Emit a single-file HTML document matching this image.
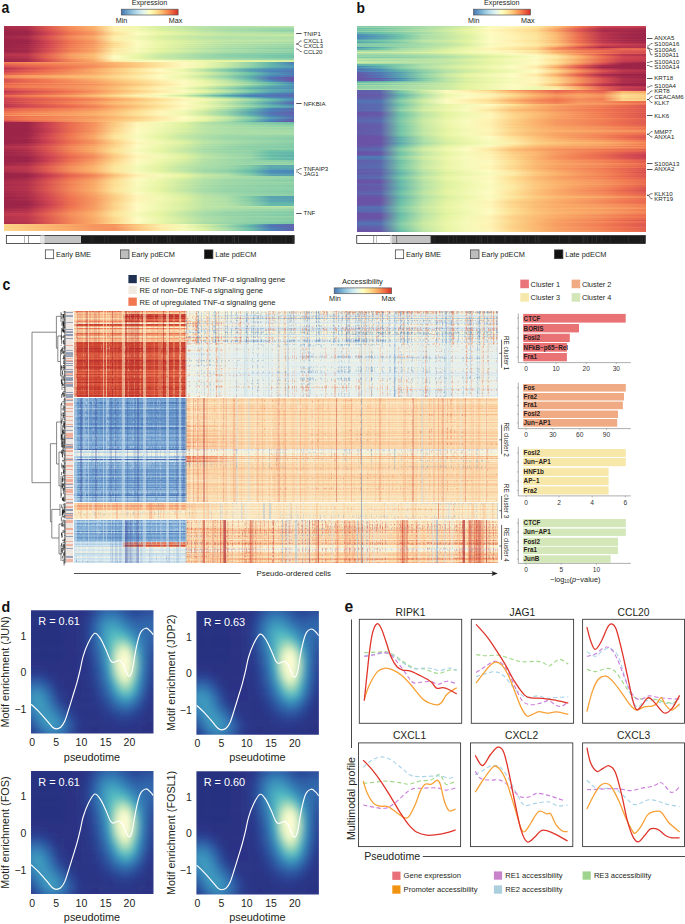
<!DOCTYPE html><html><head><meta charset="utf-8"><style>
html,body{margin:0;padding:0;background:#fff;width:685px;height:924px;overflow:hidden;position:relative}
svg{position:absolute;left:0;top:0;display:block;font-family:"Liberation Sans",sans-serif}
i{position:absolute;display:block}
.cr{left:73.6px;width:424px;height:1px}
</style></head><body>
<div style="position:absolute;left:0;top:0;width:685px;height:260px;filter:blur(0.35px)"><i style="left:4px;top:26px;width:290px;height:1px;background:linear-gradient(90deg,#aa2d4b 0%,#b2314c 8%,#de5a51 15%,#f5915d 23%,#fbb46d 31%,#fef1b1 38%,#eff7af 46%,#d4eea2 54%,#c2e7a5 62%,#bae3a6 69%,#b4e1a7 77%,#b7e2a6 85%,#bae4a6 92%,#bde5a6 100%)"></i><i style="left:4px;top:27px;width:290px;height:1px;background:linear-gradient(90deg,#a82c4b 0%,#b0304c 8%,#dd5951 15%,#f58f5c 23%,#fbb26c 31%,#fef1b1 38%,#f0f8b0 46%,#d5eea2 54%,#c3e7a5 62%,#b7e2a6 69%,#aedfa8 77%,#addfa8 85%,#addea8 92%,#acdea8 100%)"></i><i style="left:4px;top:28px;width:290px;height:1px;background:linear-gradient(90deg,#a4294a 0%,#ac2e4b 8%,#db5551 15%,#f48b5a 23%,#faae6a 31%,#feefad 38%,#f2f8b3 46%,#d9f0a2 54%,#c7e8a4 62%,#b6e2a7 69%,#a9dca8 77%,#a3daa8 85%,#9dd7a8 92%,#98d5a8 100%)"></i><i style="left:4px;top:29px;width:290px;height:1px;background:linear-gradient(90deg,#a12849 0%,#a92c4b 8%,#db5451 15%,#f48959 23%,#faac69 31%,#fef2b2 38%,#f1f8b2 46%,#d8efa2 54%,#c8e9a4 62%,#b6e2a7 69%,#aadda8 77%,#a4daa8 85%,#9ed8a8 92%,#98d5a8 100%)"></i><i style="left:4px;top:30px;width:290px;height:1px;background:linear-gradient(90deg,#9d2548 0%,#a52a4a 8%,#d74f51 15%,#f38357 23%,#f9a667 31%,#fdeeac 38%,#f4f9b6 46%,#def2a1 54%,#cdeba3 62%,#b8e3a6 69%,#a8dca8 77%,#9ed8a8 85%,#95d3a8 92%,#8bcfa8 100%)"></i><i style="left:4px;top:31px;width:290px;height:1px;background:linear-gradient(90deg,#9b2448 0%,#9e2649 8%,#d34952 15%,#f17b53 23%,#f79e63 31%,#fdeba6 38%,#f7fabb 46%,#e4f4a1 54%,#d4eea2 62%,#c0e6a5 69%,#b1e0a7 77%,#a9dda8 85%,#9fd8a8 92%,#96d4a8 100%)"></i><i style="left:4px;top:32px;width:290px;height:1px;background:linear-gradient(90deg,#9b2448 0%,#9d2548 8%,#d14652 15%,#f17952 23%,#f79b62 31%,#fde69f 38%,#f9fbbe 46%,#e7f5a4 54%,#d7efa2 62%,#c7e8a4 69%,#b9e3a6 77%,#b5e1a7 85%,#b0e0a7 92%,#abdea8 100%)"></i><i style="left:4px;top:33px;width:290px;height:1px;background:linear-gradient(90deg,#9b2448 0%,#9b2448 8%,#cb4051 15%,#ee7150 23%,#f5935e 31%,#fddf93 38%,#fefcc4 46%,#ebf6aa 54%,#dff2a1 62%,#ceeba3 69%,#c0e6a5 77%,#bbe4a6 85%,#b6e2a7 92%,#b1e0a7 100%)"></i><i style="left:4px;top:34px;width:290px;height:1px;background:linear-gradient(90deg,#9b2448 0%,#9e2649 8%,#d04652 15%,#f17952 23%,#f79b62 31%,#fde39a 38%,#fafbbf 46%,#e8f5a5 54%,#d8efa2 62%,#cbeaa4 69%,#c0e6a5 77%,#bee5a5 85%,#bce4a6 92%,#bbe4a6 100%)"></i><i style="left:4px;top:35px;width:290px;height:1px;background:linear-gradient(90deg,#9b2448 0%,#a3294a 8%,#d44b52 15%,#f27f55 23%,#f8a164 31%,#fde7a0 38%,#f7fabb 46%,#e5f4a1 54%,#d3eda2 62%,#c9e9a4 69%,#c2e7a5 77%,#c3e7a5 85%,#c5e8a4 92%,#c7e9a4 100%)"></i><i style="left:4px;top:36px;width:290px;height:1px;background:linear-gradient(90deg,#a4294a 0%,#ac2e4b 8%,#db5551 15%,#f48a5a 23%,#faad6a 31%,#feefad 38%,#f2f8b3 46%,#d9f0a2 54%,#c8e9a4 62%,#bde5a6 69%,#b5e2a7 77%,#b6e2a7 85%,#b6e2a7 92%,#b7e2a6 100%)"></i><i style="left:4px;top:37px;width:290px;height:1px;background:linear-gradient(90deg,#a22849 0%,#aa2d4b 8%,#da5351 15%,#f48859 23%,#faab69 31%,#feeeac 38%,#f3f8b4 46%,#dbf0a1 54%,#caeaa4 62%,#bde5a6 69%,#b4e1a7 77%,#b4e1a7 85%,#b3e1a7 92%,#b2e1a7 100%)"></i><i style="left:4px;top:38px;width:290px;height:1px;background:linear-gradient(90deg,#a02749 0%,#a82b4a 8%,#d85151 15%,#f38558 23%,#f9a868 31%,#fdedaa 38%,#f4f9b6 46%,#ddf1a1 54%,#cceba3 62%,#bee5a5 69%,#b4e1a7 77%,#b2e1a7 85%,#b1e0a7 92%,#afdfa8 100%)"></i><i style="left:4px;top:39px;width:290px;height:1px;background:linear-gradient(90deg,#9b2448 0%,#a32849 8%,#d64e52 15%,#f28156 23%,#f8a466 31%,#fdeeab 38%,#f5f9b7 46%,#e0f2a1 54%,#d0eca3 62%,#c2e7a5 69%,#b9e3a6 77%,#b7e2a6 85%,#b5e2a7 92%,#b3e1a7 100%)"></i><i style="left:4px;top:40px;width:290px;height:1px;background:linear-gradient(90deg,#9b2448 0%,#9d2548 8%,#d24852 15%,#f17a53 23%,#f79d63 31%,#fdeba7 38%,#f8fabb 46%,#e5f4a1 54%,#d6efa2 62%,#c9e9a4 69%,#c1e6a5 77%,#bfe6a5 85%,#bee5a5 92%,#bce4a6 100%)"></i><i style="left:4px;top:41px;width:290px;height:1px;background:linear-gradient(90deg,#9b2448 0%,#9b2448 8%,#ce4352 15%,#f07450 23%,#f69760 31%,#fde49b 38%,#fbfbc0 46%,#e9f5a6 54%,#dbf1a1 62%,#cceba3 69%,#c0e6a5 77%,#bde4a6 85%,#b9e3a6 92%,#b6e2a7 100%)"></i><i style="left:4px;top:42px;width:290px;height:1px;background:linear-gradient(90deg,#9b2448 0%,#9f2749 8%,#d14652 15%,#f17952 23%,#f79c62 31%,#fde298 38%,#fafbbf 46%,#e8f5a5 54%,#d7efa2 62%,#c6e8a4 69%,#b6e2a7 77%,#b0e0a7 85%,#abdda8 92%,#a4daa8 100%)"></i><i style="left:4px;top:43px;width:290px;height:1px;background:linear-gradient(90deg,#9b2448 0%,#9b2448 8%,#c93f51 15%,#ee7150 23%,#f5925e 31%,#fdd58b 38%,#fefac1 46%,#edf7ad 54%,#e0f2a1 62%,#d0eca3 69%,#c1e6a5 77%,#bce4a6 85%,#b7e2a6 92%,#b3e1a7 100%)"></i><i style="left:4px;top:44px;width:290px;height:1px;background:linear-gradient(90deg,#9e2649 0%,#a62a4a 8%,#d34a52 15%,#f27f55 23%,#f8a164 31%,#fde095 38%,#f9fbbd 46%,#e7f5a4 54%,#d2eda3 62%,#c1e6a5 69%,#afdfa8 77%,#a7dca8 85%,#9fd8a8 92%,#98d5a8 100%)"></i><i style="left:4px;top:45px;width:290px;height:1px;background:linear-gradient(90deg,#9b2448 0%,#a02749 8%,#cf4452 15%,#f17952 23%,#f79a61 31%,#fddb8f 38%,#fcfbc2 46%,#eaf6a9 54%,#d8efa2 62%,#c8e9a4 69%,#b7e2a6 77%,#b0dfa7 85%,#a9dda8 92%,#a2d9a8 100%)"></i><i style="left:4px;top:46px;width:290px;height:1px;background:linear-gradient(90deg,#9d2548 0%,#a4294a 8%,#d34952 15%,#f27e55 23%,#f8a064 31%,#fde297 38%,#f9fbbd 46%,#e7f5a4 54%,#d2eda3 62%,#c0e6a5 69%,#aedfa8 77%,#a5dba8 85%,#9cd7a8 92%,#94d3a8 100%)"></i><i style="left:4px;top:47px;width:290px;height:1px;background:linear-gradient(90deg,#9b2448 0%,#a22849 8%,#d14652 15%,#f17b53 23%,#f79d62 31%,#fddf93 38%,#fbfbbf 46%,#e9f5a6 54%,#d5eea2 62%,#c3e7a5 69%,#b1e0a7 77%,#a9dda8 85%,#a0d9a8 92%,#98d5a8 100%)"></i><i style="left:4px;top:48px;width:290px;height:1px;background:linear-gradient(90deg,#a02749 0%,#a82c4b 8%,#d75051 15%,#f38558 23%,#f9a767 31%,#fde9a4 38%,#f5f9b8 46%,#e1f3a0 54%,#cbeaa4 62%,#b7e2a6 69%,#a3daa8 77%,#99d5a8 85%,#8ed1a8 92%,#84cca8 100%)"></i><i style="left:4px;top:49px;width:290px;height:1px;background:linear-gradient(90deg,#9d2548 0%,#a52a4a 8%,#d64d52 15%,#f28256 23%,#f9a466 31%,#fde9a4 38%,#f6fab9 46%,#e3f3a0 54%,#cfeca3 62%,#bde5a6 69%,#addfa8 77%,#a6dba8 85%,#9ed8a8 92%,#97d4a8 100%)"></i><i style="left:4px;top:50px;width:290px;height:1px;background:linear-gradient(90deg,#9b2448 0%,#a12849 8%,#d34a52 15%,#f27d54 23%,#f8a064 31%,#fde7a0 38%,#f8fabb 46%,#e5f4a2 54%,#d3eda2 62%,#bfe6a5 69%,#afdfa8 77%,#a6dba8 85%,#9dd7a8 92%,#94d3a8 100%)"></i><i style="left:4px;top:51px;width:290px;height:1px;background:linear-gradient(90deg,#9c2548 0%,#a4294a 8%,#d64d52 15%,#f28156 23%,#f8a466 31%,#fdeaa5 38%,#f6f9b9 46%,#e2f3a0 54%,#cfeca3 62%,#bbe4a6 69%,#aadda8 77%,#a0d8a8 85%,#96d4a8 92%,#8ccfa8 100%)"></i><i style="left:4px;top:52px;width:290px;height:1px;background:linear-gradient(90deg,#a3294a 0%,#ab2d4b 8%,#da5451 15%,#f48a5a 23%,#faac69 31%,#feeead 38%,#f2f8b4 46%,#daf0a1 54%,#c8e9a4 62%,#b6e2a7 69%,#a7dca8 77%,#a1d9a8 85%,#9ad6a8 92%,#93d3a8 100%)"></i><i style="left:4px;top:53px;width:290px;height:1px;background:linear-gradient(90deg,#b0304c 0%,#b7354e 8%,#e15d51 15%,#f69760 23%,#fbb770 31%,#feefae 38%,#eef7ae 46%,#d2eda3 54%,#bce4a6 62%,#a8dca8 69%,#93d3a8 77%,#8acea8 85%,#80caa8 92%,#77c6a8 100%)"></i><i style="left:4px;top:54px;width:290px;height:1px;background:linear-gradient(90deg,#b7344d 0%,#bf394f 8%,#e56351 15%,#f89e63 23%,#fbbd75 31%,#fef1b1 38%,#ebf6aa 46%,#cdeba3 54%,#b6e2a7 62%,#a5dba8 69%,#92d2a8 77%,#8ccfa8 85%,#86cda8 92%,#80caa8 100%)"></i><i style="left:4px;top:55px;width:290px;height:1px;background:linear-gradient(90deg,#b6344d 0%,#bd384f 8%,#e66651 15%,#f8a064 23%,#fcbe77 31%,#fef8bc 38%,#e9f6a7 46%,#c7e9a4 54%,#b3e1a7 62%,#9ed8a8 69%,#8bcfa8 77%,#81cba8 85%,#78c7a8 92%,#6fc2a8 100%)"></i><i style="left:4px;top:56px;width:290px;height:1px;background:linear-gradient(90deg,#af304c 0%,#b8354e 8%,#e56351 15%,#f79b61 23%,#fbbb74 31%,#fefbc2 38%,#eaf6a8 46%,#c7e9a4 54%,#b7e2a6 62%,#a1d9a8 69%,#90d1a8 77%,#87cda8 85%,#7dc9a8 92%,#74c4a8 100%)"></i><i style="left:4px;top:57px;width:290px;height:1px;background:linear-gradient(90deg,#af304c 0%,#b7354e 8%,#e76651 15%,#f79d63 23%,#fcbe76 31%,#fafbbe 38%,#e6f5a3 46%,#c5e8a4 54%,#b4e1a7 62%,#9cd7a8 69%,#8fd1a8 77%,#86cda8 85%,#7dc8a8 92%,#73c4a8 100%)"></i><i style="left:4px;top:58px;width:290px;height:1px;background:linear-gradient(90deg,#a82c4b 0%,#b1314c 8%,#e25f51 15%,#f6955f 23%,#fbb771 31%,#fefcc4 38%,#eaf6a9 46%,#cceba3 54%,#bce4a6 62%,#a8dca8 69%,#9dd7a8 77%,#96d4a8 85%,#8ed1a8 92%,#87cda8 100%)"></i><i style="left:4px;top:59px;width:290px;height:1px;background:linear-gradient(90deg,#a12749 0%,#a92c4b 8%,#db5651 15%,#f4895a 23%,#faad6a 31%,#fef4b7 38%,#f0f8b1 46%,#d7efa2 54%,#c7e9a4 62%,#b4e1a7 69%,#a8dca8 77%,#a1d9a8 85%,#9ad6a8 92%,#93d3a8 100%)"></i><i style="left:4px;top:60px;width:290px;height:1px;background:linear-gradient(90deg,#a22849 0%,#a92c4b 8%,#d95351 15%,#f48859 23%,#faab69 31%,#feeead 38%,#f3f8b4 46%,#fafbbe 54%,#f1f8b3 62%,#e9f6a8 69%,#e2f3a0 77%,#ddf1a1 85%,#d7efa2 92%,#d2eda3 100%)"></i><i style="left:4px;top:61px;width:290px;height:1px;background:linear-gradient(90deg,#9e2649 0%,#a52a4a 8%,#d54c52 15%,#f28156 23%,#f8a365 31%,#fde7a0 38%,#f7faba 46%,#fefcc4 54%,#f5f9b7 62%,#edf7ad 69%,#e7f5a4 77%,#e5f4a1 85%,#e1f3a0 92%,#ddf1a1 100%)"></i><i style="left:4px;top:62px;width:290px;height:1px;background:linear-gradient(90deg,#f38357 0%,#f5905d 8%,#f6935e 15%,#f79b62 23%,#f8a365 31%,#fbb871 38%,#fccf85 46%,#fde8a2 54%,#fefac1 62%,#eef7ad 69%,#c8e9a4 77%,#95d3a8 85%,#64b6ab 92%,#4e7cb6 100%)"></i><i style="left:4px;top:63px;width:290px;height:1px;background:linear-gradient(90deg,#ed6f50 0%,#f27e54 8%,#f38457 15%,#f58f5c 23%,#f79a61 31%,#fbb36d 38%,#fccb82 46%,#fde69f 54%,#fef9bf 62%,#eef7ae 69%,#c8e9a4 77%,#94d3a8 85%,#64b6ab 92%,#4a83b9 100%)"></i><i style="left:4px;top:64px;width:290px;height:1px;background:linear-gradient(90deg,#e56351 0%,#ef7250 8%,#f17b53 15%,#f48959 23%,#f69660 31%,#fbb26c 38%,#fccb82 46%,#fde69f 54%,#fef9bf 62%,#edf7ad 69%,#c7e9a4 77%,#94d3a8 85%,#65b7ab 92%,#4b8bb8 100%)"></i><i style="left:4px;top:65px;width:290px;height:1px;background:linear-gradient(90deg,#de5a51 0%,#e96a50 8%,#f07350 15%,#f38357 23%,#f5925e 31%,#faaf6b 38%,#fcc980 46%,#fde59d 54%,#fef8bd 62%,#eef7ae 69%,#c8e9a4 77%,#95d3a8 85%,#65b7ab 92%,#4c8db8 100%)"></i><i style="left:4px;top:66px;width:290px;height:1px;background:linear-gradient(90deg,#d64e52 0%,#e26051 8%,#e96a50 15%,#f17952 23%,#f48b5a 31%,#faaa68 38%,#fcc77f 46%,#fde59c 54%,#fef8bd 62%,#edf7ad 69%,#c7e9a4 77%,#94d3a8 85%,#66b9aa 92%,#569eb2 100%)"></i><i style="left:4px;top:67px;width:290px;height:1px;background:linear-gradient(90deg,#ce4252 0%,#dd5851 8%,#e86850 15%,#f17c54 23%,#f6955f 31%,#fbb56f 38%,#fcd288 46%,#fdeba8 54%,#fbfbc0 62%,#e6f5a3 69%,#b7e2a6 77%,#82cba8 85%,#5eabae 92%,#5297b5 100%)"></i><i style="left:4px;top:68px;width:290px;height:1px;background:linear-gradient(90deg,#b7354e 0%,#d34952 8%,#e25f51 15%,#f17a53 23%,#f79d62 31%,#fcc078 38%,#fdde93 46%,#fef3b5 54%,#f3f9b5 62%,#d1eda3 69%,#9cd7a8 77%,#66baaa 85%,#5398b4 92%,#4987ba 100%)"></i><i style="left:4px;top:69px;width:290px;height:1px;background:linear-gradient(90deg,#c63d50 0%,#dc5651 8%,#ea6b50 15%,#f38759 23%,#faab69 31%,#fcca81 38%,#fde8a1 46%,#fdfcc3 54%,#e8f5a6 62%,#b7e2a6 69%,#7bc8a8 77%,#569db3 85%,#4c8db8 92%,#4b81b8 100%)"></i><i style="left:4px;top:70px;width:290px;height:1px;background:linear-gradient(90deg,#d04452 0%,#e15d51 8%,#ed6f50 15%,#f48959 23%,#f9a867 31%,#fcc67d 38%,#fde49b 46%,#fef9bf 54%,#ecf7ac 62%,#bee5a5 69%,#82cba8 77%,#58a1b2 85%,#4988b9 92%,#507ab5 100%)"></i><i style="left:4px;top:71px;width:290px;height:1px;background:linear-gradient(90deg,#cc4152 0%,#df5b51 8%,#ed6f50 15%,#f48b5b 23%,#faac69 31%,#fcca81 38%,#fde69e 46%,#fefac1 54%,#edf7ac 62%,#c1e6a5 69%,#85cca8 77%,#5aa4b1 85%,#4a83b9 92%,#5473b3 100%)"></i><i style="left:4px;top:72px;width:290px;height:1px;background:linear-gradient(90deg,#d75051 0%,#e76751 8%,#f17751 15%,#f58f5c 23%,#f9a868 31%,#fcc47c 38%,#fde095 46%,#fef4b6 54%,#f3f9b5 62%,#d6eea2 69%,#a2d9a8 77%,#69bfa8 85%,#4f92b6 92%,#4f7cb6 100%)"></i><i style="left:4px;top:73px;width:290px;height:1px;background:linear-gradient(90deg,#e15e51 0%,#ef7250 8%,#f28156 15%,#f6965f 23%,#faaa69 31%,#fcc47c 38%,#fddf93 46%,#fef2b4 54%,#f5f9b8 62%,#dcf1a1 69%,#aadda8 77%,#71c3a8 85%,#5298b4 92%,#5276b4 100%)"></i><i style="left:4px;top:74px;width:290px;height:1px;background:linear-gradient(90deg,#e36051 0%,#f07651 8%,#f38658 15%,#f79c62 23%,#fbb26c 31%,#fccb82 38%,#fde49b 46%,#fef8bd 54%,#f0f8b1 62%,#d2eda3 69%,#a2d9a8 77%,#6cc1a8 85%,#5398b4 92%,#4984b9 100%)"></i><i style="left:4px;top:75px;width:290px;height:1px;background:linear-gradient(90deg,#f38759 0%,#f79961 8%,#f8a265 15%,#fbb06b 23%,#fbbc74 31%,#fcd187 38%,#fde8a2 46%,#fefcc3 54%,#edf7ac 62%,#caeaa4 69%,#95d4a8 77%,#64b5ab 85%,#4a8ab9 92%,#5474b3 100%)"></i><i style="left:4px;top:76px;width:290px;height:1px;background:linear-gradient(90deg,#f48d5b 0%,#f8a064 8%,#faaa68 15%,#fbb770 23%,#fcc27a 31%,#fdd88d 38%,#fdeca9 46%,#fafbbf 54%,#e9f5a6 62%,#c2e6a5 69%,#8dd0a8 77%,#60afad 85%,#4985ba 92%,#5572b2 100%)"></i><i style="left:4px;top:77px;width:290px;height:1px;background:linear-gradient(90deg,#f38658 0%,#f79961 8%,#f8a365 15%,#fbb26c 23%,#fcbe76 31%,#fcd489 38%,#fde9a4 46%,#fdfcc3 54%,#ebf6aa 62%,#c8e9a4 69%,#94d3a8 77%,#5da9af 85%,#596cb0 92%,#6a52a6 100%)"></i><i style="left:4px;top:78px;width:290px;height:1px;background:linear-gradient(90deg,#e86950 0%,#f27f55 8%,#f58f5c 15%,#f8a365 23%,#fbb66f 31%,#fcce84 38%,#fde59d 46%,#fef8be 54%,#f0f8b0 62%,#d3eda2 69%,#a1d9a8 77%,#63b4ac 85%,#5375b3 92%,#6a52a6 100%)"></i><i style="left:4px;top:79px;width:290px;height:1px;background:linear-gradient(90deg,#db5651 0%,#eb6d50 8%,#f27e54 15%,#f6965f 23%,#faad6a 31%,#fcc77e 38%,#fde195 46%,#fef4b6 54%,#f4f9b6 62%,#dcf1a1 69%,#abdea8 77%,#67bba9 85%,#507ab5 92%,#6a52a6 100%)"></i><i style="left:4px;top:80px;width:290px;height:1px;background:linear-gradient(90deg,#da5451 0%,#e96a50 8%,#f17b53 15%,#f5915d 23%,#f9a868 31%,#fcc27a 38%,#fdda8e 46%,#feefad 54%,#f9fbbd 62%,#e7f5a4 69%,#bae3a6 77%,#76c5a8 85%,#4987ba 92%,#6a52a6 100%)"></i><i style="left:4px;top:81px;width:290px;height:1px;background:linear-gradient(90deg,#da5351 0%,#e86850 8%,#f07651 15%,#f48a5a 23%,#f89f64 31%,#fbbb73 38%,#fcd389 46%,#fdeba7 54%,#fdfcc2 62%,#ebf6a9 69%,#c3e7a5 77%,#82cba8 85%,#5093b6 92%,#615fab 100%)"></i><i style="left:4px;top:82px;width:290px;height:1px;background:linear-gradient(90deg,#dd5951 0%,#ea6c50 8%,#f17852 15%,#f48b5a 23%,#f79e63 31%,#fbb972 38%,#fcd288 46%,#fdeaa6 54%,#fdfcc3 62%,#ebf6aa 69%,#c5e8a4 77%,#94d3a8 85%,#66baaa 92%,#4d8eb7 100%)"></i><i style="left:4px;top:83px;width:290px;height:1px;background:linear-gradient(90deg,#f07450 0%,#f38457 8%,#f48a5a 15%,#f6945f 23%,#f89f64 31%,#fbb670 38%,#fccf85 46%,#fde8a2 54%,#fefbc2 62%,#edf7ac 69%,#c7e9a4 77%,#95d3a8 85%,#65b8ab 92%,#4885ba 100%)"></i><i style="left:4px;top:84px;width:290px;height:1px;background:linear-gradient(90deg,#e36051 0%,#ec6e50 8%,#f07550 15%,#f28256 23%,#f58e5c 31%,#f9a968 38%,#fcc47c 46%,#fde298 54%,#fef5b8 62%,#f2f8b4 69%,#d4eea2 77%,#a6dba8 85%,#74c4a8 92%,#579fb2 100%)"></i><i style="left:4px;top:85px;width:290px;height:1px;background:linear-gradient(90deg,#f07450 0%,#f28256 8%,#f38759 15%,#f5915d 23%,#f79b62 31%,#fbb46e 38%,#fccf85 46%,#fde9a4 54%,#fefcc4 62%,#eaf6a9 69%,#c1e6a5 77%,#8ed0a8 85%,#63b4ac 92%,#5093b6 100%)"></i><i style="left:4px;top:86px;width:290px;height:1px;background:linear-gradient(90deg,#ec6e50 0%,#f27d54 8%,#f38457 15%,#f5905d 23%,#f79e63 31%,#fbb871 38%,#fdd58b 46%,#fdeeab 54%,#f9fbbd 62%,#e1f3a0 69%,#afdfa8 77%,#77c6a8 85%,#59a4b1 92%,#4e91b7 100%)"></i><i style="left:4px;top:87px;width:290px;height:1px;background:linear-gradient(90deg,#ed6f50 0%,#f27f55 8%,#f38758 15%,#f5935e 23%,#f8a365 31%,#fbbc75 38%,#fddc91 46%,#fef2b3 54%,#f4f9b6 62%,#d3eda2 69%,#9ed8a8 77%,#68bda9 85%,#58a1b2 92%,#4f93b6 100%)"></i><i style="left:4px;top:88px;width:290px;height:1px;background:linear-gradient(90deg,#db5651 0%,#e96950 8%,#f07651 15%,#f48a5a 23%,#f8a265 31%,#fcbf78 38%,#fde095 46%,#fef5b8 54%,#f0f8b1 62%,#c9e9a4 69%,#90d1a8 77%,#61b0ad 85%,#539ab4 92%,#4b8cb8 100%)"></i><i style="left:4px;top:89px;width:290px;height:1px;background:linear-gradient(90deg,#da5351 0%,#e76751 8%,#f07350 15%,#f38759 23%,#f89f63 31%,#fbbc75 38%,#fddc91 46%,#fef2b3 54%,#f4f9b7 62%,#d6efa2 69%,#a5dba8 77%,#71c3a8 85%,#5fadae 92%,#58a1b2 100%)"></i><i style="left:4px;top:90px;width:290px;height:1px;background:linear-gradient(90deg,#d14752 0%,#df5b51 8%,#e86950 15%,#f17c53 23%,#f6935e 31%,#fbb46e 38%,#fcd288 46%,#fdeca8 54%,#fbfbbf 62%,#e4f4a0 69%,#b2e0a7 77%,#7bc8a8 85%,#5eabaf 92%,#549ab4 100%)"></i><i style="left:4px;top:91px;width:290px;height:1px;background:linear-gradient(90deg,#bf394f 0%,#d54d52 8%,#e25f51 15%,#f07450 23%,#f5915d 31%,#fbb46e 38%,#fcd187 46%,#fdeba6 54%,#fcfbc1 62%,#e6f5a3 69%,#b7e2a6 77%,#81caa8 85%,#5daaaf 92%,#5195b5 100%)"></i><i style="left:4px;top:92px;width:290px;height:1px;background:linear-gradient(90deg,#c33b50 0%,#d75051 8%,#e36151 15%,#f07751 23%,#f6935e 31%,#fbb66f 38%,#fcd48a 46%,#fdedab 54%,#f9fbbd 62%,#dff2a1 69%,#abdda8 77%,#71c3a8 85%,#58a2b1 92%,#4e90b7 100%)"></i><i style="left:4px;top:93px;width:290px;height:1px;background:linear-gradient(90deg,#d04452 0%,#e05d51 8%,#ec6e50 15%,#f38758 23%,#f9a566 31%,#fcc37b 38%,#fde298 46%,#fef7bb 54%,#eff7af 62%,#c2e7a5 69%,#84cca8 77%,#58a1b2 85%,#4b82b8 92%,#5671b2 100%)"></i><i style="left:4px;top:94px;width:290px;height:1px;background:linear-gradient(90deg,#d14652 0%,#e15e51 8%,#ed7050 15%,#f4895a 23%,#f9a968 31%,#fcc77e 38%,#fde69e 46%,#fefbc2 54%,#e9f6a7 62%,#b5e2a7 69%,#74c5a8 77%,#5093b6 85%,#4b81b8 92%,#5572b2 100%)"></i><i style="left:4px;top:95px;width:290px;height:1px;background:linear-gradient(90deg,#e86850 0%,#f27e54 8%,#f58f5c 15%,#f9a466 23%,#fcbe76 31%,#fddb90 38%,#fef3b5 46%,#f1f8b2 54%,#caeaa4 62%,#88cea8 69%,#579fb2 77%,#4d7eb7 85%,#5572b2 92%,#5d66ae 100%)"></i><i style="left:4px;top:96px;width:290px;height:1px;background:linear-gradient(90deg,#e26051 0%,#f07550 8%,#f38758 15%,#f79c62 23%,#fbb770 31%,#fcd187 38%,#fdeca9 46%,#f9fabd 54%,#e0f2a1 62%,#a4daa8 69%,#66b9aa 77%,#4887ba 85%,#5079b5 92%,#596cb0 100%)"></i><i style="left:4px;top:97px;width:290px;height:1px;background:linear-gradient(90deg,#d95351 0%,#e76751 8%,#f07450 15%,#f48859 23%,#f89f63 31%,#fbbd75 38%,#fddb90 46%,#fef1b2 54%,#f5f9b7 62%,#d1eda3 69%,#97d5a8 77%,#62b2ac 85%,#4b8bb8 92%,#5178b5 100%)"></i><i style="left:4px;top:98px;width:290px;height:1px;background:linear-gradient(90deg,#d04452 0%,#de5951 8%,#e76651 15%,#f17852 23%,#f58e5c 31%,#faaf6b 38%,#fccc82 46%,#fde7a0 54%,#fefbc2 62%,#e9f6a7 69%,#bbe4a6 77%,#83cba8 85%,#5ba6b0 92%,#4a8ab9 100%)"></i><i style="left:4px;top:99px;width:290px;height:1px;background:linear-gradient(90deg,#cf4352 0%,#dc5651 8%,#e46251 15%,#ef7250 23%,#f38558 31%,#f8a365 38%,#fcc078 46%,#fddf93 54%,#fef2b3 62%,#f4f9b6 69%,#d4eea2 77%,#a3daa8 85%,#6dc1a8 92%,#4f91b6 100%)"></i><i style="left:4px;top:100px;width:290px;height:1px;background:linear-gradient(90deg,#cb4051 0%,#db5551 8%,#e46251 15%,#ef7350 23%,#f48859 31%,#f9a767 38%,#fcc27a 46%,#fde195 54%,#fef4b6 62%,#f2f8b4 69%,#d1eca3 77%,#9dd7a8 85%,#68bda9 92%,#4b8bb9 100%)"></i><i style="left:4px;top:101px;width:290px;height:1px;background:linear-gradient(90deg,#d24752 0%,#e15e51 8%,#eb6c50 15%,#f28156 23%,#f69860 31%,#fbb66f 38%,#fcce84 46%,#fde7a1 54%,#fefac1 62%,#ecf6ab 69%,#c2e7a5 77%,#8ccfa8 85%,#5fadae 92%,#5277b4 100%)"></i><i style="left:4px;top:102px;width:290px;height:1px;background:linear-gradient(90deg,#c43c50 0%,#d95351 8%,#e66651 15%,#f27e55 23%,#f79a61 31%,#fbb972 38%,#fcd086 46%,#fde9a3 54%,#fefcc4 62%,#eaf6a9 69%,#bde5a6 77%,#84cca8 85%,#59a4b1 92%,#5a6aaf 100%)"></i><i style="left:4px;top:103px;width:290px;height:1px;background:linear-gradient(90deg,#ce4252 0%,#df5b51 8%,#eb6d50 15%,#f38457 23%,#f79e63 31%,#fbbc74 38%,#fcd489 46%,#fdeba7 54%,#fcfbc1 62%,#e7f5a5 69%,#b6e2a7 77%,#7ac7a8 85%,#549bb4 92%,#5e65ad 100%)"></i><i style="left:4px;top:104px;width:290px;height:1px;background:linear-gradient(90deg,#bb374e 0%,#d44a52 8%,#e15d51 15%,#f07450 23%,#f5905d 31%,#fbb36d 38%,#fccc82 46%,#fde79f 54%,#fefac0 62%,#ecf6ab 69%,#c1e6a5 77%,#89cea8 85%,#5daaaf 92%,#4f7bb6 100%)"></i><i style="left:4px;top:105px;width:290px;height:1px;background:linear-gradient(90deg,#c03a4f 0%,#d54c52 8%,#e05d51 15%,#ee7150 23%,#f4895a 31%,#faac69 38%,#fcc87f 46%,#fde59c 54%,#fef8bd 62%,#edf7ad 69%,#c4e8a5 77%,#8fd1a8 85%,#61b1ad 92%,#4b8cb8 100%)"></i><i style="left:4px;top:106px;width:290px;height:1px;background:linear-gradient(90deg,#b8354e 0%,#cf4452 8%,#da5451 15%,#e76751 23%,#f27d54 31%,#f89f64 38%,#fcbf77 46%,#fddf93 54%,#fef3b4 62%,#f2f8b3 69%,#cfeca3 77%,#9dd7a8 85%,#69bea8 92%,#569eb2 100%)"></i><i style="left:4px;top:107px;width:290px;height:1px;background:linear-gradient(90deg,#ce4252 0%,#db5551 8%,#e36151 15%,#ee7150 23%,#f38759 31%,#f9a867 38%,#fcc87f 46%,#fde69e 54%,#fefac0 62%,#e8f5a6 69%,#b8e3a6 77%,#7fcaa8 85%,#5eabaf 92%,#5296b5 100%)"></i><i style="left:4px;top:108px;width:290px;height:1px;background:linear-gradient(90deg,#db5551 0%,#e66651 8%,#ed6f50 15%,#f27e54 23%,#f5905d 31%,#faae6a 38%,#fccd83 46%,#fde8a2 54%,#fefcc4 62%,#e7f5a4 69%,#b6e2a7 77%,#70c3a8 85%,#4887ba 92%,#586eb1 100%)"></i><i style="left:4px;top:109px;width:290px;height:1px;background:linear-gradient(90deg,#e56451 0%,#ef7250 8%,#f17a53 15%,#f38859 23%,#f69860 31%,#fbb56e 38%,#fcd48a 46%,#fdedab 54%,#f9fabc 62%,#daf0a1 69%,#a4daa8 77%,#62b3ac 85%,#4c7fb7 92%,#5b69af 100%)"></i><i style="left:4px;top:110px;width:290px;height:1px;background:linear-gradient(90deg,#e36151 0%,#ee7050 8%,#f17b53 15%,#f48a5a 23%,#f79d63 31%,#fbb972 38%,#fdda8e 46%,#fef1b1 54%,#f5f9b8 62%,#d5eea2 69%,#a0d9a8 77%,#62b2ac 85%,#4a82b9 92%,#576fb1 100%)"></i><i style="left:4px;top:111px;width:290px;height:1px;background:linear-gradient(90deg,#ed6f50 0%,#f27f55 8%,#f48859 15%,#f6955f 23%,#f9a666 31%,#fcbf77 38%,#fde094 46%,#fef5b7 54%,#f1f8b2 62%,#cbeaa4 69%,#94d3a8 77%,#5ba7b0 85%,#4f7bb6 92%,#5b69af 100%)"></i><i style="left:4px;top:112px;width:290px;height:1px;background:linear-gradient(90deg,#ef7250 0%,#f38357 8%,#f48c5b 15%,#f79961 23%,#faaa68 31%,#fcc27a 38%,#fde196 46%,#fef6b9 54%,#f0f8b1 62%,#c9e9a4 69%,#91d2a8 77%,#59a3b1 85%,#5474b3 92%,#6160ab 100%)"></i><i style="left:4px;top:113px;width:290px;height:1px;background:linear-gradient(90deg,#f38658 0%,#f6935e 8%,#f69961 15%,#f8a265 23%,#faaf6a 31%,#fcc47b 38%,#fde297 46%,#fef6ba 54%,#f1f8b2 62%,#cceba3 69%,#96d4a8 77%,#5ca9af 85%,#5474b3 92%,#615fab 100%)"></i><i style="left:4px;top:114px;width:290px;height:1px;background:linear-gradient(90deg,#ef7350 0%,#f38558 8%,#f58f5c 15%,#f79d63 23%,#faaf6a 31%,#fcc67d 38%,#fde39a 46%,#fef8bd 54%,#eff7af 62%,#c9e9a4 69%,#94d3a8 77%,#5da9af 85%,#4f7bb6 92%,#5b69af 100%)"></i><i style="left:4px;top:115px;width:290px;height:1px;background:linear-gradient(90deg,#f69760 0%,#f8a164 8%,#f8a164 15%,#f9a667 23%,#faad6a 31%,#fcc179 38%,#fdde93 46%,#fef3b5 54%,#f4f9b6 62%,#d7efa2 69%,#a4daa8 77%,#64b6ab 85%,#4e7db7 92%,#5c67ae 100%)"></i><i style="left:4px;top:116px;width:290px;height:1px;background:linear-gradient(90deg,#e46251 0%,#ef7250 8%,#f27d54 15%,#f48d5b 23%,#f79d63 31%,#fbb972 38%,#fdd58a 46%,#fdedaa 54%,#fafbbf 62%,#e5f4a2 69%,#b6e2a7 77%,#73c4a8 85%,#4987ba 92%,#596cb0 100%)"></i><i style="left:4px;top:117px;width:290px;height:1px;background:linear-gradient(90deg,#ed6f50 0%,#f27e55 8%,#f38557 15%,#f5905c 23%,#f79b62 31%,#fbb56e 38%,#fccf86 46%,#fde9a4 54%,#fefcc4 62%,#ecf6ab 69%,#c7e9a4 77%,#8acfa8 85%,#569eb3 92%,#507ab5 100%)"></i><i style="left:4px;top:118px;width:290px;height:1px;background:linear-gradient(90deg,#e76751 0%,#f17751 8%,#f28156 15%,#f58f5c 23%,#f79e63 31%,#fbb871 38%,#fcd287 46%,#fdeaa6 54%,#fdfcc3 62%,#ebf6aa 69%,#c5e8a4 77%,#88cea8 85%,#549bb3 92%,#5572b2 100%)"></i><i style="left:4px;top:119px;width:290px;height:1px;background:linear-gradient(90deg,#ea6b50 0%,#f17c54 8%,#f38759 15%,#f69660 23%,#f9a666 31%,#fcbe76 38%,#fdd78c 46%,#fdeeab 54%,#fafbbe 62%,#e7f5a5 69%,#bce4a6 77%,#7ac7a8 85%,#4c8db8 92%,#6061ac 100%)"></i><i style="left:4px;top:120px;width:290px;height:1px;background:linear-gradient(90deg,#de5951 0%,#eb6d50 8%,#f17c54 15%,#f5905d 23%,#f9a566 31%,#fcbf78 38%,#fdd98e 46%,#feefad 54%,#f9fabd 62%,#e6f5a3 69%,#b8e3a6 77%,#74c5a8 85%,#4887ba 92%,#655aa9 100%)"></i><i style="left:4px;top:121px;width:290px;height:1px;background:linear-gradient(90deg,#cf4352 0%,#e15e51 8%,#ef7250 15%,#f58f5c 23%,#faad6a 31%,#fcc980 38%,#fde298 46%,#fef5b8 54%,#f3f9b4 62%,#d9efa2 69%,#a6dba8 77%,#65b8ab 85%,#5277b4 92%,#6a52a6 100%)"></i><i style="left:4px;top:122px;width:290px;height:1px;background:linear-gradient(90deg,#9b2448 0%,#9b2448 8%,#c83e51 15%,#ea6c50 23%,#f5915d 31%,#fcc77f 38%,#fef3b4 46%,#f3f9b5 54%,#e1f3a0 62%,#b8e3a6 69%,#9ed8a8 77%,#87cda8 85%,#77c6a8 92%,#69bea9 100%)"></i><i style="left:4px;top:123px;width:290px;height:1px;background:linear-gradient(90deg,#9b2448 0%,#9d2548 8%,#c93f51 15%,#eb6d50 23%,#f5925e 31%,#fcc980 38%,#fef4b6 46%,#f2f8b4 54%,#dff2a1 62%,#b9e3a6 69%,#a3daa8 77%,#8fd1a8 85%,#82cba8 92%,#75c5a8 100%)"></i><i style="left:4px;top:124px;width:290px;height:1px;background:linear-gradient(90deg,#9b2448 0%,#9c2548 8%,#ca4051 15%,#ec6d50 23%,#f6945e 31%,#fccc83 38%,#fef7bb 46%,#f1f8b2 54%,#ddf1a1 62%,#b8e3a6 69%,#a4dba8 77%,#94d3a8 85%,#89cea8 92%,#7ec9a8 100%)"></i><i style="left:4px;top:125px;width:290px;height:1px;background:linear-gradient(90deg,#9b2448 0%,#9f2649 8%,#cb4051 15%,#eb6d50 23%,#f5925e 31%,#fcc980 38%,#fef4b7 46%,#f2f8b4 54%,#e1f3a0 62%,#bee5a5 69%,#aedfa8 77%,#a1d9a8 85%,#99d5a8 92%,#91d2a8 100%)"></i><i style="left:4px;top:126px;width:290px;height:1px;background:linear-gradient(90deg,#9b2448 0%,#9c2548 8%,#ca4051 15%,#ec6e50 23%,#f6955f 31%,#fccd84 38%,#fef8bc 46%,#f0f8b1 54%,#dcf1a1 62%,#bbe4a6 69%,#aadda8 77%,#9dd7a8 85%,#95d4a8 92%,#8dd0a8 100%)"></i><i style="left:4px;top:127px;width:290px;height:1px;background:linear-gradient(90deg,#9b2448 0%,#9d2548 8%,#cc4152 15%,#ec6e50 23%,#f6945e 31%,#fcce84 38%,#fef8bc 46%,#f0f8b1 54%,#ddf1a1 62%,#c0e6a5 69%,#b2e0a7 77%,#aadda8 85%,#a6dba8 92%,#a1d9a8 100%)"></i><i style="left:4px;top:128px;width:290px;height:1px;background:linear-gradient(90deg,#9b2448 0%,#9b2448 8%,#c73e51 15%,#eb6c50 23%,#f6965f 31%,#fcd288 38%,#fefac0 46%,#eef7ae 54%,#d7efa2 62%,#bae4a6 69%,#abdea8 77%,#a2daa8 85%,#9dd7a8 92%,#97d4a8 100%)"></i><i style="left:4px;top:129px;width:290px;height:1px;background:linear-gradient(90deg,#9b2448 0%,#9b2448 8%,#c73e51 15%,#ea6c50 23%,#f6955f 31%,#fcd187 38%,#fef9bf 46%,#eff7af 54%,#d9f0a2 62%,#bde5a6 69%,#afdfa8 77%,#a9dda8 85%,#a5dba8 92%,#a1d9a8 100%)"></i><i style="left:4px;top:130px;width:290px;height:1px;background:linear-gradient(90deg,#9b2448 0%,#9b2448 8%,#c63d50 15%,#eb6d50 23%,#f69860 31%,#fdd58a 38%,#fefbc3 46%,#edf7ac 54%,#d5eea2 62%,#bae4a6 69%,#addea8 77%,#a7dca8 85%,#a4dba8 92%,#a2d9a8 100%)"></i><i style="left:4px;top:131px;width:290px;height:1px;background:linear-gradient(90deg,#9b2448 0%,#9b2448 8%,#c43c50 15%,#e96a50 23%,#f5935e 31%,#fcd086 38%,#fef9be 46%,#eff7b0 54%,#dbf0a1 62%,#c0e6a5 69%,#b3e1a7 77%,#addfa8 85%,#abdda8 92%,#a8dca8 100%)"></i><i style="left:4px;top:132px;width:290px;height:1px;background:linear-gradient(90deg,#9b2448 0%,#9b2448 8%,#c73e51 15%,#ec6e50 23%,#f79b62 31%,#fdd98e 38%,#fdfcc2 46%,#ebf6a9 54%,#d0eca3 62%,#b8e3a6 69%,#abdea8 77%,#a8dca8 85%,#a6dba8 92%,#a4daa8 100%)"></i><i style="left:4px;top:133px;width:290px;height:1px;background:linear-gradient(90deg,#9b2448 0%,#9e2649 8%,#d04552 15%,#f07651 23%,#f8a164 31%,#fddd91 38%,#fbfbc0 46%,#e9f5a6 54%,#cdeba3 62%,#b8e3a6 69%,#afdfa8 77%,#afdfa8 85%,#b0e0a7 92%,#b2e0a7 100%)"></i><i style="left:4px;top:134px;width:290px;height:1px;background:linear-gradient(90deg,#9b2448 0%,#9b2448 8%,#ce4352 15%,#f07450 23%,#f8a064 31%,#fddd92 38%,#fbfbc0 46%,#e9f5a7 54%,#cceba3 62%,#b5e2a7 69%,#a7dca8 77%,#a5dba8 85%,#a2daa8 92%,#a0d9a8 100%)"></i><i style="left:4px;top:135px;width:290px;height:1px;background:linear-gradient(90deg,#9b2448 0%,#9b2448 8%,#d04552 15%,#f07751 23%,#f9a767 31%,#fde399 38%,#f8fabc 46%,#e6f5a3 54%,#c5e8a4 62%,#b0dfa7 69%,#a1d9a8 77%,#9ed8a8 85%,#9ad6a8 92%,#97d4a8 100%)"></i><i style="left:4px;top:136px;width:290px;height:1px;background:linear-gradient(90deg,#9b2448 0%,#9e2649 8%,#d24752 15%,#f17952 23%,#f9a868 31%,#fde399 38%,#f8fabb 46%,#e5f4a2 54%,#c4e7a5 62%,#aedfa8 69%,#9fd8a8 77%,#9ad6a8 85%,#96d4a8 92%,#92d2a8 100%)"></i><i style="left:4px;top:137px;width:290px;height:1px;background:linear-gradient(90deg,#9b2448 0%,#9f2649 8%,#d24852 15%,#f17852 23%,#f9a868 31%,#fde39a 38%,#f8fabc 46%,#e6f5a3 54%,#c4e8a5 62%,#aedfa8 69%,#9fd8a8 77%,#99d5a8 85%,#93d3a8 92%,#8dd0a8 100%)"></i><i style="left:4px;top:138px;width:290px;height:1px;background:linear-gradient(90deg,#9c2448 0%,#a72b4a 8%,#d54d52 15%,#f17c54 23%,#f9a867 31%,#fde297 38%,#f9fabd 46%,#e6f5a3 54%,#c6e8a4 62%,#addea8 69%,#9ad6a8 77%,#93d3a8 85%,#8ccfa8 92%,#85cca8 100%)"></i><i style="left:4px;top:139px;width:290px;height:1px;background:linear-gradient(90deg,#9b2448 0%,#9b2448 8%,#ce4252 15%,#ee7250 23%,#f79c62 31%,#fdda8f 38%,#fdfcc2 46%,#ebf6a9 54%,#cfeca3 62%,#b5e1a7 69%,#a2d9a8 77%,#9bd6a8 85%,#94d3a8 92%,#8dd0a8 100%)"></i><i style="left:4px;top:140px;width:290px;height:1px;background:linear-gradient(90deg,#9b2448 0%,#9d2548 8%,#ce4252 15%,#ee7150 23%,#f69961 31%,#fcd48a 38%,#fefbc2 46%,#edf7ac 54%,#d5eea2 62%,#b8e3a6 69%,#a6dba8 77%,#9cd7a8 85%,#94d3a8 92%,#8dd0a8 100%)"></i><i style="left:4px;top:141px;width:290px;height:1px;background:linear-gradient(90deg,#9b2448 0%,#9b2448 8%,#cb4051 15%,#ec6e50 23%,#f6955f 31%,#fcd086 38%,#fef9be 46%,#eff7af 54%,#daf0a1 62%,#bce4a6 69%,#abdea8 77%,#a2d9a8 85%,#9bd6a8 92%,#94d3a8 100%)"></i><i style="left:4px;top:142px;width:290px;height:1px;background:linear-gradient(90deg,#9b2448 0%,#9d2548 8%,#cb4051 15%,#ec6e50 23%,#f6935e 31%,#fccd83 38%,#fef7bc 46%,#f1f8b2 54%,#ddf1a1 62%,#bce4a6 69%,#abdda8 77%,#9ed8a8 85%,#95d4a8 92%,#8dd0a8 100%)"></i><i style="left:4px;top:143px;width:290px;height:1px;background:linear-gradient(90deg,#9e2649 0%,#a72b4a 8%,#d04552 15%,#ef7250 23%,#f6965f 31%,#fccb82 38%,#fef5b8 46%,#f1f8b3 54%,#def2a1 62%,#bbe4a6 69%,#a9dda8 77%,#9ad6a8 85%,#91d2a8 92%,#88cea8 100%)"></i><i style="left:4px;top:144px;width:290px;height:1px;background:linear-gradient(90deg,#a62a4a 0%,#af304c 8%,#d64d52 15%,#f17c53 23%,#f8a064 31%,#fcd388 38%,#fefac1 46%,#edf7ac 54%,#d5eea2 62%,#b2e0a7 69%,#a0d9a8 77%,#92d2a8 85%,#8acea8 92%,#82cba8 100%)"></i><i style="left:4px;top:145px;width:290px;height:1px;background:linear-gradient(90deg,#a4294a 0%,#ae2f4c 8%,#d54c52 15%,#f17c54 23%,#f8a265 31%,#fcd187 38%,#fef8be 46%,#edf7ad 54%,#d6eea2 62%,#b7e2a6 69%,#a5dba8 77%,#97d4a8 85%,#92d2a8 92%,#8dd0a8 100%)"></i><i style="left:4px;top:146px;width:290px;height:1px;background:linear-gradient(90deg,#b8354e 0%,#bf394f 8%,#de5951 15%,#f48959 23%,#faaa68 31%,#fdd68b 38%,#fefbc2 46%,#ebf6a9 54%,#d0eca3 62%,#afdfa8 69%,#9bd6a8 77%,#8bcfa8 85%,#85cca8 92%,#7ec9a8 100%)"></i><i style="left:4px;top:147px;width:290px;height:1px;background:linear-gradient(90deg,#b1314c 0%,#ba364e 8%,#dc5751 15%,#f38759 23%,#faab69 31%,#fdd88d 38%,#fdfcc3 46%,#e9f6a7 54%,#cdeba3 62%,#aedfa8 69%,#9bd6a8 77%,#8dd0a8 85%,#88cea8 92%,#82cba8 100%)"></i><i style="left:4px;top:148px;width:290px;height:1px;background:linear-gradient(90deg,#af2f4c 0%,#b8354e 8%,#dc5651 15%,#f38758 23%,#faab69 31%,#fddb90 38%,#fbfbc0 46%,#e8f5a6 54%,#cbeaa4 62%,#abdea8 69%,#9cd7a8 77%,#91d2a8 85%,#8dd0a8 92%,#88cea8 100%)"></i><i style="left:4px;top:149px;width:290px;height:1px;background:linear-gradient(90deg,#a52a4a 0%,#b1314c 8%,#da5351 15%,#f38759 23%,#fbb06b 31%,#fde196 38%,#f7faba 46%,#e5f4a1 54%,#c4e7a5 62%,#a5dba8 69%,#96d4a8 77%,#8cd0a8 85%,#88cea8 92%,#84cca8 100%)"></i><i style="left:4px;top:150px;width:290px;height:1px;background:linear-gradient(90deg,#a22849 0%,#ad2f4c 8%,#d75051 15%,#f28256 23%,#faaa68 31%,#fdde92 38%,#f9fabd 46%,#e7f5a4 54%,#c9e9a4 62%,#addea8 69%,#9ed8a8 77%,#97d4a8 85%,#73c4a8 92%,#70c3a8 100%)"></i><i style="left:4px;top:151px;width:290px;height:1px;background:linear-gradient(90deg,#a42a4a 0%,#b0304c 8%,#d95251 15%,#f38557 23%,#faad6a 31%,#fde195 38%,#f7fabb 46%,#e5f4a2 54%,#c5e8a4 62%,#a9dda8 69%,#99d6a8 77%,#92d2a8 85%,#6ec2a8 92%,#6ac0a8 100%)"></i><i style="left:4px;top:152px;width:290px;height:1px;background:linear-gradient(90deg,#9e2649 0%,#a92c4b 8%,#d54c52 15%,#f17c54 23%,#f8a466 31%,#fddc90 38%,#fbfbc0 46%,#e9f5a7 54%,#cceaa3 62%,#aedfa8 69%,#9ad6a8 77%,#8fd1a8 85%,#68bda9 92%,#64b6ab 100%)"></i><i style="left:4px;top:153px;width:290px;height:1px;background:linear-gradient(90deg,#9f2649 0%,#a82b4a 8%,#d34952 15%,#f07651 23%,#f79b62 31%,#fcd48a 38%,#fefbc2 46%,#edf7ad 54%,#d5eea2 62%,#b5e1a7 69%,#a1d9a8 77%,#94d3a8 85%,#6ac0a8 92%,#65b7ab 100%)"></i><i style="left:4px;top:154px;width:290px;height:1px;background:linear-gradient(90deg,#a3294a 0%,#aa2d4b 8%,#d34a52 15%,#f07550 23%,#f69860 31%,#fcd187 38%,#fef9bf 46%,#eff7af 54%,#d8efa2 62%,#b8e3a6 69%,#a4dba8 77%,#98d5a8 85%,#6dc1a8 92%,#67baaa 100%)"></i><i style="left:4px;top:155px;width:290px;height:1px;background:linear-gradient(90deg,#a12849 0%,#a72b4a 8%,#d14652 15%,#ed6f50 23%,#f5905d 31%,#fccb82 38%,#fef5b8 46%,#f2f8b4 54%,#dff2a1 62%,#bbe4a6 69%,#a3daa8 77%,#92d2a8 85%,#66baaa 92%,#5fadae 100%)"></i><i style="left:4px;top:156px;width:290px;height:1px;background:linear-gradient(90deg,#9b2448 0%,#9e2649 8%,#cb4051 15%,#ea6b50 23%,#f48d5b 31%,#fccb82 38%,#fef5b8 46%,#f3f8b4 54%,#dff2a1 62%,#bee5a5 69%,#a5dba8 77%,#96d4a8 85%,#68bda9 92%,#61b1ad 100%)"></i><i style="left:4px;top:157px;width:290px;height:1px;background:linear-gradient(90deg,#9b2448 0%,#9b2448 8%,#c83f51 15%,#e86950 23%,#f48c5b 31%,#fcc980 38%,#fef4b6 46%,#f3f9b5 54%,#e2f3a0 62%,#c2e7a5 69%,#b0dfa7 77%,#a4daa8 85%,#79c7a8 92%,#6fc2a8 100%)"></i><i style="left:4px;top:158px;width:290px;height:1px;background:linear-gradient(90deg,#9b2448 0%,#9b2448 8%,#c83f51 15%,#ea6c50 23%,#f5925e 31%,#fccc83 38%,#fef7bb 46%,#f1f8b2 54%,#ddf1a1 62%,#bae4a6 69%,#a6dba8 77%,#97d4a8 85%,#6bc0a8 92%,#65b8ab 100%)"></i><i style="left:4px;top:159px;width:290px;height:1px;background:linear-gradient(90deg,#9b2448 0%,#9e2649 8%,#cd4152 15%,#ee7150 23%,#f79961 31%,#fcd187 38%,#fef9bf 46%,#eef7ae 54%,#d8efa2 62%,#b4e1a7 69%,#a1d9a8 77%,#92d2a8 85%,#69bea9 92%,#64b5ab 100%)"></i><i style="left:4px;top:160px;width:290px;height:1px;background:linear-gradient(90deg,#9b2448 0%,#9b2448 8%,#c83f51 15%,#ed6f50 23%,#f79a61 31%,#fcd187 38%,#fef9be 46%,#eef7ae 54%,#d7efa2 62%,#b4e1a7 69%,#a2daa8 77%,#93d3a8 85%,#8bcfa8 92%,#83cca8 100%)"></i><i style="left:4px;top:161px;width:290px;height:1px;background:linear-gradient(90deg,#9b2448 0%,#9b2448 8%,#c93f51 15%,#ee7150 23%,#f79e63 31%,#fcd489 38%,#fefac1 46%,#ecf7ab 54%,#d4eea2 62%,#b3e1a7 69%,#a2daa8 77%,#95d4a8 85%,#8fd1a8 92%,#89cea8 100%)"></i><i style="left:4px;top:162px;width:290px;height:1px;background:linear-gradient(90deg,#9b2448 0%,#a72b4a 8%,#d34a52 15%,#f17b53 23%,#f9a466 31%,#fdd98e 38%,#fcfbc1 46%,#eaf6a8 54%,#cfeca3 62%,#b1e0a7 69%,#a4daa8 77%,#9bd6a8 85%,#98d5a8 92%,#96d4a8 100%)"></i><i style="left:4px;top:163px;width:290px;height:1px;background:linear-gradient(90deg,#a22849 0%,#ac2e4b 8%,#d74f51 15%,#f27f55 23%,#f9a767 31%,#fddc91 38%,#fafbbf 46%,#e8f5a6 54%,#cbeaa4 62%,#afdfa8 69%,#9fd8a8 77%,#97d4a8 85%,#93d3a8 92%,#8fd1a8 100%)"></i><i style="left:4px;top:164px;width:290px;height:1px;background:linear-gradient(90deg,#a22849 0%,#ad2e4b 8%,#d74f51 15%,#f28056 23%,#f9a868 31%,#fdde92 38%,#f9fbbd 46%,#e7f5a5 54%,#caeaa4 62%,#b1e0a7 69%,#a6dba8 77%,#a2d9a8 85%,#a1d9a8 92%,#a1d9a8 100%)"></i><i style="left:4px;top:165px;width:290px;height:1px;background:linear-gradient(90deg,#a72b4a 0%,#b1314c 8%,#db5551 15%,#f38658 23%,#faae6a 31%,#fde398 38%,#f6fab9 46%,#e4f4a0 54%,#c3e7a5 62%,#acdea8 69%,#9ed8a8 77%,#7ec9a8 85%,#5ba6b0 92%,#5aa5b0 100%)"></i><i style="left:4px;top:166px;width:290px;height:1px;background:linear-gradient(90deg,#b5344d 0%,#bd384f 8%,#e15e51 15%,#f58e5c 23%,#fbb26c 31%,#fde49b 38%,#f5f9b8 46%,#e2f3a0 54%,#c0e6a5 62%,#abdea8 69%,#9fd8a8 77%,#81caa8 85%,#5daaaf 92%,#5eabae 100%)"></i><i style="left:4px;top:167px;width:290px;height:1px;background:linear-gradient(90deg,#b8354e 0%,#bf394f 8%,#e26051 15%,#f5915d 23%,#fbb46e 31%,#fde59d 38%,#f4f9b6 46%,#dff2a1 54%,#bee5a5 62%,#a9dda8 69%,#9ed8a8 77%,#80caa8 85%,#5daaaf 92%,#5eabae 100%)"></i><i style="left:4px;top:168px;width:290px;height:1px;background:linear-gradient(90deg,#b4334d 0%,#bd384f 8%,#e15d51 15%,#f58f5c 23%,#fbb46e 31%,#fde49b 38%,#f4f9b7 46%,#e0f3a1 54%,#bfe6a5 62%,#a7dca8 69%,#9bd6a8 77%,#7ac7a8 85%,#5aa4b1 92%,#5aa4b1 100%)"></i><i style="left:4px;top:169px;width:290px;height:1px;background:linear-gradient(90deg,#b3324d 0%,#bc384f 8%,#e05d51 15%,#f5905c 23%,#fbb56e 31%,#fde49c 38%,#f4f9b6 46%,#e0f2a1 54%,#bfe5a5 62%,#a4daa8 69%,#97d4a8 77%,#74c4a8 85%,#559db3 92%,#559cb3 100%)"></i><i style="left:4px;top:170px;width:290px;height:1px;background:linear-gradient(90deg,#af304c 0%,#ba364e 8%,#e05c51 15%,#f5905d 23%,#fbb670 31%,#fde69e 38%,#f3f8b4 46%,#ddf1a1 54%,#bbe4a6 62%,#9dd7a8 69%,#8cd0a8 77%,#68bca9 85%,#4d8eb8 92%,#4a8ab9 100%)"></i><i style="left:4px;top:171px;width:290px;height:1px;background:linear-gradient(90deg,#ae2f4c 0%,#b7354e 8%,#dd5851 15%,#f48959 23%,#faae6a 31%,#fde095 38%,#f7fabb 46%,#e6f5a2 54%,#c5e8a4 62%,#a4daa8 69%,#91d2a8 77%,#68bda9 85%,#4b8bb8 92%,#4985b9 100%)"></i><i style="left:4px;top:172px;width:290px;height:1px;background:linear-gradient(90deg,#a62a4a 0%,#b0304c 8%,#d95251 15%,#f38256 23%,#f9a968 31%,#fddf93 38%,#f9fabd 46%,#e7f5a4 54%,#c8e9a4 62%,#a9dca8 69%,#95d3a8 77%,#6bc1a8 85%,#4e8fb7 92%,#4a89b9 100%)"></i><i style="left:4px;top:173px;width:290px;height:1px;background:linear-gradient(90deg,#9b2448 0%,#a3294a 8%,#cf4352 15%,#ee7150 23%,#f69760 31%,#fcce84 38%,#fef8bd 46%,#f0f8b0 54%,#dbf0a1 62%,#b8e3a6 69%,#a4dba8 77%,#77c6a8 85%,#5297b5 92%,#4d8fb7 100%)"></i><i style="left:4px;top:174px;width:290px;height:1px;background:linear-gradient(90deg,#9b2448 0%,#a02749 8%,#cb4051 15%,#eb6c50 23%,#f58f5c 31%,#fcc77e 38%,#fef3b5 46%,#f4f9b6 54%,#e3f4a0 62%,#c2e6a5 69%,#b1e0a7 77%,#86cda8 85%,#5ba7b0 92%,#57a0b2 100%)"></i><i style="left:4px;top:175px;width:290px;height:1px;background:linear-gradient(90deg,#9b2448 0%,#9b2448 8%,#c23b50 15%,#e56351 23%,#f38457 31%,#fcbf77 38%,#feeead 46%,#f8fabc 54%,#e8f5a6 62%,#c8e9a4 69%,#b5e2a7 77%,#87cda8 85%,#5aa5b0 92%,#559bb3 100%)"></i><i style="left:4px;top:176px;width:290px;height:1px;background:linear-gradient(90deg,#9b2448 0%,#9b2448 8%,#c43c50 15%,#e66651 23%,#f48859 31%,#fcc47c 38%,#fef2b3 46%,#f5f9b8 54%,#e5f4a2 62%,#c4e8a5 69%,#b1e0a7 77%,#a3daa8 85%,#99d5a8 92%,#8fd1a8 100%)"></i><i style="left:4px;top:177px;width:290px;height:1px;background:linear-gradient(90deg,#9b2448 0%,#a12749 8%,#cd4152 15%,#ec6e50 23%,#f5925e 31%,#fccb82 38%,#fef6ba 46%,#f2f8b3 54%,#dff2a1 62%,#bfe5a5 69%,#afdfa8 77%,#a3daa8 85%,#9bd6a8 92%,#94d3a8 100%)"></i><i style="left:4px;top:178px;width:290px;height:1px;background:linear-gradient(90deg,#a02749 0%,#a82c4b 8%,#d24852 15%,#ef7350 23%,#f69760 31%,#fcd187 38%,#fef9be 46%,#eff7af 54%,#d9f0a2 62%,#bce4a6 69%,#abdda8 77%,#a1d9a8 85%,#9ad6a8 92%,#93d3a8 100%)"></i><i style="left:4px;top:179px;width:290px;height:1px;background:linear-gradient(90deg,#a02749 0%,#a92c4b 8%,#d44b52 15%,#f17852 23%,#f79e63 31%,#fdd88d 38%,#fdfcc3 46%,#ebf6aa 54%,#d1eda3 62%,#b4e1a7 69%,#a2d9a8 77%,#98d5a8 85%,#91d2a8 92%,#8acea8 100%)"></i><i style="left:4px;top:180px;width:290px;height:1px;background:linear-gradient(90deg,#a82c4b 0%,#b0304c 8%,#d85151 15%,#f27f55 23%,#f8a466 31%,#fddc91 38%,#fbfbc0 46%,#e9f6a7 54%,#cceba3 62%,#b0e0a7 69%,#9ed7a8 77%,#96d4a8 85%,#8fd1a8 92%,#88cea8 100%)"></i><i style="left:4px;top:181px;width:290px;height:1px;background:linear-gradient(90deg,#a92c4b 0%,#b1314c 8%,#d95251 15%,#f28055 23%,#f9a466 31%,#fddb90 38%,#fbfbc0 46%,#e9f6a7 54%,#cdeba3 62%,#b0e0a7 69%,#9ed8a8 77%,#96d4a8 85%,#8fd1a8 92%,#89cea8 100%)"></i><i style="left:4px;top:182px;width:290px;height:1px;background:linear-gradient(90deg,#ac2e4b 0%,#b5334d 8%,#db5651 15%,#f38658 23%,#faab69 31%,#fde094 38%,#f8fabc 46%,#e6f5a3 54%,#c8e9a4 62%,#afdfa8 69%,#a2daa8 77%,#9ed8a8 85%,#9dd7a8 92%,#9cd7a8 100%)"></i><i style="left:4px;top:183px;width:290px;height:1px;background:linear-gradient(90deg,#ac2e4b 0%,#b5334d 8%,#db5551 15%,#f38558 23%,#faaa69 31%,#fddf93 38%,#f9fabd 46%,#e7f5a4 54%,#c9e9a4 62%,#addea8 69%,#9ed7a8 77%,#96d4a8 85%,#93d3a8 92%,#8fd1a8 100%)"></i><i style="left:4px;top:184px;width:290px;height:1px;background:linear-gradient(90deg,#a62a4a 0%,#af304c 8%,#d85051 15%,#f28055 23%,#f9a667 31%,#fddb90 38%,#fbfbbf 46%,#e9f5a7 54%,#cdeba3 62%,#b0e0a7 69%,#a1d9a8 77%,#98d5a8 85%,#94d3a8 92%,#90d1a8 100%)"></i><i style="left:4px;top:185px;width:290px;height:1px;background:linear-gradient(90deg,#a92d4b 0%,#b4324d 8%,#db5551 15%,#f38658 23%,#faad6a 31%,#fde094 38%,#f8fabb 46%,#e6f5a3 54%,#c6e8a4 62%,#a9dca8 69%,#98d5a8 77%,#8fd1a8 85%,#8bcfa8 92%,#86cda8 100%)"></i><i style="left:4px;top:186px;width:290px;height:1px;background:linear-gradient(90deg,#a92d4b 0%,#b3324d 8%,#da5451 15%,#f38457 23%,#faab69 31%,#fdde92 38%,#f9fabd 46%,#e7f5a4 54%,#c9e9a4 62%,#acdea8 69%,#9bd6a8 77%,#93d3a8 85%,#8ed1a8 92%,#8acfa8 100%)"></i><i style="left:4px;top:187px;width:290px;height:1px;background:linear-gradient(90deg,#b1314c 0%,#b9364e 8%,#de5a51 15%,#f4895a 23%,#faae6a 31%,#fde196 38%,#f7fabb 46%,#e5f4a2 54%,#c5e8a4 62%,#aadda8 69%,#9ad6a8 77%,#93d3a8 85%,#90d1a8 92%,#8ccfa8 100%)"></i><i style="left:4px;top:188px;width:290px;height:1px;background:linear-gradient(90deg,#a72b4a 0%,#b1314c 8%,#da5451 15%,#f38457 23%,#faab69 31%,#fde297 38%,#f7fabb 46%,#e5f4a2 54%,#c5e8a4 62%,#acdea8 69%,#9cd7a8 77%,#97d4a8 85%,#94d3a8 92%,#91d2a8 100%)"></i><i style="left:4px;top:189px;width:290px;height:1px;background:linear-gradient(90deg,#ab2e4b 0%,#b5334d 8%,#dd5851 15%,#f48a5a 23%,#fbb16b 31%,#fde59d 38%,#f5f9b7 46%,#e1f3a0 54%,#bfe5a5 62%,#a5dba8 69%,#94d3a8 77%,#90d1a8 85%,#8ccfa8 92%,#88cea8 100%)"></i><i style="left:4px;top:190px;width:290px;height:1px;background:linear-gradient(90deg,#ab2e4b 0%,#b5334d 8%,#dc5651 15%,#f38759 23%,#faad6a 31%,#fde297 38%,#f7faba 46%,#e5f4a1 54%,#c4e7a5 62%,#a9dda8 69%,#99d5a8 77%,#93d2a8 85%,#8fd1a8 92%,#8bcfa8 100%)"></i><i style="left:4px;top:191px;width:290px;height:1px;background:linear-gradient(90deg,#a4294a 0%,#af304c 8%,#d95351 15%,#f38558 23%,#faad6a 31%,#fde297 38%,#f7faba 46%,#e5f4a1 54%,#c3e7a5 62%,#a6dba8 69%,#95d3a8 77%,#8dd0a8 85%,#88cda8 92%,#82cba8 100%)"></i><i style="left:4px;top:192px;width:290px;height:1px;background:linear-gradient(90deg,#a82c4b 0%,#b1314c 8%,#d85151 15%,#f28156 23%,#f9a767 31%,#fdda8f 38%,#fbfbc0 46%,#e9f6a7 54%,#cdeba3 62%,#aedfa8 69%,#9ed7a8 77%,#93d3a8 85%,#8ed0a8 92%,#88cea8 100%)"></i><i style="left:4px;top:193px;width:290px;height:1px;background:linear-gradient(90deg,#a02749 0%,#ac2e4b 8%,#d54d52 15%,#f27f55 23%,#f9a767 31%,#fdd88d 38%,#fdfcc3 46%,#eaf6a8 54%,#ceeba3 62%,#aedfa8 69%,#9dd7a8 77%,#90d1a8 85%,#8bcfa8 92%,#86cda8 100%)"></i><i style="left:4px;top:194px;width:290px;height:1px;background:linear-gradient(90deg,#a22849 0%,#ad2e4b 8%,#d44b52 15%,#f17c53 23%,#f8a265 31%,#fcd187 38%,#fef7bc 46%,#edf7ad 54%,#d6efa2 62%,#b9e3a6 69%,#a7dca8 77%,#9ad6a8 85%,#97d4a8 92%,#93d2a8 100%)"></i><i style="left:4px;top:195px;width:290px;height:1px;background:linear-gradient(90deg,#a4294a 0%,#ae2f4c 8%,#d54c52 15%,#f17c53 23%,#f8a164 31%,#fcd187 38%,#fef8bd 46%,#edf7ad 54%,#d6efa2 62%,#b7e2a6 69%,#a4daa8 77%,#96d4a8 85%,#90d1a8 92%,#8acea8 100%)"></i><i style="left:4px;top:196px;width:290px;height:1px;background:linear-gradient(90deg,#a12849 0%,#ab2d4b 8%,#d24752 15%,#f07651 23%,#f79a61 31%,#fcca81 38%,#fef3b5 46%,#f1f8b2 54%,#def2a1 62%,#bfe5a5 69%,#acdea8 77%,#7fcaa8 85%,#59a2b1 92%,#569db3 100%)"></i><i style="left:4px;top:197px;width:290px;height:1px;background:linear-gradient(90deg,#9b2448 0%,#a62a4a 8%,#d04552 15%,#f07551 23%,#f79c62 31%,#fcce84 38%,#fef6ba 46%,#eff7af 54%,#daf0a1 62%,#bce4a6 69%,#abdea8 77%,#80caa8 85%,#5aa4b1 92%,#58a1b2 100%)"></i><i style="left:4px;top:198px;width:290px;height:1px;background:linear-gradient(90deg,#9c2448 0%,#a62a4a 8%,#d04552 15%,#ef7350 23%,#f69960 31%,#fccc82 38%,#fef5b8 46%,#f1f8b1 54%,#ddf1a1 62%,#bee5a5 69%,#aedfa8 77%,#82cba8 85%,#5ba6b0 92%,#58a1b2 100%)"></i><i style="left:4px;top:199px;width:290px;height:1px;background:linear-gradient(90deg,#a12749 0%,#a92c4b 8%,#d14652 15%,#ef7250 23%,#f6965f 31%,#fcca81 38%,#fef4b7 46%,#f2f8b3 54%,#e0f2a1 62%,#c0e6a5 69%,#b1e0a7 77%,#87cda8 85%,#5da9af 92%,#5aa5b0 100%)"></i><i style="left:4px;top:200px;width:290px;height:1px;background:linear-gradient(90deg,#9b2448 0%,#a4294a 8%,#cf4352 15%,#ef7250 23%,#f69860 31%,#fccc82 38%,#fef5b8 46%,#f1f8b1 54%,#ddf1a1 62%,#bee5a5 69%,#aedfa8 77%,#83cba8 85%,#5ba7b0 92%,#58a2b1 100%)"></i><i style="left:4px;top:201px;width:290px;height:1px;background:linear-gradient(90deg,#9b2448 0%,#9c2548 8%,#cb4051 15%,#ed6f50 23%,#f69860 31%,#fcce84 38%,#fef7bc 46%,#eff8b0 54%,#dbf0a1 62%,#bce4a6 69%,#afdfa8 77%,#86cda8 85%,#5dabaf 92%,#5ba7b0 100%)"></i><i style="left:4px;top:202px;width:290px;height:1px;background:linear-gradient(90deg,#9b2448 0%,#9f2649 8%,#cd4152 15%,#ee7150 23%,#f69961 31%,#fccf86 38%,#fef8be 46%,#eff7af 54%,#daf0a1 62%,#bde5a6 69%,#b2e0a7 77%,#8dd0a8 85%,#62b2ac 92%,#61b0ad 100%)"></i><i style="left:4px;top:203px;width:290px;height:1px;background:linear-gradient(90deg,#9b2448 0%,#9b2448 8%,#c83f51 15%,#ec6e50 23%,#f69860 31%,#fcd187 38%,#fefac0 46%,#eef7ae 54%,#d9f0a2 62%,#bee5a5 69%,#b3e1a7 77%,#90d1a8 85%,#64b7ab 92%,#64b6ab 100%)"></i><i style="left:4px;top:204px;width:290px;height:1px;background:linear-gradient(90deg,#9b2448 0%,#9b2448 8%,#c73e51 15%,#ec6f50 23%,#f79b62 31%,#fdd58a 38%,#fefcc4 46%,#ecf7ab 54%,#d5eea2 62%,#bce4a6 69%,#b3e1a7 77%,#92d2a8 85%,#66baaa 92%,#67bbaa 100%)"></i><i style="left:4px;top:205px;width:290px;height:1px;background:linear-gradient(90deg,#9b2448 0%,#9b2448 8%,#ca4051 15%,#ed7050 23%,#f79961 31%,#fcd288 38%,#fefac1 46%,#eef7ad 54%,#d8efa2 62%,#bde5a6 69%,#b4e1a7 77%,#91d2a8 85%,#65b8ab 92%,#65b8ab 100%)"></i><i style="left:4px;top:206px;width:290px;height:1px;background:linear-gradient(90deg,#9b2448 0%,#a4294a 8%,#d04552 15%,#f07550 23%,#f79d62 31%,#fcd388 38%,#fefbc2 46%,#edf7ad 54%,#d7efa2 62%,#bfe6a5 69%,#b9e3a6 77%,#b7e2a6 85%,#bae4a6 92%,#bde5a6 100%)"></i><i style="left:4px;top:207px;width:290px;height:1px;background:linear-gradient(90deg,#9b2448 0%,#a3294a 8%,#d04552 15%,#f07450 23%,#f79c62 31%,#fcd187 38%,#fefac0 46%,#eef7ae 54%,#d8efa2 62%,#bde5a6 69%,#b3e1a7 77%,#aedfa8 85%,#aedfa8 92%,#aedfa8 100%)"></i><i style="left:4px;top:208px;width:290px;height:1px;background:linear-gradient(90deg,#a22849 0%,#ab2d4b 8%,#d44b52 15%,#f17852 23%,#f79d62 31%,#fcd388 38%,#fefbc2 46%,#edf7ad 54%,#d7efa2 62%,#bbe4a6 69%,#b0dfa7 77%,#aadda8 85%,#a8dca8 92%,#a6dba8 100%)"></i><i style="left:4px;top:209px;width:290px;height:1px;background:linear-gradient(90deg,#ab2d4b 0%,#b2324d 8%,#d85051 15%,#f27e54 23%,#f8a164 31%,#fcd48a 38%,#fefbc3 46%,#ecf7ac 54%,#d4eea2 62%,#b6e2a7 69%,#a9dda8 77%,#9fd8a8 85%,#9cd7a8 92%,#98d5a8 100%)"></i><i style="left:4px;top:210px;width:290px;height:1px;background:linear-gradient(90deg,#a82b4a 0%,#b0304c 8%,#d75051 15%,#f27e55 23%,#f8a365 31%,#fdd88d 38%,#fdfcc2 46%,#ebf6a9 54%,#d1eca3 62%,#b4e1a7 69%,#a5dba8 77%,#9dd7a8 85%,#99d6a8 92%,#95d4a8 100%)"></i><i style="left:4px;top:211px;width:290px;height:1px;background:linear-gradient(90deg,#b6344d 0%,#bc374e 8%,#de5a51 15%,#f38759 23%,#f9aa68 31%,#fdde92 38%,#fafbbe 46%,#e8f5a5 54%,#caeaa4 62%,#aedfa8 69%,#9ed8a8 77%,#96d4a8 85%,#92d2a8 92%,#8dd0a8 100%)"></i><i style="left:4px;top:212px;width:290px;height:1px;background:linear-gradient(90deg,#b3324d 0%,#ba364e 8%,#de5a51 15%,#f48959 23%,#faad6a 31%,#fde196 38%,#f8fabb 46%,#e5f4a2 54%,#c5e8a4 62%,#a8dca8 69%,#94d3a8 77%,#8bcfa8 85%,#84cca8 92%,#7dc8a8 100%)"></i><i style="left:4px;top:213px;width:290px;height:1px;background:linear-gradient(90deg,#c03a4f 0%,#c43c50 8%,#e46251 15%,#f5905c 23%,#fbb06b 31%,#fde399 38%,#f7faba 46%,#e4f4a1 54%,#c3e7a5 62%,#aadda8 69%,#99d5a8 77%,#95d4a8 85%,#91d2a8 92%,#8ed0a8 100%)"></i><i style="left:4px;top:214px;width:290px;height:1px;background:linear-gradient(90deg,#c23b50 0%,#c63d50 8%,#e46351 15%,#f5905d 23%,#fbb16b 31%,#fde298 38%,#f7faba 46%,#e5f4a1 54%,#c3e7a5 62%,#a7dca8 69%,#95d3a8 77%,#8ed0a8 85%,#89cea8 92%,#83cba8 100%)"></i><i style="left:4px;top:215px;width:290px;height:1px;background:linear-gradient(90deg,#be384f 0%,#c33c50 8%,#e36151 15%,#f58f5c 23%,#fbb06b 31%,#fde297 38%,#f7faba 46%,#e5f4a1 54%,#c4e7a5 62%,#a6dba8 69%,#94d3a8 77%,#8bcfa8 85%,#85cca8 92%,#7fcaa8 100%)"></i><i style="left:4px;top:216px;width:290px;height:1px;background:linear-gradient(90deg,#b8354e 0%,#bf394f 8%,#e05c51 15%,#f48c5b 23%,#faae6a 31%,#fdde93 38%,#f8fabc 46%,#e7f5a4 54%,#c9e9a4 62%,#addea8 69%,#9fd8a8 77%,#99d5a8 85%,#97d4a8 92%,#95d4a8 100%)"></i><i style="left:4px;top:217px;width:290px;height:1px;background:linear-gradient(90deg,#b7344d 0%,#be394f 8%,#df5b51 15%,#f48b5a 23%,#faad6a 31%,#fddc90 38%,#fbfbc0 46%,#e8f5a5 54%,#cbeaa4 62%,#acdea8 69%,#9ed8a8 77%,#94d3a8 85%,#91d2a8 92%,#8ed0a8 100%)"></i><i style="left:4px;top:218px;width:290px;height:1px;background:linear-gradient(90deg,#b3324d 0%,#bb374e 8%,#dc5751 15%,#f38658 23%,#f9a968 31%,#fdd68c 38%,#fefbc3 46%,#eaf6a9 54%,#d0eca3 62%,#b0e0a7 69%,#9dd7a8 77%,#90d1a8 85%,#8acea8 92%,#84cca8 100%)"></i><i style="left:4px;top:219px;width:290px;height:1px;background:linear-gradient(90deg,#b8354e 0%,#bf394f 8%,#de5a51 15%,#f48859 23%,#faaa68 31%,#fdd78c 38%,#fefcc4 46%,#eaf6a9 54%,#cfeca3 62%,#b0dfa7 69%,#9ed8a8 77%,#91d2a8 85%,#8ccfa8 92%,#87cda8 100%)"></i><i style="left:4px;top:220px;width:290px;height:1px;background:linear-gradient(90deg,#b6344d 0%,#bd384f 8%,#dd5851 15%,#f38759 23%,#f9a968 31%,#fdd78c 38%,#fefcc3 46%,#eaf6a9 54%,#cfeca3 62%,#afdfa8 69%,#9ed8a8 77%,#92d2a8 85%,#8cd0a8 92%,#87cda8 100%)"></i><i style="left:4px;top:221px;width:290px;height:1px;background:linear-gradient(90deg,#b2314c 0%,#b9364e 8%,#db5551 15%,#f38457 23%,#f9a667 31%,#fdd58a 38%,#fefbc2 46%,#ebf6aa 54%,#d2eda3 62%,#b2e0a7 69%,#a0d9a8 77%,#93d3a8 85%,#8dd0a8 92%,#88cda8 100%)"></i><i style="left:4px;top:222px;width:290px;height:1px;background:linear-gradient(90deg,#b0304c 0%,#b8354e 8%,#dc5651 15%,#f38658 23%,#faaa69 31%,#fddb8f 38%,#fbfbc0 46%,#e9f5a6 54%,#cceaa3 62%,#a9dda8 69%,#97d4a8 77%,#89cea8 85%,#82cba8 92%,#7ac7a8 100%)"></i><i style="left:4px;top:223px;width:290px;height:1px;background:linear-gradient(90deg,#ac2e4b 0%,#b5334d 8%,#da5451 15%,#f38457 23%,#f9aa68 31%,#fddc90 38%,#fafbbf 46%,#e8f5a6 54%,#cbeaa4 62%,#aadda8 69%,#97d5a8 77%,#8bcfa8 85%,#83cca8 92%,#7cc8a8 100%)"></i><i style="left:4px;top:224px;width:290px;height:1px;background:linear-gradient(90deg,#fcd48a 0%,#fcc67d 8%,#fbb871 15%,#f9a867 23%,#f69760 31%,#f5915d 38%,#fcc57c 46%,#fdeaa5 54%,#f6fab9 62%,#daf0a1 69%,#a7dca8 77%,#6bc1a8 85%,#4b82b8 92%,#5e65ad 100%)"></i><i style="left:4px;top:225px;width:290px;height:1px;background:linear-gradient(90deg,#fcd489 0%,#fcc67d 8%,#fbb771 15%,#f9a767 23%,#f6965f 31%,#f6965f 38%,#fcc980 46%,#fdedaa 54%,#f3f9b4 62%,#d1eda3 69%,#9cd7a8 77%,#64b6ab 85%,#5374b3 92%,#5e65ad 100%)"></i><i style="left:4px;top:226px;width:290px;height:1px;background:linear-gradient(90deg,#fcd287 0%,#fcc37b 8%,#fbb56e 15%,#f8a365 23%,#f5925d 31%,#f69860 38%,#fccb82 46%,#feefad 54%,#f1f8b2 62%,#cdeba3 69%,#96d4a8 77%,#5fadae 85%,#5375b3 92%,#5c68ae 100%)"></i><i style="left:4px;top:227px;width:290px;height:1px;background:linear-gradient(90deg,#fcd388 0%,#fcc47c 8%,#fbb670 15%,#f9a666 23%,#f6955f 31%,#f5935e 38%,#fcc67e 46%,#fdeba7 54%,#f5f9b7 62%,#d6eea2 69%,#a2daa8 77%,#68bca9 85%,#4f7bb6 92%,#5d66ae 100%)"></i><i style="left:4px;top:228px;width:290px;height:1px;background:linear-gradient(90deg,#fdd68b 0%,#fcc87f 8%,#fbba73 15%,#faab69 23%,#f79a61 31%,#f5925e 38%,#fcc67d 46%,#fdeaa5 54%,#f6fab9 62%,#d9f0a2 69%,#a7dca8 77%,#6bc0a8 85%,#4b82b8 92%,#5f63ac 100%)"></i><i style="left:4px;top:229px;width:290px;height:1px;background:linear-gradient(90deg,#fcd288 0%,#fcc47c 8%,#fbb670 15%,#f9a667 23%,#f6955f 31%,#f48d5b 38%,#fcc27a 46%,#fde8a1 54%,#f8fabc 62%,#def2a1 69%,#addea8 77%,#71c3a8 85%,#4987ba 92%,#5c67ae 100%)"></i><i style="left:4px;top:230px;width:290px;height:1px;background:linear-gradient(90deg,#fdd88d 0%,#fcca81 8%,#fbbc75 15%,#faae6a 23%,#f79d62 31%,#f6965f 38%,#fcc87f 46%,#fdeca8 54%,#f4f9b7 62%,#d6eea2 69%,#a3daa8 77%,#68bda9 85%,#4d7fb7 92%,#6160ab 100%)"></i><i style="left:357px;top:26px;width:289px;height:1px;background:linear-gradient(90deg,#81cba8 0%,#86cda8 8%,#92d2a8 15%,#a6dba8 23%,#bde5a6 31%,#d5eea2 38%,#f8fabc 46%,#fef5b9 54%,#fde8a1 62%,#fcc078 69%,#f17c54 77%,#d14752 85%,#cf4452 92%,#cc4152 100%)"></i><i style="left:357px;top:27px;width:289px;height:1px;background:linear-gradient(90deg,#93d3a8 0%,#96d4a8 8%,#9fd8a8 15%,#afdfa8 23%,#c3e7a5 31%,#dbf0a1 38%,#fbfbbf 46%,#fef3b4 54%,#fde59d 62%,#fbbb74 69%,#ef7250 77%,#c83f51 85%,#c33b50 92%,#bc384f 100%)"></i><i style="left:357px;top:28px;width:289px;height:1px;background:linear-gradient(90deg,#67bca9 0%,#73c4a8 8%,#89cea8 15%,#a6dba8 23%,#c6e8a4 31%,#e3f4a0 38%,#fefbc3 46%,#feeeac 54%,#fde094 62%,#f9a868 69%,#e15e51 77%,#b2314c 85%,#b0304c 92%,#a82c4b 100%)"></i><i style="left:357px;top:29px;width:289px;height:1px;background:linear-gradient(90deg,#81cba8 0%,#8bcfa8 8%,#9bd6a8 15%,#b2e0a7 23%,#cceba3 31%,#e5f4a2 38%,#fef9bf 46%,#fdeca9 54%,#fddc91 62%,#f9a466 69%,#df5b51 77%,#ae2f4c 85%,#ac2e4b 92%,#a4294a 100%)"></i><i style="left:357px;top:30px;width:289px;height:1px;background:linear-gradient(90deg,#6ac0a8 0%,#7ac7a8 8%,#91d2a8 15%,#afdfa8 23%,#cfeca3 31%,#e8f5a6 38%,#fef6ba 46%,#fde9a3 54%,#fdd78c 62%,#f79b62 69%,#da5451 77%,#a82c4b 85%,#a82b4a 92%,#a02749 100%)"></i><i style="left:357px;top:31px;width:289px;height:1px;background:linear-gradient(90deg,#8ed0a8 0%,#95d3a8 8%,#a3daa8 15%,#b7e2a6 23%,#cfeca3 31%,#e6f5a3 38%,#fef9be 46%,#fdeca8 54%,#fddb90 62%,#f8a365 69%,#dd5851 77%,#aa2d4b 85%,#a3294a 92%,#9b2448 100%)"></i><i style="left:357px;top:32px;width:289px;height:1px;background:linear-gradient(90deg,#63b3ac 0%,#6dc1a8 8%,#85cca8 15%,#a5dba8 23%,#c6e8a4 31%,#e4f4a0 38%,#fefbc2 46%,#feefad 54%,#fde195 62%,#fbb46e 69%,#e76751 77%,#b9364e 85%,#ac2e4b 92%,#a12749 100%)"></i><i style="left:357px;top:33px;width:289px;height:1px;background:linear-gradient(90deg,#60b0ad 0%,#6ac0a8 8%,#83cba8 15%,#a4daa8 23%,#c6e8a4 31%,#e4f4a0 38%,#fefbc2 46%,#feeead 54%,#fde095 62%,#fbb66f 69%,#e86850 77%,#b9364e 85%,#a72b4a 92%,#9b2448 100%)"></i><i style="left:357px;top:34px;width:289px;height:1px;background:linear-gradient(90deg,#4e90b7 0%,#5da9af 8%,#76c6a8 15%,#afdfa8 23%,#c7e9a4 31%,#e1f3a0 38%,#fdfcc3 46%,#fef0b0 54%,#fde298 62%,#fbb770 69%,#e86850 77%,#b7354e 85%,#a4294a 92%,#9b2448 100%)"></i><i style="left:357px;top:35px;width:289px;height:1px;background:linear-gradient(90deg,#4d8eb8 0%,#5ba6b0 8%,#72c4a8 15%,#aadda8 23%,#c2e6a5 31%,#dbf0a1 38%,#fbfbbf 46%,#fef4b5 54%,#fde59d 62%,#fcbe76 69%,#ec6f50 77%,#bc374e 85%,#a42a4a 92%,#9b2448 100%)"></i><i style="left:357px;top:36px;width:289px;height:1px;background:linear-gradient(90deg,#4c81b8 0%,#559cb3 8%,#6ac0a8 15%,#a6dba8 23%,#c1e6a5 31%,#dcf1a1 38%,#fbfbc0 46%,#fef3b4 54%,#fde49b 62%,#fbba73 69%,#ea6b50 77%,#ba364e 85%,#a72b4a 92%,#9b2448 100%)"></i><i style="left:357px;top:37px;width:289px;height:1px;background:linear-gradient(90deg,#4d8eb8 0%,#5ba6b0 8%,#73c4a8 15%,#abdda8 23%,#c2e7a5 31%,#dcf1a1 38%,#fbfbc0 46%,#fef3b4 54%,#fde59c 62%,#fbba73 69%,#ea6b50 77%,#bb374e 85%,#a82c4b 92%,#9b2448 100%)"></i><i style="left:357px;top:38px;width:289px;height:1px;background:linear-gradient(90deg,#4987ba 0%,#58a1b2 8%,#6ec2a8 15%,#a8dca8 23%,#c1e6a5 31%,#dbf0a1 38%,#fbfbbf 46%,#fef3b5 54%,#fde59d 62%,#fbbb74 69%,#ea6a50 77%,#b7354e 85%,#a12849 92%,#9b2448 100%)"></i><i style="left:357px;top:39px;width:289px;height:1px;background:linear-gradient(90deg,#58a1b2 0%,#64b6ab 8%,#80caa8 15%,#b3e1a7 23%,#c6e8a4 31%,#def2a1 38%,#fcfbc1 46%,#fef2b3 54%,#fde49b 62%,#fcbe76 69%,#ef7250 77%,#c33b50 85%,#b0304c 92%,#a22849 100%)"></i><i style="left:357px;top:40px;width:289px;height:1px;background:linear-gradient(90deg,#67baaa 0%,#76c6a8 8%,#93d3a8 15%,#bfe5a5 23%,#ceeba3 31%,#e3f4a0 38%,#fefbc3 46%,#feefae 54%,#fde196 62%,#fbb670 69%,#e86850 77%,#b7344d 85%,#a22849 92%,#9b2448 100%)"></i><i style="left:357px;top:41px;width:289px;height:1px;background:linear-gradient(90deg,#62b2ac 0%,#6ec2a8 8%,#8cd0a8 15%,#bae4a6 23%,#cbeaa4 31%,#e1f3a0 38%,#fdfcc3 46%,#fef1b1 54%,#fde399 62%,#fcbe77 69%,#f07350 77%,#c63d50 85%,#b3324d 92%,#a62b4a 100%)"></i><i style="left:357px;top:42px;width:289px;height:1px;background:linear-gradient(90deg,#58a1b2 0%,#64b6ab 8%,#81cba8 15%,#b4e1a7 23%,#c8e9a4 31%,#e0f2a1 38%,#fdfcc3 46%,#fef1b1 54%,#fde399 62%,#fbb972 69%,#ea6b50 77%,#bb374e 85%,#a92c4b 92%,#9c2448 100%)"></i><i style="left:357px;top:43px;width:289px;height:1px;background:linear-gradient(90deg,#7ac7a8 0%,#82cba8 8%,#8fd1a8 15%,#a6dba8 23%,#bee5a5 31%,#d7efa2 38%,#f9fabd 46%,#fef5b9 54%,#fde8a2 62%,#fcc87f 69%,#f38256 77%,#d14752 85%,#c13a4f 92%,#b4334d 100%)"></i><i style="left:357px;top:44px;width:289px;height:1px;background:linear-gradient(90deg,#87cda8 0%,#8ccfa8 8%,#97d4a8 15%,#aadda8 23%,#bfe6a5 31%,#d8efa2 38%,#f9fabd 46%,#fef5b9 54%,#fde8a2 62%,#fccb82 69%,#f48859 77%,#d64d52 85%,#c93f51 92%,#bd384f 100%)"></i><i style="left:357px;top:45px;width:289px;height:1px;background:linear-gradient(90deg,#81cba8 0%,#87cda8 8%,#93d3a8 15%,#a8dca8 23%,#bee5a5 31%,#d7efa2 38%,#f9fabd 46%,#fef5b8 54%,#fde7a0 62%,#fcc27a 69%,#f17b53 77%,#ce4252 85%,#c33b50 92%,#ba364e 100%)"></i><i style="left:357px;top:46px;width:289px;height:1px;background:linear-gradient(90deg,#83cba8 0%,#8acfa8 8%,#98d5a8 15%,#aedfa8 23%,#c6e8a4 31%,#e0f3a1 38%,#fdfcc3 46%,#fef0af 54%,#fde297 62%,#fbb36d 69%,#e86950 77%,#be394f 85%,#ba364e 92%,#b4334d 100%)"></i><i style="left:357px;top:47px;width:289px;height:1px;background:linear-gradient(90deg,#4f92b6 0%,#61b1ad 8%,#8fd1a8 15%,#addea8 23%,#cdeba3 31%,#e7f5a4 38%,#fef7bc 46%,#fdeaa5 54%,#fdd88d 62%,#f69660 69%,#d95251 77%,#a92c4b 85%,#b6344d 92%,#b2314c 100%)"></i><i style="left:357px;top:48px;width:289px;height:1px;background:linear-gradient(90deg,#5eacae 0%,#71c3a8 8%,#a2d9a8 15%,#b8e3a6 23%,#d3eda2 31%,#e9f6a7 38%,#fef5b8 46%,#fde7a0 54%,#fcd388 62%,#f48b5a 69%,#e66551 77%,#d85151 85%,#e56451 92%,#e36251 100%)"></i><i style="left:357px;top:49px;width:289px;height:1px;background:linear-gradient(90deg,#5eacae 0%,#73c4a8 8%,#a5dba8 15%,#bde5a6 23%,#d9f0a2 31%,#ecf6ab 38%,#fef2b3 46%,#fde49c 54%,#fcd086 62%,#f5905d 69%,#eb6c50 77%,#de5a51 85%,#e96a50 92%,#e96a50 100%)"></i><i style="left:357px;top:50px;width:289px;height:1px;background:linear-gradient(90deg,#9ad6a8 0%,#a2daa8 8%,#b1e0a7 15%,#c5e8a4 23%,#dff2a1 31%,#eef7ae 38%,#fafbbe 46%,#fef3b4 54%,#fde59c 62%,#faaf6b 69%,#f38759 77%,#ed7050 85%,#e25f51 92%,#e15d51 100%)"></i><i style="left:357px;top:51px;width:289px;height:1px;background:linear-gradient(90deg,#abdea8 0%,#afdfa8 8%,#b9e3a6 15%,#c9eaa4 23%,#dff2a1 31%,#edf7ad 38%,#f9fabd 46%,#fef4b6 54%,#fde69e 62%,#fbb26c 69%,#f38759 77%,#eb6d50 85%,#dc5751 92%,#d95251 100%)"></i><i style="left:357px;top:52px;width:289px;height:1px;background:linear-gradient(90deg,#d4eea2 0%,#d0eca3 8%,#d3eda2 15%,#dcf1a1 23%,#e7f5a4 31%,#f1f8b2 38%,#fcfcc2 46%,#fef0b0 54%,#fde298 62%,#faab69 69%,#f28256 77%,#e96950 85%,#da5351 92%,#d74f51 100%)"></i><i style="left:357px;top:53px;width:289px;height:1px;background:linear-gradient(90deg,#abdea8 0%,#acdea8 8%,#b3e1a7 15%,#c0e6a5 23%,#d3eda2 31%,#e7f5a4 38%,#f2f8b4 46%,#fefbc3 54%,#fdedab 62%,#fcc27a 69%,#f79b62 77%,#f27d54 85%,#e05c51 92%,#db5551 100%)"></i><i style="left:357px;top:54px;width:289px;height:1px;background:linear-gradient(90deg,#a2d9a8 0%,#a1d9a8 8%,#a8dca8 15%,#b5e2a7 23%,#c7e9a4 31%,#def2a1 38%,#edf7ac 46%,#f9fabc 54%,#fef4b6 62%,#fcd187 69%,#f58e5c 77%,#d95351 85%,#bd384f 92%,#b6344d 100%)"></i><i style="left:357px;top:55px;width:289px;height:1px;background:linear-gradient(90deg,#93d3a8 0%,#92d2a8 8%,#98d5a8 15%,#a6dba8 23%,#b8e3a6 31%,#ceeba3 38%,#e5f4a2 46%,#f1f8b2 54%,#fefcc3 62%,#fde297 69%,#f9a566 77%,#e46251 85%,#c13a4f 92%,#b6344d 100%)"></i><i style="left:357px;top:56px;width:289px;height:1px;background:linear-gradient(90deg,#9bd6a8 0%,#96d4a8 8%,#98d5a8 15%,#a2d9a8 23%,#b0e0a7 31%,#c4e8a5 38%,#ddf1a1 46%,#ecf6ab 54%,#f9fabd 62%,#fde9a3 69%,#fbb56f 77%,#ee7250 85%,#d04552 92%,#c83e51 100%)"></i><i style="left:357px;top:57px;width:289px;height:1px;background:linear-gradient(90deg,#82cba8 0%,#84cca8 8%,#8bcfa8 15%,#9bd6a8 23%,#b0e0a7 31%,#c7e9a4 38%,#dff2a1 46%,#edf7ad 54%,#fafbbf 62%,#fde7a0 69%,#fbb36d 77%,#ed7050 85%,#d14652 92%,#ca4051 100%)"></i><i style="left:357px;top:58px;width:289px;height:1px;background:linear-gradient(90deg,#b1e0a7 0%,#abdea8 8%,#abdda8 15%,#b2e0a7 23%,#bde5a6 31%,#d0eca3 38%,#e6f5a3 46%,#f2f8b3 54%,#fefcc4 62%,#fde49b 69%,#faaf6b 77%,#ec6e50 85%,#d04552 92%,#ca4051 100%)"></i><i style="left:357px;top:59px;width:289px;height:1px;background:linear-gradient(90deg,#bbe4a6 0%,#b5e1a7 8%,#b3e1a7 15%,#b9e3a6 23%,#c4e8a5 31%,#d7efa2 38%,#e9f6a7 46%,#f5f9b7 54%,#fef8be 62%,#fdde93 69%,#f8a466 77%,#e66651 85%,#cc4152 92%,#c63d50 100%)"></i><i style="left:357px;top:60px;width:289px;height:1px;background:linear-gradient(90deg,#acdea8 0%,#a9dda8 8%,#acdea8 15%,#b6e2a7 23%,#c5e8a4 31%,#daf0a1 38%,#ebf6a9 46%,#f6fab9 54%,#fef7bb 62%,#fddc91 69%,#f8a164 77%,#e46351 85%,#c93f51 92%,#c33b50 100%)"></i><i style="left:357px;top:61px;width:289px;height:1px;background:linear-gradient(90deg,#c7e9a4 0%,#bde5a6 8%,#b8e3a6 15%,#bbe4a6 23%,#c2e7a5 31%,#d3eda2 38%,#e7f5a4 46%,#f2f8b4 54%,#fefbc2 62%,#fde49b 69%,#faac69 77%,#e86850 85%,#c53c50 92%,#b8354e 100%)"></i><i style="left:357px;top:62px;width:289px;height:1px;background:linear-gradient(90deg,#cfeca3 0%,#c3e7a5 8%,#bce4a6 15%,#bde4a6 23%,#c1e6a5 31%,#d1eca3 38%,#e6f5a3 46%,#f1f8b3 54%,#fefbc3 62%,#fde298 69%,#f8a265 77%,#e05c51 85%,#b4334d 92%,#a4294a 100%)"></i><i style="left:357px;top:63px;width:289px;height:1px;background:linear-gradient(90deg,#aedfa8 0%,#a9dda8 8%,#a9dda8 15%,#b1e0a7 23%,#bde5a6 31%,#d1eca3 38%,#e6f5a3 46%,#f1f8b3 54%,#fefbc2 62%,#fddf93 69%,#f69660 77%,#d74f51 85%,#a22849 92%,#9b2448 100%)"></i><i style="left:357px;top:64px;width:289px;height:1px;background:linear-gradient(90deg,#64b5ab 0%,#6bc1a8 8%,#82cba8 15%,#abdea8 23%,#c3e7a5 31%,#d4eea2 38%,#e8f5a5 46%,#f4f9b6 54%,#fef8be 62%,#fcd288 69%,#f38457 77%,#cc4152 85%,#9b2448 92%,#9b2448 100%)"></i><i style="left:357px;top:65px;width:289px;height:1px;background:linear-gradient(90deg,#60aead 0%,#68bda9 8%,#83cba8 15%,#afdfa8 23%,#caeaa4 31%,#def1a1 38%,#edf7ac 46%,#f9fabd 54%,#fef2b2 62%,#fbbb74 69%,#e46251 77%,#a82c4b 85%,#9b2448 92%,#9b2448 100%)"></i><i style="left:357px;top:66px;width:289px;height:1px;background:linear-gradient(90deg,#4987ba 0%,#5ba6b0 8%,#82cba8 15%,#b0e0a7 23%,#ceeba3 31%,#e2f3a0 38%,#eff7af 46%,#fcfbc1 54%,#feefad 62%,#fbb26c 69%,#e25f51 77%,#ac2e4b 85%,#9b2448 92%,#9b2448 100%)"></i><i style="left:357px;top:67px;width:289px;height:1px;background:linear-gradient(90deg,#5196b5 0%,#61b1ad 8%,#8cd0a8 15%,#b6e2a7 23%,#d2eda3 31%,#e4f4a0 38%,#f0f8b1 46%,#fefcc4 54%,#fde9a4 62%,#f8a265 69%,#d75051 77%,#9c2448 85%,#9b2448 92%,#9b2448 100%)"></i><i style="left:357px;top:68px;width:289px;height:1px;background:linear-gradient(90deg,#4b82b8 0%,#569eb2 8%,#79c7a8 15%,#a6dba8 23%,#c4e7a5 31%,#d8efa2 38%,#eaf6a8 46%,#f7faba 54%,#fef4b7 62%,#fbbd75 69%,#ea6c50 77%,#bb374e 85%,#a3294a 92%,#9b2448 100%)"></i><i style="left:357px;top:69px;width:289px;height:1px;background:linear-gradient(90deg,#596db0 0%,#4b8cb8 8%,#69bfa8 15%,#9cd7a8 23%,#c0e6a5 31%,#d6efa2 38%,#e9f6a7 46%,#f6f9b9 54%,#fef6ba 62%,#fcc67d 69%,#f17a53 77%,#ca4051 85%,#b0304c 92%,#a62b4a 100%)"></i><i style="left:357px;top:70px;width:289px;height:1px;background:linear-gradient(90deg,#4f7bb6 0%,#4e90b7 8%,#61b1ad 15%,#8ed1a8 23%,#b6e2a7 31%,#cdeba3 38%,#e5f4a2 46%,#f1f8b2 54%,#fefbc3 62%,#fdd78c 69%,#f6935e 77%,#db5451 85%,#c0394f 92%,#b7344d 100%)"></i><i style="left:357px;top:71px;width:289px;height:1px;background:linear-gradient(90deg,#4f7cb6 0%,#4e91b7 8%,#61b1ad 15%,#8ed0a8 23%,#b5e2a7 31%,#cdeba3 38%,#e5f4a1 46%,#f1f8b2 54%,#fefcc4 62%,#fdd78c 69%,#f5925e 77%,#d95251 85%,#ba364e 92%,#b0304c 100%)"></i><i style="left:357px;top:72px;width:289px;height:1px;background:linear-gradient(90deg,#645baa 0%,#5277b4 8%,#569eb2 15%,#83cba8 23%,#b5e1a7 31%,#d1eca3 38%,#e7f5a4 46%,#f3f9b5 54%,#fef9bf 62%,#fccd84 69%,#f38357 77%,#d14652 85%,#b3324d 92%,#a92c4b 100%)"></i><i style="left:357px;top:73px;width:289px;height:1px;background:linear-gradient(90deg,#655aa9 0%,#507ab5 8%,#5aa5b0 15%,#8fd1a8 23%,#c3e7a5 31%,#e1f3a0 38%,#eff7af 46%,#fbfbc0 54%,#fef0b0 62%,#fcbe77 69%,#ef7350 77%,#c73e51 85%,#af2f4c 92%,#a72b4a 100%)"></i><i style="left:357px;top:74px;width:289px;height:1px;background:linear-gradient(90deg,#6658a8 0%,#5179b5 8%,#5ba6b0 15%,#93d3a8 23%,#c8e9a4 31%,#e6f5a2 38%,#f2f8b3 46%,#fefbc3 54%,#fdeba7 62%,#faad6a 69%,#e15d51 77%,#ae2f4c 85%,#9b2448 92%,#9b2448 100%)"></i><i style="left:357px;top:75px;width:289px;height:1px;background:linear-gradient(90deg,#6a52a6 0%,#5474b3 8%,#59a3b1 15%,#93d3a8 23%,#cbeaa4 31%,#e8f5a5 38%,#f3f9b5 46%,#fefac0 54%,#fdeba6 62%,#fbb06b 69%,#e26051 77%,#af304c 85%,#9b2448 92%,#9b2448 100%)"></i><i style="left:357px;top:76px;width:289px;height:1px;background:linear-gradient(90deg,#6a52a6 0%,#5573b3 8%,#58a1b2 15%,#8ed1a8 23%,#c6e8a4 31%,#e5f4a1 38%,#f1f8b1 46%,#fdfcc3 54%,#feefad 62%,#fbbd75 69%,#ee7050 77%,#c33c50 85%,#a82c4b 92%,#a02749 100%)"></i><i style="left:357px;top:77px;width:289px;height:1px;background:linear-gradient(90deg,#6559a9 0%,#5179b5 8%,#59a4b1 15%,#8ed0a8 23%,#c1e6a5 31%,#dff2a1 38%,#edf7ad 46%,#f9fabd 54%,#fef3b5 62%,#fccd83 69%,#f38457 77%,#d04552 85%,#a72b4a 92%,#9b2448 100%)"></i><i style="left:357px;top:78px;width:289px;height:1px;background:linear-gradient(90deg,#6a52a6 0%,#6756a8 8%,#4886ba 15%,#77c6a8 23%,#b7e2a6 31%,#daf0a1 38%,#ebf6a9 46%,#f6fab9 54%,#fef6ba 62%,#fdd78c 69%,#f5925e 77%,#d95251 85%,#af304c 92%,#a3294a 100%)"></i><i style="left:357px;top:79px;width:289px;height:1px;background:linear-gradient(90deg,#6a52a6 0%,#596cb0 8%,#5399b4 15%,#86cda8 23%,#bde5a6 31%,#ddf1a1 38%,#ecf7ab 46%,#f8fabc 54%,#fef5b7 62%,#fcd48a 69%,#f5905d 77%,#d95251 85%,#b3324d 92%,#a92c4b 100%)"></i><i style="left:357px;top:80px;width:289px;height:1px;background:linear-gradient(90deg,#6a52a6 0%,#625fab 8%,#4d8fb7 15%,#81caa8 23%,#bee5a5 31%,#e0f3a1 38%,#eef7ad 46%,#f9fabd 54%,#fef3b5 62%,#fdd58b 69%,#f5925e 77%,#d95351 85%,#b1314c 92%,#a62a4a 100%)"></i><i style="left:357px;top:81px;width:289px;height:1px;background:linear-gradient(90deg,#59a3b1 0%,#63b3ac 8%,#74c4a8 15%,#95d3a8 23%,#b8e3a6 31%,#d7efa2 38%,#e9f6a7 46%,#f5f9b7 54%,#fef8bd 62%,#fddb90 69%,#f6965f 77%,#da5351 85%,#ae2f4c 92%,#9f2749 100%)"></i><i style="left:357px;top:82px;width:289px;height:1px;background:linear-gradient(90deg,#6cc1a8 0%,#77c6a8 8%,#88cea8 15%,#a2d9a8 23%,#bee5a5 31%,#daf0a1 38%,#ebf6a9 46%,#f6fab9 54%,#fef6ba 62%,#fdd68b 69%,#f5925d 77%,#d95251 85%,#b3324d 92%,#a82c4b 100%)"></i><i style="left:357px;top:83px;width:289px;height:1px;background:linear-gradient(90deg,#9ad6a8 0%,#9cd7a8 8%,#a6dba8 15%,#b6e2a7 23%,#caeaa4 31%,#e2f3a0 38%,#eef7ae 46%,#fafbbf 54%,#fef1b2 62%,#fcc77e 69%,#f17b53 77%,#ca4051 85%,#a4294a 92%,#9b2448 100%)"></i><i style="left:357px;top:84px;width:289px;height:1px;background:linear-gradient(90deg,#74c5a8 0%,#7fcaa8 8%,#91d2a8 15%,#abdea8 23%,#c7e9a4 31%,#e3f3a0 38%,#eff7af 46%,#fbfbc0 54%,#fef0af 62%,#fcbe76 69%,#ec6e50 77%,#bc384f 85%,#9b2448 92%,#9b2448 100%)"></i><i style="left:357px;top:85px;width:289px;height:1px;background:linear-gradient(90deg,#a6dba8 0%,#a6dba8 8%,#addea8 15%,#bae4a6 23%,#cdeba3 31%,#e4f4a0 38%,#f0f8b1 46%,#fdfcc2 54%,#feeeac 62%,#fbb66f 69%,#e76751 77%,#b9364e 85%,#a3294a 92%,#9b2448 100%)"></i><i style="left:357px;top:86px;width:289px;height:1px;background:linear-gradient(90deg,#8fd1a8 0%,#94d3a8 8%,#a1d9a8 15%,#b4e1a7 23%,#cbeaa4 31%,#e4f4a0 38%,#f0f8b0 46%,#fcfbc2 54%,#f0f8b1 62%,#fde39a 69%,#f89f64 77%,#dd5951 85%,#c43c50 92%,#b6344d 100%)"></i><i style="left:357px;top:87px;width:289px;height:1px;background:linear-gradient(90deg,#94d3a8 0%,#99d5a8 8%,#a4daa8 15%,#b6e2a7 23%,#cceaa3 31%,#e4f4a0 38%,#f0f8b0 46%,#fcfbc1 54%,#f0f8b0 62%,#fde7a0 69%,#f9aa68 77%,#e46251 85%,#cc4152 92%,#bf394f 100%)"></i><i style="left:357px;top:88px;width:289px;height:1px;background:linear-gradient(90deg,#98d5a8 0%,#9ad6a8 8%,#a4daa8 15%,#b5e1a7 23%,#c9eaa4 31%,#e1f3a0 38%,#eef7ae 46%,#fafbbf 54%,#eef7ae 62%,#fde9a4 69%,#faac69 77%,#e46251 85%,#c63e51 92%,#b7354e 100%)"></i><i style="left:357px;top:89px;width:289px;height:1px;background:linear-gradient(90deg,#aedfa8 0%,#addfa8 8%,#b1e0a7 15%,#bde5a6 23%,#cdeba3 31%,#e3f4a0 38%,#eff7af 46%,#fafbbf 54%,#eef7ae 62%,#fdedab 69%,#fbb56e 77%,#e96950 85%,#c53c50 92%,#b3324d 100%)"></i><i style="left:357px;top:90px;width:289px;height:1px;background:linear-gradient(90deg,#6160ac 0%,#5c68ae 8%,#86cda8 15%,#d3eda2 23%,#fefac0 31%,#fdeba7 38%,#fcd086 46%,#f79c62 54%,#f17c54 62%,#e36251 69%,#eb6d50 77%,#de5951 85%,#d04552 92%,#bd384f 100%)"></i><i style="left:357px;top:91px;width:289px;height:1px;background:linear-gradient(90deg,#6559a9 0%,#6160ab 8%,#74c5a8 15%,#c5e8a4 23%,#fafbbf 31%,#fef2b3 38%,#fde195 46%,#fbb56e 54%,#f48d5b 62%,#ec6d50 69%,#f17a53 77%,#e76651 85%,#fbb770 92%,#f9a868 100%)"></i><i style="left:357px;top:92px;width:289px;height:1px;background:linear-gradient(90deg,#6061ac 0%,#5e65ad 8%,#76c6a8 15%,#c5e8a4 23%,#f9fabd 31%,#fef4b6 38%,#fde49a 46%,#fbba73 54%,#f5925e 62%,#ee7150 69%,#f27f55 77%,#e96a50 85%,#fbba73 92%,#faac69 100%)"></i><i style="left:357px;top:93px;width:289px;height:1px;background:linear-gradient(90deg,#635daa 0%,#6160ab 8%,#68bda9 15%,#b8e3a6 23%,#f3f9b4 31%,#fefbc3 38%,#feeead 46%,#fccd84 54%,#f9a566 62%,#f38658 69%,#f6945e 77%,#f28055 85%,#fccd84 92%,#fcbf77 100%)"></i><i style="left:357px;top:94px;width:289px;height:1px;background:linear-gradient(90deg,#6658a8 0%,#645ba9 8%,#64b6ab 15%,#b1e0a7 23%,#f0f8b0 31%,#fbfbc0 38%,#fef2b3 46%,#fcd48a 54%,#faad6a 62%,#f58f5c 69%,#f79e63 77%,#f48b5a 85%,#fdd68c 92%,#fcc87f 100%)"></i><i style="left:357px;top:95px;width:289px;height:1px;background:linear-gradient(90deg,#6658a8 0%,#655aa9 8%,#60afad 15%,#acdea8 23%,#edf7ad 31%,#f9fabc 38%,#fef5b8 46%,#fddd92 54%,#fbb46e 62%,#f79961 69%,#f9a767 77%,#f69660 85%,#fde195 92%,#fcd187 100%)"></i><i style="left:357px;top:96px;width:289px;height:1px;background:linear-gradient(90deg,#635daa 0%,#625fab 8%,#65b7ab 15%,#b3e1a7 23%,#f0f8b1 31%,#fcfbc1 38%,#fef2b2 46%,#fdd58b 54%,#faad6a 62%,#f5915d 69%,#f8a164 77%,#f5905d 85%,#fddc90 92%,#fcce84 100%)"></i><i style="left:357px;top:97px;width:289px;height:1px;background:linear-gradient(90deg,#6658a8 0%,#645caa 8%,#67bbaa 15%,#b5e2a7 23%,#f2f8b3 31%,#fefcc4 38%,#feefad 46%,#fccd84 54%,#f9a767 62%,#f48c5b 69%,#f79e63 77%,#f58e5c 85%,#fddb8f 92%,#fcd086 100%)"></i><i style="left:357px;top:98px;width:289px;height:1px;background:linear-gradient(90deg,#5f62ac 0%,#5d66ae 8%,#73c4a8 15%,#c2e6a5 23%,#f7fabb 31%,#fef6ba 38%,#fde7a0 46%,#fcc078 54%,#f79961 62%,#f27d54 69%,#f5905d 77%,#f27f55 85%,#fccf85 92%,#fcc67d 100%)"></i><i style="left:357px;top:99px;width:289px;height:1px;background:linear-gradient(90deg,#5e65ad 0%,#5b68af 8%,#7bc8a8 15%,#c8e9a4 23%,#fafbbf 31%,#fef3b4 38%,#fde297 46%,#fbb670 54%,#f5915d 62%,#f17852 69%,#f58f5c 77%,#f28156 85%,#fcd48a 92%,#fcce85 100%)"></i><i style="left:357px;top:100px;width:289px;height:1px;background:linear-gradient(90deg,#5474b3 0%,#5276b4 8%,#8dd0a8 15%,#d5eea2 23%,#fefbc2 31%,#fdeeab 38%,#fdd98e 46%,#faaa68 54%,#f38658 62%,#ef7350 69%,#f48d5b 77%,#f38256 85%,#fdd98d 92%,#fdd68c 100%)"></i><i style="left:357px;top:101px;width:289px;height:1px;background:linear-gradient(90deg,#5670b2 0%,#5572b2 8%,#84cca8 15%,#cfeca3 23%,#fcfcc2 31%,#fef1b1 38%,#fde195 46%,#fbb56f 54%,#f58e5c 62%,#f17a53 69%,#f6955f 77%,#f48c5b 85%,#f27d54 92%,#ed7050 100%)"></i><i style="left:357px;top:102px;width:289px;height:1px;background:linear-gradient(90deg,#5572b2 0%,#5473b3 8%,#7fcaa8 15%,#caeaa4 23%,#fafbbf 31%,#fef4b6 38%,#fde69e 46%,#fcbf77 54%,#f6955f 62%,#f27f55 69%,#f6955f 77%,#f48a5a 85%,#f17852 92%,#e76651 100%)"></i><i style="left:357px;top:103px;width:289px;height:1px;background:linear-gradient(90deg,#586db0 0%,#576fb1 8%,#7ac7a8 15%,#c7e9a4 23%,#f9fbbe 31%,#fef4b7 38%,#fde7a0 46%,#fcc179 54%,#f69860 62%,#f38658 69%,#f8a164 77%,#f79a61 85%,#f48c5b 92%,#f17c53 100%)"></i><i style="left:357px;top:104px;width:289px;height:1px;background:linear-gradient(90deg,#5c67ae 0%,#5a6aaf 8%,#70c3a8 15%,#c1e6a5 23%,#e8f5a6 31%,#f4f9b6 38%,#fefac1 46%,#fde297 54%,#fbbd76 62%,#faac69 69%,#f79d63 77%,#f6935e 85%,#f38357 92%,#ec6e50 100%)"></i><i style="left:357px;top:105px;width:289px;height:1px;background:linear-gradient(90deg,#5d66ae 0%,#5a6aaf 8%,#70c3a8 15%,#c3e7a5 23%,#e9f6a7 31%,#f5f9b8 38%,#fef9be 46%,#fde195 54%,#fbba73 62%,#f8a365 69%,#f58f5c 77%,#f28055 85%,#eb6d50 92%,#dc5651 100%)"></i><i style="left:357px;top:106px;width:289px;height:1px;background:linear-gradient(90deg,#5c67ae 0%,#5a6bb0 8%,#7cc8a8 15%,#c9e9a4 23%,#ebf6a9 31%,#f7fabb 38%,#fef3b5 46%,#fcd48a 54%,#fbb56f 62%,#f79c62 69%,#f48d5b 77%,#f27e55 85%,#ea6c50 92%,#df5b51 100%)"></i><i style="left:357px;top:107px;width:289px;height:1px;background:linear-gradient(90deg,#5b69af 0%,#596cb0 8%,#81caa8 15%,#cceaa3 23%,#ebf6aa 31%,#f8fabc 38%,#fef0b0 46%,#fcce84 54%,#fbb36d 62%,#f69961 69%,#f38859 77%,#f07651 85%,#e66551 92%,#db5551 100%)"></i><i style="left:357px;top:108px;width:289px;height:1px;background:linear-gradient(90deg,#5e65ad 0%,#5b68af 8%,#80caa8 15%,#cbeaa4 23%,#ebf6aa 31%,#f8fabb 38%,#feefae 46%,#fccb82 54%,#fbb36d 62%,#f79d62 69%,#f58e5c 77%,#f27f55 85%,#ed6f50 92%,#e46251 100%)"></i><i style="left:357px;top:109px;width:289px;height:1px;background:linear-gradient(90deg,#5b69af 0%,#596cb0 8%,#8fd1a8 15%,#d4eea2 23%,#eef7ad 31%,#fbfbbf 38%,#fde69f 46%,#fcc078 54%,#f9a968 62%,#f6945e 69%,#f28256 77%,#ee7250 85%,#e56451 92%,#dc5751 100%)"></i><i style="left:357px;top:110px;width:289px;height:1px;background:linear-gradient(90deg,#5b69af 0%,#596cb0 8%,#91d2a8 15%,#d6eea2 23%,#eef7ae 31%,#fbfbc0 38%,#fde59c 46%,#fcbe77 54%,#f9a767 62%,#f6955f 69%,#f38457 77%,#f07651 85%,#e96a50 92%,#e15e51 100%)"></i><i style="left:357px;top:111px;width:289px;height:1px;background:linear-gradient(90deg,#625daa 0%,#6061ac 8%,#7ec9a8 15%,#c7e9a4 23%,#e8f5a6 31%,#f5f9b8 38%,#fdeeac 46%,#fcc980 54%,#fbb56f 62%,#f79e63 69%,#f48b5a 77%,#f17852 85%,#e86850 92%,#de5951 100%)"></i><i style="left:357px;top:112px;width:289px;height:1px;background:linear-gradient(90deg,#6855a7 0%,#6559a9 8%,#74c5a8 15%,#c0e6a5 23%,#e5f4a2 31%,#f3f9b4 38%,#fef1b1 46%,#fcce84 54%,#fbba73 62%,#f9a566 69%,#f5935e 77%,#f28156 85%,#ed7050 92%,#e36151 100%)"></i><i style="left:357px;top:113px;width:289px;height:1px;background:linear-gradient(90deg,#6855a7 0%,#6559a9 8%,#70c3a8 15%,#bde5a6 23%,#e5f4a1 31%,#f2f8b3 38%,#fef4b7 46%,#fcd389 54%,#fbbc75 62%,#f8a365 69%,#f48c5b 77%,#f07551 85%,#e46251 92%,#d75051 100%)"></i><i style="left:357px;top:114px;width:289px;height:1px;background:linear-gradient(90deg,#6953a6 0%,#6757a8 8%,#6cc1a8 15%,#bae3a6 23%,#e1f3a0 31%,#eff8b0 38%,#fef7bb 46%,#fdd78c 54%,#fcc078 62%,#faaa69 69%,#f6965f 77%,#f28256 85%,#ec6e50 92%,#e15d51 100%)"></i><i style="left:357px;top:115px;width:289px;height:1px;background:linear-gradient(90deg,#6757a8 0%,#645ba9 8%,#6fc2a8 15%,#bde5a6 23%,#e5f4a2 31%,#f2f8b3 38%,#fef6b9 46%,#fdd68b 54%,#fbbc75 62%,#f8a365 69%,#f58e5c 77%,#f17852 85%,#e66551 92%,#d95251 100%)"></i><i style="left:357px;top:116px;width:289px;height:1px;background:linear-gradient(90deg,#645caa 0%,#625fab 8%,#70c3a8 15%,#bee5a5 23%,#e5f4a2 31%,#f2f8b3 38%,#fef7bc 46%,#fdd98e 54%,#fbbd76 62%,#f9a466 69%,#f5915d 77%,#f27e54 85%,#e96a50 92%,#dd5851 100%)"></i><i style="left:357px;top:117px;width:289px;height:1px;background:linear-gradient(90deg,#6160ab 0%,#5f63ad 8%,#75c5a8 15%,#c2e7a5 23%,#e7f5a5 31%,#f4f9b6 38%,#fef5b9 46%,#fdd78c 54%,#fbba73 62%,#f8a164 69%,#f58e5c 77%,#f17c53 85%,#e86850 92%,#dc5751 100%)"></i><i style="left:357px;top:118px;width:289px;height:1px;background:linear-gradient(90deg,#6062ac 0%,#5d66ae 8%,#78c6a8 15%,#c6e8a4 23%,#e9f6a7 31%,#f6f9b8 38%,#fef4b6 46%,#fcd48a 54%,#fbb871 62%,#f8a265 69%,#f6955f 77%,#f48859 85%,#f17751 92%,#e86950 100%)"></i><i style="left:357px;top:119px;width:289px;height:1px;background:linear-gradient(90deg,#5e65ad 0%,#5b69af 8%,#7bc8a8 15%,#c9e9a4 23%,#ebf6aa 31%,#f8fabc 38%,#fef2b3 46%,#fcd288 54%,#fbb46e 62%,#f79c62 69%,#f58e5c 77%,#f28055 85%,#ec6e50 92%,#e25f51 100%)"></i><i style="left:357px;top:120px;width:289px;height:1px;background:linear-gradient(90deg,#5c68ae 0%,#596cb0 8%,#7fc9a8 15%,#cceaa3 23%,#ecf7ac 31%,#f9fabd 38%,#fef1b1 46%,#fcd086 54%,#fbb26c 62%,#f79961 69%,#f48b5a 77%,#f27d54 85%,#ea6c50 92%,#e05c51 100%)"></i><i style="left:357px;top:121px;width:289px;height:1px;background:linear-gradient(90deg,#5d67ae 0%,#5a6bb0 8%,#7ec9a8 15%,#cbeaa4 23%,#ecf7ab 31%,#f9fabd 38%,#fef1b1 46%,#fcd086 54%,#fbb26c 62%,#f79961 69%,#f48c5b 77%,#f27e54 85%,#eb6d50 92%,#e15e51 100%)"></i><i style="left:357px;top:122px;width:289px;height:1px;background:linear-gradient(90deg,#6062ac 0%,#5c67ae 8%,#7cc8a8 15%,#cbeaa4 23%,#ecf7ac 31%,#f9fbbe 38%,#fef0af 46%,#fcce84 54%,#fbb06b 62%,#f69760 69%,#f48959 77%,#f17a52 85%,#e96950 92%,#de5a51 100%)"></i><i style="left:357px;top:123px;width:289px;height:1px;background:linear-gradient(90deg,#655aa9 0%,#6160ac 8%,#75c5a8 15%,#c6e8a4 23%,#eaf6a9 31%,#f8fabb 38%,#fef1b1 46%,#fcd086 54%,#fbb46d 62%,#f79b62 69%,#f48c5b 77%,#f17c54 85%,#ea6b50 92%,#e05c51 100%)"></i><i style="left:357px;top:124px;width:289px;height:1px;background:linear-gradient(90deg,#645caa 0%,#6062ac 8%,#7bc8a8 15%,#caeaa4 23%,#ecf6ab 31%,#f9fbbd 38%,#fdeeab 46%,#fcc980 54%,#fbb06b 62%,#f69961 69%,#f48a5a 77%,#f17a53 85%,#ea6b50 92%,#e15e51 100%)"></i><i style="left:357px;top:125px;width:289px;height:1px;background:linear-gradient(90deg,#6757a8 0%,#635daa 8%,#73c4a8 15%,#c4e7a5 23%,#eaf6a8 31%,#f7faba 38%,#fef2b2 46%,#fcd086 54%,#fbb56f 62%,#f89e63 69%,#f5905d 77%,#f28256 85%,#ee7150 92%,#e46351 100%)"></i><i style="left:357px;top:126px;width:289px;height:1px;background:linear-gradient(90deg,#6658a8 0%,#625eab 8%,#73c4a8 15%,#c3e7a5 23%,#e9f6a7 31%,#f6fab9 38%,#fef2b3 46%,#fcd187 54%,#fbb670 62%,#f8a265 69%,#f6965f 77%,#f4895a 85%,#f17a53 92%,#eb6d50 100%)"></i><i style="left:357px;top:127px;width:289px;height:1px;background:linear-gradient(90deg,#6658a8 0%,#625daa 8%,#73c4a8 15%,#c3e7a5 23%,#e9f5a7 31%,#f6fab9 38%,#fef2b2 46%,#fcd086 54%,#fbb770 62%,#f9a667 69%,#f79d62 77%,#f5935e 85%,#f38758 92%,#f17b53 100%)"></i><i style="left:357px;top:128px;width:289px;height:1px;background:linear-gradient(90deg,#645baa 0%,#615fab 8%,#74c5a8 15%,#c2e7a5 23%,#e7f5a4 31%,#f4f9b6 38%,#fef4b6 46%,#fcd389 54%,#fbba73 62%,#f9a868 69%,#f79c62 77%,#f5905c 85%,#f28156 92%,#ef7350 100%)"></i><i style="left:357px;top:129px;width:289px;height:1px;background:linear-gradient(90deg,#6658a8 0%,#635caa 8%,#71c3a8 15%,#bfe6a5 23%,#e6f5a3 31%,#f3f9b5 38%,#fef5b7 46%,#fcd48a 54%,#fbbc75 62%,#faab69 69%,#f89f64 77%,#f5925e 85%,#f38457 92%,#f07651 100%)"></i><i style="left:357px;top:130px;width:289px;height:1px;background:linear-gradient(90deg,#635daa 0%,#6061ac 8%,#74c5a8 15%,#c1e6a5 23%,#e6f5a3 31%,#f3f9b5 38%,#fef5b8 46%,#fdd58b 54%,#fbbd75 62%,#fbb06b 69%,#f9a968 77%,#f8a265 85%,#f69860 92%,#f58e5c 100%)"></i><i style="left:357px;top:131px;width:289px;height:1px;background:linear-gradient(90deg,#6559a9 0%,#635daa 8%,#71c3a8 15%,#bfe6a5 23%,#e6f5a3 31%,#f3f9b5 38%,#fef5b8 46%,#fdd68b 54%,#fbbd75 62%,#fbb06b 69%,#f9a867 77%,#f89f63 85%,#f6945f 92%,#f48a5a 100%)"></i><i style="left:357px;top:132px;width:289px;height:1px;background:linear-gradient(90deg,#635daa 0%,#6061ac 8%,#79c7a8 15%,#c6e8a4 23%,#e9f6a7 31%,#f6fab9 38%,#fef1b1 46%,#fcce84 54%,#fbb670 62%,#f9a767 69%,#f79e63 77%,#f6945e 85%,#f48959 92%,#f27d54 100%)"></i><i style="left:357px;top:133px;width:289px;height:1px;background:linear-gradient(90deg,#635caa 0%,#6061ac 8%,#77c6a8 15%,#c4e8a5 23%,#e9f5a6 31%,#f6f9b8 38%,#fef2b3 46%,#fcd086 54%,#fbb771 62%,#f9a566 69%,#f79961 77%,#f48c5b 85%,#f27e54 92%,#ee7050 100%)"></i><i style="left:357px;top:134px;width:289px;height:1px;background:linear-gradient(90deg,#6559a9 0%,#625eab 8%,#75c5a8 15%,#c3e7a5 23%,#e8f5a6 31%,#f5f9b8 38%,#fef2b3 46%,#fcd086 54%,#fbb771 62%,#f8a365 69%,#f6965f 77%,#f48859 85%,#f17952 92%,#ea6b50 100%)"></i><i style="left:357px;top:135px;width:289px;height:1px;background:linear-gradient(90deg,#6953a6 0%,#6559a9 8%,#6ec2a8 15%,#bfe5a5 23%,#e7f5a4 31%,#f4f9b6 38%,#fef4b6 46%,#fcd48a 54%,#fbb972 62%,#f8a265 69%,#f5925d 77%,#f28056 85%,#ec6e50 92%,#e25f51 100%)"></i><i style="left:357px;top:136px;width:289px;height:1px;background:linear-gradient(90deg,#6a52a6 0%,#6954a7 8%,#66b9aa 15%,#b6e2a7 23%,#e3f4a0 31%,#f1f8b2 38%,#fefbc2 46%,#fde094 54%,#fcc078 62%,#f9a968 69%,#f69760 77%,#f38558 85%,#ed6f50 92%,#e05d51 100%)"></i><i style="left:357px;top:137px;width:289px;height:1px;background:linear-gradient(90deg,#6a52a6 0%,#6a52a6 8%,#60aead 15%,#afdfa8 23%,#dff2a1 31%,#eff7b0 38%,#fefcc4 46%,#fde297 54%,#fcc27a 62%,#f9a867 69%,#f5925d 77%,#f17c54 85%,#e66551 92%,#d74f51 100%)"></i><i style="left:357px;top:138px;width:289px;height:1px;background:linear-gradient(90deg,#6a52a6 0%,#6a52a6 8%,#61b1ad 15%,#b0e0a7 23%,#dff2a1 31%,#eff7af 38%,#fbfbc0 46%,#fde59d 54%,#fcc57c 62%,#fbb16c 69%,#f89f63 77%,#f5905c 85%,#f17a53 92%,#e66551 100%)"></i><i style="left:357px;top:139px;width:289px;height:1px;background:linear-gradient(90deg,#6a52a6 0%,#6a52a6 8%,#61b1ad 15%,#afdfa8 23%,#dcf1a1 31%,#edf7ac 38%,#f9fbbe 46%,#fde7a0 54%,#fcc87f 62%,#fbb36c 69%,#f79e63 77%,#f48d5b 85%,#f07550 92%,#e25f51 100%)"></i><i style="left:357px;top:140px;width:289px;height:1px;background:linear-gradient(90deg,#6a52a6 0%,#6a52a6 8%,#61b0ad 15%,#addfa8 23%,#daf0a1 31%,#ecf7ab 38%,#f9fabd 46%,#fde8a1 54%,#fcca81 62%,#fbb972 69%,#faac69 77%,#f8a064 85%,#f58e5c 92%,#f17852 100%)"></i><i style="left:357px;top:141px;width:289px;height:1px;background:linear-gradient(90deg,#6954a7 0%,#6657a8 8%,#63b5ab 15%,#b0e0a7 23%,#dbf0a1 31%,#ecf6ab 38%,#f8fabc 46%,#fde9a3 54%,#fccb81 62%,#fbba73 69%,#faad6a 77%,#f8a164 85%,#f58e5c 92%,#f17852 100%)"></i><i style="left:357px;top:142px;width:289px;height:1px;background:linear-gradient(90deg,#6a52a6 0%,#6a52a6 8%,#5eabae 15%,#a7dca8 23%,#d3eda2 31%,#e8f5a6 38%,#f4f9b6 46%,#feeeac 54%,#fcd288 62%,#fcc37b 69%,#fbb871 77%,#fbb16b 85%,#f8a164 92%,#f48b5a 100%)"></i><i style="left:357px;top:143px;width:289px;height:1px;background:linear-gradient(90deg,#6a52a6 0%,#6a52a6 8%,#5da9af 15%,#a6dba8 23%,#d3eda2 31%,#e8f5a6 38%,#f4f9b7 46%,#fdedab 54%,#fcd187 62%,#fcc179 69%,#fbb66f 77%,#faac69 85%,#f79b61 92%,#f38457 100%)"></i><i style="left:357px;top:144px;width:289px;height:1px;background:linear-gradient(90deg,#6a52a6 0%,#6953a7 8%,#62b2ac 15%,#aedfa8 23%,#dbf0a1 31%,#ecf6ab 38%,#f8fabc 46%,#fde8a2 54%,#fcca81 62%,#fbb973 69%,#faad6a 77%,#f8a164 85%,#f58f5c 92%,#f17952 100%)"></i><i style="left:357px;top:145px;width:289px;height:1px;background:linear-gradient(90deg,#6a53a6 0%,#6658a8 8%,#66b9aa 15%,#b6e2a7 23%,#e3f3a0 31%,#f0f8b1 38%,#fdfcc2 46%,#fde39a 54%,#fcc47b 62%,#fbb770 69%,#fbb06b 77%,#f9a968 85%,#f79c62 92%,#f48d5b 100%)"></i><i style="left:357px;top:146px;width:289px;height:1px;background:linear-gradient(90deg,#6559a9 0%,#625eab 8%,#6fc2a8 15%,#c0e6a5 23%,#e8f5a5 31%,#f5f9b7 38%,#fef6b9 46%,#fdd88d 54%,#fbba73 62%,#f9a867 69%,#f79d63 77%,#f5935e 85%,#f38357 92%,#f07450 100%)"></i><i style="left:357px;top:147px;width:289px;height:1px;background:linear-gradient(90deg,#6659a9 0%,#615fab 8%,#74c4a8 15%,#c4e8a5 23%,#eaf6a8 31%,#f7faba 38%,#fef2b3 46%,#fcd187 54%,#fbb670 62%,#f9a867 69%,#f8a265 77%,#f79c62 85%,#f5935e 92%,#f4895a 100%)"></i><i style="left:357px;top:148px;width:289px;height:1px;background:linear-gradient(90deg,#5e65ad 0%,#5a6aaf 8%,#84cca8 15%,#d1eca3 23%,#eff7af 31%,#fcfbc1 38%,#fdeba7 46%,#fcc57c 54%,#faab69 62%,#f79b61 69%,#f6935e 77%,#f48b5a 85%,#f28156 92%,#f17751 100%)"></i><i style="left:357px;top:149px;width:289px;height:1px;background:linear-gradient(90deg,#5e64ad 0%,#5b69af 8%,#87cda8 15%,#d3eda2 23%,#f0f8b0 31%,#fdfcc3 38%,#fde8a1 46%,#fcbf77 54%,#f9a667 62%,#f5925e 69%,#f38558 77%,#f17852 85%,#eb6c50 92%,#e36151 100%)"></i><i style="left:357px;top:150px;width:289px;height:1px;background:linear-gradient(90deg,#625fab 0%,#5e65ad 8%,#84cca8 15%,#d1eca3 23%,#eff7af 31%,#fdfcc2 38%,#fde8a1 46%,#fcbe76 54%,#f9a767 62%,#f6955f 69%,#f48959 77%,#f27d54 85%,#ee7150 92%,#e76751 100%)"></i><i style="left:357px;top:151px;width:289px;height:1px;background:linear-gradient(90deg,#6559a9 0%,#625fab 8%,#79c7a8 15%,#c7e9a4 23%,#eaf6a8 31%,#f7fabb 38%,#feeead 46%,#fcc980 54%,#fbb36d 62%,#f79c62 69%,#f48c5b 77%,#f17b53 85%,#ea6b50 92%,#e15d51 100%)"></i><i style="left:357px;top:152px;width:289px;height:1px;background:linear-gradient(90deg,#6a52a6 0%,#6658a8 8%,#71c3a8 15%,#c1e6a5 23%,#e8f5a5 31%,#f6f9b8 38%,#fef1b1 46%,#fcce84 54%,#fbb66f 62%,#f79b61 69%,#f38658 77%,#ee7150 85%,#e25f51 92%,#d64d52 100%)"></i><i style="left:357px;top:153px;width:289px;height:1px;background:linear-gradient(90deg,#6a52a6 0%,#6659a9 8%,#72c4a8 15%,#c2e7a5 23%,#e8f5a6 31%,#f6fab9 38%,#fef0af 46%,#fccc83 54%,#fbb56e 62%,#f79961 69%,#f38457 77%,#ed6f50 85%,#e05d51 92%,#d44b52 100%)"></i><i style="left:357px;top:154px;width:289px;height:1px;background:linear-gradient(90deg,#6a52a6 0%,#6657a8 8%,#6ec2a8 15%,#bee5a5 23%,#e6f5a3 31%,#f4f9b6 38%,#fef3b5 46%,#fcd288 54%,#fbb872 62%,#f79961 69%,#f28055 77%,#e86850 85%,#d95251 92%,#c83e51 100%)"></i><i style="left:357px;top:155px;width:289px;height:1px;background:linear-gradient(90deg,#5f62ac 0%,#5d66ae 8%,#79c7a8 15%,#c6e8a4 23%,#e9f6a7 31%,#f5f9b8 38%,#fef4b6 46%,#fcd489 54%,#fbb670 62%,#f6965f 69%,#f27e55 77%,#e86950 85%,#d95251 92%,#c83f51 100%)"></i><i style="left:357px;top:156px;width:289px;height:1px;background:linear-gradient(90deg,#5573b3 0%,#5474b3 8%,#84cca8 15%,#cdeba3 23%,#ebf6aa 31%,#f7faba 38%,#fef3b5 46%,#fcd489 54%,#fbb46e 62%,#f6935e 69%,#f17c54 77%,#e86850 85%,#d85151 92%,#c73e51 100%)"></i><i style="left:357px;top:157px;width:289px;height:1px;background:linear-gradient(90deg,#4e7db7 0%,#4e7db6 8%,#8cd0a8 15%,#d3eda2 23%,#eef7ae 31%,#f9fbbd 38%,#fef2b3 46%,#fcd288 54%,#fbb16b 62%,#f5925d 69%,#f27d54 77%,#ea6b50 85%,#dc5651 92%,#cd4152 100%)"></i><i style="left:357px;top:158px;width:289px;height:1px;background:linear-gradient(90deg,#5671b2 0%,#5473b3 8%,#7fc9a8 15%,#cbeaa4 23%,#ecf6ab 31%,#f8fabb 38%,#fef6b9 46%,#fdd98e 54%,#fbb46e 62%,#f6965f 69%,#f27e55 77%,#eb6c50 85%,#dc5751 92%,#ca4051 100%)"></i><i style="left:357px;top:159px;width:289px;height:1px;background:linear-gradient(90deg,#586eb1 0%,#5572b2 8%,#80caa8 15%,#cdeba3 23%,#edf7ac 31%,#f9fabd 38%,#fef3b5 46%,#fdd58b 54%,#fbb36d 62%,#f79961 69%,#f38759 77%,#f17852 85%,#e66651 92%,#da5351 100%)"></i><i style="left:357px;top:160px;width:289px;height:1px;background:linear-gradient(90deg,#615fab 0%,#5e65ad 8%,#6cc1a8 15%,#c1e6a5 23%,#e9f6a7 31%,#f5f9b8 38%,#fef9be 46%,#fde095 54%,#fbba73 62%,#f9a566 69%,#f6935e 77%,#f38658 85%,#ef7350 92%,#e15e51 100%)"></i><i style="left:357px;top:161px;width:289px;height:1px;background:linear-gradient(90deg,#6061ac 0%,#5d66ae 8%,#73c4a8 15%,#c5e8a4 23%,#ebf6a9 31%,#f7fabb 38%,#fef6ba 46%,#fdda8f 54%,#fbb670 62%,#f89f64 69%,#f58e5c 77%,#f28156 85%,#ec6e50 92%,#df5b51 100%)"></i><i style="left:357px;top:162px;width:289px;height:1px;background:linear-gradient(90deg,#625eab 0%,#5f64ad 8%,#6fc2a8 15%,#c0e6a5 23%,#e8f5a6 31%,#f5f9b7 38%,#fef9bf 46%,#fdde93 54%,#fbba73 62%,#f9a466 69%,#f5935e 77%,#f38558 85%,#ee7150 92%,#e15d51 100%)"></i><i style="left:357px;top:163px;width:289px;height:1px;background:linear-gradient(90deg,#5e64ad 0%,#5b69af 8%,#73c4a8 15%,#c4e7a5 23%,#e9f6a8 31%,#f6f9b8 38%,#fef8bd 46%,#fdde92 54%,#fbba73 62%,#f9a968 69%,#f79c62 77%,#f6945e 85%,#f38457 92%,#ee7150 100%)"></i><i style="left:357px;top:164px;width:289px;height:1px;background:linear-gradient(90deg,#5d65ad 0%,#5b69af 8%,#74c5a8 15%,#c3e7a5 23%,#e9f5a7 31%,#f5f9b7 38%,#fef9be 46%,#fdde92 54%,#fbbb73 62%,#f9a867 69%,#f79a61 77%,#f58f5c 85%,#f27d54 92%,#ea6b50 100%)"></i><i style="left:357px;top:165px;width:289px;height:1px;background:linear-gradient(90deg,#5b69af 0%,#596cb0 8%,#7ac7a8 15%,#c7e9a4 23%,#eaf6a9 31%,#f6fab9 38%,#fef6ba 46%,#fdd98e 54%,#fbb871 62%,#f9a466 69%,#f69760 77%,#f48c5b 85%,#f17a53 92%,#e96a50 100%)"></i><i style="left:357px;top:166px;width:289px;height:1px;background:linear-gradient(90deg,#5e64ad 0%,#5b69af 8%,#78c6a8 15%,#c7e8a4 23%,#ebf6a9 31%,#f7faba 38%,#fef5b8 46%,#fdd78d 54%,#fbb66f 62%,#f89e63 69%,#f58e5c 77%,#f28056 85%,#ec6e50 92%,#e05c51 100%)"></i><i style="left:357px;top:167px;width:289px;height:1px;background:linear-gradient(90deg,#5b69af 0%,#596cb0 8%,#7ac7a8 15%,#c8e9a4 23%,#ebf6a9 31%,#f7faba 38%,#fef5b8 46%,#fdd88d 54%,#fbb770 62%,#f8a365 69%,#f69760 77%,#f48d5b 85%,#f17c54 92%,#eb6c50 100%)"></i><i style="left:357px;top:168px;width:289px;height:1px;background:linear-gradient(90deg,#5e64ad 0%,#5b68af 8%,#79c7a8 15%,#c7e9a4 23%,#ebf6a9 31%,#f7faba 38%,#fef4b6 46%,#fdd58a 54%,#fbb56f 62%,#f79b61 69%,#f4895a 77%,#f17952 85%,#e76651 92%,#da5451 100%)"></i><i style="left:357px;top:169px;width:289px;height:1px;background:linear-gradient(90deg,#635daa 0%,#5f62ac 8%,#6fc2a8 15%,#c1e6a5 23%,#e9f5a6 31%,#f5f9b8 38%,#fef8bd 46%,#fddc91 54%,#fbb972 62%,#f8a164 69%,#f58f5c 77%,#f27f55 85%,#ea6b50 92%,#dd5851 100%)"></i><i style="left:357px;top:170px;width:289px;height:1px;background:linear-gradient(90deg,#6559a9 0%,#625eab 8%,#67bca9 15%,#b9e3a6 23%,#e5f4a1 31%,#f1f8b2 38%,#fdfcc3 46%,#fde49b 54%,#fcc179 62%,#f9a968 69%,#f5925e 77%,#f28056 85%,#e96a50 92%,#d95251 100%)"></i><i style="left:357px;top:171px;width:289px;height:1px;background:linear-gradient(90deg,#5d65ad 0%,#5c68ae 8%,#6cc1a8 15%,#bde5a6 23%,#e5f4a2 31%,#f1f8b2 38%,#fdfcc2 46%,#fde59d 54%,#fcc179 62%,#faab69 69%,#f6955f 77%,#f38457 85%,#ec6f50 92%,#dc5751 100%)"></i><i style="left:357px;top:172px;width:289px;height:1px;background:linear-gradient(90deg,#6559a9 0%,#635daa 8%,#63b3ac 15%,#b2e0a7 23%,#def2a1 31%,#edf7ad 38%,#f9fabd 46%,#fdeba7 54%,#fcc87f 62%,#fbb06b 69%,#f6955f 77%,#f28055 85%,#e86950 92%,#d44b52 100%)"></i><i style="left:357px;top:173px;width:289px;height:1px;background:linear-gradient(90deg,#635daa 0%,#6160ab 8%,#63b4ac 15%,#b2e0a7 23%,#ddf1a1 31%,#ecf6ab 38%,#f8fabc 46%,#fdeca9 54%,#fcca81 62%,#fbb56e 69%,#f79c62 77%,#f48a5a 85%,#f07350 92%,#dc5751 100%)"></i><i style="left:357px;top:174px;width:289px;height:1px;background:linear-gradient(90deg,#635daa 0%,#6160ab 8%,#66baaa 15%,#b6e2a7 23%,#e2f3a0 31%,#eff7af 38%,#fafbbf 46%,#fde8a1 54%,#fcc57d 62%,#fbb06b 69%,#f79a61 77%,#f48859 85%,#ee7250 92%,#dd5951 100%)"></i><i style="left:357px;top:175px;width:289px;height:1px;background:linear-gradient(90deg,#5c67ae 0%,#5c67ae 8%,#6abfa8 15%,#b8e3a6 23%,#e1f3a0 31%,#eef7ad 38%,#fafbbe 46%,#fde9a3 54%,#fcc77e 62%,#fbb16b 69%,#f79961 77%,#f38758 85%,#ed6f50 92%,#dc5651 100%)"></i><i style="left:357px;top:176px;width:289px;height:1px;background:linear-gradient(90deg,#5e64ad 0%,#5c67ae 8%,#71c3a8 15%,#c0e6a5 23%,#e7f5a4 31%,#f3f9b5 38%,#fefbc2 46%,#fde196 54%,#fbbd76 62%,#f9a566 69%,#f5905d 77%,#f27e55 85%,#e86950 92%,#da5351 100%)"></i><i style="left:357px;top:177px;width:289px;height:1px;background:linear-gradient(90deg,#596cb0 0%,#586eb1 8%,#78c6a8 15%,#c5e8a4 23%,#e9f5a6 31%,#f4f9b6 38%,#fef9bf 46%,#fddf93 54%,#fbbb74 62%,#f9a666 69%,#f6945f 77%,#f38658 85%,#ef7250 92%,#e25f51 100%)"></i><i style="left:357px;top:178px;width:289px;height:1px;background:linear-gradient(90deg,#5e64ad 0%,#5c68ae 8%,#74c5a8 15%,#c3e7a5 23%,#e8f5a6 31%,#f4f9b7 38%,#fef8bd 46%,#fddd91 54%,#fbbb73 62%,#f9a566 69%,#f6945f 77%,#f38758 85%,#ef7350 92%,#e36151 100%)"></i><i style="left:357px;top:179px;width:289px;height:1px;background:linear-gradient(90deg,#6659a9 0%,#625daa 8%,#6bc0a8 15%,#bce4a6 23%,#e6f5a2 31%,#f2f8b4 38%,#fefac0 46%,#fddf93 54%,#fcbe76 62%,#f9a968 69%,#f79961 77%,#f48b5a 85%,#f07651 92%,#e56451 100%)"></i><i style="left:357px;top:180px;width:289px;height:1px;background:linear-gradient(90deg,#6a52a6 0%,#6757a8 8%,#66baaa 15%,#b6e2a7 23%,#e3f4a0 31%,#f0f8b1 38%,#fefcc4 46%,#fde297 54%,#fcc27a 62%,#fbb06b 69%,#f8a265 77%,#f6955f 85%,#f38357 92%,#ed7050 100%)"></i><i style="left:357px;top:181px;width:289px;height:1px;background:linear-gradient(90deg,#6a52a6 0%,#6757a8 8%,#67baaa 15%,#b6e2a7 23%,#e3f4a0 31%,#f0f8b1 38%,#fefcc4 46%,#fde196 54%,#fcc27a 62%,#faae6a 69%,#f79e63 77%,#f5905c 85%,#f17b53 92%,#e86950 100%)"></i><i style="left:357px;top:182px;width:289px;height:1px;background:linear-gradient(90deg,#6a52a6 0%,#6a52a6 8%,#63b4ac 15%,#b0e0a7 23%,#dcf1a1 31%,#edf7ad 38%,#fbfbc0 46%,#fde59c 54%,#fcc77e 62%,#fbb46e 69%,#f9a566 77%,#f69660 85%,#f28256 92%,#ec6e50 100%)"></i><i style="left:357px;top:183px;width:289px;height:1px;background:linear-gradient(90deg,#6659a9 0%,#645caa 8%,#68bca9 15%,#b6e2a7 23%,#e0f2a1 31%,#eef7ae 38%,#fcfbc1 46%,#fde49a 54%,#fcc57d 62%,#fbb36d 69%,#f8a365 77%,#f6955f 85%,#f28156 92%,#eb6d50 100%)"></i><i style="left:357px;top:184px;width:289px;height:1px;background:linear-gradient(90deg,#6160ac 0%,#6062ac 8%,#69bea9 15%,#b7e2a6 23%,#e0f2a1 31%,#edf7ad 38%,#fafbbe 46%,#fde7a0 54%,#fcc87f 62%,#fbb670 69%,#f9a767 77%,#f79a61 85%,#f38759 92%,#ee7150 100%)"></i><i style="left:357px;top:185px;width:289px;height:1px;background:linear-gradient(90deg,#6757a8 0%,#645ba9 8%,#65b8ab 15%,#b3e1a7 23%,#def2a1 31%,#edf7ac 38%,#f9fbbd 46%,#fde7a1 54%,#fcc87f 62%,#fbb46d 69%,#f8a064 77%,#f5905d 85%,#f17952 92%,#e46351 100%)"></i><i style="left:357px;top:186px;width:289px;height:1px;background:linear-gradient(90deg,#655aa9 0%,#635daa 8%,#66b9aa 15%,#b5e2a7 23%,#e1f3a0 31%,#eef7ae 38%,#fafbbf 46%,#fde7a0 54%,#fcc67d 62%,#fbb26c 69%,#f89e63 77%,#f58f5c 85%,#f17952 92%,#e46251 100%)"></i><i style="left:357px;top:187px;width:289px;height:1px;background:linear-gradient(90deg,#6559a9 0%,#635daa 8%,#63b4ac 15%,#b3e1a7 23%,#dff2a1 31%,#edf7ad 38%,#f9fbbe 46%,#fdeaa5 54%,#fcc87f 62%,#fbb36d 69%,#f79b62 77%,#f48a5a 85%,#f07450 92%,#de5951 100%)"></i><i style="left:357px;top:188px;width:289px;height:1px;background:linear-gradient(90deg,#6a52a6 0%,#6757a8 8%,#61b1ad 15%,#b1e0a7 23%,#dff2a1 31%,#eef7ae 38%,#fafbbf 46%,#fde9a3 54%,#fcc67d 62%,#fbb16b 69%,#f79961 77%,#f38759 85%,#ee7050 92%,#dc5751 100%)"></i><i style="left:357px;top:189px;width:289px;height:1px;background:linear-gradient(90deg,#6659a9 0%,#635daa 8%,#66b9aa 15%,#b7e2a6 23%,#e3f4a0 31%,#f0f8b0 38%,#fcfbc1 46%,#fde69e 54%,#fcc37b 62%,#faad6a 69%,#f69760 77%,#f38658 85%,#ed6f50 92%,#dd5851 100%)"></i><i style="left:357px;top:190px;width:289px;height:1px;background:linear-gradient(90deg,#6559a9 0%,#625eaa 8%,#67bba9 15%,#b8e3a6 23%,#e4f4a0 31%,#f0f8b1 38%,#fcfcc2 46%,#fde59c 54%,#fcc279 62%,#f9a868 69%,#f5905d 77%,#f17c54 85%,#e66551 92%,#d54c52 100%)"></i><i style="left:357px;top:191px;width:289px;height:1px;background:linear-gradient(90deg,#6160ab 0%,#5f63ac 8%,#6bc1a8 15%,#bbe4a6 23%,#e4f4a0 31%,#f0f8b1 38%,#fdfcc2 46%,#fde39a 54%,#fcc27a 62%,#faab69 69%,#f69660 77%,#f38558 85%,#ec6e50 92%,#de5951 100%)"></i><i style="left:357px;top:192px;width:289px;height:1px;background:linear-gradient(90deg,#6160ab 0%,#5f63ac 8%,#6dc1a8 15%,#bce4a6 23%,#e5f4a2 31%,#f1f8b2 38%,#fefcc4 46%,#fde297 54%,#fcc078 62%,#faaa69 69%,#f69860 77%,#f48859 85%,#ef7250 92%,#e15e51 100%)"></i><i style="left:357px;top:193px;width:289px;height:1px;background:linear-gradient(90deg,#5e65ad 0%,#5c67ae 8%,#71c3a8 15%,#bee5a5 23%,#e5f4a2 31%,#f1f8b2 38%,#fefcc4 46%,#fde297 54%,#fcc078 62%,#faaa68 69%,#f69760 77%,#f38658 85%,#ed7050 92%,#e05c51 100%)"></i><i style="left:357px;top:194px;width:289px;height:1px;background:linear-gradient(90deg,#6062ac 0%,#5e64ad 8%,#71c3a8 15%,#bee5a5 23%,#e5f4a2 31%,#f1f8b3 38%,#fefac0 46%,#fddf93 54%,#fcc078 62%,#faab69 69%,#f79d62 77%,#f58f5c 85%,#f17b53 92%,#e96a50 100%)"></i><i style="left:357px;top:195px;width:289px;height:1px;background:linear-gradient(90deg,#6856a7 0%,#6559a9 8%,#66baaa 15%,#b4e1a7 23%,#def2a1 31%,#eef7ad 38%,#fbfbc0 46%,#fde59c 54%,#fcc67e 62%,#fbb36d 69%,#f8a265 77%,#f5925e 85%,#f17c54 92%,#e86850 100%)"></i><i style="left:357px;top:196px;width:289px;height:1px;background:linear-gradient(90deg,#6757a8 0%,#655aa9 8%,#67baaa 15%,#b4e1a7 23%,#ddf1a1 31%,#edf7ac 38%,#fbfbc0 46%,#fde59c 54%,#fcc87f 62%,#fbb771 69%,#faad6a 77%,#f8a265 85%,#f5915d 92%,#f27f55 100%)"></i><i style="left:357px;top:197px;width:289px;height:1px;background:linear-gradient(90deg,#6a52a6 0%,#6a52a6 8%,#62b3ac 15%,#addfa8 23%,#d8efa2 31%,#ebf6a9 38%,#f9fabd 46%,#fde7a0 54%,#fccc83 62%,#fbbc75 69%,#fbb36d 77%,#f9a968 85%,#f69860 92%,#f38759 100%)"></i><i style="left:357px;top:198px;width:289px;height:1px;background:linear-gradient(90deg,#6a52a6 0%,#6a52a6 8%,#64b7ab 15%,#b2e0a7 23%,#ddf1a1 31%,#edf7ad 38%,#fdfcc2 46%,#fde399 54%,#fcc67e 62%,#fbb26c 69%,#f8a365 77%,#f6935e 85%,#f27e55 92%,#ea6c50 100%)"></i><i style="left:357px;top:199px;width:289px;height:1px;background:linear-gradient(90deg,#6a52a6 0%,#6a52a6 8%,#67bba9 15%,#b6e2a7 23%,#e0f2a1 31%,#eff7b0 38%,#fef9bf 46%,#fddc90 54%,#fcc27a 62%,#fbaf6b 69%,#f8a064 77%,#f5905d 85%,#f27e55 92%,#ec6e50 100%)"></i><i style="left:357px;top:200px;width:289px;height:1px;background:linear-gradient(90deg,#6a52a6 0%,#6a52a6 8%,#68bca9 15%,#b6e2a7 23%,#e0f3a1 31%,#f0f8b0 38%,#fef7bc 46%,#fdd98e 54%,#fcc179 62%,#faae6a 69%,#f79d63 77%,#f48c5b 85%,#f17a53 92%,#e96a50 100%)"></i><i style="left:357px;top:201px;width:289px;height:1px;background:linear-gradient(90deg,#6a52a6 0%,#6a52a6 8%,#68bda9 15%,#b8e3a6 23%,#e3f4a0 31%,#f1f8b3 38%,#fef4b7 46%,#fcd388 54%,#fbbd76 62%,#faab69 69%,#f79b62 77%,#f48b5a 85%,#f17a53 92%,#ea6c50 100%)"></i><i style="left:357px;top:202px;width:289px;height:1px;background:linear-gradient(90deg,#6a52a6 0%,#6855a7 8%,#6ec2a8 15%,#bce4a6 23%,#e5f4a1 31%,#f2f8b3 38%,#fef4b5 46%,#fcd288 54%,#fbbc75 62%,#f9a968 69%,#f69860 77%,#f38658 85%,#f07550 92%,#e76751 100%)"></i><i style="left:357px;top:203px;width:289px;height:1px;background:linear-gradient(90deg,#6a52a6 0%,#6954a7 8%,#6bc1a8 15%,#bce4a6 23%,#e5f4a1 31%,#f2f8b4 38%,#fef4b6 46%,#fcd288 54%,#fbbc75 62%,#faaa68 69%,#f79c62 77%,#f48d5b 85%,#f27e54 92%,#ed6f50 100%)"></i><i style="left:357px;top:204px;width:289px;height:1px;background:linear-gradient(90deg,#6a52a6 0%,#6756a8 8%,#6ac0a8 15%,#bbe4a6 23%,#e5f4a1 31%,#f2f8b3 38%,#fef6ba 46%,#fdd78c 54%,#fcbe77 62%,#fbaf6b 69%,#f9a566 77%,#f79961 85%,#f48c5b 92%,#f27f55 100%)"></i><i style="left:357px;top:205px;width:289px;height:1px;background:linear-gradient(90deg,#625eab 0%,#6062ac 8%,#74c4a8 15%,#c1e6a5 23%,#e7f5a3 31%,#f3f9b5 38%,#fef6ba 46%,#fdd78c 54%,#fbbd75 62%,#faad6a 69%,#f8a365 77%,#f79961 85%,#f48c5b 92%,#f27f55 100%)"></i><i style="left:357px;top:206px;width:289px;height:1px;background:linear-gradient(90deg,#5f63ad 0%,#5d66ae 8%,#77c6a8 15%,#c4e7a5 23%,#e8f5a5 31%,#f4f9b6 38%,#fef5b9 46%,#fdd78c 54%,#fbbb74 62%,#faab69 69%,#f8a365 77%,#f79961 85%,#f48d5b 92%,#f28055 100%)"></i><i style="left:357px;top:207px;width:289px;height:1px;background:linear-gradient(90deg,#5573b3 0%,#5573b3 8%,#81cba8 15%,#c9eaa4 23%,#e9f6a7 31%,#f5f9b7 38%,#fef6ba 46%,#fdd88d 54%,#fbbb74 62%,#faad6a 69%,#f9a667 77%,#f8a064 85%,#f6945f 92%,#f48959 100%)"></i><i style="left:357px;top:208px;width:289px;height:1px;background:linear-gradient(90deg,#576fb1 0%,#576fb1 8%,#7bc8a8 15%,#c4e7a5 23%,#e7f5a4 31%,#f2f8b3 38%,#fef9c0 46%,#fdde92 54%,#fcc078 62%,#fbb46e 69%,#faae6a 77%,#f9a968 85%,#f79d63 92%,#f5925e 100%)"></i><i style="left:357px;top:209px;width:289px;height:1px;background:linear-gradient(90deg,#5c68ae 0%,#5c68af 8%,#76c5a8 15%,#c0e6a5 23%,#e5f4a2 31%,#f1f8b2 38%,#fefac0 46%,#fdde92 54%,#fcc179 62%,#fbb16c 69%,#f9a767 77%,#f79d63 85%,#f58f5c 92%,#f28055 100%)"></i><i style="left:357px;top:210px;width:289px;height:1px;background:linear-gradient(90deg,#596cb0 0%,#596cb0 8%,#7ac7a8 15%,#c3e7a5 23%,#e6f5a3 31%,#f1f8b3 38%,#fef9bf 46%,#fddd91 54%,#fcc078 62%,#faaf6b 69%,#f9a566 77%,#f79a61 85%,#f48b5a 92%,#f17c53 100%)"></i><i style="left:357px;top:211px;width:289px;height:1px;background:linear-gradient(90deg,#5a6aaf 0%,#5a6aaf 8%,#78c6a8 15%,#c1e6a5 23%,#e5f4a1 31%,#f0f8b1 38%,#fefac0 46%,#fdde92 54%,#fcc27a 62%,#fbb46d 69%,#faac69 77%,#f8a365 85%,#f69760 92%,#f48a5a 100%)"></i><i style="left:357px;top:212px;width:289px;height:1px;background:linear-gradient(90deg,#615fab 0%,#6061ac 8%,#6ec2a8 15%,#bbe4a6 23%,#e3f4a0 31%,#eff7b0 38%,#fefbc3 46%,#fde195 54%,#fcc47b 62%,#fbb56e 69%,#faac69 77%,#f8a365 85%,#f6955f 92%,#f38758 100%)"></i><i style="left:357px;top:213px;width:289px;height:1px;background:linear-gradient(90deg,#6a52a6 0%,#6856a7 8%,#68bca9 15%,#b6e2a7 23%,#dff2a1 31%,#eff7af 38%,#fefbc2 46%,#fddf93 54%,#fcc47c 62%,#fbb46e 69%,#f9a968 77%,#f79c62 85%,#f48c5b 92%,#f27d54 100%)"></i><i style="left:357px;top:214px;width:289px;height:1px;background:linear-gradient(90deg,#6a52a6 0%,#6953a7 8%,#68bca9 15%,#b7e2a6 23%,#e1f3a0 31%,#f0f8b0 38%,#fef9be 46%,#fddc90 54%,#fcc279 62%,#fbb16b 69%,#f8a465 77%,#f6965f 85%,#f38658 92%,#f07651 100%)"></i><i style="left:357px;top:215px;width:289px;height:1px;background:linear-gradient(90deg,#6a52a6 0%,#6a52a6 8%,#69bea9 15%,#b9e3a6 23%,#e4f4a0 31%,#f2f8b3 38%,#fef5b8 46%,#fdd58b 54%,#fcbe76 62%,#faaa69 69%,#f79b61 77%,#f48a5a 85%,#f17952 92%,#e96a50 100%)"></i><i style="left:357px;top:216px;width:289px;height:1px;background:linear-gradient(90deg,#6a52a6 0%,#6953a6 8%,#6cc1a8 15%,#bbe4a6 23%,#e5f4a1 31%,#f2f8b4 38%,#fef3b5 46%,#fcd287 54%,#fbbc75 62%,#faac69 69%,#f79e63 77%,#f5905c 85%,#f28156 92%,#ef7350 100%)"></i><i style="left:357px;top:217px;width:289px;height:1px;background:linear-gradient(90deg,#6a52a6 0%,#6856a7 8%,#6fc2a8 15%,#bee5a5 23%,#e6f5a3 31%,#f4f9b5 38%,#fef2b3 46%,#fccf85 54%,#fbba73 62%,#f9a968 69%,#f79c62 77%,#f58e5c 85%,#f28055 92%,#ef7250 100%)"></i><i style="left:357px;top:218px;width:289px;height:1px;background:linear-gradient(90deg,#6a52a6 0%,#6953a6 8%,#6bc1a8 15%,#bce4a6 23%,#e5f4a1 31%,#f2f8b4 38%,#fef3b5 46%,#fcd187 54%,#fbbc74 62%,#f9a767 69%,#f69760 77%,#f38658 85%,#f07450 92%,#e66651 100%)"></i><i style="left:357px;top:219px;width:289px;height:1px;background:linear-gradient(90deg,#635caa 0%,#6061ac 8%,#76c5a8 15%,#c4e7a5 23%,#e8f5a6 31%,#f5f9b8 38%,#fef3b4 46%,#fcd288 54%,#fbb771 62%,#f8a265 69%,#f6945e 77%,#f38558 85%,#f07450 92%,#e66651 100%)"></i><i style="left:357px;top:220px;width:289px;height:1px;background:linear-gradient(90deg,#645baa 0%,#6160ab 8%,#73c4a8 15%,#c2e7a5 23%,#e8f5a5 31%,#f5f9b7 38%,#fef5b7 46%,#fdd58b 54%,#fbb972 62%,#f89f63 69%,#f48d5b 77%,#f17a53 85%,#e76751 92%,#db5651 100%)"></i><i style="left:357px;top:221px;width:289px;height:1px;background:linear-gradient(90deg,#5d67ae 0%,#5b69af 8%,#7ac7a8 15%,#c6e8a4 23%,#e9f6a7 31%,#f5f9b8 38%,#fef5b8 46%,#fdd68b 54%,#fbb972 62%,#f9a466 69%,#f69860 77%,#f48b5a 85%,#f17a53 92%,#ea6b50 100%)"></i><i style="left:357px;top:222px;width:289px;height:1px;background:linear-gradient(90deg,#5a6bb0 0%,#586db0 8%,#7fc9a8 15%,#caeaa4 23%,#eaf6a9 31%,#f6fab9 38%,#fef3b5 46%,#fcd489 54%,#fbb670 62%,#f8a064 69%,#f6945e 77%,#f38758 85%,#f07551 92%,#e76751 100%)"></i><i style="left:357px;top:223px;width:289px;height:1px;background:linear-gradient(90deg,#5573b3 0%,#5473b3 8%,#84cca8 15%,#cceba3 23%,#ebf6a9 31%,#f6fab9 38%,#fef3b5 46%,#fcd489 54%,#fbb670 62%,#f79d63 69%,#f48d5b 77%,#f27d54 85%,#ea6b50 92%,#df5a51 100%)"></i><i style="left:357px;top:224px;width:289px;height:1px;background:linear-gradient(90deg,#576fb1 0%,#576fb1 8%,#82cba8 15%,#caeaa4 23%,#eaf6a8 31%,#f5f9b8 38%,#fef3b5 46%,#fcd388 54%,#fbb771 62%,#f79e63 69%,#f48c5b 77%,#f17a53 85%,#e86850 92%,#dc5751 100%)"></i><i style="left:357px;top:225px;width:289px;height:1px;background:linear-gradient(90deg,#586db0 0%,#576eb1 8%,#84cca8 15%,#cceaa3 23%,#eaf6a9 31%,#f6fab9 38%,#fef1b1 46%,#fccf85 54%,#fbb56f 62%,#f79d62 69%,#f48c5b 77%,#f17a53 85%,#e96950 92%,#de5951 100%)"></i><i style="left:357px;top:226px;width:289px;height:1px;background:linear-gradient(90deg,#635caa 0%,#6160ab 8%,#76c6a8 15%,#c3e7a5 23%,#e8f5a5 31%,#f5f9b7 38%,#fef3b4 46%,#fcd187 54%,#fbb871 62%,#f8a064 69%,#f58f5c 77%,#f17c54 85%,#ea6b50 92%,#df5b51 100%)"></i><i style="left:357px;top:227px;width:289px;height:1px;background:linear-gradient(90deg,#5f63ac 0%,#5d66ae 8%,#7bc8a8 15%,#c6e8a4 23%,#e9f5a6 31%,#f5f9b8 38%,#fef2b4 46%,#fcd187 54%,#fbb871 62%,#f8a466 69%,#f69660 77%,#f48859 85%,#f17852 92%,#e96a50 100%)"></i><i style="left:357px;top:228px;width:289px;height:1px;background:linear-gradient(90deg,#6658a8 0%,#625eab 8%,#73c4a8 15%,#c2e7a5 23%,#e8f5a6 31%,#f5f9b8 38%,#fef3b4 46%,#fcd287 54%,#fbb770 62%,#f8a064 69%,#f58f5c 77%,#f27e55 85%,#eb6d50 92%,#e15d51 100%)"></i><i style="left:357px;top:229px;width:289px;height:1px;background:linear-gradient(90deg,#6756a8 0%,#645caa 8%,#70c3a8 15%,#c0e6a5 23%,#e7f5a4 31%,#f4f9b7 38%,#fef4b6 46%,#fcd389 54%,#fbb972 62%,#f8a265 69%,#f5925e 77%,#f28156 85%,#ed6f50 92%,#e36051 100%)"></i><i style="left:357px;top:230px;width:289px;height:1px;background:linear-gradient(90deg,#6a52a6 0%,#6659a9 8%,#6ac0a8 15%,#bee5a5 23%,#e7f5a5 31%,#f5f9b7 38%,#fef6b9 46%,#fdd88d 54%,#fbb972 62%,#f8a365 69%,#f6955f 77%,#f38759 85%,#f07450 92%,#e56451 100%)"></i><i style="left:357px;top:231px;width:289px;height:1px;background:linear-gradient(90deg,#6a52a6 0%,#6a52a6 8%,#65b8ab 15%,#b7e2a6 23%,#e5f4a2 31%,#f3f9b5 38%,#fef7bb 46%,#fdd98e 54%,#fbbc74 62%,#f9a767 69%,#f79961 77%,#f48b5a 85%,#f17852 92%,#e86950 100%)"></i></div><i class="cr" style="top:311px;background:linear-gradient(90deg,#f08b64 26.1%,#f9f1d2 26.7%,#f6f4dc 39.2%)"></i><i class="cr" style="top:312px;background:linear-gradient(90deg,#f9c292 26.1%,#f4f3de 26.7%,#eff2e3 39.2%)"></i><i class="cr" style="top:313px;background:linear-gradient(90deg,#face9f 26.1%,#e9f0ea 26.7%,#f7f4da 39.2%)"></i><i class="cr" style="top:314px;background:linear-gradient(90deg,#f6ab7d 11.64%,#ca4132 11.64% 26.1%,#f9f3d5 26.7%,#ecf1e6 39.2%)"></i><i class="cr" style="top:315px;background:linear-gradient(90deg,#f9c697 11.64%,#c94032 11.64% 26.1%,#f9f4d6 26.7%,#d6e7ef 39.2%)"></i><i class="cr" style="top:316px;background:linear-gradient(90deg,#f8bc8c 11.64%,#b62c2d 11.64% 26.1%,#faedca 26.7%,#d9e8f0 39.2%)"></i><i class="cr" style="top:317px;background:linear-gradient(90deg,#f8bb8b 11.64%,#d34b35 11.64% 26.1%,#f9f3d5 26.7%,#f9efce 39.2%)"></i><i class="cr" style="top:318px;background:linear-gradient(90deg,#fbe1b7 11.64%,#c03730 11.64% 26.1%,#f3f3df 26.7%,#bad6e8 39.2%)"></i><i class="cr" style="top:319px;background:linear-gradient(90deg,#f9ca9b 11.64%,#e46b4c 11.64% 26.1%,#f5f4dd 26.7%,#f3f3df 39.2%)"></i><i class="cr" style="top:320px;background:linear-gradient(90deg,#f6ae80 11.64%,#df6245 11.64% 26.1%,#edf1e5 26.7%,#e8f0ec 39.2%)"></i><i class="cr" style="top:321px;background:linear-gradient(90deg,#f08760 11.64%,#c43b31 11.64% 26.1%,#fad5a6 26.7%,#eff2e3 39.2%)"></i><i class="cr" style="top:322px;background:linear-gradient(90deg,#f9ca9b 26.1%,#f8f5da 26.7%,#dceaf1 39.2%)"></i><i class="cr" style="top:323px;background:linear-gradient(90deg,#f5f4dd 26.1%,#c3dbea 26.7%,#e3eef0 39.2%)"></i><i class="cr" style="top:324px;background:linear-gradient(90deg,#cb4232 26.1%,#faebc7 26.7%,#f0f2e2 39.2%)"></i><i class="cr" style="top:325px;background:linear-gradient(90deg,#d8543b 26.1%,#faeecc 26.7%,#f5f4dc 39.2%)"></i><i class="cr" style="top:326px;background:linear-gradient(90deg,#f8b989 26.1%,#f2f3e0 26.7%,#e7efed 39.2%)"></i><i class="cr" style="top:327px;background:linear-gradient(90deg,#f9f2d3 26.1%,#f0f2e3 26.7%,#ddebf1 39.2%)"></i><i class="cr" style="top:328px;background:linear-gradient(90deg,#ee7b58 26.1%,#f5f4dd 26.7%,#d0e3ee 39.2%)"></i><i class="cr" style="top:329px;background:linear-gradient(90deg,#f9c798 26.1%,#fae8c2 26.7%,#e4eff0 39.2%)"></i><i class="cr" style="top:330px;background:linear-gradient(90deg,#fae3ba 26.1%,#dceaf1 26.7%,#cce1ed 39.2%)"></i><i class="cr" style="top:331px;background:linear-gradient(90deg,#facfa0 26.1%,#e3eef1 26.7%,#f8f5d9 39.2%)"></i><i class="cr" style="top:332px;background:linear-gradient(90deg,#face9f 26.1%,#f2f3e0 26.7%,#f8f5d9 39.2%)"></i><i class="cr" style="top:333px;background:linear-gradient(90deg,#e46a4b 26.1%,#f8f5d9 26.7%,#f5f4dc 39.2%)"></i><i class="cr" style="top:334px;background:linear-gradient(90deg,#f39970 26.1%,#f4f4de 26.7%,#cee2ed 39.2%)"></i><i class="cr" style="top:335px;background:linear-gradient(90deg,#f49f74 26.1%,#faedcb 26.7%,#f1f3e1 39.2%)"></i><i class="cr" style="top:336px;background:linear-gradient(90deg,#fae4bb 26.1%,#ebf1e8 26.7%,#d7e7ef 39.2%)"></i><i class="cr" style="top:337px;background:linear-gradient(90deg,#facfa0 26.1%,#faeecd 26.7%,#f9f5d8 39.2%)"></i><i class="cr" style="top:338px;background:linear-gradient(90deg,#f49e73 26.1%,#f9f1d2 26.7%,#f5f4dd 39.2%)"></i><i class="cr" style="top:339px;background:linear-gradient(90deg,#f9c394 26.1%,#f1f3e1 26.7%,#e0edf2 39.2%)"></i><i class="cr" style="top:340px;background:linear-gradient(90deg,#f9c596 26.1%,#fbe1b6 26.7%,#f3f3df 39.2%)"></i><i class="cr" style="top:341px;background:linear-gradient(90deg,#fad0a2 26.1%,#ebf1e8 26.7%,#d7e7ef 39.2%)"></i><i class="cr" style="top:342px;background:linear-gradient(90deg,#cf4633 26.1%,#eef2e5 26.7%,#e3eef1 39.2%)"></i><i class="cr" style="top:343px;background:linear-gradient(90deg,#cd4433 26.1%,#eaf0e9 26.7%,#f1f2e2 39.2%)"></i><i class="cr" style="top:344px;background:linear-gradient(90deg,#d24a34 26.1%,#f3f3de 26.7%,#e7f0ec 39.2%)"></i><i class="cr" style="top:345px;background:linear-gradient(90deg,#d65239 26.1%,#ecf1e7 26.7%,#edf1e5 39.2%)"></i><i class="cr" style="top:346px;background:linear-gradient(90deg,#cc4333 26.1%,#e7efed 26.7%,#ebf1e8 39.2%)"></i><i class="cr" style="top:347px;background:linear-gradient(90deg,#d34c36 26.1%,#e9f0ea 26.7%,#e6efee 39.2%)"></i><i class="cr" style="top:348px;background:linear-gradient(90deg,#ba302e 26.1%,#edf1e5 26.7%,#e9f0ea 39.2%)"></i><i class="cr" style="top:349px;background:linear-gradient(90deg,#cb4232 26.1%,#edf1e5 26.7%,#eaf0e9 39.2%)"></i><i class="cr" style="top:350px;background:linear-gradient(90deg,#c94032 26.1%,#eff2e3 26.7%,#ecf1e6 39.2%)"></i><i class="cr" style="top:351px;background:linear-gradient(90deg,#c63d31 26.1%,#eff2e4 26.7%,#e8f0eb 39.2%)"></i><i class="cr" style="top:352px;background:linear-gradient(90deg,#d7533a 26.1%,#e8f0eb 26.7%,#e9f0ea 39.2%)"></i><i class="cr" style="top:353px;background:linear-gradient(90deg,#de5f43 26.1%,#deecf1 26.7%,#e7efed 39.2%)"></i><i class="cr" style="top:354px;background:linear-gradient(90deg,#e06447 26.1%,#dceaf1 26.7%,#e8f0ec 39.2%)"></i><i class="cr" style="top:355px;background:linear-gradient(90deg,#da593f 26.1%,#ecf1e7 26.7%,#e5efef 39.2%)"></i><i class="cr" style="top:356px;background:linear-gradient(90deg,#de6044 26.1%,#e3eef1 26.7%,#e4eff0 39.2%)"></i><i class="cr" style="top:357px;background:linear-gradient(90deg,#d65139 26.1%,#e7efed 26.7%,#e7f0ec 39.2%)"></i><i class="cr" style="top:358px;background:linear-gradient(90deg,#e26749 26.1%,#e8f0ec 26.7%,#d7e8ef 39.2%)"></i><i class="cr" style="top:359px;background:linear-gradient(90deg,#d55038 26.1%,#eef2e4 26.7%,#edf1e5 39.2%)"></i><i class="cr" style="top:360px;background:linear-gradient(90deg,#bb312e 26.1%,#e8f0eb 26.7%,#f0f2e2 39.2%)"></i><i class="cr" style="top:361px;background:linear-gradient(90deg,#c23930 26.1%,#f2f3df 26.7%,#e7f0ec 39.2%)"></i><i class="cr" style="top:362px;background:linear-gradient(90deg,#ce4633 26.1%,#f5f4dd 26.7%,#e3eef1 39.2%)"></i><i class="cr" style="top:363px;background:linear-gradient(90deg,#cd4533 26.1%,#f1f3e1 26.7%,#e7efed 39.2%)"></i><i class="cr" style="top:364px;background:linear-gradient(90deg,#cc4332 26.1%,#e8f0ec 26.7%,#e7efed 39.2%)"></i><i class="cr" style="top:365px;background:linear-gradient(90deg,#db5b40 26.1%,#eaf0e9 26.7%,#e7efed 39.2%)"></i><i class="cr" style="top:366px;background:linear-gradient(90deg,#c63d31 26.1%,#e9f0ea 26.7%,#eaf1e8 39.2%)"></i><i class="cr" style="top:367px;background:linear-gradient(90deg,#c63d31 26.1%,#f0f2e2 26.7%,#e5efef 39.2%)"></i><i class="cr" style="top:368px;background:linear-gradient(90deg,#ca4232 26.1%,#ebf1e8 26.7%,#ecf1e6 39.2%)"></i><i class="cr" style="top:369px;background:linear-gradient(90deg,#d04733 26.1%,#f2f3e0 26.7%,#eaf0e9 39.2%)"></i><i class="cr" style="top:370px;background:linear-gradient(90deg,#e66d4d 26.1%,#dfecf1 26.7%,#e8f0eb 39.2%)"></i><i class="cr" style="top:371px;background:linear-gradient(90deg,#d65139 26.1%,#f0f2e2 26.7%,#eaf0e9 39.2%)"></i><i class="cr" style="top:372px;background:linear-gradient(90deg,#db5a3f 26.1%,#eef2e4 26.7%,#e3eef0 39.2%)"></i><i class="cr" style="top:373px;background:linear-gradient(90deg,#e87050 26.1%,#f0f2e2 26.7%,#d4e5ef 39.2%)"></i><i class="cr" style="top:374px;background:linear-gradient(90deg,#cb4232 26.1%,#f1f3e1 26.7%,#ebf1e8 39.2%)"></i><i class="cr" style="top:375px;background:linear-gradient(90deg,#e46a4b 26.1%,#ecf1e7 26.7%,#dae9f0 39.2%)"></i><i class="cr" style="top:376px;background:linear-gradient(90deg,#e16447 26.1%,#e6efed 26.7%,#e9f0ea 39.2%)"></i><i class="cr" style="top:377px;background:linear-gradient(90deg,#d04733 26.1%,#f0f2e3 26.7%,#e8f0ec 39.2%)"></i><i class="cr" style="top:378px;background:linear-gradient(90deg,#d55038 26.1%,#e6efee 26.7%,#e7f0ec 39.2%)"></i><i class="cr" style="top:379px;background:linear-gradient(90deg,#cb4332 26.1%,#ebf1e8 26.7%,#ecf1e6 39.2%)"></i><i class="cr" style="top:380px;background:linear-gradient(90deg,#d9573d 26.1%,#e7f0ec 26.7%,#e8f0eb 39.2%)"></i><i class="cr" style="top:381px;background:linear-gradient(90deg,#d55038 26.1%,#edf1e5 26.7%,#e9f0ea 39.2%)"></i><i class="cr" style="top:382px;background:linear-gradient(90deg,#bb302e 26.1%,#eef2e4 26.7%,#ecf1e7 39.2%)"></i><i class="cr" style="top:383px;background:linear-gradient(90deg,#de5f43 26.1%,#e9f0ea 26.7%,#eaf0e9 39.2%)"></i><i class="cr" style="top:384px;background:linear-gradient(90deg,#db593f 26.1%,#e9f0ea 26.7%,#ebf1e8 39.2%)"></i><i class="cr" style="top:385px;background:linear-gradient(90deg,#d54f37 26.1%,#e9f0eb 26.7%,#edf1e5 39.2%)"></i><i class="cr" style="top:386px;background:linear-gradient(90deg,#d24b35 26.1%,#edf1e5 26.7%,#eff2e4 39.2%)"></i><i class="cr" style="top:387px;background:linear-gradient(90deg,#c33a30 26.1%,#ecf1e6 26.7%,#e9f0ea 39.2%)"></i><i class="cr" style="top:388px;background:linear-gradient(90deg,#d04834 26.1%,#ebf1e8 26.7%,#dfecf1 39.2%)"></i><i class="cr" style="top:389px;background:linear-gradient(90deg,#c13830 26.1%,#eef2e4 26.7%,#eff2e3 39.2%)"></i><i class="cr" style="top:390px;background:linear-gradient(90deg,#df6145 26.1%,#eef2e4 26.7%,#e3eef0 39.2%)"></i><i class="cr" style="top:391px;background:linear-gradient(90deg,#d44e37 26.1%,#e5efef 26.7%,#e8f0eb 39.2%)"></i><i class="cr" style="top:392px;background:linear-gradient(90deg,#d65139 26.1%,#eaf0e9 26.7%,#eaf1e9 39.2%)"></i><i class="cr" style="top:393px;background:linear-gradient(90deg,#d34b35 26.1%,#f0f2e2 26.7%,#e7efec 39.2%)"></i><i class="cr" style="top:394px;background:linear-gradient(90deg,#dd5e42 26.1%,#e9f0ea 26.7%,#e9f0ea 39.2%)"></i><i class="cr" style="top:395px;background:linear-gradient(90deg,#c23830 26.1%,#f2f3e0 26.7%,#e4eef0 39.2%)"></i><i class="cr" style="top:396px;background:linear-gradient(90deg,#cf4633 26.1%,#f3f3df 26.7%,#eaf0e9 39.2%)"></i><i class="cr" style="top:397px;background:#fbfbf8"></i><i class="cr" style="top:398px;background:linear-gradient(90deg,#6997ca 26.1%,#fad4a6 26.7%,#fbdfb3 39.2%)"></i><i class="cr" style="top:399px;background:linear-gradient(90deg,#7aa8d4 26.1%,#fad1a3 26.7%,#f9c697 39.2%)"></i><i class="cr" style="top:400px;background:linear-gradient(90deg,#78a6d3 26.1%,#fbdaac 26.7%,#facfa0 39.2%)"></i><i class="cr" style="top:401px;background:linear-gradient(90deg,#7eabd5 26.1%,#fad6a8 26.7%,#fbd8aa 39.2%)"></i><i class="cr" style="top:402px;background:linear-gradient(90deg,#4f7dbb 26.1%,#fbd7a9 26.7%,#fae7c0 39.2%)"></i><i class="cr" style="top:403px;background:linear-gradient(90deg,#5280bd 26.1%,#faecc9 26.7%,#fae3ba 39.2%)"></i><i class="cr" style="top:404px;background:linear-gradient(90deg,#7ca9d5 26.1%,#fad2a3 26.7%,#facfa0 39.2%)"></i><i class="cr" style="top:405px;background:linear-gradient(90deg,#618fc5 26.1%,#fae5bd 26.7%,#fad5a6 39.2%)"></i><i class="cr" style="top:406px;background:linear-gradient(90deg,#77a5d3 26.1%,#fad2a4 26.7%,#f9c899 39.2%)"></i><i class="cr" style="top:407px;background:linear-gradient(90deg,#6391c6 26.1%,#fbdeb1 26.7%,#fad2a4 39.2%)"></i><i class="cr" style="top:408px;background:linear-gradient(90deg,#8db6da 26.1%,#facb9c 26.7%,#f8bc8d 39.2%)"></i><i class="cr" style="top:409px;background:linear-gradient(90deg,#6896c9 26.1%,#fad4a6 26.7%,#fbddb0 39.2%)"></i><i class="cr" style="top:410px;background:linear-gradient(90deg,#5a88c1 26.1%,#fbdbad 26.7%,#fbd7a9 39.2%)"></i><i class="cr" style="top:411px;background:linear-gradient(90deg,#6e9ccd 26.1%,#fbd6a8 26.7%,#faca9b 39.2%)"></i><i class="cr" style="top:412px;background:linear-gradient(90deg,#5e8cc4 26.1%,#fae7c0 26.7%,#fae3ba 39.2%)"></i><i class="cr" style="top:413px;background:linear-gradient(90deg,#5f8dc4 26.1%,#facd9e 26.7%,#fbdcad 39.2%)"></i><i class="cr" style="top:414px;background:linear-gradient(90deg,#6492c7 26.1%,#fbdfb3 26.7%,#f9be8f 39.2%)"></i><i class="cr" style="top:415px;background:linear-gradient(90deg,#6896c9 26.1%,#fbdfb3 26.7%,#fbd8aa 39.2%)"></i><i class="cr" style="top:416px;background:linear-gradient(90deg,#7aa8d4 26.1%,#facfa0 26.7%,#fbdeb1 39.2%)"></i><i class="cr" style="top:417px;background:linear-gradient(90deg,#608ec5 26.1%,#fad5a6 26.7%,#fbdeb2 39.2%)"></i><i class="cr" style="top:418px;background:linear-gradient(90deg,#5987c1 26.1%,#fad1a2 26.7%,#fbd9ab 39.2%)"></i><i class="cr" style="top:419px;background:linear-gradient(90deg,#6d9bcc 26.1%,#fbd9ab 26.7%,#fbd7a9 39.2%)"></i><i class="cr" style="top:420px;background:linear-gradient(90deg,#6795c9 26.1%,#fae4bb 26.7%,#fbd9aa 39.2%)"></i><i class="cr" style="top:421px;background:linear-gradient(90deg,#5c8ac2 26.1%,#fbd8aa 26.7%,#faeac5 39.2%)"></i><i class="cr" style="top:422px;background:linear-gradient(90deg,#6f9dce 26.1%,#fbd7a9 26.7%,#f9c696 39.2%)"></i><i class="cr" style="top:423px;background:linear-gradient(90deg,#618fc5 26.1%,#fae6be 26.7%,#fae2b9 39.2%)"></i><i class="cr" style="top:424px;background:linear-gradient(90deg,#608ec5 26.1%,#fbe0b4 26.7%,#fbdaac 39.2%)"></i><i class="cr" style="top:425px;background:linear-gradient(90deg,#7ca9d5 26.1%,#f9bf8f 26.7%,#fbdcae 39.2%)"></i><i class="cr" style="top:426px;background:linear-gradient(90deg,#9ac0df 26.1%,#f6ad7f 26.7%,#facc9d 39.2%)"></i><i class="cr" style="top:427px;background:linear-gradient(90deg,#4f7dbb 26.1%,#fbe0b5 26.7%,#fbe2b7 39.2%)"></i><i class="cr" style="top:428px;background:linear-gradient(90deg,#4f7dbb 26.1%,#fbdfb3 26.7%,#fae4bb 39.2%)"></i><i class="cr" style="top:429px;background:linear-gradient(90deg,#6593c8 26.1%,#fad2a4 26.7%,#fad2a3 39.2%)"></i><i class="cr" style="top:430px;background:linear-gradient(90deg,#6e9ccd 26.1%,#f8bc8c 26.7%,#fbdeb1 39.2%)"></i><i class="cr" style="top:431px;background:linear-gradient(90deg,#6a98cb 26.1%,#f9bf8f 26.7%,#fad3a5 39.2%)"></i><i class="cr" style="top:432px;background:linear-gradient(90deg,#6d9bcc 26.1%,#fbd7a8 26.7%,#fad2a3 39.2%)"></i><i class="cr" style="top:433px;background:linear-gradient(90deg,#5e8cc4 26.1%,#f9c394 26.7%,#faca9b 39.2%)"></i><i class="cr" style="top:434px;background:linear-gradient(90deg,#75a3d1 26.1%,#f9c999 26.7%,#fbe2b8 39.2%)"></i><i class="cr" style="top:435px;background:linear-gradient(90deg,#88b2d9 26.1%,#f7b485 26.7%,#f9c99a 39.2%)"></i><i class="cr" style="top:436px;background:linear-gradient(90deg,#84afd7 26.1%,#f8b787 26.7%,#fad3a5 39.2%)"></i><i class="cr" style="top:437px;background:linear-gradient(90deg,#6896c9 26.1%,#fbe0b5 26.7%,#fae6bf 39.2%)"></i><i class="cr" style="top:438px;background:linear-gradient(90deg,#74a2d1 26.1%,#f8be8e 26.7%,#fad1a2 39.2%)"></i><i class="cr" style="top:439px;background:linear-gradient(90deg,#73a1d0 26.1%,#f8bb8b 26.7%,#facd9e 39.2%)"></i><i class="cr" style="top:440px;background:linear-gradient(90deg,#6896ca 26.1%,#f9c394 26.7%,#fae6bf 39.2%)"></i><i class="cr" style="top:441px;background:linear-gradient(90deg,#84b0d7 26.1%,#f7b585 26.7%,#faca9b 39.2%)"></i><i class="cr" style="top:442px;background:linear-gradient(90deg,#8eb7db 26.1%,#f39d72 26.7%,#facd9e 39.2%)"></i><i class="cr" style="top:443px;background:linear-gradient(90deg,#81add6 26.1%,#f9c798 26.7%,#facc9d 39.2%)"></i><i class="cr" style="top:444px;background:linear-gradient(90deg,#77a5d2 26.1%,#facc9d 26.7%,#f9c696 39.2%)"></i><i class="cr" style="top:445px;background:linear-gradient(90deg,#6b99cb 26.1%,#f8b888 26.7%,#fbddaf 39.2%)"></i><i class="cr" style="top:446px;background:linear-gradient(90deg,#85b0d8 26.1%,#f49d73 26.7%,#fbd8aa 39.2%)"></i><i class="cr" style="top:447px;background:linear-gradient(90deg,#5f8dc4 26.1%,#f9c596 26.7%,#fad4a5 39.2%)"></i><i class="cr" style="top:448px;background:linear-gradient(90deg,#709ece 26.1%,#f9c495 26.7%,#fad2a3 39.2%)"></i><i class="cr" style="top:449px;background:linear-gradient(90deg,#456aaf 26.1%,#ebf1e8 26.7%,#e4eef0 39.2%)"></i><i class="cr" style="top:450px;background:linear-gradient(90deg,#eaf0e9 26.1%,#f5f4dd 26.7%,#f0f2e2 39.2%)"></i><i class="cr" style="top:451px;background:linear-gradient(90deg,#cde1ed 26.1%,#eef2e5 26.7%,#f5f4dc 39.2%)"></i><i class="cr" style="top:452px;background:linear-gradient(90deg,#b9d5e8 26.1%,#f4f3de 26.7%,#eff2e3 39.2%)"></i><i class="cr" style="top:453px;background:linear-gradient(90deg,#f9f3d4 26.1%,#f9f2d4 26.7%,#f9f0d0 39.2%)"></i><i class="cr" style="top:454px;background:linear-gradient(90deg,#eff2e3 26.1%,#f5f4dc 26.7%,#f9f1d2 39.2%)"></i><i class="cr" style="top:455px;background:linear-gradient(90deg,#ecf1e7 26.1%,#f9f1d2 26.7%,#f5f4dc 39.2%)"></i><i class="cr" style="top:456px;background:linear-gradient(90deg,#a6c9e3 26.1%,#e87150 26.7%,#f8b888 39.2%)"></i><i class="cr" style="top:457px;background:linear-gradient(90deg,#92badc 26.1%,#ed7a56 26.7%,#fbdfb3 39.2%)"></i><i class="cr" style="top:458px;background:linear-gradient(90deg,#ddebf1 26.1%,#e56b4c 26.7%,#f9c090 39.2%)"></i><i class="cr" style="top:459px;background:linear-gradient(90deg,#4569af 26.1%,#f6ac7e 26.7%,#f9efce 39.2%)"></i><i class="cr" style="top:460px;background:linear-gradient(90deg,#b5d3e7 26.1%,#f18f67 26.7%,#fbdeb1 39.2%)"></i><i class="cr" style="top:461px;background:linear-gradient(90deg,#d9e8f0 26.1%,#d54f38 26.7%,#f9f0cf 39.2%)"></i><i class="cr" style="top:462px;background:linear-gradient(90deg,#6f9dce 26.1%,#fad0a1 26.7%,#fbd6a8 39.2%)"></i><i class="cr" style="top:463px;background:linear-gradient(90deg,#6f9dcd 26.1%,#fbe0b5 26.7%,#fbdfb4 39.2%)"></i><i class="cr" style="top:464px;background:linear-gradient(90deg,#84b0d7 26.1%,#f9c292 26.7%,#fad0a1 39.2%)"></i><i class="cr" style="top:465px;background:linear-gradient(90deg,#6593c8 26.1%,#fad5a6 26.7%,#fbdcae 39.2%)"></i><i class="cr" style="top:466px;background:linear-gradient(90deg,#80add6 26.1%,#facd9e 26.7%,#fbd9aa 39.2%)"></i><i class="cr" style="top:467px;background:linear-gradient(90deg,#79a7d3 26.1%,#fbddaf 26.7%,#facb9c 39.2%)"></i><i class="cr" style="top:468px;background:linear-gradient(90deg,#8eb7db 26.1%,#fbd8a9 26.7%,#f9ca9b 39.2%)"></i><i class="cr" style="top:469px;background:linear-gradient(90deg,#6290c6 26.1%,#facb9c 26.7%,#fad0a2 39.2%)"></i><i class="cr" style="top:470px;background:linear-gradient(90deg,#719fcf 26.1%,#f9c899 26.7%,#fbdbad 39.2%)"></i><i class="cr" style="top:471px;background:linear-gradient(90deg,#6997ca 26.1%,#fbdbad 26.7%,#fbdaac 39.2%)"></i><i class="cr" style="top:472px;background:linear-gradient(90deg,#6f9dce 26.1%,#fad1a3 26.7%,#fbddaf 39.2%)"></i><i class="cr" style="top:473px;background:linear-gradient(90deg,#85b0d8 26.1%,#f9c293 26.7%,#fbd6a8 39.2%)"></i><i class="cr" style="top:474px;background:linear-gradient(90deg,#5a88c1 26.1%,#fad1a2 26.7%,#fad0a2 39.2%)"></i><i class="cr" style="top:475px;background:linear-gradient(90deg,#72a0cf 26.1%,#fbdfb3 26.7%,#fad3a4 39.2%)"></i><i class="cr" style="top:476px;background:linear-gradient(90deg,#96bcdd 26.1%,#fbddaf 26.7%,#f9c798 39.2%)"></i><i class="cr" style="top:477px;background:linear-gradient(90deg,#6f9dce 26.1%,#fbdcae 26.7%,#fad1a3 39.2%)"></i><i class="cr" style="top:478px;background:linear-gradient(90deg,#5c8ac3 26.1%,#fad5a7 26.7%,#face9f 39.2%)"></i><i class="cr" style="top:479px;background:linear-gradient(90deg,#79a7d3 26.1%,#fbdaac 26.7%,#fae4bb 39.2%)"></i><i class="cr" style="top:480px;background:linear-gradient(90deg,#5d8bc3 26.1%,#fae7c1 26.7%,#faca9b 39.2%)"></i><i class="cr" style="top:481px;background:linear-gradient(90deg,#709ece 26.1%,#fbddb0 26.7%,#fbe2b8 39.2%)"></i><i class="cr" style="top:482px;background:linear-gradient(90deg,#618fc5 26.1%,#fbdbad 26.7%,#fae5bc 39.2%)"></i><i class="cr" style="top:483px;background:linear-gradient(90deg,#99bfde 26.1%,#fad0a2 26.7%,#fad4a6 39.2%)"></i><i class="cr" style="top:484px;background:linear-gradient(90deg,#7ba9d4 26.1%,#f9c090 26.7%,#f9c596 39.2%)"></i><i class="cr" style="top:485px;background:linear-gradient(90deg,#6c9acc 26.1%,#fad1a2 26.7%,#fad6a7 39.2%)"></i><i class="cr" style="top:486px;background:linear-gradient(90deg,#80acd6 26.1%,#facc9d 26.7%,#fbdcae 39.2%)"></i><i class="cr" style="top:487px;background:linear-gradient(90deg,#5d8bc3 26.1%,#fbd6a8 26.7%,#fae5bc 39.2%)"></i><i class="cr" style="top:488px;background:linear-gradient(90deg,#92badc 26.1%,#f9c99a 26.7%,#fbd9aa 39.2%)"></i><i class="cr" style="top:489px;background:linear-gradient(90deg,#6f9dce 26.1%,#fbd8aa 26.7%,#fbd8aa 39.2%)"></i><i class="cr" style="top:490px;background:linear-gradient(90deg,#89b3d9 26.1%,#fbdcae 26.7%,#fbe1b7 39.2%)"></i><i class="cr" style="top:491px;background:linear-gradient(90deg,#7ca9d5 26.1%,#fad1a3 26.7%,#fad1a3 39.2%)"></i><i class="cr" style="top:492px;background:linear-gradient(90deg,#7eabd5 26.1%,#fad1a2 26.7%,#f9ca9b 39.2%)"></i><i class="cr" style="top:493px;background:linear-gradient(90deg,#6492c7 26.1%,#fad5a7 26.7%,#fbe1b6 39.2%)"></i><i class="cr" style="top:494px;background:linear-gradient(90deg,#608ec5 26.1%,#fad1a2 26.7%,#fad5a6 39.2%)"></i><i class="cr" style="top:495px;background:linear-gradient(90deg,#507ebb 26.1%,#fae4bc 26.7%,#fbdcae 39.2%)"></i><i class="cr" style="top:496px;background:linear-gradient(90deg,#accde5 26.1%,#fae4bc 26.7%,#fae3ba 39.2%)"></i><i class="cr" style="top:497px;background:linear-gradient(90deg,#6b99cb 26.1%,#fad3a5 26.7%,#fae8c2 39.2%)"></i><i class="cr" style="top:498px;background:linear-gradient(90deg,#a8cae3 26.1%,#fbdbad 26.7%,#fbdbad 39.2%)"></i><i class="cr" style="top:499px;background:linear-gradient(90deg,#a0c4e1 26.1%,#fae4bb 26.7%,#fbdeb2 39.2%)"></i><i class="cr" style="top:500px;background:linear-gradient(90deg,#92badc 26.1%,#fbd8aa 26.7%,#faebc8 39.2%)"></i><i class="cr" style="top:501px;background:linear-gradient(90deg,#81add6 26.1%,#fbe1b6 26.7%,#fbdeb2 39.2%)"></i><i class="cr" style="top:502px;background:#fbfbf8"></i><i class="cr" style="top:503px;background:linear-gradient(90deg,#f8bd8d 26.1%,#fbe1b6 26.7%,#fae9c4 39.2%)"></i><i class="cr" style="top:504px;background:linear-gradient(90deg,#f9c899 26.1%,#faca9b 26.7%,#fae4bb 39.2%)"></i><i class="cr" style="top:505px;background:linear-gradient(90deg,#f49e73 26.1%,#fad2a3 26.7%,#fae8c2 39.2%)"></i><i class="cr" style="top:506px;background:linear-gradient(90deg,#f4a175 26.1%,#f9c494 26.7%,#fbe0b4 39.2%)"></i><i class="cr" style="top:507px;background:linear-gradient(90deg,#f9c090 26.1%,#fad0a2 26.7%,#faebc8 39.2%)"></i><i class="cr" style="top:508px;background:linear-gradient(90deg,#f6ad7f 26.1%,#fbdeb2 26.7%,#faedca 39.2%)"></i><i class="cr" style="top:509px;background:linear-gradient(90deg,#f7b384 26.1%,#fad5a7 26.7%,#fbd6a8 39.2%)"></i><i class="cr" style="top:510px;background:linear-gradient(90deg,#fae8c2 26.1%,#fae7c0 26.7%,#f9efce 39.2%)"></i><i class="cr" style="top:511px;background:linear-gradient(90deg,#f9f4d6 26.1%,#f9f4d6 26.7%,#faebc7 39.2%)"></i><i class="cr" style="top:512px;background:linear-gradient(90deg,#f9efce 26.1%,#fae3ba 26.7%,#fae4bc 39.2%)"></i><i class="cr" style="top:513px;background:linear-gradient(90deg,#fae8c2 26.1%,#fbdeb2 26.7%,#fae8c2 39.2%)"></i><i class="cr" style="top:514px;background:linear-gradient(90deg,#fbdeb1 26.1%,#fae4bc 26.7%,#fbe1b6 39.2%)"></i><i class="cr" style="top:515px;background:linear-gradient(90deg,#faedcb 26.1%,#fae5be 26.7%,#faedcb 39.2%)"></i><i class="cr" style="top:516px;background:linear-gradient(90deg,#fae7c0 26.1%,#fae3ba 26.7%,#fae8c2 39.2%)"></i><i class="cr" style="top:517px;background:linear-gradient(90deg,#fae7c0 26.1%,#fae3b9 26.7%,#fae5bd 39.2%)"></i><i class="cr" style="top:518px;background:linear-gradient(90deg,#f9f0d0 26.1%,#fae7c0 26.7%,#fae9c3 39.2%)"></i><i class="cr" style="top:519px;background:#fbfbf8"></i><i class="cr" style="top:520px;background:linear-gradient(90deg,#6d9bcc 26.1%,#fae3ba 26.7%,#f9f3d4 39.2%)"></i><i class="cr" style="top:521px;background:linear-gradient(90deg,#a6c9e3 26.1%,#fbe0b5 26.7%,#fbe1b7 39.2%)"></i><i class="cr" style="top:522px;background:linear-gradient(90deg,#a0c4e1 26.1%,#fbe0b5 26.7%,#fbddb0 39.2%)"></i><i class="cr" style="top:523px;background:linear-gradient(90deg,#6694c8 26.1%,#faecc8 26.7%,#f9f4d7 39.2%)"></i><i class="cr" style="top:524px;background:linear-gradient(90deg,#7aa8d4 26.1%,#fbddaf 26.7%,#fae5bd 39.2%)"></i><i class="cr" style="top:525px;background:linear-gradient(90deg,#97bede 26.1%,#fae8c2 26.7%,#fae9c4 39.2%)"></i><i class="cr" style="top:526px;background:linear-gradient(90deg,#74a2d0 26.1%,#fbe1b6 26.7%,#fae5bd 39.2%)"></i><i class="cr" style="top:527px;background:linear-gradient(90deg,#7facd6 26.1%,#fbdfb3 26.7%,#fae7c1 39.2%)"></i><i class="cr" style="top:528px;background:linear-gradient(90deg,#7facd6 26.1%,#f8bb8b 26.7%,#fbdaac 39.2%)"></i><i class="cr" style="top:529px;background:linear-gradient(90deg,#84b0d7 26.1%,#f7b384 26.7%,#facea0 39.2%)"></i><i class="cr" style="top:530px;background:linear-gradient(90deg,#92badc 26.1%,#fad1a3 26.7%,#f6ab7d 39.2%)"></i><i class="cr" style="top:531px;background:linear-gradient(90deg,#4a77b7 26.1%,#fae9c3 26.7%,#faeac6 39.2%)"></i><i class="cr" style="top:532px;background:linear-gradient(90deg,#abcce4 26.1%,#f8bd8d 26.7%,#f9c99a 39.2%)"></i><i class="cr" style="top:533px;background:linear-gradient(90deg,#608ec5 26.1%,#fad2a3 26.7%,#fbd9ab 39.2%)"></i><i class="cr" style="top:534px;background:linear-gradient(90deg,#6e9ccd 26.1%,#fae4bc 26.7%,#fae3ba 39.2%)"></i><i class="cr" style="top:535px;background:linear-gradient(90deg,#85b0d8 26.1%,#f9c898 26.7%,#facfa0 39.2%)"></i><i class="cr" style="top:536px;background:linear-gradient(90deg,#7ba9d4 26.1%,#fae4bc 26.7%,#fad2a3 39.2%)"></i><i class="cr" style="top:537px;background:linear-gradient(90deg,#6694c8 26.1%,#fad4a6 26.7%,#fad2a3 39.2%)"></i><i class="cr" style="top:538px;background:linear-gradient(90deg,#6f9dcd 26.1%,#fbe0b4 26.7%,#f9c899 39.2%)"></i><i class="cr" style="top:539px;background:linear-gradient(90deg,#89b3d9 26.1%,#fad4a6 26.7%,#f9f1d1 39.2%)"></i><i class="cr" style="top:540px;background:linear-gradient(90deg,#7eabd5 26.1%,#f9c596 26.7%,#f9c192 39.2%)"></i><i class="cr" style="top:541px;background:linear-gradient(90deg,#a5c8e2 26.1%,#fbdcae 26.7%,#fbdcaf 39.2%)"></i><i class="cr" style="top:542px;background:linear-gradient(90deg,#d3e5ee 11.64%,#ed7b57 11.64% 26.1%,#fbd8aa 26.7%,#facd9e 39.2%)"></i><i class="cr" style="top:543px;background:linear-gradient(90deg,#c2dbea 11.64%,#e87251 11.64% 26.1%,#fbe0b5 26.7%,#f9ca9b 39.2%)"></i><i class="cr" style="top:544px;background:linear-gradient(90deg,#b3d2e7 11.64%,#f18d65 11.64% 26.1%,#f9c899 26.7%,#f9c293 39.2%)"></i><i class="cr" style="top:545px;background:linear-gradient(90deg,#d8e8f0 11.64%,#d34c35 11.64% 26.1%,#fbe0b5 26.7%,#faeecc 39.2%)"></i><i class="cr" style="top:546px;background:linear-gradient(90deg,#c0d9ea 11.64%,#ed7956 11.64% 26.1%,#fbddb0 26.7%,#f9f5d8 39.2%)"></i><i class="cr" style="top:547px;background:linear-gradient(90deg,#f3f3df 26.1%,#fad1a2 26.7%,#fae9c3 39.2%)"></i><i class="cr" style="top:548px;background:linear-gradient(90deg,#eef2e4 26.1%,#f9f0d0 26.7%,#f1f3e1 39.2%)"></i><i class="cr" style="top:549px;background:linear-gradient(90deg,#dbeaf0 26.1%,#fbe2b8 26.7%,#e7efed 39.2%)"></i><i class="cr" style="top:550px;background:linear-gradient(90deg,#d3e5ee 26.1%,#eaf0e9 26.7%,#f8f5d9 39.2%)"></i><i class="cr" style="top:551px;background:linear-gradient(90deg,#eef2e4 26.1%,#f6f4db 26.7%,#f9f5d8 39.2%)"></i><i class="cr" style="top:552px;background:linear-gradient(90deg,#f4f4dd 26.1%,#f9c292 26.7%,#fad6a8 39.2%)"></i><i class="cr" style="top:553px;background:linear-gradient(90deg,#bbd6e9 26.1%,#faeac6 26.7%,#facc9d 39.2%)"></i><i class="cr" style="top:554px;background:linear-gradient(90deg,#cce1ed 26.1%,#f9c091 26.7%,#f9c697 39.2%)"></i><i class="cr" style="top:555px;background:linear-gradient(90deg,#cee2ed 26.1%,#fbd6a8 26.7%,#f9c798 39.2%)"></i><i class="cr" style="top:556px;background:linear-gradient(90deg,#e4eff0 26.1%,#f9c596 26.7%,#fbe2b8 39.2%)"></i><i class="cr" style="top:557px;background:linear-gradient(90deg,#eef2e4 26.1%,#fad0a1 26.7%,#fae4bc 39.2%)"></i><i class="cr" style="top:558px;background:linear-gradient(90deg,#cfe3ee 26.1%,#f9c899 26.7%,#f7b182 39.2%)"></i><i class="cr" style="top:559px;background:linear-gradient(90deg,#d7e7ef 26.1%,#fbdfb2 26.7%,#f6ae80 39.2%)"></i><i class="cr" style="top:560px;background:linear-gradient(90deg,#e4eff0 26.1%,#facd9e 26.7%,#fbdcae 39.2%)"></i><i class="cr" style="top:561px;background:linear-gradient(90deg,#c4dceb 26.1%,#f8bc8c 26.7%,#fbd9ab 39.2%)"></i><i class="cr" style="top:562px;background:linear-gradient(90deg,#d2e4ee 26.1%,#fad5a7 26.7%,#f8bb8b 39.2%)"></i><i style="left:73.6px;top:311px;width:424.0px;height:86px;background:linear-gradient(90deg,#fae8c38c 0.00% 0.35%,#fae8c38c 0.35% 0.71%,#ab1f2b35 0.71% 1.06%,#be342f1d 1.06% 1.42%,#bd342f1e 1.42% 1.77%,#bd332f1f 1.77% 2.13%,#0000 2.13% 2.48%,#b92f2e23 2.48% 2.84%,#a81c2a55 2.84% 3.19%,#fae8c38c 3.19% 3.55%,#ba2f2e22 3.55% 3.90%,#0000 3.90% 4.26%,#e8715022 4.26% 4.61%,#ae232c30 4.61% 4.96%,#b2272c2b 4.96% 5.32%,#0000 5.32% 5.67%,#b62b2d27 5.67% 6.03%,#0000 6.03% 6.74%,#fae8c38c 6.74% 7.09%,#ed79562b 7.09% 7.45%,#fae8c38c 7.45% 7.80%,#0000 7.80% 8.51%,#e3684a1a 8.51% 8.87%,#a81c2a80 8.87% 9.22%,#ef835e34 9.22% 9.57%,#b62c2d27 9.57% 9.93%,#ee7d592e 9.93% 10.28%,#0000 10.28% 10.64%,#bb312f21 10.64% 10.99%,#e76f4f21 10.99% 11.35%,#fae8c38c 11.35% 11.70%,#fae8c38c 11.70% 12.06%,#a81c2a6a 12.06% 12.41%,#0000 12.41% 12.77%,#b1252c2e 12.77% 13.12%,#b62b2d27 13.12% 13.48%,#a81c2a3c 13.48% 13.83%,#ae222b31 13.83% 14.18%,#af232c30 14.18% 14.54%,#a91d2a36 14.54% 14.89%,#a81c2a47 14.89% 15.25%,#0000 15.25% 15.96%,#a81c2a3b 15.96% 16.31%,#fae8c38c 16.31% 16.67%,#fae8c38c 16.67% 17.02%,#e66e4e20 17.02% 17.38%,#0000 17.38% 18.09%,#e66e4e20 18.09% 18.44%,#eb775529 18.44% 18.79%,#f5a47850 18.79% 19.15%,#0000 19.15% 19.50%,#ba302e22 19.50% 19.86%,#f5a87b53 19.86% 20.21%,#f6ad8058 20.21% 20.57%,#f6ad7f58 20.57% 20.92%,#a81c2a64 20.92% 21.28%,#0000 21.28% 21.63%,#fae8c38c 21.63% 21.99%,#fae8c38c 21.99% 22.34%,#a81c2a3f 22.34% 22.70%,#0000 22.70% 23.40%,#f5a3784f 23.40% 23.76%,#0000 23.76% 24.82%,#fae8c38c 24.82% 25.18%,#0000 25.18% 25.89%,#ac212b33 25.89% 26.24%,#0000 26.24% 30.50%,#fbe0b529 30.50% 30.85%,#0000 30.85% 31.56%,#f39d724c 31.56% 31.91%,#0000 31.91% 33.33%,#fae4bb25 33.33% 33.69%,#faeac61d 33.69% 34.04%,#a7c9e333 34.04% 34.40%,#0000 34.40% 34.75%,#faebc71c 34.75% 35.11%,#0000 35.11% 35.46%,#f9c99a3e 35.46% 35.82%,#0000 35.82% 36.17%,#faebc81b 36.17% 36.52%,#fae6bf21 36.52% 36.88%,#0000 36.88% 37.59%,#c9dfec1e 37.59% 37.94%,#0000 37.94% 38.30%,#c8dfec1f 38.30% 38.65%,#0000 38.65% 40.07%,#98bede3c 40.07% 40.43%,#a8cae333 40.43% 40.78%,#b4d2e72c 40.78% 41.13%,#d1e4ee1a 41.13% 41.49%,#0000 41.49% 45.04%,#a9cbe432 45.04% 45.39%,#0000 45.39% 45.74%,#8cb5da42 45.74% 46.10%,#0000 46.10% 46.45%,#b7d4e82a 46.45% 46.81%,#0000 46.81% 47.52%,#fbdfb32a 47.52% 47.87%,#adcee530 47.87% 48.23%,#f8bc8d49 48.23% 48.58%,#0000 48.58% 49.29%,#facd9f3a 49.29% 49.65%,#fbdbad2f 49.65% 50.00%,#0000 50.00% 50.35%,#89b3d944 50.35% 50.71%,#faecc81b 50.71% 51.06%,#0000 51.06% 51.42%,#d1e4ee1a 51.42% 51.77%,#faeac61d 51.77% 52.13%,#c2dbea23 52.13% 52.48%,#0000 52.48% 53.55%,#fae5bc23 53.55% 53.90%,#cde1ed1c 53.90% 54.26%,#0000 54.26% 57.09%,#fae5bd23 57.09% 57.45%,#faeac61c 57.45% 57.80%,#0000 57.80% 59.22%,#faecc91b 59.22% 59.57%,#0000 59.57% 60.64%,#fae6bf22 60.64% 60.99%,#0000 60.99% 61.35%,#c8deec20 61.35% 61.70%,#fae6bf21 61.70% 62.06%,#0000 62.06% 62.41%,#b9d5e828 62.41% 62.77%,#0000 62.77% 64.54%,#faeac51d 64.54% 64.89%,#0000 64.89% 65.25%,#fae8c31f 65.25% 65.60%,#0000 65.60% 65.96%,#faecc91a 65.96% 66.31%,#0000 66.31% 67.38%,#facea039 67.38% 67.73%,#0000 67.73% 68.44%,#f9c69740 68.44% 68.79%,#0000 68.79% 69.15%,#bed8e925 69.15% 69.50%,#f9c59641 69.50% 69.86%,#fae4bc24 69.86% 70.21%,#fbdfb42a 70.21% 70.57%,#0000 70.57% 71.99%,#facd9e3b 71.99% 72.34%,#0000 72.34% 73.76%,#fae6bf21 73.76% 74.11%,#0000 74.11% 75.53%,#94bbdd3e 75.53% 75.89%,#faeac61c 75.89% 76.24%,#0000 76.24% 76.60%,#c3dbeb22 76.60% 76.95%,#0000 76.95% 77.30%,#fbe2b727 77.30% 77.66%,#f9c8993f 77.66% 78.01%,#0000 78.01% 78.72%,#d0e3ee1a 78.72% 79.08%,#0000 79.08% 79.43%,#fae8c21f 79.43% 79.79%,#0000 79.79% 80.50%,#fbd9ab30 80.50% 80.85%,#0000 80.85% 81.21%,#bcd7e927 81.21% 81.56%,#0000 81.56% 81.91%,#aacce431 81.91% 82.27%,#0000 82.27% 82.62%,#fae7c120 82.62% 82.98%,#0000 82.98% 83.33%,#c9dfec1f 83.33% 83.69%,#fae3ba25 83.69% 84.04%,#0000 84.04% 86.17%,#c8deec1f 86.17% 86.52%,#0000 86.52% 87.59%,#99bfde3b 87.59% 87.94%,#0000 87.94% 88.30%,#a6c9e333 88.30% 88.65%,#a6c9e334 88.65% 89.01%,#fae6be22 89.01% 89.36%,#0000 89.36% 95.39%,#fae8c21f 95.39% 95.74%,#fbe1b628 95.74% 96.10%,#face9f3a 96.10% 96.45%,#0000 96.45% 97.52%,#fbd9ab30 97.52% 97.87%,#d0e3ee1a 97.87% 98.23%,#0000 98.23% 99.65%,#8fb8db41 99.65% 100.00%,#0000 100.00%)"></i><i style="left:73.6px;top:398px;width:424.0px;height:104px;background:linear-gradient(90deg,#cee2ed8c 0.00% 0.35%,#cee2ed8c 0.35% 0.71%,#9fc3e041 0.71% 1.06%,#0000 1.06% 1.42%,#3b4a9a5b 1.42% 1.77%,#0000 1.77% 2.13%,#c5dceb67 2.13% 2.48%,#98bede3b 2.48% 2.84%,#0000 2.84% 3.19%,#cee2ed8c 3.19% 3.55%,#0000 3.55% 3.90%,#97bede3a 3.90% 4.26%,#466db121 4.26% 4.61%,#0000 4.61% 4.96%,#3b4a9a54 4.96% 5.32%,#0000 5.32% 5.67%,#95bcdd38 5.67% 6.03%,#0000 6.03% 6.74%,#cee2ed8c 6.74% 7.09%,#87b2d82b 7.09% 7.45%,#cee2ed8c 7.45% 7.80%,#7facd623 7.80% 8.16%,#4872b41b 8.16% 8.51%,#3d519e40 8.51% 8.87%,#0000 8.87% 9.57%,#3b4a9a5d 9.57% 9.93%,#4872b41b 9.93% 10.28%,#0000 10.28% 10.64%,#7fabd623 10.64% 10.99%,#a6c9e348 10.99% 11.35%,#cee2ed8c 11.35% 11.70%,#cee2ed8c 11.70% 12.06%,#0000 12.06% 12.41%,#3d509e41 12.41% 12.77%,#0000 12.77% 13.83%,#4466ac28 13.83% 14.18%,#4361a92e 14.18% 14.54%,#82aed726 14.54% 14.89%,#3b4a9a58 14.89% 15.25%,#88b2d92c 15.25% 15.60%,#7daad521 15.60% 15.96%,#0000 15.96% 16.31%,#cee2ed8c 16.31% 16.67%,#cee2ed8c 16.67% 17.02%,#4364ab2b 17.02% 17.38%,#0000 17.38% 18.09%,#466cb022 18.09% 18.44%,#0000 18.44% 19.15%,#4363ab2b 19.15% 19.50%,#476fb21f 19.50% 19.86%,#0000 19.86% 20.21%,#415da632 20.21% 20.57%,#0000 20.57% 21.28%,#476fb21f 21.28% 21.63%,#cee2ed8c 21.63% 21.99%,#cee2ed8c 21.99% 22.34%,#4569ae25 22.34% 22.70%,#0000 22.70% 24.11%,#3c4e9c43 24.11% 24.47%,#8ab4d92e 24.47% 24.82%,#cee2ed8c 24.82% 25.18%,#7aa8d41e 25.18% 25.53%,#3e53a03e 25.53% 25.89%,#405aa436 25.89% 26.24%,#4364ab2b 26.24% 26.60%,#0000 26.60% 26.95%,#f2916925 26.95% 27.30%,#0000 27.30% 27.66%,#f1f3e134 27.66% 28.01%,#dc5b4143 28.01% 28.37%,#0000 28.37% 28.72%,#f2936a24 28.72% 29.08%,#db5b4043 29.08% 29.43%,#0000 29.43% 29.79%,#f4a3771c 29.79% 30.14%,#0000 30.14% 30.50%,#a81c2a59 30.50% 30.85%,#faecc81e 30.85% 31.21%,#ef845f2c 31.21% 31.56%,#0000 31.56% 32.27%,#faeac51c 32.27% 32.62%,#0000 32.62% 33.69%,#f18e6727 33.69% 34.04%,#fae9c41c 34.04% 34.40%,#0000 34.40% 35.11%,#d24a344d 35.11% 35.46%,#f4a3771c 35.46% 35.82%,#ed7a5731 35.82% 36.17%,#e8f0eb40 36.17% 36.52%,#0000 36.52% 37.59%,#e76f4f37 37.59% 37.94%,#ed7a5731 37.94% 38.30%,#c7deec57 38.30% 38.65%,#0000 38.65% 39.36%,#f2936b24 39.36% 39.72%,#0000 39.72% 40.43%,#ebf1e83c 40.43% 40.78%,#faecc91f 40.78% 41.13%,#c7deec57 41.13% 41.49%,#0000 41.49% 42.55%,#f3f3df32 42.55% 42.91%,#f4a2761d 42.91% 43.26%,#e66d4e38 43.26% 43.62%,#0000 43.62% 44.33%,#ea755334 44.33% 44.68%,#0000 44.68% 45.39%,#f1f2e134 45.39% 45.74%,#0000 45.74% 46.45%,#faebc71e 46.45% 46.81%,#0000 46.81% 47.16%,#f08a6428 47.16% 47.52%,#f5a3771c 47.52% 47.87%,#ee7e592f 47.87% 48.23%,#d7533a48 48.23% 48.58%,#0000 48.58% 49.29%,#ec785532 49.29% 49.65%,#e46b4b3a 49.65% 50.00%,#faecc91f 50.00% 50.35%,#faeecc21 50.35% 50.71%,#fae9c41c 50.71% 51.06%,#0000 51.06% 51.42%,#f5a3771c 51.42% 51.77%,#f0896229 51.77% 52.13%,#0000 52.13% 52.48%,#d1e4ee51 52.48% 52.84%,#0000 52.84% 53.19%,#e266483c 53.19% 53.55%,#0000 53.55% 54.26%,#f3996f21 54.26% 54.61%,#f39a7021 54.61% 54.96%,#0000 54.96% 55.32%,#e5efee43 55.32% 55.67%,#0000 55.67% 56.38%,#eff2e437 56.38% 56.74%,#f18e6727 56.74% 57.09%,#0000 57.09% 57.45%,#f085602b 57.45% 57.80%,#0000 57.80% 58.51%,#f39a7021 58.51% 58.87%,#f9f1d125 58.87% 59.22%,#0000 59.22% 59.93%,#f5a4781c 59.93% 60.28%,#0000 60.28% 61.70%,#b72d2e59 61.70% 62.06%,#0000 62.06% 62.77%,#f9f0cf24 62.77% 63.12%,#eff2e437 63.12% 63.48%,#0000 63.48% 63.83%,#eb765433 63.83% 64.18%,#0000 64.18% 65.25%,#e064473e 65.25% 65.60%,#0000 65.60% 65.96%,#f5a77a1a 65.96% 66.31%,#fae9c41b 66.31% 66.67%,#f9f0cf23 66.67% 67.02%,#0000 67.02% 67.38%,#faeac51c 67.38% 67.73%,#0000 67.73% 68.44%,#f9f2d226 68.44% 68.79%,#0000 68.79% 70.21%,#f9f3d427 70.21% 70.57%,#0000 70.57% 70.92%,#ef825d2d 70.92% 71.28%,#faeac51c 71.28% 71.63%,#0000 71.63% 71.99%,#dd5e4341 71.99% 72.34%,#f5a4781c 72.34% 72.70%,#0000 72.70% 74.11%,#f39a7021 74.11% 74.47%,#f1f3e134 74.47% 74.82%,#0000 74.82% 76.24%,#faecc91f 76.24% 76.60%,#f9f1d125 76.60% 76.95%,#fae8c21a 76.95% 77.30%,#0000 77.30% 77.66%,#f0896229 77.66% 78.01%,#e9745234 78.01% 78.37%,#0000 78.37% 79.43%,#f4a0751e 79.43% 79.79%,#ca423253 79.79% 80.14%,#0000 80.14% 80.50%,#f49f741e 80.50% 80.85%,#0000 80.85% 81.21%,#faeac61d 81.21% 81.56%,#0000 81.56% 81.91%,#bfd9ea59 81.91% 82.27%,#f3976e22 82.27% 82.62%,#0000 82.62% 82.98%,#d2e5ee51 82.98% 83.33%,#0000 83.33% 84.40%,#f1f2e134 84.40% 84.75%,#ee7e5a2f 84.75% 85.11%,#0000 85.11% 85.46%,#faebc71d 85.46% 85.82%,#db5a3f44 85.82% 86.17%,#0000 86.17% 86.52%,#f18c6428 86.52% 86.88%,#dc5d4142 86.88% 87.23%,#deecf149 87.23% 87.59%,#f49f741e 87.59% 87.94%,#0000 87.94% 90.43%,#f5a67a1b 90.43% 90.78%,#0000 90.78% 91.13%,#dae9f04c 91.13% 91.49%,#0000 91.49% 91.84%,#f4a1751d 91.84% 92.20%,#c9403254 92.20% 92.55%,#0000 92.55% 93.62%,#f49e731f 93.62% 93.97%,#f18e6627 93.97% 94.33%,#f9f4d729 94.33% 94.68%,#f39a7021 94.68% 95.04%,#0000 95.04% 95.39%,#f087602a 95.39% 95.74%,#0000 95.74% 96.81%,#eef2e538 96.81% 97.16%,#e164473e 97.16% 97.52%,#0000 97.52% 99.65%,#faeac61d 99.65% 100.00%,#0000 100.00%)"></i><i style="left:73.6px;top:503px;width:424.0px;height:16px;background:linear-gradient(90deg,#fae8c38c 0.00% 0.35%,#fae8c38c 0.35% 0.71%,#fae7c121 0.71% 1.06%,#0000 1.06% 1.42%,#f5a57939 1.42% 1.77%,#fae5be1d 1.77% 2.13%,#faeac627 2.13% 2.48%,#fae9c425 2.48% 2.84%,#f39b7141 2.84% 3.19%,#fae8c38c 3.19% 3.55%,#0000 3.55% 4.26%,#e9f0ea61 4.26% 4.61%,#faecc82a 4.61% 4.96%,#ef845e55 4.96% 5.32%,#0000 5.32% 5.67%,#f9be8f20 5.67% 6.03%,#0000 6.03% 6.38%,#f9c0901e 6.38% 6.74%,#fae8c38c 6.74% 7.09%,#0000 7.09% 7.45%,#fae8c38c 7.45% 7.80%,#fae5bd1d 7.80% 8.16%,#0000 8.16% 8.51%,#f9f5d83d 8.51% 8.87%,#f8b5862b 8.87% 9.22%,#0000 9.22% 9.93%,#f0876053 9.93% 10.28%,#faedca2c 10.28% 10.64%,#f9bf901f 10.64% 10.99%,#0000 10.99% 11.35%,#fae8c38c 11.35% 11.70%,#fae8c38c 11.70% 12.06%,#f8b88829 12.06% 12.41%,#0000 12.41% 12.77%,#fae8c323 12.77% 13.12%,#f5a67a38 13.12% 13.48%,#0000 13.48% 14.18%,#f5a57939 14.18% 14.54%,#f7b1832f 14.54% 14.89%,#f18f674c 14.89% 15.25%,#fae9c526 15.25% 15.60%,#0000 15.60% 15.96%,#f8f5d93f 15.96% 16.31%,#fae8c38c 16.31% 16.67%,#fae8c38c 16.67% 17.02%,#f8b88829 17.02% 17.38%,#0000 17.38% 17.73%,#ef825d57 17.73% 18.09%,#ed7b575d 18.09% 18.44%,#f6ad7f32 18.44% 18.79%,#fae9c324 18.79% 19.15%,#0000 19.15% 20.21%,#f39c7241 20.21% 20.57%,#0000 20.57% 20.92%,#f18e664c 20.92% 21.28%,#fae5bd1c 21.28% 21.63%,#fae8c38c 21.63% 21.99%,#fae8c38c 21.99% 22.34%,#f6ae8031 22.34% 22.70%,#0000 22.70% 23.40%,#faebc728 23.40% 23.76%,#0000 23.76% 24.11%,#f0855f54 24.11% 24.47%,#f9c0901e 24.47% 24.82%,#fae8c38c 24.82% 25.18%,#faedca2d 25.18% 25.53%,#0000 25.53% 26.24%,#f8b98927 26.24% 26.60%,#0000 26.60% 27.30%,#f1f3e11c 27.30% 27.66%,#f9be8f53 27.66% 28.01%,#f9c09051 28.01% 28.37%,#f9c2924e 28.37% 28.72%,#e9f0ea2e 28.72% 29.08%,#0000 29.08% 30.14%,#fbddaf27 30.14% 30.50%,#f7af8163 30.50% 30.85%,#d5e6ef4b 30.85% 31.21%,#f9c3934d 31.21% 31.56%,#f7af8163 31.56% 31.91%,#e1edf23e 31.91% 32.27%,#fbe0b520 32.27% 32.62%,#fbdeb125 32.62% 32.98%,#fae3ba1a 32.98% 33.33%,#0000 33.33% 34.04%,#edf1e525 34.04% 34.40%,#bad6e866 34.40% 34.75%,#cde2ed52 34.75% 35.11%,#fbe0b422 35.11% 35.46%,#facfa13b 35.46% 35.82%,#facd9e3e 35.82% 36.17%,#0000 36.17% 36.52%,#ecf1e626 36.52% 36.88%,#0000 36.88% 37.59%,#e6efee35 37.59% 37.94%,#e4eff038 37.94% 38.30%,#e8f0eb30 38.30% 38.65%,#ecf1e727 38.65% 39.01%,#e9f0ea2e 39.01% 39.36%,#b2d1e66e 39.36% 39.72%,#facb9c41 39.72% 40.07%,#e3eef13a 40.07% 40.43%,#e0edf140 40.43% 40.78%,#e4eff039 40.78% 41.13%,#ebf1e829 41.13% 41.49%,#0000 41.49% 41.84%,#fbdfb323 41.84% 42.20%,#0000 42.20% 43.62%,#facfa13b 43.62% 43.97%,#0000 43.97% 44.33%,#face9f3d 44.33% 44.68%,#a8cae378 44.68% 45.04%,#0000 45.04% 45.39%,#eaf1e92b 45.39% 45.74%,#f9c99a44 45.74% 46.10%,#a4c7e27c 46.10% 46.45%,#0000 46.45% 46.81%,#f1f2e11d 46.81% 47.16%,#0000 47.16% 47.52%,#f0f2e21e 47.52% 47.87%,#0000 47.87% 48.23%,#f9ca9b43 48.23% 48.58%,#f0f2e21f 48.58% 48.94%,#e6efed33 48.94% 49.29%,#f9c79846 49.29% 49.65%,#f1f3e11c 49.65% 50.00%,#0000 50.00% 50.35%,#e6efed34 50.35% 50.71%,#c9dfec56 50.71% 51.06%,#f9c1924e 51.06% 51.42%,#e7f0ec31 51.42% 51.77%,#0000 51.77% 52.13%,#e0edf23f 52.13% 52.48%,#e3eef13a 52.48% 52.84%,#eff2e320 52.84% 53.19%,#fbdaac2c 53.19% 53.55%,#0000 53.55% 53.90%,#e3eef13b 53.90% 54.26%,#fbdeb224 54.26% 54.61%,#fbdcae29 54.61% 54.96%,#0000 54.96% 55.32%,#eef2e423 55.32% 55.67%,#e5efee36 55.67% 56.03%,#0000 56.03% 57.09%,#f8b7875d 57.09% 57.45%,#fbdeb125 57.45% 57.80%,#0000 57.80% 58.16%,#eaf0e92c 58.16% 58.51%,#ebf1e82a 58.51% 58.87%,#0000 58.87% 59.93%,#edf1e626 59.93% 60.28%,#f2f3e01a 60.28% 60.64%,#0000 60.64% 60.99%,#cee2ed52 60.99% 61.35%,#0000 61.35% 61.70%,#facc9d40 61.70% 62.06%,#fbe0b520 62.06% 62.41%,#e3eef13b 62.41% 62.77%,#0000 62.77% 63.12%,#f0f2e31f 63.12% 63.48%,#f9c3934d 63.48% 63.83%,#fad4a535 63.83% 64.18%,#eff2e320 64.18% 64.54%,#face9f3c 64.54% 64.89%,#0000 64.89% 67.73%,#d6e7ef4a 67.73% 68.09%,#e5efee36 68.09% 68.44%,#fbdaac2c 68.44% 68.79%,#fbdfb224 68.79% 69.15%,#fad1a238 69.15% 69.50%,#0000 69.50% 70.57%,#edf1e524 70.57% 70.92%,#0000 70.92% 72.34%,#fbd7a830 72.34% 72.70%,#fbd8aa2e 72.70% 73.05%,#f8bd8d55 73.05% 73.40%,#e3eef13b 73.40% 73.76%,#f2f3e01a 73.76% 74.11%,#0000 74.11% 74.47%,#e8f0eb30 74.47% 74.82%,#0000 74.82% 75.18%,#edf1e626 75.18% 75.53%,#edf1e525 75.53% 75.89%,#e8f0eb2f 75.89% 76.24%,#0000 76.24% 76.95%,#facd9f3d 76.95% 77.30%,#0000 77.30% 77.66%,#fbd9ab2d 77.66% 78.01%,#e4eff038 78.01% 78.37%,#e4eff038 78.37% 78.72%,#e9f0ea2e 78.72% 79.08%,#eef2e523 79.08% 79.43%,#fbe0b421 79.43% 79.79%,#f7b4855f 79.79% 80.14%,#0000 80.14% 80.50%,#f9c99a44 80.50% 80.85%,#0000 80.85% 82.27%,#fbe2b81c 82.27% 82.62%,#fbd7a930 82.62% 82.98%,#0000 82.98% 83.33%,#f0f2e21e 83.33% 83.69%,#fbd9ab2d 83.69% 84.04%,#0000 84.04% 84.75%,#f2f3e01a 84.75% 85.11%,#fad4a534 85.11% 85.46%,#e2eef23d 85.46% 85.82%,#db5a3f80 85.82% 86.17%,#f1f2e21d 86.17% 86.52%,#0000 86.52% 86.88%,#f8be8e54 86.88% 87.23%,#fae3b91b 87.23% 87.59%,#e3eef13c 87.59% 87.94%,#e4eff039 87.94% 88.30%,#c5dceb5b 88.30% 88.65%,#deebf141 88.65% 89.01%,#ecf1e626 89.01% 89.36%,#0000 89.36% 90.07%,#fbe1b71e 90.07% 90.43%,#0000 90.43% 90.78%,#face9f3c 90.78% 91.13%,#f2f3e01b 91.13% 91.49%,#f7b5855f 91.49% 91.84%,#0000 91.84% 92.20%,#ddebf142 92.20% 92.55%,#0000 92.55% 92.91%,#f9c69748 92.91% 93.26%,#edf1e625 93.26% 93.62%,#f9c09051 93.62% 93.97%,#f8b6865e 93.97% 94.33%,#0000 94.33% 94.68%,#e1eef23e 94.68% 95.04%,#0000 95.04% 95.74%,#f9c69649 95.74% 96.10%,#0000 96.10% 96.45%,#f6aa7d68 96.45% 96.81%,#f8bc8d56 96.81% 97.16%,#fbdcaf28 97.16% 97.52%,#e3eef13b 97.52% 97.87%,#0000 97.87% 98.58%,#f9c3944c 98.58% 98.94%,#0000 98.94% 99.65%,#a4c7e27c 99.65% 100.00%,#0000 100.00%)"></i><i style="left:73.6px;top:520px;width:424.0px;height:43px;background:linear-gradient(90deg,#cee2ed8c 0.00% 0.35%,#cee2ed8c 0.35% 0.71%,#0000 0.71% 1.06%,#9dc2e021 1.06% 1.42%,#0000 1.42% 1.77%,#aacbe42d 1.77% 2.13%,#b9d6e83d 2.13% 2.48%,#aacbe42d 2.48% 2.84%,#0000 2.84% 3.19%,#cee2ed8c 3.19% 3.55%,#a7c9e32a 3.55% 3.90%,#bad6e83d 3.90% 4.26%,#abcce42e 4.26% 4.61%,#bfd9ea42 4.61% 4.96%,#0000 4.96% 5.32%,#cce1ed50 5.32% 5.67%,#99bfde1d 5.67% 6.03%,#0000 6.03% 6.38%,#96bddd1b 6.38% 6.74%,#cee2ed8c 6.74% 7.09%,#0000 7.09% 7.45%,#cee2ed8c 7.45% 7.80%,#0000 7.80% 8.51%,#517fbc2c 8.51% 8.87%,#4569ae44 8.87% 9.22%,#96bddd1b 9.22% 9.57%,#476eb13e 9.57% 9.93%,#4d7bba30 9.93% 10.28%,#0000 10.28% 10.64%,#4975b637 10.64% 10.99%,#5482be28 10.99% 11.35%,#cee2ed8c 11.35% 11.70%,#cee2ed8c 11.70% 12.06%,#3b4a9a80 12.06% 12.41%,#3b4a9a68 12.41% 12.77%,#425fa74f 12.77% 13.12%,#3d4f9d60 13.12% 13.48%,#466aaf42 13.48% 13.83%,#4872b43a 13.83% 14.18%,#4f7dbb2d 14.18% 14.54%,#4059a455 14.54% 14.89%,#3b4a9a6c 14.89% 15.25%,#0000 15.25% 15.60%,#4d7bba30 15.60% 15.96%,#5987c123 15.96% 16.31%,#cee2ed8c 16.31% 16.67%,#cee2ed8c 16.67% 17.02%,#0000 17.02% 17.73%,#5987c123 17.73% 18.09%,#5b89c221 18.09% 18.44%,#a0c4e124 18.44% 18.79%,#0000 18.79% 20.21%,#9bc0df1f 20.21% 20.57%,#b9d5e83c 20.57% 20.92%,#a1c5e125 20.92% 21.28%,#0000 21.28% 21.63%,#cee2ed8c 21.63% 21.99%,#cee2ed8c 21.99% 22.34%,#4873b538 22.34% 22.70%,#0000 22.70% 23.40%,#a5c8e229 23.40% 23.76%,#0000 23.76% 24.11%,#4d7bba30 24.11% 24.47%,#4f7dbb2d 24.47% 24.82%,#cee2ed8c 24.82% 25.18%,#0000 25.18% 26.24%,#5d8bc31f 26.24% 26.60%,#0000 26.60% 26.95%,#f3996f40 26.95% 27.30%,#e8f0eb49 27.30% 27.66%,#f9f4d729 27.66% 28.01%,#0000 28.01% 29.08%,#f7b3842e 29.08% 29.43%,#d1e4ee62 29.43% 29.79%,#0000 29.79% 30.14%,#ef845e4e 30.14% 30.50%,#c238308e 30.50% 30.85%,#ecf1e742 30.85% 31.21%,#f8b98929 31.21% 31.56%,#f39b713e 31.56% 31.91%,#0000 31.91% 32.62%,#eb775458 32.62% 32.98%,#0000 32.98% 33.33%,#f6af8130 33.33% 33.69%,#ef855f4e 33.69% 34.04%,#0000 34.04% 34.40%,#d5503879 34.40% 34.75%,#f2966d42 34.75% 35.11%,#c63d318a 35.11% 35.46%,#a81c2aa6 35.46% 35.82%,#f8bd8d25 35.82% 36.17%,#0000 36.17% 37.23%,#f2966d42 37.23% 37.59%,#f1f2e139 37.59% 37.94%,#0000 37.94% 38.30%,#f9f3d426 38.30% 38.65%,#f8be8e24 38.65% 39.01%,#0000 39.01% 40.43%,#f9efce20 40.43% 40.78%,#f8bb8b26 40.78% 41.13%,#0000 41.13% 41.49%,#c63d318a 41.49% 41.84%,#df60446b 41.84% 42.20%,#f088624b 42.20% 42.55%,#f8bc8c26 42.55% 42.91%,#f089624b 42.91% 43.26%,#f9c3941d 43.26% 43.62%,#f4a27739 43.62% 43.97%,#f8bb8b27 43.97% 44.33%,#f3986e40 44.33% 44.68%,#0000 44.68% 45.04%,#faebc81a 45.04% 45.39%,#faebc81a 45.39% 45.74%,#e3684965 45.74% 46.10%,#0000 46.10% 46.81%,#ebf1e843 46.81% 47.16%,#f8bc8d25 47.16% 47.52%,#f9efce20 47.52% 47.87%,#eaf1e945 47.87% 48.23%,#0000 48.23% 48.58%,#faeecc1e 48.58% 48.94%,#9ec3e08c 48.94% 49.29%,#f9c3941d 49.29% 49.65%,#e9f0ea48 49.65% 50.00%,#e4efef50 50.00% 50.35%,#d4e6ef60 50.35% 50.71%,#e2eef254 50.71% 51.06%,#e3eef052 51.06% 51.42%,#f9efcf21 51.42% 51.77%,#f2f3e037 51.77% 52.13%,#a4c7e287 52.13% 52.48%,#d3e5ee61 52.48% 52.84%,#e8f0ec4a 52.84% 53.19%,#0000 53.19% 53.55%,#ebf1e743 53.55% 53.90%,#c4dceb6d 53.90% 54.26%,#f6f4db30 54.26% 54.61%,#d0e3ee63 54.61% 54.96%,#f9f0cf21 54.96% 55.32%,#8cb5da9a 55.32% 55.67%,#f2f3e037 55.67% 56.03%,#f1f3e138 56.03% 56.38%,#0000 56.38% 56.74%,#f7b5852c 56.74% 57.09%,#ec785558 57.09% 57.45%,#b92f2e97 57.45% 57.80%,#0000 57.80% 58.51%,#ecf1e641 58.51% 58.87%,#f2f3e037 58.87% 59.22%,#0000 59.22% 60.28%,#faecc91b 60.28% 60.64%,#dbeaf05a 60.64% 60.99%,#faecc91b 60.99% 61.35%,#eff2e33c 61.35% 61.70%,#f2936a44 61.70% 62.06%,#f08a634a 62.06% 62.41%,#f9c09120 62.41% 62.77%,#0000 62.77% 63.48%,#f8bc8c25 63.48% 63.83%,#e66e4e60 63.83% 64.18%,#f088624c 64.18% 64.54%,#f7b08130 64.54% 64.89%,#f8b98929 64.89% 65.25%,#f5a67a37 65.25% 65.60%,#f089624b 65.60% 65.96%,#f9c4951c 65.96% 66.31%,#0000 66.31% 66.67%,#a2c5e189 66.67% 67.02%,#faedcb1d 67.02% 67.38%,#f6aa7d33 67.38% 67.73%,#f4f3de33 67.73% 68.09%,#bdd8e973 68.09% 68.44%,#eff2e43d 68.44% 68.79%,#c0daea70 68.79% 69.15%,#dbeaf05a 69.15% 69.50%,#f18c6548 69.50% 69.86%,#faefcd1f 69.86% 70.21%,#eaf0e945 70.21% 70.57%,#e1eef255 70.57% 70.92%,#eff2e33c 70.92% 71.28%,#f2f3df36 71.28% 71.63%,#f1f3e139 71.63% 71.99%,#ecf1e742 71.99% 72.34%,#f7f4da2e 72.34% 72.70%,#f7f4da2d 72.70% 73.05%,#faecc91b 73.05% 73.40%,#e9f0ea47 73.40% 73.76%,#f5f4dd32 73.76% 74.11%,#0000 74.11% 74.47%,#f9f2d325 74.47% 74.82%,#f9f1d123 74.82% 75.18%,#f8ba8a28 75.18% 75.53%,#f9f1d123 75.53% 75.89%,#f5a57937 75.89% 76.24%,#f089634b 76.24% 76.60%,#f9c3941d 76.60% 76.95%,#ef805b51 76.95% 77.30%,#c43b318c 77.30% 77.66%,#d9563d74 77.66% 78.01%,#ef815c50 78.01% 78.37%,#e062456a 78.37% 78.72%,#0000 78.72% 79.79%,#f8b5862c 79.79% 80.14%,#f8bd8d24 80.14% 80.50%,#f39b713e 80.50% 80.85%,#f39c723d 80.85% 81.21%,#deecf157 81.21% 81.56%,#0000 81.56% 82.27%,#f6af8130 82.27% 82.62%,#f8bd8e24 82.62% 82.98%,#ecf1e641 82.98% 83.33%,#f7f4db2e 83.33% 83.69%,#f7f4da2d 83.69% 84.04%,#faecc81a 84.04% 84.40%,#c3dbea6e 84.40% 84.75%,#e4eef051 84.75% 85.11%,#0000 85.11% 85.46%,#91b9dc96 85.46% 85.82%,#0000 85.82% 86.17%,#f3f3df35 86.17% 86.52%,#0000 86.52% 87.23%,#bdd8e973 87.23% 87.59%,#eaf0e946 87.59% 87.94%,#0000 87.94% 88.30%,#f3f3df35 88.30% 88.65%,#f3f3df36 88.65% 89.01%,#deecf157 89.01% 89.36%,#0000 89.36% 89.72%,#f4f4dd33 89.72% 90.07%,#0000 90.07% 90.43%,#f7b5852c 90.43% 90.78%,#f5a47838 90.78% 91.13%,#f9f2d426 91.13% 91.49%,#ea765359 91.49% 91.84%,#a81c2aa6 91.84% 92.20%,#0000 92.20% 92.91%,#e1654867 92.91% 93.26%,#cd443383 93.26% 93.62%,#dc5d416e 93.62% 93.97%,#ef835d4f 93.97% 94.33%,#ce453382 94.33% 94.68%,#db5a4070 94.68% 95.04%,#e870505e 95.04% 95.39%,#c63d318a 95.39% 95.74%,#d6513978 95.74% 96.10%,#e2674966 96.10% 96.45%,#e973515c 96.45% 96.81%,#0000 96.81% 97.16%,#b62b2d9a 97.16% 97.52%,#f4a27739 97.52% 97.87%,#f39a703f 97.87% 98.23%,#faedca1c 98.23% 98.58%,#0000 98.58% 99.29%,#f9f1d123 99.29% 99.65%,#f9f3d527 99.65% 100.00%,#0000 100.00%)"></i><i style="left:361px;top:398px;width:1px;height:165px;background:#8a96a8;opacity:.7"></i><i style="left:361px;top:311px;width:1px;height:86px;background:#9ab0c0;opacity:.4"></i><i style="left:66px;top:311px;width:6.7px;height:252px;background:linear-gradient(180deg,#eee6e0 0px 1px,#99a2b6 1px 2px,#eee6e0 2px 3px,#eee6e0 3px 4px,#a3abbb 4px 5px,#99a2b6 5px 6px,#eee6e0 6px 7px,#eee6e0 7px 8px,#eee6e0 8px 9px,#eee6e0 9px 10px,#eee6e0 10px 11px,#a3aabb 11px 12px,#eee6e0 12px 13px,#eee6e0 13px 14px,#eee6e0 14px 15px,#eee6e0 15px 16px,#eee6e0 16px 17px,#eee6e0 17px 18px,#919cb3 18px 19px,#eee6e0 19px 20px,#a2aabb 20px 21px,#8f9bb2 21px 22px,#eee6e0 22px 23px,#929db3 23px 24px,#8e9ab1 24px 25px,#eee6e0 25px 26px,#eee6e0 26px 27px,#959fb4 27px 28px,#eee6e0 28px 29px,#eee6e0 29px 30px,#eee6e0 30px 31px,#eee6e0 31px 32px,#eee6e0 32px 33px,#eee6e0 33px 34px,#f0b09d 34px 35px,#eee6e0 35px 36px,#eee6e0 36px 37px,#eee6e0 37px 38px,#eee6e0 38px 39px,#a4abbc 39px 40px,#eee6e0 40px 41px,#a1a9ba 41px 42px,#919cb3 42px 43px,#a0a8ba 43px 44px,#9ea7b9 44px 45px,#97a0b5 45px 46px,#eee6e0 46px 47px,#f0b9a8 47px 48px,#eee6e0 48px 49px,#f0aa96 49px 50px,#9da6b9 50px 51px,#eee6e0 51px 52px,#96a0b5 52px 53px,#eee6e0 53px 54px,#949eb4 54px 55px,#eee6e0 55px 56px,#eee6e0 56px 57px,#eee6e0 57px 58px,#9ca5b8 58px 59px,#eee6e0 59px 60px,#929db3 60px 61px,#9da5b8 61px 62px,#f0b4a2 62px 63px,#f0b09d 63px 64px,#a1a9ba 64px 65px,#eee6e0 65px 66px,#a3aabb 66px 67px,#909bb2 67px 68px,#8c98b0 68px 69px,#96a0b5 69px 70px,#eee6e0 70px 71px,#9da5b8 71px 72px,#f0ac98 72px 73px,#9ca5b8 73px 74px,#8c98b0 74px 75px,#a0a8ba 75px 76px,#eee6e0 76px 77px,#eee6e0 77px 78px,#eee6e0 78px 79px,#eee6e0 79px 80px,#eee6e0 80px 81px,#919cb2 81px 82px,#eee6e0 82px 83px,#929db3 83px 84px,#9fa7b9 84px 85px,#919cb2 85px 86px,#9da5b8 86px 87px,#eee6e0 87px 88px,#f0b7a6 88px 89px,#9ba4b7 89px 90px,#eee6e0 90px 91px,#eee6e0 91px 92px,#f0ae9b 92px 93px,#f0ac98 93px 94px,#f0b9a8 94px 95px,#eee6e0 95px 96px,#eee6e0 96px 97px,#f0b2a0 97px 98px,#eee6e0 98px 99px,#eee6e0 99px 100px,#f0b2a0 100px 101px,#eee6e0 101px 102px,#eee6e0 102px 103px,#eee6e0 103px 104px,#eee6e0 104px 105px,#f0ad99 105px 106px,#eee6e0 106px 107px,#eee6e0 107px 108px,#eee6e0 108px 109px,#f0b6a5 109px 110px,#eee6e0 110px 111px,#eee6e0 111px 112px,#eee6e0 112px 113px,#f0ab97 113px 114px,#eee6e0 114px 115px,#99a2b6 115px 116px,#eee6e0 116px 117px,#eee6e0 117px 118px,#eee6e0 118px 119px,#9fa7ba 119px 120px,#eee6e0 120px 121px,#eee6e0 121px 122px,#f0ad9a 122px 123px,#f0b09d 123px 124px,#f0ac99 124px 125px,#f0b6a5 125px 126px,#f0b19f 126px 127px,#8f9bb2 127px 128px,#eee6e0 128px 129px,#eee6e0 129px 130px,#eee6e0 130px 131px,#eee6e0 131px 132px,#eee6e0 132px 133px,#9da5b8 133px 134px,#f0ad99 134px 135px,#909bb2 135px 136px,#9da5b8 136px 137px,#f0ab97 137px 138px,#eee6e0 138px 139px,#f0b2a0 139px 140px,#f0ab97 140px 141px,#eee6e0 141px 142px,#eee6e0 142px 143px,#eee6e0 143px 144px,#f0ae9a 144px 145px,#eee6e0 145px 146px,#eee6e0 146px 147px,#f0b6a5 147px 148px,#9da5b8 148px 149px,#f0b09e 149px 150px,#eee6e0 150px 151px,#eee6e0 151px 152px,#eee6e0 152px 153px,#eee6e0 153px 154px,#f0ac99 154px 155px,#f0b9a8 155px 156px,#eee6e0 156px 157px,#eee6e0 157px 158px,#f0ac98 158px 159px,#eee6e0 159px 160px,#eee6e0 160px 161px,#eee6e0 161px 162px,#eee6e0 162px 163px,#eee6e0 163px 164px,#f0ab97 164px 165px,#eee6e0 165px 166px,#f0b6a5 166px 167px,#eee6e0 167px 168px,#f0b3a1 168px 169px,#f0ac98 169px 170px,#f0b09d 170px 171px,#eee6e0 171px 172px,#f0b5a4 172px 173px,#9fa8ba 173px 174px,#eee6e0 174px 175px,#eee6e0 175px 176px,#9aa3b7 176px 177px,#eee6e0 177px 178px,#f0b09e 178px 179px,#f0b5a4 179px 180px,#f0ab98 180px 181px,#f0b7a6 181px 182px,#eee6e0 182px 183px,#f0b5a4 183px 184px,#eee6e0 184px 185px,#eee6e0 185px 186px,#eee6e0 186px 187px,#eee6e0 187px 188px,#f0aa96 188px 189px,#eee6e0 189px 190px,#eee6e0 190px 191px,#9da5b8 191px 192px,#f0ab97 192px 193px,#eee6e0 193px 194px,#eee6e0 194px 195px,#f0b6a5 195px 196px,#f0ab98 196px 197px,#eee6e0 197px 198px,#919cb3 198px 199px,#909cb2 199px 200px,#eee6e0 200px 201px,#eee6e0 201px 202px,#919cb2 202px 203px,#f0ae9b 203px 204px,#a0a8ba 204px 205px,#f0ad9a 205px 206px,#f0ae9b 206px 207px,#a3abbb 207px 208px,#eee6e0 208px 209px,#f0b4a2 209px 210px,#f0b09e 210px 211px,#f0b4a2 211px 212px,#eee6e0 212px 213px,#eee6e0 213px 214px,#eee6e0 214px 215px,#eee6e0 215px 216px,#eee6e0 216px 217px,#f0ad9a 217px 218px,#f0aa96 218px 219px,#eee6e0 219px 220px,#eee6e0 220px 221px,#eee6e0 221px 222px,#f0aa96 222px 223px,#eee6e0 223px 224px,#eee6e0 224px 225px,#949eb4 225px 226px,#eee6e0 226px 227px,#eee6e0 227px 228px,#eee6e0 228px 229px,#eee6e0 229px 230px,#f0b19e 230px 231px,#eee6e0 231px 232px,#eee6e0 232px 233px,#f0b9a8 233px 234px,#f0b19f 234px 235px,#eee6e0 235px 236px,#eee6e0 236px 237px,#9da6b9 237px 238px,#eee6e0 238px 239px,#eee6e0 239px 240px,#eee6e0 240px 241px,#eee6e0 241px 242px,#eee6e0 242px 243px,#eee6e0 243px 244px,#eee6e0 244px 245px,#96a0b5 245px 246px,#a3aabb 246px 247px,#eee6e0 247px 248px,#f0b7a6 248px 249px,#f0b7a7 249px 250px,#f0b8a7 250px 251px,#eee6e0 251px 252px)"></i><svg width="685" height="924" viewBox="0 0 685 924"><defs><filter id="nz1" x="0" y="0" width="1" height="1" filterUnits="objectBoundingBox" color-interpolation-filters="sRGB">
<feTurbulence type="fractalNoise" baseFrequency="0.55 0.004" numOctaves="2" seed="3" result="t1"/>
<feTurbulence type="fractalNoise" baseFrequency="0.004 0.35" numOctaves="2" seed="8" result="t2"/>
<feTurbulence type="fractalNoise" baseFrequency="0.8 0.5" numOctaves="1" seed="12" result="t3"/>
<feComposite in="t1" in2="t2" operator="arithmetic" k2="0.45" k3="0.35" result="s"/>
<feComposite in="s" in2="t3" operator="arithmetic" k2="1" k3="0.25" result="t"/>
<feColorMatrix in="t" type="matrix" values="0 0 0 0 0.925 0 0 0 0 0.439 0 0 0 0 0.275 4.0 0 0 0 -2.25" result="o"/>
<feColorMatrix in="t" type="matrix" values="0 0 0 0 0.345 0 0 0 0 0.549 0 0 0 0 0.769 0 4.0 0 0 -2.25" result="b"/>
<feMerge><feMergeNode in="o"/><feMergeNode in="b"/></feMerge></filter><filter id="nz2" x="0" y="0" width="1" height="1" filterUnits="objectBoundingBox" color-interpolation-filters="sRGB">
<feTurbulence type="fractalNoise" baseFrequency="0.55 0.004" numOctaves="2" seed="11" result="t1"/>
<feTurbulence type="fractalNoise" baseFrequency="0.004 0.35" numOctaves="2" seed="16" result="t2"/>
<feTurbulence type="fractalNoise" baseFrequency="0.8 0.5" numOctaves="1" seed="20" result="t3"/>
<feComposite in="t1" in2="t2" operator="arithmetic" k2="0.45" k3="0.35" result="s"/>
<feComposite in="s" in2="t3" operator="arithmetic" k2="1" k3="0.25" result="t"/>
<feColorMatrix in="t" type="matrix" values="0 0 0 0 0.745 0 0 0 0 0.157 0 0 0 0 0.118 4.0 0 0 0 -2.3" result="o"/>
<feColorMatrix in="t" type="matrix" values="0 0 0 0 0.980 0 0 0 0 0.882 0 0 0 0 0.667 0 4.0 0 0 -2.3" result="b"/>
<feMerge><feMergeNode in="o"/><feMergeNode in="b"/></feMerge></filter><filter id="nz3" x="0" y="0" width="1" height="1" filterUnits="objectBoundingBox" color-interpolation-filters="sRGB">
<feTurbulence type="fractalNoise" baseFrequency="0.55 0.004" numOctaves="2" seed="17" result="t1"/>
<feTurbulence type="fractalNoise" baseFrequency="0.004 0.35" numOctaves="2" seed="22" result="t2"/>
<feTurbulence type="fractalNoise" baseFrequency="0.8 0.5" numOctaves="1" seed="26" result="t3"/>
<feComposite in="t1" in2="t2" operator="arithmetic" k2="0.45" k3="0.35" result="s"/>
<feComposite in="s" in2="t3" operator="arithmetic" k2="1" k3="0.25" result="t"/>
<feColorMatrix in="t" type="matrix" values="0 0 0 0 0.235 0 0 0 0 0.373 0 0 0 0 0.647 4.0 0 0 0 -2.4" result="o"/>
<feColorMatrix in="t" type="matrix" values="0 0 0 0 0.843 0 0 0 0 0.910 0 0 0 0 0.941 0 4.0 0 0 -2.1" result="b"/>
<feMerge><feMergeNode in="o"/><feMergeNode in="b"/></feMerge></filter><filter id="nz4" x="0" y="0" width="1" height="1" filterUnits="objectBoundingBox" color-interpolation-filters="sRGB">
<feTurbulence type="fractalNoise" baseFrequency="0.55 0.004" numOctaves="2" seed="23" result="t1"/>
<feTurbulence type="fractalNoise" baseFrequency="0.004 0.35" numOctaves="2" seed="28" result="t2"/>
<feTurbulence type="fractalNoise" baseFrequency="0.8 0.5" numOctaves="1" seed="32" result="t3"/>
<feComposite in="t1" in2="t2" operator="arithmetic" k2="0.45" k3="0.35" result="s"/>
<feComposite in="s" in2="t3" operator="arithmetic" k2="1" k3="0.25" result="t"/>
<feColorMatrix in="t" type="matrix" values="0 0 0 0 0.882 0 0 0 0 0.314 0 0 0 0 0.196 4.0 0 0 0 -2.4" result="o"/>
<feColorMatrix in="t" type="matrix" values="0 0 0 0 1.000 0 0 0 0 0.941 0 0 0 0 0.843 0 4.0 0 0 -2.05" result="b"/>
<feMerge><feMergeNode in="o"/><feMergeNode in="b"/></feMerge></filter><filter id="nz5" x="0" y="0" width="1" height="1" filterUnits="objectBoundingBox" color-interpolation-filters="sRGB">
<feTurbulence type="fractalNoise" baseFrequency="0.55 0.004" numOctaves="2" seed="29" result="t1"/>
<feTurbulence type="fractalNoise" baseFrequency="0.004 0.35" numOctaves="2" seed="34" result="t2"/>
<feTurbulence type="fractalNoise" baseFrequency="0.8 0.5" numOctaves="1" seed="38" result="t3"/>
<feComposite in="t1" in2="t2" operator="arithmetic" k2="0.45" k3="0.35" result="s"/>
<feComposite in="s" in2="t3" operator="arithmetic" k2="1" k3="0.25" result="t"/>
<feColorMatrix in="t" type="matrix" values="0 0 0 0 0.824 0 0 0 0 0.216 0 0 0 0 0.157 4.0 0 0 0 -2.05" result="o"/>
<feColorMatrix in="t" type="matrix" values="0 0 0 0 0.510 0 0 0 0 0.647 0 0 0 0 0.804 0 4.0 0 0 -2.3" result="b"/>
<feMerge><feMergeNode in="o"/><feMergeNode in="b"/></feMerge></filter><filter id="nz1b" x="0" y="0" width="1" height="1" filterUnits="objectBoundingBox" color-interpolation-filters="sRGB">
<feTurbulence type="fractalNoise" baseFrequency="0.55 0.004" numOctaves="2" seed="37" result="t1"/>
<feTurbulence type="fractalNoise" baseFrequency="0.004 0.35" numOctaves="2" seed="42" result="t2"/>
<feTurbulence type="fractalNoise" baseFrequency="0.8 0.5" numOctaves="1" seed="46" result="t3"/>
<feComposite in="t1" in2="t2" operator="arithmetic" k2="0.45" k3="0.35" result="s"/>
<feComposite in="s" in2="t3" operator="arithmetic" k2="1" k3="0.25" result="t"/>
<feColorMatrix in="t" type="matrix" values="0 0 0 0 0.925 0 0 0 0 0.439 0 0 0 0 0.275 4.0 0 0 0 -2.15" result="o"/>
<feColorMatrix in="t" type="matrix" values="0 0 0 0 0.314 0 0 0 0 0.510 0 0 0 0 0.745 0 4.0 0 0 -2.15" result="b"/>
<feMerge><feMergeNode in="o"/><feMergeNode in="b"/></feMerge></filter><filter id="dblur" x="-10%" y="-10%" width="120%" height="120%"><feGaussianBlur stdDeviation="3.2"/></filter><g id="dens" filter="url(#dblur)"><rect x="-5.9" y="-5.9" width="6.2" height="6.2" fill="#283080"/><rect x="-0.3" y="-5.9" width="6.2" height="6.2" fill="#283080"/><rect x="5.3" y="-5.9" width="6.2" height="6.2" fill="#283080"/><rect x="10.8" y="-5.9" width="6.2" height="6.2" fill="#283080"/><rect x="16.4" y="-5.9" width="6.2" height="6.2" fill="#283080"/><rect x="22.0" y="-5.9" width="6.2" height="6.2" fill="#283080"/><rect x="27.5" y="-5.9" width="6.2" height="6.2" fill="#283181"/><rect x="33.1" y="-5.9" width="6.2" height="6.2" fill="#283181"/><rect x="38.7" y="-5.9" width="6.2" height="6.2" fill="#293182"/><rect x="44.2" y="-5.9" width="6.2" height="6.2" fill="#293283"/><rect x="49.8" y="-5.9" width="6.2" height="6.2" fill="#2a3485"/><rect x="55.4" y="-5.9" width="6.2" height="6.2" fill="#2b3789"/><rect x="61.0" y="-5.9" width="6.2" height="6.2" fill="#2c4291"/><rect x="66.5" y="-5.9" width="6.2" height="6.2" fill="#2d509c"/><rect x="72.1" y="-5.9" width="6.2" height="6.2" fill="#2e5aa3"/><rect x="77.7" y="-5.9" width="6.2" height="6.2" fill="#2e5ca5"/><rect x="83.2" y="-5.9" width="6.2" height="6.2" fill="#2d57a1"/><rect x="88.8" y="-5.9" width="6.2" height="6.2" fill="#2d4e9b"/><rect x="94.4" y="-5.9" width="6.2" height="6.2" fill="#2c4694"/><rect x="99.9" y="-5.9" width="6.2" height="6.2" fill="#2c4090"/><rect x="105.5" y="-5.9" width="6.2" height="6.2" fill="#2c3f90"/><rect x="111.1" y="-5.9" width="6.2" height="6.2" fill="#2c4493"/><rect x="116.6" y="-5.9" width="6.2" height="6.2" fill="#2c4795"/><rect x="122.2" y="-5.9" width="6.2" height="6.2" fill="#2c4392"/><rect x="-5.9" y="-0.3" width="6.2" height="6.2" fill="#283080"/><rect x="-0.3" y="-0.3" width="6.2" height="6.2" fill="#283080"/><rect x="5.3" y="-0.3" width="6.2" height="6.2" fill="#283080"/><rect x="10.8" y="-0.3" width="6.2" height="6.2" fill="#283080"/><rect x="16.4" y="-0.3" width="6.2" height="6.2" fill="#283080"/><rect x="22.0" y="-0.3" width="6.2" height="6.2" fill="#283080"/><rect x="27.5" y="-0.3" width="6.2" height="6.2" fill="#283181"/><rect x="33.1" y="-0.3" width="6.2" height="6.2" fill="#283181"/><rect x="38.7" y="-0.3" width="6.2" height="6.2" fill="#293282"/><rect x="44.2" y="-0.3" width="6.2" height="6.2" fill="#293384"/><rect x="49.8" y="-0.3" width="6.2" height="6.2" fill="#2a3586"/><rect x="55.4" y="-0.3" width="6.2" height="6.2" fill="#2b3b8c"/><rect x="61.0" y="-0.3" width="6.2" height="6.2" fill="#2d4d99"/><rect x="66.5" y="-0.3" width="6.2" height="6.2" fill="#2e5fa8"/><rect x="72.1" y="-0.3" width="6.2" height="6.2" fill="#316eae"/><rect x="77.7" y="-0.3" width="6.2" height="6.2" fill="#3271af"/><rect x="83.2" y="-0.3" width="6.2" height="6.2" fill="#306aad"/><rect x="88.8" y="-0.3" width="6.2" height="6.2" fill="#2e5ea7"/><rect x="94.4" y="-0.3" width="6.2" height="6.2" fill="#2d539e"/><rect x="99.9" y="-0.3" width="6.2" height="6.2" fill="#2c4b99"/><rect x="105.5" y="-0.3" width="6.2" height="6.2" fill="#2c4b98"/><rect x="111.1" y="-0.3" width="6.2" height="6.2" fill="#2d509c"/><rect x="116.6" y="-0.3" width="6.2" height="6.2" fill="#2d549f"/><rect x="122.2" y="-0.3" width="6.2" height="6.2" fill="#2d4f9b"/><rect x="-5.9" y="5.3" width="6.2" height="6.2" fill="#283080"/><rect x="-0.3" y="5.3" width="6.2" height="6.2" fill="#283080"/><rect x="5.3" y="5.3" width="6.2" height="6.2" fill="#283080"/><rect x="10.8" y="5.3" width="6.2" height="6.2" fill="#283080"/><rect x="16.4" y="5.3" width="6.2" height="6.2" fill="#283080"/><rect x="22.0" y="5.3" width="6.2" height="6.2" fill="#283081"/><rect x="27.5" y="5.3" width="6.2" height="6.2" fill="#283181"/><rect x="33.1" y="5.3" width="6.2" height="6.2" fill="#283181"/><rect x="38.7" y="5.3" width="6.2" height="6.2" fill="#293282"/><rect x="44.2" y="5.3" width="6.2" height="6.2" fill="#293384"/><rect x="49.8" y="5.3" width="6.2" height="6.2" fill="#2a3687"/><rect x="55.4" y="5.3" width="6.2" height="6.2" fill="#2c4190"/><rect x="61.0" y="5.3" width="6.2" height="6.2" fill="#2d57a1"/><rect x="66.5" y="5.3" width="6.2" height="6.2" fill="#316faf"/><rect x="72.1" y="5.3" width="6.2" height="6.2" fill="#3581b6"/><rect x="77.7" y="5.3" width="6.2" height="6.2" fill="#3687b9"/><rect x="83.2" y="5.3" width="6.2" height="6.2" fill="#3580b6"/><rect x="88.8" y="5.3" width="6.2" height="6.2" fill="#3272b0"/><rect x="94.4" y="5.3" width="6.2" height="6.2" fill="#2f63a9"/><rect x="99.9" y="5.3" width="6.2" height="6.2" fill="#2d58a2"/><rect x="105.5" y="5.3" width="6.2" height="6.2" fill="#2d56a1"/><rect x="111.1" y="5.3" width="6.2" height="6.2" fill="#2e5ba5"/><rect x="116.6" y="5.3" width="6.2" height="6.2" fill="#2e60a8"/><rect x="122.2" y="5.3" width="6.2" height="6.2" fill="#2d59a3"/><rect x="-5.9" y="10.9" width="6.2" height="6.2" fill="#283080"/><rect x="-0.3" y="10.9" width="6.2" height="6.2" fill="#283080"/><rect x="5.3" y="10.9" width="6.2" height="6.2" fill="#283080"/><rect x="10.8" y="10.9" width="6.2" height="6.2" fill="#283080"/><rect x="16.4" y="10.9" width="6.2" height="6.2" fill="#283080"/><rect x="22.0" y="10.9" width="6.2" height="6.2" fill="#283081"/><rect x="27.5" y="10.9" width="6.2" height="6.2" fill="#283181"/><rect x="33.1" y="10.9" width="6.2" height="6.2" fill="#283182"/><rect x="38.7" y="10.9" width="6.2" height="6.2" fill="#293283"/><rect x="44.2" y="10.9" width="6.2" height="6.2" fill="#293485"/><rect x="49.8" y="10.9" width="6.2" height="6.2" fill="#2a3788"/><rect x="55.4" y="10.9" width="6.2" height="6.2" fill="#2c4594"/><rect x="61.0" y="10.9" width="6.2" height="6.2" fill="#2e5ea7"/><rect x="66.5" y="10.9" width="6.2" height="6.2" fill="#347bb4"/><rect x="72.1" y="10.9" width="6.2" height="6.2" fill="#3a92bc"/><rect x="77.7" y="10.9" width="6.2" height="6.2" fill="#409bbe"/><rect x="83.2" y="10.9" width="6.2" height="6.2" fill="#3c95bd"/><rect x="88.8" y="10.9" width="6.2" height="6.2" fill="#3686b9"/><rect x="94.4" y="10.9" width="6.2" height="6.2" fill="#3375b1"/><rect x="99.9" y="10.9" width="6.2" height="6.2" fill="#3067ab"/><rect x="105.5" y="10.9" width="6.2" height="6.2" fill="#2e62a9"/><rect x="111.1" y="10.9" width="6.2" height="6.2" fill="#2f65aa"/><rect x="116.6" y="10.9" width="6.2" height="6.2" fill="#3068ab"/><rect x="122.2" y="10.9" width="6.2" height="6.2" fill="#2e5fa7"/><rect x="-5.9" y="16.5" width="6.2" height="6.2" fill="#283080"/><rect x="-0.3" y="16.5" width="6.2" height="6.2" fill="#283080"/><rect x="5.3" y="16.5" width="6.2" height="6.2" fill="#283080"/><rect x="10.8" y="16.5" width="6.2" height="6.2" fill="#283080"/><rect x="16.4" y="16.5" width="6.2" height="6.2" fill="#283080"/><rect x="22.0" y="16.5" width="6.2" height="6.2" fill="#283181"/><rect x="27.5" y="16.5" width="6.2" height="6.2" fill="#283181"/><rect x="33.1" y="16.5" width="6.2" height="6.2" fill="#293182"/><rect x="38.7" y="16.5" width="6.2" height="6.2" fill="#293283"/><rect x="44.2" y="16.5" width="6.2" height="6.2" fill="#293485"/><rect x="49.8" y="16.5" width="6.2" height="6.2" fill="#2b3789"/><rect x="55.4" y="16.5" width="6.2" height="6.2" fill="#2c4896"/><rect x="61.0" y="16.5" width="6.2" height="6.2" fill="#2f63a9"/><rect x="66.5" y="16.5" width="6.2" height="6.2" fill="#3582b7"/><rect x="72.1" y="16.5" width="6.2" height="6.2" fill="#419ebe"/><rect x="77.7" y="16.5" width="6.2" height="6.2" fill="#49acc0"/><rect x="83.2" y="16.5" width="6.2" height="6.2" fill="#48abc0"/><rect x="88.8" y="16.5" width="6.2" height="6.2" fill="#419ebe"/><rect x="94.4" y="16.5" width="6.2" height="6.2" fill="#378aba"/><rect x="99.9" y="16.5" width="6.2" height="6.2" fill="#3378b3"/><rect x="105.5" y="16.5" width="6.2" height="6.2" fill="#316dae"/><rect x="111.1" y="16.5" width="6.2" height="6.2" fill="#316cad"/><rect x="116.6" y="16.5" width="6.2" height="6.2" fill="#306bad"/><rect x="122.2" y="16.5" width="6.2" height="6.2" fill="#2e5fa7"/><rect x="-5.9" y="22.1" width="6.2" height="6.2" fill="#283080"/><rect x="-0.3" y="22.1" width="6.2" height="6.2" fill="#283080"/><rect x="5.3" y="22.1" width="6.2" height="6.2" fill="#283080"/><rect x="10.8" y="22.1" width="6.2" height="6.2" fill="#283080"/><rect x="16.4" y="22.1" width="6.2" height="6.2" fill="#283080"/><rect x="22.0" y="22.1" width="6.2" height="6.2" fill="#283181"/><rect x="27.5" y="22.1" width="6.2" height="6.2" fill="#283181"/><rect x="33.1" y="22.1" width="6.2" height="6.2" fill="#293282"/><rect x="38.7" y="22.1" width="6.2" height="6.2" fill="#293283"/><rect x="44.2" y="22.1" width="6.2" height="6.2" fill="#2a3485"/><rect x="49.8" y="22.1" width="6.2" height="6.2" fill="#2b3789"/><rect x="55.4" y="22.1" width="6.2" height="6.2" fill="#2c4896"/><rect x="61.0" y="22.1" width="6.2" height="6.2" fill="#2f63a9"/><rect x="66.5" y="22.1" width="6.2" height="6.2" fill="#3684b8"/><rect x="72.1" y="22.1" width="6.2" height="6.2" fill="#44a3bf"/><rect x="77.7" y="22.1" width="6.2" height="6.2" fill="#50b8c1"/><rect x="83.2" y="22.1" width="6.2" height="6.2" fill="#57bec1"/><rect x="88.8" y="22.1" width="6.2" height="6.2" fill="#50b9c2"/><rect x="94.4" y="22.1" width="6.2" height="6.2" fill="#45a5bf"/><rect x="99.9" y="22.1" width="6.2" height="6.2" fill="#378aba"/><rect x="105.5" y="22.1" width="6.2" height="6.2" fill="#3378b3"/><rect x="111.1" y="22.1" width="6.2" height="6.2" fill="#316faf"/><rect x="116.6" y="22.1" width="6.2" height="6.2" fill="#3068ac"/><rect x="122.2" y="22.1" width="6.2" height="6.2" fill="#2e5ba4"/><rect x="-5.9" y="27.7" width="6.2" height="6.2" fill="#283080"/><rect x="-0.3" y="27.7" width="6.2" height="6.2" fill="#283080"/><rect x="5.3" y="27.7" width="6.2" height="6.2" fill="#283080"/><rect x="10.8" y="27.7" width="6.2" height="6.2" fill="#283080"/><rect x="16.4" y="27.7" width="6.2" height="6.2" fill="#283080"/><rect x="22.0" y="27.7" width="6.2" height="6.2" fill="#283181"/><rect x="27.5" y="27.7" width="6.2" height="6.2" fill="#283181"/><rect x="33.1" y="27.7" width="6.2" height="6.2" fill="#293282"/><rect x="38.7" y="27.7" width="6.2" height="6.2" fill="#293383"/><rect x="44.2" y="27.7" width="6.2" height="6.2" fill="#2a3485"/><rect x="49.8" y="27.7" width="6.2" height="6.2" fill="#2b3789"/><rect x="55.4" y="27.7" width="6.2" height="6.2" fill="#2c4695"/><rect x="61.0" y="27.7" width="6.2" height="6.2" fill="#2e60a8"/><rect x="66.5" y="27.7" width="6.2" height="6.2" fill="#3581b6"/><rect x="72.1" y="27.7" width="6.2" height="6.2" fill="#44a3bf"/><rect x="77.7" y="27.7" width="6.2" height="6.2" fill="#57bec1"/><rect x="83.2" y="27.7" width="6.2" height="6.2" fill="#7bccbd"/><rect x="88.8" y="27.7" width="6.2" height="6.2" fill="#86d0bc"/><rect x="94.4" y="27.7" width="6.2" height="6.2" fill="#64c3c0"/><rect x="99.9" y="27.7" width="6.2" height="6.2" fill="#43a1bf"/><rect x="105.5" y="27.7" width="6.2" height="6.2" fill="#3582b7"/><rect x="111.1" y="27.7" width="6.2" height="6.2" fill="#3270af"/><rect x="116.6" y="27.7" width="6.2" height="6.2" fill="#2f63a9"/><rect x="122.2" y="27.7" width="6.2" height="6.2" fill="#2d549f"/><rect x="-5.9" y="33.3" width="6.2" height="6.2" fill="#283080"/><rect x="-0.3" y="33.3" width="6.2" height="6.2" fill="#283080"/><rect x="5.3" y="33.3" width="6.2" height="6.2" fill="#283080"/><rect x="10.8" y="33.3" width="6.2" height="6.2" fill="#283080"/><rect x="16.4" y="33.3" width="6.2" height="6.2" fill="#283081"/><rect x="22.0" y="33.3" width="6.2" height="6.2" fill="#283181"/><rect x="27.5" y="33.3" width="6.2" height="6.2" fill="#283181"/><rect x="33.1" y="33.3" width="6.2" height="6.2" fill="#293282"/><rect x="38.7" y="33.3" width="6.2" height="6.2" fill="#293383"/><rect x="44.2" y="33.3" width="6.2" height="6.2" fill="#2a3485"/><rect x="49.8" y="33.3" width="6.2" height="6.2" fill="#2b3788"/><rect x="55.4" y="33.3" width="6.2" height="6.2" fill="#2c4493"/><rect x="61.0" y="33.3" width="6.2" height="6.2" fill="#2e5ca5"/><rect x="66.5" y="33.3" width="6.2" height="6.2" fill="#347bb4"/><rect x="72.1" y="33.3" width="6.2" height="6.2" fill="#419fbe"/><rect x="77.7" y="33.3" width="6.2" height="6.2" fill="#60c1c0"/><rect x="83.2" y="33.3" width="6.2" height="6.2" fill="#a2dbb8"/><rect x="88.8" y="33.3" width="6.2" height="6.2" fill="#caeabc"/><rect x="94.4" y="33.3" width="6.2" height="6.2" fill="#addfb9"/><rect x="99.9" y="33.3" width="6.2" height="6.2" fill="#52bcc2"/><rect x="105.5" y="33.3" width="6.2" height="6.2" fill="#388cbb"/><rect x="111.1" y="33.3" width="6.2" height="6.2" fill="#3270af"/><rect x="116.6" y="33.3" width="6.2" height="6.2" fill="#2e5da6"/><rect x="122.2" y="33.3" width="6.2" height="6.2" fill="#2d4c99"/><rect x="-5.9" y="38.9" width="6.2" height="6.2" fill="#283080"/><rect x="-0.3" y="38.9" width="6.2" height="6.2" fill="#283080"/><rect x="5.3" y="38.9" width="6.2" height="6.2" fill="#283081"/><rect x="10.8" y="38.9" width="6.2" height="6.2" fill="#283181"/><rect x="16.4" y="38.9" width="6.2" height="6.2" fill="#283181"/><rect x="22.0" y="38.9" width="6.2" height="6.2" fill="#283181"/><rect x="27.5" y="38.9" width="6.2" height="6.2" fill="#283181"/><rect x="33.1" y="38.9" width="6.2" height="6.2" fill="#293282"/><rect x="38.7" y="38.9" width="6.2" height="6.2" fill="#293383"/><rect x="44.2" y="38.9" width="6.2" height="6.2" fill="#2a3485"/><rect x="49.8" y="38.9" width="6.2" height="6.2" fill="#2a3688"/><rect x="55.4" y="38.9" width="6.2" height="6.2" fill="#2c4191"/><rect x="61.0" y="38.9" width="6.2" height="6.2" fill="#2d56a1"/><rect x="66.5" y="38.9" width="6.2" height="6.2" fill="#3274b1"/><rect x="72.1" y="38.9" width="6.2" height="6.2" fill="#3e99bd"/><rect x="77.7" y="38.9" width="6.2" height="6.2" fill="#65c3c0"/><rect x="83.2" y="38.9" width="6.2" height="6.2" fill="#c7e8bc"/><rect x="88.8" y="38.9" width="6.2" height="6.2" fill="#f6facd"/><rect x="94.4" y="38.9" width="6.2" height="6.2" fill="#edf7c5"/><rect x="99.9" y="38.9" width="6.2" height="6.2" fill="#82cebc"/><rect x="105.5" y="38.9" width="6.2" height="6.2" fill="#3d96bd"/><rect x="111.1" y="38.9" width="6.2" height="6.2" fill="#3270af"/><rect x="116.6" y="38.9" width="6.2" height="6.2" fill="#2d58a2"/><rect x="122.2" y="38.9" width="6.2" height="6.2" fill="#2c4594"/><rect x="-5.9" y="44.5" width="6.2" height="6.2" fill="#283181"/><rect x="-0.3" y="44.5" width="6.2" height="6.2" fill="#283181"/><rect x="5.3" y="44.5" width="6.2" height="6.2" fill="#283181"/><rect x="10.8" y="44.5" width="6.2" height="6.2" fill="#283181"/><rect x="16.4" y="44.5" width="6.2" height="6.2" fill="#283181"/><rect x="22.0" y="44.5" width="6.2" height="6.2" fill="#283181"/><rect x="27.5" y="44.5" width="6.2" height="6.2" fill="#283182"/><rect x="33.1" y="44.5" width="6.2" height="6.2" fill="#293282"/><rect x="38.7" y="44.5" width="6.2" height="6.2" fill="#293383"/><rect x="44.2" y="44.5" width="6.2" height="6.2" fill="#293485"/><rect x="49.8" y="44.5" width="6.2" height="6.2" fill="#2a3688"/><rect x="55.4" y="44.5" width="6.2" height="6.2" fill="#2b3e8e"/><rect x="61.0" y="44.5" width="6.2" height="6.2" fill="#2d529d"/><rect x="66.5" y="44.5" width="6.2" height="6.2" fill="#316eae"/><rect x="72.1" y="44.5" width="6.2" height="6.2" fill="#3b93bd"/><rect x="77.7" y="44.5" width="6.2" height="6.2" fill="#67c4c0"/><rect x="83.2" y="44.5" width="6.2" height="6.2" fill="#e3f3bf"/><rect x="88.8" y="44.5" width="6.2" height="6.2" fill="#fdfcd4"/><rect x="94.4" y="44.5" width="6.2" height="6.2" fill="#fdfcd4"/><rect x="99.9" y="44.5" width="6.2" height="6.2" fill="#a9ddb8"/><rect x="105.5" y="44.5" width="6.2" height="6.2" fill="#419ebe"/><rect x="111.1" y="44.5" width="6.2" height="6.2" fill="#3170af"/><rect x="116.6" y="44.5" width="6.2" height="6.2" fill="#2d539e"/><rect x="122.2" y="44.5" width="6.2" height="6.2" fill="#2c4090"/><rect x="-5.9" y="50.1" width="6.2" height="6.2" fill="#293283"/><rect x="-0.3" y="50.1" width="6.2" height="6.2" fill="#293283"/><rect x="5.3" y="50.1" width="6.2" height="6.2" fill="#293283"/><rect x="10.8" y="50.1" width="6.2" height="6.2" fill="#293283"/><rect x="16.4" y="50.1" width="6.2" height="6.2" fill="#293282"/><rect x="22.0" y="50.1" width="6.2" height="6.2" fill="#293182"/><rect x="27.5" y="50.1" width="6.2" height="6.2" fill="#293182"/><rect x="33.1" y="50.1" width="6.2" height="6.2" fill="#293282"/><rect x="38.7" y="50.1" width="6.2" height="6.2" fill="#293383"/><rect x="44.2" y="50.1" width="6.2" height="6.2" fill="#293485"/><rect x="49.8" y="50.1" width="6.2" height="6.2" fill="#2a3687"/><rect x="55.4" y="50.1" width="6.2" height="6.2" fill="#2b3b8d"/><rect x="61.0" y="50.1" width="6.2" height="6.2" fill="#2d4e9a"/><rect x="66.5" y="50.1" width="6.2" height="6.2" fill="#3068ab"/><rect x="72.1" y="50.1" width="6.2" height="6.2" fill="#388dbb"/><rect x="77.7" y="50.1" width="6.2" height="6.2" fill="#61c2c0"/><rect x="83.2" y="50.1" width="6.2" height="6.2" fill="#e9f5c1"/><rect x="88.8" y="50.1" width="6.2" height="6.2" fill="#fdfcd4"/><rect x="94.4" y="50.1" width="6.2" height="6.2" fill="#fdfcd4"/><rect x="99.9" y="50.1" width="6.2" height="6.2" fill="#b8e3ba"/><rect x="105.5" y="50.1" width="6.2" height="6.2" fill="#43a1be"/><rect x="111.1" y="50.1" width="6.2" height="6.2" fill="#316fae"/><rect x="116.6" y="50.1" width="6.2" height="6.2" fill="#2d509c"/><rect x="122.2" y="50.1" width="6.2" height="6.2" fill="#2b3c8d"/><rect x="-5.9" y="55.7" width="6.2" height="6.2" fill="#2a3486"/><rect x="-0.3" y="55.7" width="6.2" height="6.2" fill="#2a3587"/><rect x="5.3" y="55.7" width="6.2" height="6.2" fill="#2a3587"/><rect x="10.8" y="55.7" width="6.2" height="6.2" fill="#2a3486"/><rect x="16.4" y="55.7" width="6.2" height="6.2" fill="#293384"/><rect x="22.0" y="55.7" width="6.2" height="6.2" fill="#293283"/><rect x="27.5" y="55.7" width="6.2" height="6.2" fill="#293282"/><rect x="33.1" y="55.7" width="6.2" height="6.2" fill="#293283"/><rect x="38.7" y="55.7" width="6.2" height="6.2" fill="#293383"/><rect x="44.2" y="55.7" width="6.2" height="6.2" fill="#293485"/><rect x="49.8" y="55.7" width="6.2" height="6.2" fill="#2a3687"/><rect x="55.4" y="55.7" width="6.2" height="6.2" fill="#2b398b"/><rect x="61.0" y="55.7" width="6.2" height="6.2" fill="#2c4a97"/><rect x="66.5" y="55.7" width="6.2" height="6.2" fill="#2f62a9"/><rect x="72.1" y="55.7" width="6.2" height="6.2" fill="#3686b8"/><rect x="77.7" y="55.7" width="6.2" height="6.2" fill="#52bcc2"/><rect x="83.2" y="55.7" width="6.2" height="6.2" fill="#daf0be"/><rect x="88.8" y="55.7" width="6.2" height="6.2" fill="#fdfcd4"/><rect x="94.4" y="55.7" width="6.2" height="6.2" fill="#fdfcd4"/><rect x="99.9" y="55.7" width="6.2" height="6.2" fill="#b2e0b9"/><rect x="105.5" y="55.7" width="6.2" height="6.2" fill="#429fbe"/><rect x="111.1" y="55.7" width="6.2" height="6.2" fill="#316cad"/><rect x="116.6" y="55.7" width="6.2" height="6.2" fill="#2d4d9a"/><rect x="122.2" y="55.7" width="6.2" height="6.2" fill="#2b398b"/><rect x="-5.9" y="61.4" width="6.2" height="6.2" fill="#2b3a8b"/><rect x="-0.3" y="61.4" width="6.2" height="6.2" fill="#2c3f8f"/><rect x="5.3" y="61.4" width="6.2" height="6.2" fill="#2b3e8f"/><rect x="10.8" y="61.4" width="6.2" height="6.2" fill="#2b398a"/><rect x="16.4" y="61.4" width="6.2" height="6.2" fill="#2a3687"/><rect x="22.0" y="61.4" width="6.2" height="6.2" fill="#293485"/><rect x="27.5" y="61.4" width="6.2" height="6.2" fill="#293383"/><rect x="33.1" y="61.4" width="6.2" height="6.2" fill="#293283"/><rect x="38.7" y="61.4" width="6.2" height="6.2" fill="#293383"/><rect x="44.2" y="61.4" width="6.2" height="6.2" fill="#293485"/><rect x="49.8" y="61.4" width="6.2" height="6.2" fill="#2a3587"/><rect x="55.4" y="61.4" width="6.2" height="6.2" fill="#2b388a"/><rect x="61.0" y="61.4" width="6.2" height="6.2" fill="#2c4695"/><rect x="66.5" y="61.4" width="6.2" height="6.2" fill="#2e5da6"/><rect x="72.1" y="61.4" width="6.2" height="6.2" fill="#357eb5"/><rect x="77.7" y="61.4" width="6.2" height="6.2" fill="#4bafc0"/><rect x="83.2" y="61.4" width="6.2" height="6.2" fill="#b7e2ba"/><rect x="88.8" y="61.4" width="6.2" height="6.2" fill="#f9fbd0"/><rect x="94.4" y="61.4" width="6.2" height="6.2" fill="#f5f9cd"/><rect x="99.9" y="61.4" width="6.2" height="6.2" fill="#9ad7b9"/><rect x="105.5" y="61.4" width="6.2" height="6.2" fill="#3e99bd"/><rect x="111.1" y="61.4" width="6.2" height="6.2" fill="#3068ac"/><rect x="116.6" y="61.4" width="6.2" height="6.2" fill="#2c4a98"/><rect x="122.2" y="61.4" width="6.2" height="6.2" fill="#2b388a"/><rect x="-5.9" y="67.0" width="6.2" height="6.2" fill="#2d4e9a"/><rect x="-0.3" y="67.0" width="6.2" height="6.2" fill="#2d56a1"/><rect x="5.3" y="67.0" width="6.2" height="6.2" fill="#2d55a0"/><rect x="10.8" y="67.0" width="6.2" height="6.2" fill="#2c4c99"/><rect x="16.4" y="67.0" width="6.2" height="6.2" fill="#2b3e8e"/><rect x="22.0" y="67.0" width="6.2" height="6.2" fill="#2a3688"/><rect x="27.5" y="67.0" width="6.2" height="6.2" fill="#293485"/><rect x="33.1" y="67.0" width="6.2" height="6.2" fill="#293383"/><rect x="38.7" y="67.0" width="6.2" height="6.2" fill="#293383"/><rect x="44.2" y="67.0" width="6.2" height="6.2" fill="#293384"/><rect x="49.8" y="67.0" width="6.2" height="6.2" fill="#2a3586"/><rect x="55.4" y="67.0" width="6.2" height="6.2" fill="#2b3789"/><rect x="61.0" y="67.0" width="6.2" height="6.2" fill="#2c4392"/><rect x="66.5" y="67.0" width="6.2" height="6.2" fill="#2d57a1"/><rect x="72.1" y="67.0" width="6.2" height="6.2" fill="#3375b1"/><rect x="77.7" y="67.0" width="6.2" height="6.2" fill="#42a0be"/><rect x="83.2" y="67.0" width="6.2" height="6.2" fill="#8ad1bb"/><rect x="88.8" y="67.0" width="6.2" height="6.2" fill="#dff2bf"/><rect x="94.4" y="67.0" width="6.2" height="6.2" fill="#dbf0be"/><rect x="99.9" y="67.0" width="6.2" height="6.2" fill="#7bccbd"/><rect x="105.5" y="67.0" width="6.2" height="6.2" fill="#3990bc"/><rect x="111.1" y="67.0" width="6.2" height="6.2" fill="#2f63a9"/><rect x="116.6" y="67.0" width="6.2" height="6.2" fill="#2c4795"/><rect x="122.2" y="67.0" width="6.2" height="6.2" fill="#2b3789"/><rect x="-5.9" y="72.6" width="6.2" height="6.2" fill="#2f63a9"/><rect x="-0.3" y="72.6" width="6.2" height="6.2" fill="#3271af"/><rect x="5.3" y="72.6" width="6.2" height="6.2" fill="#3170af"/><rect x="10.8" y="72.6" width="6.2" height="6.2" fill="#2e61a9"/><rect x="16.4" y="72.6" width="6.2" height="6.2" fill="#2d4d9a"/><rect x="22.0" y="72.6" width="6.2" height="6.2" fill="#2b3a8b"/><rect x="27.5" y="72.6" width="6.2" height="6.2" fill="#2a3586"/><rect x="33.1" y="72.6" width="6.2" height="6.2" fill="#293384"/><rect x="38.7" y="72.6" width="6.2" height="6.2" fill="#293384"/><rect x="44.2" y="72.6" width="6.2" height="6.2" fill="#293384"/><rect x="49.8" y="72.6" width="6.2" height="6.2" fill="#2a3586"/><rect x="55.4" y="72.6" width="6.2" height="6.2" fill="#2b3788"/><rect x="61.0" y="72.6" width="6.2" height="6.2" fill="#2c3f8f"/><rect x="66.5" y="72.6" width="6.2" height="6.2" fill="#2d519d"/><rect x="72.1" y="72.6" width="6.2" height="6.2" fill="#306bad"/><rect x="77.7" y="72.6" width="6.2" height="6.2" fill="#388fbc"/><rect x="83.2" y="72.6" width="6.2" height="6.2" fill="#5bbfc1"/><rect x="88.8" y="72.6" width="6.2" height="6.2" fill="#a8ddb8"/><rect x="94.4" y="72.6" width="6.2" height="6.2" fill="#aaddb8"/><rect x="99.9" y="72.6" width="6.2" height="6.2" fill="#59bfc1"/><rect x="105.5" y="72.6" width="6.2" height="6.2" fill="#3687b9"/><rect x="111.1" y="72.6" width="6.2" height="6.2" fill="#2e5da5"/><rect x="116.6" y="72.6" width="6.2" height="6.2" fill="#2c4292"/><rect x="122.2" y="72.6" width="6.2" height="6.2" fill="#2a3688"/><rect x="-5.9" y="78.2" width="6.2" height="6.2" fill="#3376b2"/><rect x="-0.3" y="78.2" width="6.2" height="6.2" fill="#3788b9"/><rect x="5.3" y="78.2" width="6.2" height="6.2" fill="#3788b9"/><rect x="10.8" y="78.2" width="6.2" height="6.2" fill="#3377b2"/><rect x="16.4" y="78.2" width="6.2" height="6.2" fill="#2e5ca5"/><rect x="22.0" y="78.2" width="6.2" height="6.2" fill="#2c4493"/><rect x="27.5" y="78.2" width="6.2" height="6.2" fill="#2a3688"/><rect x="33.1" y="78.2" width="6.2" height="6.2" fill="#293485"/><rect x="38.7" y="78.2" width="6.2" height="6.2" fill="#293384"/><rect x="44.2" y="78.2" width="6.2" height="6.2" fill="#293384"/><rect x="49.8" y="78.2" width="6.2" height="6.2" fill="#2a3485"/><rect x="55.4" y="78.2" width="6.2" height="6.2" fill="#2a3688"/><rect x="61.0" y="78.2" width="6.2" height="6.2" fill="#2b3b8c"/><rect x="66.5" y="78.2" width="6.2" height="6.2" fill="#2c4b98"/><rect x="72.1" y="78.2" width="6.2" height="6.2" fill="#2e60a8"/><rect x="77.7" y="78.2" width="6.2" height="6.2" fill="#357fb5"/><rect x="83.2" y="78.2" width="6.2" height="6.2" fill="#46a7bf"/><rect x="88.8" y="78.2" width="6.2" height="6.2" fill="#6dc6bf"/><rect x="94.4" y="78.2" width="6.2" height="6.2" fill="#73c9be"/><rect x="99.9" y="78.2" width="6.2" height="6.2" fill="#48abc0"/><rect x="105.5" y="78.2" width="6.2" height="6.2" fill="#347ab3"/><rect x="111.1" y="78.2" width="6.2" height="6.2" fill="#2d55a0"/><rect x="116.6" y="78.2" width="6.2" height="6.2" fill="#2b3e8e"/><rect x="122.2" y="78.2" width="6.2" height="6.2" fill="#2a3687"/><rect x="-5.9" y="83.8" width="6.2" height="6.2" fill="#357fb6"/><rect x="-0.3" y="83.8" width="6.2" height="6.2" fill="#3c95bd"/><rect x="5.3" y="83.8" width="6.2" height="6.2" fill="#3e98bd"/><rect x="10.8" y="83.8" width="6.2" height="6.2" fill="#3686b9"/><rect x="16.4" y="83.8" width="6.2" height="6.2" fill="#306aac"/><rect x="22.0" y="83.8" width="6.2" height="6.2" fill="#2d4e9a"/><rect x="27.5" y="83.8" width="6.2" height="6.2" fill="#2b398b"/><rect x="33.1" y="83.8" width="6.2" height="6.2" fill="#2a3586"/><rect x="38.7" y="83.8" width="6.2" height="6.2" fill="#293384"/><rect x="44.2" y="83.8" width="6.2" height="6.2" fill="#293384"/><rect x="49.8" y="83.8" width="6.2" height="6.2" fill="#2a3485"/><rect x="55.4" y="83.8" width="6.2" height="6.2" fill="#2a3687"/><rect x="61.0" y="83.8" width="6.2" height="6.2" fill="#2b388a"/><rect x="66.5" y="83.8" width="6.2" height="6.2" fill="#2c4493"/><rect x="72.1" y="83.8" width="6.2" height="6.2" fill="#2d55a0"/><rect x="77.7" y="83.8" width="6.2" height="6.2" fill="#316eae"/><rect x="83.2" y="83.8" width="6.2" height="6.2" fill="#388cbb"/><rect x="88.8" y="83.8" width="6.2" height="6.2" fill="#47a9bf"/><rect x="94.4" y="83.8" width="6.2" height="6.2" fill="#49acc0"/><rect x="99.9" y="83.8" width="6.2" height="6.2" fill="#3990bc"/><rect x="105.5" y="83.8" width="6.2" height="6.2" fill="#306aac"/><rect x="111.1" y="83.8" width="6.2" height="6.2" fill="#2d4c99"/><rect x="116.6" y="83.8" width="6.2" height="6.2" fill="#2b398a"/><rect x="122.2" y="83.8" width="6.2" height="6.2" fill="#2a3586"/><rect x="-5.9" y="89.4" width="6.2" height="6.2" fill="#347cb4"/><rect x="-0.3" y="89.4" width="6.2" height="6.2" fill="#3c95bd"/><rect x="5.3" y="89.4" width="6.2" height="6.2" fill="#419dbe"/><rect x="10.8" y="89.4" width="6.2" height="6.2" fill="#3990bc"/><rect x="16.4" y="89.4" width="6.2" height="6.2" fill="#3376b2"/><rect x="22.0" y="89.4" width="6.2" height="6.2" fill="#2e59a3"/><rect x="27.5" y="89.4" width="6.2" height="6.2" fill="#2c4392"/><rect x="33.1" y="89.4" width="6.2" height="6.2" fill="#2b3788"/><rect x="38.7" y="89.4" width="6.2" height="6.2" fill="#2a3586"/><rect x="44.2" y="89.4" width="6.2" height="6.2" fill="#293485"/><rect x="49.8" y="89.4" width="6.2" height="6.2" fill="#2a3485"/><rect x="55.4" y="89.4" width="6.2" height="6.2" fill="#2a3586"/><rect x="61.0" y="89.4" width="6.2" height="6.2" fill="#2b3789"/><rect x="66.5" y="89.4" width="6.2" height="6.2" fill="#2b3d8e"/><rect x="72.1" y="89.4" width="6.2" height="6.2" fill="#2c4b98"/><rect x="77.7" y="89.4" width="6.2" height="6.2" fill="#2e5da6"/><rect x="83.2" y="89.4" width="6.2" height="6.2" fill="#3273b0"/><rect x="88.8" y="89.4" width="6.2" height="6.2" fill="#3686b8"/><rect x="94.4" y="89.4" width="6.2" height="6.2" fill="#3788b9"/><rect x="99.9" y="89.4" width="6.2" height="6.2" fill="#3375b1"/><rect x="105.5" y="89.4" width="6.2" height="6.2" fill="#2e59a3"/><rect x="111.1" y="89.4" width="6.2" height="6.2" fill="#2c4392"/><rect x="116.6" y="89.4" width="6.2" height="6.2" fill="#2b3789"/><rect x="122.2" y="89.4" width="6.2" height="6.2" fill="#2a3485"/><rect x="-5.9" y="95.0" width="6.2" height="6.2" fill="#3270af"/><rect x="-0.3" y="95.0" width="6.2" height="6.2" fill="#378aba"/><rect x="5.3" y="95.0" width="6.2" height="6.2" fill="#3f9abe"/><rect x="10.8" y="95.0" width="6.2" height="6.2" fill="#3d96bd"/><rect x="16.4" y="95.0" width="6.2" height="6.2" fill="#3683b7"/><rect x="22.0" y="95.0" width="6.2" height="6.2" fill="#306aac"/><rect x="27.5" y="95.0" width="6.2" height="6.2" fill="#2d529d"/><rect x="33.1" y="95.0" width="6.2" height="6.2" fill="#2c3f8f"/><rect x="38.7" y="95.0" width="6.2" height="6.2" fill="#2a3788"/><rect x="44.2" y="95.0" width="6.2" height="6.2" fill="#2a3586"/><rect x="49.8" y="95.0" width="6.2" height="6.2" fill="#2a3485"/><rect x="55.4" y="95.0" width="6.2" height="6.2" fill="#2a3586"/><rect x="61.0" y="95.0" width="6.2" height="6.2" fill="#2a3687"/><rect x="66.5" y="95.0" width="6.2" height="6.2" fill="#2b388a"/><rect x="72.1" y="95.0" width="6.2" height="6.2" fill="#2c4291"/><rect x="77.7" y="95.0" width="6.2" height="6.2" fill="#2d4f9b"/><rect x="83.2" y="95.0" width="6.2" height="6.2" fill="#2e5da5"/><rect x="88.8" y="95.0" width="6.2" height="6.2" fill="#3068ab"/><rect x="94.4" y="95.0" width="6.2" height="6.2" fill="#3069ac"/><rect x="99.9" y="95.0" width="6.2" height="6.2" fill="#2e5ca5"/><rect x="105.5" y="95.0" width="6.2" height="6.2" fill="#2c4a98"/><rect x="111.1" y="95.0" width="6.2" height="6.2" fill="#2b3a8c"/><rect x="116.6" y="95.0" width="6.2" height="6.2" fill="#2a3687"/><rect x="122.2" y="95.0" width="6.2" height="6.2" fill="#293484"/><rect x="-5.9" y="100.6" width="6.2" height="6.2" fill="#2e60a8"/><rect x="-0.3" y="100.6" width="6.2" height="6.2" fill="#347cb4"/><rect x="5.3" y="100.6" width="6.2" height="6.2" fill="#3a91bc"/><rect x="10.8" y="100.6" width="6.2" height="6.2" fill="#3f9abe"/><rect x="16.4" y="100.6" width="6.2" height="6.2" fill="#3a92bc"/><rect x="22.0" y="100.6" width="6.2" height="6.2" fill="#357eb5"/><rect x="27.5" y="100.6" width="6.2" height="6.2" fill="#2f66aa"/><rect x="33.1" y="100.6" width="6.2" height="6.2" fill="#2d4f9b"/><rect x="38.7" y="100.6" width="6.2" height="6.2" fill="#2b3e8e"/><rect x="44.2" y="100.6" width="6.2" height="6.2" fill="#2a3688"/><rect x="49.8" y="100.6" width="6.2" height="6.2" fill="#2a3586"/><rect x="55.4" y="100.6" width="6.2" height="6.2" fill="#2a3586"/><rect x="61.0" y="100.6" width="6.2" height="6.2" fill="#2a3586"/><rect x="66.5" y="100.6" width="6.2" height="6.2" fill="#2a3788"/><rect x="72.1" y="100.6" width="6.2" height="6.2" fill="#2b3a8b"/><rect x="77.7" y="100.6" width="6.2" height="6.2" fill="#2c4292"/><rect x="83.2" y="100.6" width="6.2" height="6.2" fill="#2c4b98"/><rect x="88.8" y="100.6" width="6.2" height="6.2" fill="#2d519d"/><rect x="94.4" y="100.6" width="6.2" height="6.2" fill="#2d519d"/><rect x="99.9" y="100.6" width="6.2" height="6.2" fill="#2c4997"/><rect x="105.5" y="100.6" width="6.2" height="6.2" fill="#2b3e8e"/><rect x="111.1" y="100.6" width="6.2" height="6.2" fill="#2a3788"/><rect x="116.6" y="100.6" width="6.2" height="6.2" fill="#2a3486"/><rect x="122.2" y="100.6" width="6.2" height="6.2" fill="#293384"/><rect x="-5.9" y="106.2" width="6.2" height="6.2" fill="#2d519c"/><rect x="-0.3" y="106.2" width="6.2" height="6.2" fill="#306bad"/><rect x="5.3" y="106.2" width="6.2" height="6.2" fill="#3686b9"/><rect x="10.8" y="106.2" width="6.2" height="6.2" fill="#3e99bd"/><rect x="16.4" y="106.2" width="6.2" height="6.2" fill="#419dbe"/><rect x="22.0" y="106.2" width="6.2" height="6.2" fill="#3990bc"/><rect x="27.5" y="106.2" width="6.2" height="6.2" fill="#3479b3"/><rect x="33.1" y="106.2" width="6.2" height="6.2" fill="#2e5fa7"/><rect x="38.7" y="106.2" width="6.2" height="6.2" fill="#2c4997"/><rect x="44.2" y="106.2" width="6.2" height="6.2" fill="#2b398a"/><rect x="49.8" y="106.2" width="6.2" height="6.2" fill="#2a3687"/><rect x="55.4" y="106.2" width="6.2" height="6.2" fill="#2a3486"/><rect x="61.0" y="106.2" width="6.2" height="6.2" fill="#2a3586"/><rect x="66.5" y="106.2" width="6.2" height="6.2" fill="#2a3587"/><rect x="72.1" y="106.2" width="6.2" height="6.2" fill="#2b3788"/><rect x="77.7" y="106.2" width="6.2" height="6.2" fill="#2b398b"/><rect x="83.2" y="106.2" width="6.2" height="6.2" fill="#2b3e8f"/><rect x="88.8" y="106.2" width="6.2" height="6.2" fill="#2c4191"/><rect x="94.4" y="106.2" width="6.2" height="6.2" fill="#2c4190"/><rect x="99.9" y="106.2" width="6.2" height="6.2" fill="#2b3b8d"/><rect x="105.5" y="106.2" width="6.2" height="6.2" fill="#2b3789"/><rect x="111.1" y="106.2" width="6.2" height="6.2" fill="#2a3586"/><rect x="116.6" y="106.2" width="6.2" height="6.2" fill="#293484"/><rect x="122.2" y="106.2" width="6.2" height="6.2" fill="#293283"/><rect x="-5.9" y="111.8" width="6.2" height="6.2" fill="#2c4392"/><rect x="-0.3" y="111.8" width="6.2" height="6.2" fill="#2e5ba4"/><rect x="5.3" y="111.8" width="6.2" height="6.2" fill="#3377b2"/><rect x="10.8" y="111.8" width="6.2" height="6.2" fill="#388ebc"/><rect x="16.4" y="111.8" width="6.2" height="6.2" fill="#3f9bbe"/><rect x="22.0" y="111.8" width="6.2" height="6.2" fill="#3c96bd"/><rect x="27.5" y="111.8" width="6.2" height="6.2" fill="#3582b7"/><rect x="33.1" y="111.8" width="6.2" height="6.2" fill="#3068ac"/><rect x="38.7" y="111.8" width="6.2" height="6.2" fill="#2d4f9b"/><rect x="44.2" y="111.8" width="6.2" height="6.2" fill="#2b3c8d"/><rect x="49.8" y="111.8" width="6.2" height="6.2" fill="#2a3687"/><rect x="55.4" y="111.8" width="6.2" height="6.2" fill="#2a3485"/><rect x="61.0" y="111.8" width="6.2" height="6.2" fill="#293485"/><rect x="66.5" y="111.8" width="6.2" height="6.2" fill="#2a3486"/><rect x="72.1" y="111.8" width="6.2" height="6.2" fill="#2a3587"/><rect x="77.7" y="111.8" width="6.2" height="6.2" fill="#2a3688"/><rect x="83.2" y="111.8" width="6.2" height="6.2" fill="#2b3789"/><rect x="88.8" y="111.8" width="6.2" height="6.2" fill="#2b3889"/><rect x="94.4" y="111.8" width="6.2" height="6.2" fill="#2b3789"/><rect x="99.9" y="111.8" width="6.2" height="6.2" fill="#2a3688"/><rect x="105.5" y="111.8" width="6.2" height="6.2" fill="#2a3586"/><rect x="111.1" y="111.8" width="6.2" height="6.2" fill="#293485"/><rect x="116.6" y="111.8" width="6.2" height="6.2" fill="#293384"/><rect x="122.2" y="111.8" width="6.2" height="6.2" fill="#293282"/><rect x="-5.9" y="117.4" width="6.2" height="6.2" fill="#2b388a"/><rect x="-0.3" y="117.4" width="6.2" height="6.2" fill="#2c4b98"/><rect x="5.3" y="117.4" width="6.2" height="6.2" fill="#2f62a9"/><rect x="10.8" y="117.4" width="6.2" height="6.2" fill="#347ab3"/><rect x="16.4" y="117.4" width="6.2" height="6.2" fill="#3788b9"/><rect x="22.0" y="117.4" width="6.2" height="6.2" fill="#3788b9"/><rect x="27.5" y="117.4" width="6.2" height="6.2" fill="#347ab3"/><rect x="33.1" y="117.4" width="6.2" height="6.2" fill="#2f63a9"/><rect x="38.7" y="117.4" width="6.2" height="6.2" fill="#2d4d9a"/><rect x="44.2" y="117.4" width="6.2" height="6.2" fill="#2b3a8c"/><rect x="49.8" y="117.4" width="6.2" height="6.2" fill="#2a3587"/><rect x="55.4" y="117.4" width="6.2" height="6.2" fill="#293485"/><rect x="61.0" y="117.4" width="6.2" height="6.2" fill="#293384"/><rect x="66.5" y="117.4" width="6.2" height="6.2" fill="#293484"/><rect x="72.1" y="117.4" width="6.2" height="6.2" fill="#2a3485"/><rect x="77.7" y="117.4" width="6.2" height="6.2" fill="#2a3586"/><rect x="83.2" y="117.4" width="6.2" height="6.2" fill="#2a3587"/><rect x="88.8" y="117.4" width="6.2" height="6.2" fill="#2a3687"/><rect x="94.4" y="117.4" width="6.2" height="6.2" fill="#2a3587"/><rect x="99.9" y="117.4" width="6.2" height="6.2" fill="#2a3586"/><rect x="105.5" y="117.4" width="6.2" height="6.2" fill="#293485"/><rect x="111.1" y="117.4" width="6.2" height="6.2" fill="#293384"/><rect x="116.6" y="117.4" width="6.2" height="6.2" fill="#293283"/><rect x="122.2" y="117.4" width="6.2" height="6.2" fill="#293282"/><rect x="-5.9" y="123.0" width="6.2" height="6.2" fill="#2a3586"/><rect x="-0.3" y="123.0" width="6.2" height="6.2" fill="#2b3b8c"/><rect x="5.3" y="123.0" width="6.2" height="6.2" fill="#2d4c99"/><rect x="10.8" y="123.0" width="6.2" height="6.2" fill="#2e5da6"/><rect x="16.4" y="123.0" width="6.2" height="6.2" fill="#3069ac"/><rect x="22.0" y="123.0" width="6.2" height="6.2" fill="#306bad"/><rect x="27.5" y="123.0" width="6.2" height="6.2" fill="#2e62a9"/><rect x="33.1" y="123.0" width="6.2" height="6.2" fill="#2d539e"/><rect x="38.7" y="123.0" width="6.2" height="6.2" fill="#2c4291"/><rect x="44.2" y="123.0" width="6.2" height="6.2" fill="#2b3789"/><rect x="49.8" y="123.0" width="6.2" height="6.2" fill="#2a3485"/><rect x="55.4" y="123.0" width="6.2" height="6.2" fill="#293384"/><rect x="61.0" y="123.0" width="6.2" height="6.2" fill="#293383"/><rect x="66.5" y="123.0" width="6.2" height="6.2" fill="#293384"/><rect x="72.1" y="123.0" width="6.2" height="6.2" fill="#293384"/><rect x="77.7" y="123.0" width="6.2" height="6.2" fill="#293485"/><rect x="83.2" y="123.0" width="6.2" height="6.2" fill="#2a3485"/><rect x="88.8" y="123.0" width="6.2" height="6.2" fill="#2a3485"/><rect x="94.4" y="123.0" width="6.2" height="6.2" fill="#293485"/><rect x="99.9" y="123.0" width="6.2" height="6.2" fill="#293484"/><rect x="105.5" y="123.0" width="6.2" height="6.2" fill="#293384"/><rect x="111.1" y="123.0" width="6.2" height="6.2" fill="#293283"/><rect x="116.6" y="123.0" width="6.2" height="6.2" fill="#293282"/><rect x="122.2" y="123.0" width="6.2" height="6.2" fill="#283182"/></g><clipPath id="cp1"><rect x="31" y="610.3" width="122.5" height="123.3"/></clipPath><clipPath id="cp2"><rect x="196.4" y="611.1" width="122.5" height="123.6"/></clipPath><clipPath id="cp3"><rect x="31" y="771.1" width="122.5" height="123.0"/></clipPath><clipPath id="cp4"><rect x="196.4" y="771.3" width="122.5" height="123.2"/></clipPath><linearGradient id="cba"><stop offset="0.0" stop-color="#4575b4"/><stop offset="0.1" stop-color="#6ba2cb"/><stop offset="0.2" stop-color="#95c7df"/><stop offset="0.3" stop-color="#c0e3ef"/><stop offset="0.4" stop-color="#e6f5ed"/><stop offset="0.5" stop-color="#ffffbf"/><stop offset="0.6" stop-color="#fee699"/><stop offset="0.7" stop-color="#fdc274"/><stop offset="0.8" stop-color="#f99455"/><stop offset="0.9" stop-color="#ee613d"/><stop offset="1.0" stop-color="#d73027"/></linearGradient><linearGradient id="cbb"><stop offset="0.0" stop-color="#4575b4"/><stop offset="0.1" stop-color="#6ba2cb"/><stop offset="0.2" stop-color="#95c7df"/><stop offset="0.3" stop-color="#c0e3ef"/><stop offset="0.4" stop-color="#e6f5ed"/><stop offset="0.5" stop-color="#ffffbf"/><stop offset="0.6" stop-color="#fee699"/><stop offset="0.7" stop-color="#fdc274"/><stop offset="0.8" stop-color="#f99455"/><stop offset="0.9" stop-color="#ee613d"/><stop offset="1.0" stop-color="#d73027"/></linearGradient><linearGradient id="cbc"><stop offset="0.0" stop-color="#4575b4"/><stop offset="0.1" stop-color="#6ba2cb"/><stop offset="0.2" stop-color="#95c7df"/><stop offset="0.3" stop-color="#c0e3ef"/><stop offset="0.4" stop-color="#e6f5ed"/><stop offset="0.5" stop-color="#ffffbf"/><stop offset="0.6" stop-color="#fee699"/><stop offset="0.7" stop-color="#fdc274"/><stop offset="0.8" stop-color="#f99455"/><stop offset="0.9" stop-color="#ee613d"/><stop offset="1.0" stop-color="#d73027"/></linearGradient></defs><rect x="6.3" y="235.5" width="287.9" height="8.099999999999994" fill="#1a1a1a"/><rect x="6.3" y="235.5" width="74.7" height="8.099999999999994" fill="#c3c3c3"/><rect x="6.3" y="235.5" width="34.2" height="8.099999999999994" fill="#ffffff"/><rect x="271.4" y="235.5" width="0.7" height="8.099999999999994" fill="#3a3a3a" opacity="0.6"/><rect x="151.8" y="235.5" width="0.7" height="8.099999999999994" fill="#3a3a3a" opacity="0.6"/><rect x="256.1" y="235.5" width="0.7" height="8.099999999999994" fill="#3a3a3a" opacity="0.6"/><rect x="89.9" y="235.5" width="0.7" height="8.099999999999994" fill="#3a3a3a" opacity="0.6"/><rect x="104.0" y="235.5" width="0.7" height="8.099999999999994" fill="#3a3a3a" opacity="0.6"/><rect x="207.9" y="235.5" width="0.7" height="8.099999999999994" fill="#3a3a3a" opacity="0.6"/><rect x="194.0" y="235.5" width="0.7" height="8.099999999999994" fill="#3a3a3a" opacity="0.6"/><rect x="170.3" y="235.5" width="0.7" height="8.099999999999994" fill="#3a3a3a" opacity="0.6"/><rect x="152.5" y="235.5" width="0.7" height="8.099999999999994" fill="#3a3a3a" opacity="0.6"/><rect x="213.7" y="235.5" width="0.7" height="8.099999999999994" fill="#3a3a3a" opacity="0.6"/><rect x="174.4" y="235.5" width="0.7" height="8.099999999999994" fill="#3a3a3a" opacity="0.6"/><rect x="237.9" y="235.5" width="0.7" height="8.099999999999994" fill="#3a3a3a" opacity="0.6"/><rect x="191.4" y="235.5" width="0.7" height="8.099999999999994" fill="#3a3a3a" opacity="0.6"/><rect x="204.4" y="235.5" width="0.7" height="8.099999999999994" fill="#3a3a3a" opacity="0.6"/><rect x="218.6" y="235.5" width="0.7" height="8.099999999999994" fill="#3a3a3a" opacity="0.6"/><rect x="292.1" y="235.5" width="0.7" height="8.099999999999994" fill="#3a3a3a" opacity="0.6"/><rect x="255.8" y="235.5" width="0.7" height="8.099999999999994" fill="#3a3a3a" opacity="0.6"/><rect x="169.1" y="235.5" width="0.7" height="8.099999999999994" fill="#3a3a3a" opacity="0.6"/><rect x="267.8" y="235.5" width="0.7" height="8.099999999999994" fill="#3a3a3a" opacity="0.6"/><rect x="256.6" y="235.5" width="0.7" height="8.099999999999994" fill="#3a3a3a" opacity="0.6"/><rect x="92.6" y="235.5" width="0.7" height="8.099999999999994" fill="#3a3a3a" opacity="0.6"/><rect x="234.2" y="235.5" width="0.7" height="8.099999999999994" fill="#3a3a3a" opacity="0.6"/><rect x="252.0" y="235.5" width="0.7" height="8.099999999999994" fill="#3a3a3a" opacity="0.6"/><rect x="238.0" y="235.5" width="0.7" height="8.099999999999994" fill="#3a3a3a" opacity="0.6"/><rect x="232.2" y="235.5" width="0.7" height="8.099999999999994" fill="#3a3a3a" opacity="0.6"/><rect x="196.3" y="235.5" width="0.7" height="8.099999999999994" fill="#3a3a3a" opacity="0.6"/><rect x="107.6" y="235.5" width="0.7" height="8.099999999999994" fill="#3a3a3a" opacity="0.6"/><rect x="285.2" y="235.5" width="0.7" height="8.099999999999994" fill="#3a3a3a" opacity="0.6"/><rect x="167.0" y="235.5" width="0.7" height="8.099999999999994" fill="#3a3a3a" opacity="0.6"/><rect x="127.3" y="235.5" width="0.7" height="8.099999999999994" fill="#3a3a3a" opacity="0.6"/><rect x="233.9" y="235.5" width="0.7" height="8.099999999999994" fill="#3a3a3a" opacity="0.6"/><rect x="293.0" y="235.5" width="0.7" height="8.099999999999994" fill="#3a3a3a" opacity="0.6"/><rect x="135.5" y="235.5" width="0.7" height="8.099999999999994" fill="#3a3a3a" opacity="0.6"/><rect x="224.1" y="235.5" width="0.7" height="8.099999999999994" fill="#3a3a3a" opacity="0.6"/><rect x="208.7" y="235.5" width="0.7" height="8.099999999999994" fill="#3a3a3a" opacity="0.6"/><rect x="233.9" y="235.5" width="0.7" height="8.099999999999994" fill="#3a3a3a" opacity="0.6"/><rect x="280.8" y="235.5" width="0.7" height="8.099999999999994" fill="#3a3a3a" opacity="0.6"/><rect x="156.0" y="235.5" width="0.7" height="8.099999999999994" fill="#3a3a3a" opacity="0.6"/><rect x="135.1" y="235.5" width="0.7" height="8.099999999999994" fill="#3a3a3a" opacity="0.6"/><rect x="166.8" y="235.5" width="0.7" height="8.099999999999994" fill="#3a3a3a" opacity="0.6"/><rect x="6.3" y="235.5" width="287.9" height="8.099999999999994" fill="none" stroke="#222" stroke-width="0.7"/><rect x="24.3" y="235.5" width="0.6" height="8.1" fill="#888"/><rect x="28.4" y="235.5" width="0.6" height="8.1" fill="#555"/><rect x="40.5" y="235.5" width="4" height="8.1" fill="#e6e6e6"/><rect x="356.8" y="235.5" width="288.49999999999994" height="8.099999999999994" fill="#1a1a1a"/><rect x="356.8" y="235.5" width="73.80000000000001" height="8.099999999999994" fill="#c3c3c3"/><rect x="356.8" y="235.5" width="33.19999999999999" height="8.099999999999994" fill="#ffffff"/><rect x="535.2" y="235.5" width="0.7" height="8.099999999999994" fill="#3a3a3a" opacity="0.6"/><rect x="480.7" y="235.5" width="0.7" height="8.099999999999994" fill="#3a3a3a" opacity="0.6"/><rect x="587.3" y="235.5" width="0.7" height="8.099999999999994" fill="#3a3a3a" opacity="0.6"/><rect x="539.6" y="235.5" width="0.7" height="8.099999999999994" fill="#3a3a3a" opacity="0.6"/><rect x="536.9" y="235.5" width="0.7" height="8.099999999999994" fill="#3a3a3a" opacity="0.6"/><rect x="504.5" y="235.5" width="0.7" height="8.099999999999994" fill="#3a3a3a" opacity="0.6"/><rect x="481.0" y="235.5" width="0.7" height="8.099999999999994" fill="#3a3a3a" opacity="0.6"/><rect x="453.3" y="235.5" width="0.7" height="8.099999999999994" fill="#3a3a3a" opacity="0.6"/><rect x="644.5" y="235.5" width="0.7" height="8.099999999999994" fill="#3a3a3a" opacity="0.6"/><rect x="570.5" y="235.5" width="0.7" height="8.099999999999994" fill="#3a3a3a" opacity="0.6"/><rect x="431.5" y="235.5" width="0.7" height="8.099999999999994" fill="#3a3a3a" opacity="0.6"/><rect x="456.1" y="235.5" width="0.7" height="8.099999999999994" fill="#3a3a3a" opacity="0.6"/><rect x="492.8" y="235.5" width="0.7" height="8.099999999999994" fill="#3a3a3a" opacity="0.6"/><rect x="642.3" y="235.5" width="0.7" height="8.099999999999994" fill="#3a3a3a" opacity="0.6"/><rect x="511.6" y="235.5" width="0.7" height="8.099999999999994" fill="#3a3a3a" opacity="0.6"/><rect x="466.3" y="235.5" width="0.7" height="8.099999999999994" fill="#3a3a3a" opacity="0.6"/><rect x="568.0" y="235.5" width="0.7" height="8.099999999999994" fill="#3a3a3a" opacity="0.6"/><rect x="504.9" y="235.5" width="0.7" height="8.099999999999994" fill="#3a3a3a" opacity="0.6"/><rect x="519.8" y="235.5" width="0.7" height="8.099999999999994" fill="#3a3a3a" opacity="0.6"/><rect x="525.2" y="235.5" width="0.7" height="8.099999999999994" fill="#3a3a3a" opacity="0.6"/><rect x="479.5" y="235.5" width="0.7" height="8.099999999999994" fill="#3a3a3a" opacity="0.6"/><rect x="609.9" y="235.5" width="0.7" height="8.099999999999994" fill="#3a3a3a" opacity="0.6"/><rect x="521.1" y="235.5" width="0.7" height="8.099999999999994" fill="#3a3a3a" opacity="0.6"/><rect x="475.9" y="235.5" width="0.7" height="8.099999999999994" fill="#3a3a3a" opacity="0.6"/><rect x="538.0" y="235.5" width="0.7" height="8.099999999999994" fill="#3a3a3a" opacity="0.6"/><rect x="640.5" y="235.5" width="0.7" height="8.099999999999994" fill="#3a3a3a" opacity="0.6"/><rect x="583.4" y="235.5" width="0.7" height="8.099999999999994" fill="#3a3a3a" opacity="0.6"/><rect x="533.8" y="235.5" width="0.7" height="8.099999999999994" fill="#3a3a3a" opacity="0.6"/><rect x="628.0" y="235.5" width="0.7" height="8.099999999999994" fill="#3a3a3a" opacity="0.6"/><rect x="528.0" y="235.5" width="0.7" height="8.099999999999994" fill="#3a3a3a" opacity="0.6"/><rect x="487.1" y="235.5" width="0.7" height="8.099999999999994" fill="#3a3a3a" opacity="0.6"/><rect x="559.4" y="235.5" width="0.7" height="8.099999999999994" fill="#3a3a3a" opacity="0.6"/><rect x="448.3" y="235.5" width="0.7" height="8.099999999999994" fill="#3a3a3a" opacity="0.6"/><rect x="596.0" y="235.5" width="0.7" height="8.099999999999994" fill="#3a3a3a" opacity="0.6"/><rect x="595.9" y="235.5" width="0.7" height="8.099999999999994" fill="#3a3a3a" opacity="0.6"/><rect x="433.8" y="235.5" width="0.7" height="8.099999999999994" fill="#3a3a3a" opacity="0.6"/><rect x="601.4" y="235.5" width="0.7" height="8.099999999999994" fill="#3a3a3a" opacity="0.6"/><rect x="584.7" y="235.5" width="0.7" height="8.099999999999994" fill="#3a3a3a" opacity="0.6"/><rect x="582.3" y="235.5" width="0.7" height="8.099999999999994" fill="#3a3a3a" opacity="0.6"/><rect x="591.8" y="235.5" width="0.7" height="8.099999999999994" fill="#3a3a3a" opacity="0.6"/><rect x="356.8" y="235.5" width="288.49999999999994" height="8.099999999999994" fill="none" stroke="#222" stroke-width="0.7"/><rect x="373.5" y="235.5" width="0.6" height="8.1" fill="#555"/><rect x="376" y="235.5" width="0.6" height="8.1" fill="#999"/><rect x="390" y="235.5" width="2" height="8.1" fill="#dedede"/><rect x="396.3" y="235.5" width="0.8" height="8.1" fill="#666"/><rect x="185.6" y="311" width="312.0" height="86" fill="#000" filter="url(#nz1)" opacity="0.95"/><rect x="185.6" y="311" width="312.0" height="34" fill="#000" filter="url(#nz1b)" opacity="1"/><rect x="73.6" y="311" width="112.0" height="86" fill="#000" filter="url(#nz2)" opacity="0.8"/><rect x="73.6" y="398" width="112.0" height="104" fill="#000" filter="url(#nz3)" opacity="0.8"/><rect x="185.6" y="398" width="312.0" height="104" fill="#000" filter="url(#nz4)" opacity="0.8"/><rect x="185.6" y="449" width="312.0" height="21" fill="#000" filter="url(#nz1)" opacity="0.7"/><rect x="73.6" y="503" width="424.0" height="16" fill="#000" filter="url(#nz1)" opacity="0.6"/><rect x="73.6" y="520" width="112.0" height="43" fill="#000" filter="url(#nz3)" opacity="0.8"/><rect x="185.6" y="520" width="312.0" height="43" fill="#000" filter="url(#nz5)" opacity="0.85"/><g clip-path="url(#cp1)"><use href="#dens" transform="translate(31 610.3) scale(1.0000 1.0000)"/><path d="M31.10 704.20 C32.28 705.32 35.65 708.25 38.20 710.90 C40.75 713.55 44.02 717.38 46.40 720.10 C48.78 722.82 50.88 725.75 52.50 727.20 C54.12 728.65 54.73 728.80 56.10 728.80 C57.47 728.80 59.25 728.48 60.70 727.20 C62.15 725.92 63.43 724.17 64.80 721.10 C66.17 718.03 67.53 713.07 68.90 708.80 C70.27 704.53 71.65 699.92 73.00 695.50 C74.35 691.08 75.82 686.55 77.00 682.30 C78.18 678.05 79.07 674.37 80.10 670.00 C81.13 665.63 81.83 660.63 83.20 656.10 C84.57 651.57 86.38 646.60 88.30 642.80 C90.22 639.00 92.70 634.03 94.70 633.30 C96.70 632.57 98.52 635.85 100.30 638.40 C102.08 640.95 103.70 644.93 105.40 648.60 C107.10 652.27 109.13 658.10 110.50 660.40 C111.87 662.70 112.15 662.40 113.60 662.40 C115.05 662.40 117.67 660.15 119.20 660.40 C120.73 660.65 121.68 662.12 122.80 663.90 C123.92 665.68 124.88 669.05 125.90 671.10 C126.92 673.15 127.88 676.20 128.90 676.20 C129.92 676.20 130.80 675.70 132.00 671.10 C133.20 666.50 134.73 654.90 136.10 648.60 C137.47 642.30 138.58 636.70 140.20 633.30 C141.82 629.90 144.10 628.55 145.80 628.20 C147.50 627.85 149.15 630.10 150.40 631.20 C151.65 632.30 152.82 634.20 153.30 634.80" fill="none" stroke="#fff" stroke-width="1.15"/></g><text x="38.3" y="625.0999999999999" font-size="10.9" text-anchor="start" font-weight="normal" fill="#fff" >R = 0.61</text><text x="26.4" y="639.6464" font-size="10.5" text-anchor="end" font-weight="normal" fill="#231f20" >1</text><text x="26.4" y="676.2665" font-size="10.5" text-anchor="end" font-weight="normal" fill="#231f20" >0</text><text x="26.4" y="713.2565" font-size="10.5" text-anchor="end" font-weight="normal" fill="#231f20" >−1</text><text x="32.1" y="746.1999999999999" font-size="10.5" text-anchor="middle" font-weight="normal" fill="#231f20" >0</text><text x="56.1" y="746.1999999999999" font-size="10.5" text-anchor="middle" font-weight="normal" fill="#231f20" >5</text><text x="81.4" y="746.1999999999999" font-size="10.5" text-anchor="middle" font-weight="normal" fill="#231f20" >10</text><text x="105.7" y="746.1999999999999" font-size="10.5" text-anchor="middle" font-weight="normal" fill="#231f20" >15</text><text x="129.4" y="746.1999999999999" font-size="10.5" text-anchor="middle" font-weight="normal" fill="#231f20" >20</text><text x="92" y="760.5" font-size="10.9" text-anchor="middle" font-weight="normal" fill="#231f20" >pseudotime</text><text x="9.399999999999999" y="671.9499999999999" font-size="10.8" text-anchor="middle" font-weight="normal" fill="#231f20" transform="rotate(-90 9.399999999999999 671.9499999999999)">Motif enrichment (JUN)</text><g clip-path="url(#cp2)"><use href="#dens" transform="translate(196.4 611.1) scale(1.0000 1.0024)"/><path d="M196.50 705.23 C197.68 706.35 201.05 709.29 203.60 711.94 C206.15 714.60 209.42 718.44 211.80 721.17 C214.18 723.89 216.28 726.83 217.90 728.28 C219.52 729.74 220.13 729.89 221.50 729.89 C222.87 729.89 224.65 729.57 226.10 728.28 C227.55 727.00 228.83 725.24 230.20 722.17 C231.57 719.10 232.93 714.12 234.30 709.84 C235.67 705.56 237.05 700.93 238.40 696.51 C239.75 692.08 241.22 687.54 242.40 683.28 C243.58 679.01 244.47 675.32 245.50 670.95 C246.53 666.57 247.23 661.56 248.60 657.01 C249.97 652.47 251.78 647.49 253.70 643.68 C255.62 639.87 258.10 634.89 260.10 634.16 C262.10 633.42 263.92 636.71 265.70 639.27 C267.48 641.82 269.10 645.82 270.80 649.49 C272.50 653.17 274.53 659.02 275.90 661.32 C277.27 663.63 277.55 663.33 279.00 663.33 C280.45 663.33 283.07 661.07 284.60 661.32 C286.13 661.57 287.08 663.04 288.20 664.83 C289.32 666.62 290.28 669.99 291.30 672.05 C292.32 674.10 293.28 677.16 294.30 677.16 C295.32 677.16 296.20 676.66 297.40 672.05 C298.60 667.44 300.13 655.81 301.50 649.49 C302.87 643.18 303.98 637.56 305.60 634.16 C307.22 630.75 309.50 629.39 311.20 629.04 C312.90 628.69 314.55 630.95 315.80 632.05 C317.05 633.15 318.22 635.06 318.70 635.66" fill="none" stroke="#fff" stroke-width="1.15"/></g><text x="203.70000000000002" y="625.9" font-size="10.9" text-anchor="start" font-weight="normal" fill="#fff" >R = 0.63</text><text x="191.8" y="640.5088000000001" font-size="10.5" text-anchor="end" font-weight="normal" fill="#231f20" >1</text><text x="191.8" y="677.2180000000001" font-size="10.5" text-anchor="end" font-weight="normal" fill="#231f20" >0</text><text x="191.8" y="714.2980000000001" font-size="10.5" text-anchor="end" font-weight="normal" fill="#231f20" >−1</text><text x="197.5" y="747.3000000000001" font-size="10.5" text-anchor="middle" font-weight="normal" fill="#231f20" >0</text><text x="221.5" y="747.3000000000001" font-size="10.5" text-anchor="middle" font-weight="normal" fill="#231f20" >5</text><text x="246.8" y="747.3000000000001" font-size="10.5" text-anchor="middle" font-weight="normal" fill="#231f20" >10</text><text x="271.1" y="747.3000000000001" font-size="10.5" text-anchor="middle" font-weight="normal" fill="#231f20" >15</text><text x="294.8" y="747.3000000000001" font-size="10.5" text-anchor="middle" font-weight="normal" fill="#231f20" >20</text><text x="257.4" y="760.8" font-size="10.9" text-anchor="middle" font-weight="normal" fill="#231f20" >pseudotime</text><text x="174.8" y="672.9" font-size="10.8" text-anchor="middle" font-weight="normal" fill="#231f20" transform="rotate(-90 174.8 672.9)">Motif enrichment (JDP2)</text><g clip-path="url(#cp3)"><use href="#dens" transform="translate(31 771.1) scale(1.0000 0.9976)"/><path d="M31.10 864.77 C32.28 865.89 35.65 868.81 38.20 871.46 C40.75 874.10 44.02 877.92 46.40 880.63 C48.78 883.34 50.88 886.27 52.50 887.72 C54.12 889.16 54.73 889.31 56.10 889.31 C57.47 889.31 59.25 889.00 60.70 887.72 C62.15 886.44 63.43 884.69 64.80 881.63 C66.17 878.57 67.53 873.62 68.90 869.36 C70.27 865.10 71.65 860.50 73.00 856.09 C74.35 851.69 75.82 847.16 77.00 842.92 C78.18 838.69 79.07 835.01 80.10 830.65 C81.13 826.30 81.83 821.31 83.20 816.79 C84.57 812.27 86.38 807.31 88.30 803.52 C90.22 799.73 92.70 794.78 94.70 794.04 C96.70 793.31 98.52 796.59 100.30 799.13 C102.08 801.68 103.70 805.65 105.40 809.31 C107.10 812.96 109.13 818.78 110.50 821.08 C111.87 823.37 112.15 823.07 113.60 823.07 C115.05 823.07 117.67 820.83 119.20 821.08 C120.73 821.33 121.68 822.79 122.80 824.57 C123.92 826.35 124.88 829.71 125.90 831.75 C126.92 833.80 127.88 836.84 128.90 836.84 C129.92 836.84 130.80 836.34 132.00 831.75 C133.20 827.16 134.73 815.59 136.10 809.31 C137.47 803.02 138.58 797.44 140.20 794.04 C141.82 790.65 144.10 789.31 145.80 788.96 C147.50 788.61 149.15 790.85 150.40 791.95 C151.65 793.05 152.82 794.94 153.30 795.54" fill="none" stroke="#fff" stroke-width="1.15"/></g><text x="38.3" y="785.9" font-size="10.9" text-anchor="start" font-weight="normal" fill="#fff" >R = 0.61</text><text x="26.4" y="800.384" font-size="10.5" text-anchor="end" font-weight="normal" fill="#231f20" >1</text><text x="26.4" y="836.9150000000001" font-size="10.5" text-anchor="end" font-weight="normal" fill="#231f20" >0</text><text x="26.4" y="873.815" font-size="10.5" text-anchor="end" font-weight="normal" fill="#231f20" >−1</text><text x="32.1" y="906.7" font-size="10.5" text-anchor="middle" font-weight="normal" fill="#231f20" >0</text><text x="56.1" y="906.7" font-size="10.5" text-anchor="middle" font-weight="normal" fill="#231f20" >5</text><text x="81.4" y="906.7" font-size="10.5" text-anchor="middle" font-weight="normal" fill="#231f20" >10</text><text x="105.7" y="906.7" font-size="10.5" text-anchor="middle" font-weight="normal" fill="#231f20" >15</text><text x="129.4" y="906.7" font-size="10.5" text-anchor="middle" font-weight="normal" fill="#231f20" >20</text><text x="92" y="921" font-size="10.9" text-anchor="middle" font-weight="normal" fill="#231f20" >pseudotime</text><text x="9.399999999999999" y="832.6" font-size="10.8" text-anchor="middle" font-weight="normal" fill="#231f20" transform="rotate(-90 9.399999999999999 832.6)">Motif enrichment (FOS)</text><g clip-path="url(#cp4)"><use href="#dens" transform="translate(196.4 771.3) scale(1.0000 0.9992)"/><path d="M196.50 865.12 C197.68 866.24 201.05 869.17 203.60 871.82 C206.15 874.47 209.42 878.30 211.80 881.01 C214.18 883.73 216.28 886.66 217.90 888.11 C219.52 889.55 220.13 889.70 221.50 889.70 C222.87 889.70 224.65 889.39 226.10 888.11 C227.55 886.82 228.83 885.07 230.20 882.01 C231.57 878.95 232.93 873.98 234.30 869.72 C235.67 865.46 237.05 860.84 238.40 856.43 C239.75 852.02 241.22 847.49 242.40 843.24 C243.58 839.00 244.47 835.31 245.50 830.95 C246.53 826.59 247.23 821.59 248.60 817.06 C249.97 812.53 251.78 807.57 253.70 803.77 C255.62 799.98 258.10 795.01 260.10 794.28 C262.10 793.55 263.92 796.83 265.70 799.38 C267.48 801.93 269.10 805.91 270.80 809.57 C272.50 813.23 274.53 819.06 275.90 821.36 C277.27 823.66 277.55 823.36 279.00 823.36 C280.45 823.36 283.07 821.11 284.60 821.36 C286.13 821.61 287.08 823.07 288.20 824.86 C289.32 826.64 290.28 830.00 291.30 832.05 C292.32 834.10 293.28 837.15 294.30 837.15 C295.32 837.15 296.20 836.65 297.40 832.05 C298.60 827.45 300.13 815.86 301.50 809.57 C302.87 803.27 303.98 797.68 305.60 794.28 C307.22 790.88 309.50 789.54 311.20 789.19 C312.90 788.84 314.55 791.08 315.80 792.18 C317.05 793.28 318.22 795.18 318.70 795.78" fill="none" stroke="#fff" stroke-width="1.15"/></g><text x="203.70000000000002" y="786.0999999999999" font-size="10.9" text-anchor="start" font-weight="normal" fill="#fff" >R = 0.60</text><text x="191.8" y="800.6256" font-size="10.5" text-anchor="end" font-weight="normal" fill="#231f20" >1</text><text x="191.8" y="837.216" font-size="10.5" text-anchor="end" font-weight="normal" fill="#231f20" >0</text><text x="191.8" y="874.176" font-size="10.5" text-anchor="end" font-weight="normal" fill="#231f20" >−1</text><text x="197.5" y="907.1" font-size="10.5" text-anchor="middle" font-weight="normal" fill="#231f20" >0</text><text x="221.5" y="907.1" font-size="10.5" text-anchor="middle" font-weight="normal" fill="#231f20" >5</text><text x="246.8" y="907.1" font-size="10.5" text-anchor="middle" font-weight="normal" fill="#231f20" >10</text><text x="271.1" y="907.1" font-size="10.5" text-anchor="middle" font-weight="normal" fill="#231f20" >15</text><text x="294.8" y="907.1" font-size="10.5" text-anchor="middle" font-weight="normal" fill="#231f20" >20</text><text x="257.4" y="921" font-size="10.9" text-anchor="middle" font-weight="normal" fill="#231f20" >pseudotime</text><text x="174.8" y="832.9" font-size="10.8" text-anchor="middle" font-weight="normal" fill="#231f20" transform="rotate(-90 174.8 832.9)">Motif enrichment (FOSL1)</text><path d="M364.30 652.60 C366.50 652.52 374.00 652.27 377.50 652.10 C381.00 651.93 382.70 651.20 385.30 651.60 C387.90 652.00 390.52 653.12 393.10 654.50 C395.68 655.88 398.22 658.12 400.80 659.90 C403.38 661.68 406.15 663.77 408.60 665.20 C411.05 666.63 412.88 667.88 415.50 668.50 C418.12 669.12 421.38 668.25 424.30 668.90 C427.22 669.55 430.38 671.67 433.00 672.40 C435.62 673.13 437.37 673.67 440.00 673.30 C442.63 672.93 446.02 670.78 448.80 670.20 C451.58 669.62 455.38 669.87 456.70 669.80" fill="none" stroke="#a0d888" stroke-width="1.15" stroke-dasharray="4.2 2.6" stroke-linecap="butt"/><path d="M364.30 655.50 C365.85 655.33 370.10 654.92 373.60 654.50 C377.10 654.08 382.05 652.83 385.30 653.00 C388.55 653.17 390.52 654.12 393.10 655.50 C395.68 656.88 398.22 659.48 400.80 661.30 C403.38 663.12 406.15 665.13 408.60 666.40 C411.05 667.67 412.88 668.63 415.50 668.90 C418.12 669.17 421.52 668.07 424.30 668.00 C427.08 667.93 429.58 668.05 432.20 668.50 C434.82 668.95 437.23 670.78 440.00 670.70 C442.77 670.62 446.02 668.08 448.80 668.00 C451.58 667.92 455.38 669.83 456.70 670.20" fill="none" stroke="#a8d4e8" stroke-width="1.15" stroke-dasharray="4.2 2.6" stroke-linecap="butt"/><path d="M364.30 656.50 C365.85 656.25 370.60 655.65 373.60 655.00 C376.60 654.35 379.55 652.68 382.30 652.60 C385.05 652.52 387.65 652.97 390.10 654.50 C392.55 656.03 394.72 659.12 397.00 661.80 C399.28 664.48 401.80 667.90 403.80 670.60 C405.80 673.30 407.33 675.95 409.00 678.00 C410.67 680.05 411.55 682.23 413.80 682.90 C416.05 683.57 419.58 682.22 422.50 682.00 C425.42 681.78 428.67 681.23 431.30 681.60 C433.93 681.97 435.68 684.27 438.30 684.20 C440.92 684.13 443.93 681.27 447.00 681.20 C450.07 681.13 455.08 683.37 456.70 683.80" fill="none" stroke="#cc7fdc" stroke-width="1.15" stroke-dasharray="4.2 2.6" stroke-linecap="butt"/><path d="M364.30 698.80 C365.20 696.37 367.50 688.73 369.70 684.20 C371.90 679.67 374.90 674.28 377.50 671.60 C380.10 668.92 382.87 668.43 385.30 668.10 C387.73 667.77 389.35 668.38 392.10 669.60 C394.85 670.82 398.72 672.92 401.80 675.40 C404.88 677.88 407.15 680.62 410.60 684.50 C414.05 688.38 419.35 695.62 422.50 698.70 C425.65 701.78 427.02 701.98 429.50 703.00 C431.98 704.02 435.35 704.93 437.40 704.80 C439.45 704.67 440.20 703.95 441.80 702.20 C443.40 700.45 444.52 696.72 447.00 694.30 C449.48 691.88 455.08 688.80 456.70 687.70" fill="none" stroke="#f7a035" stroke-width="1.3" stroke-linecap="butt"/><path d="M364.30 700.80 C364.72 696.73 365.90 684.85 366.80 676.40 C367.70 667.95 368.73 657.40 369.70 650.10 C370.67 642.80 371.38 636.98 372.60 632.60 C373.82 628.22 375.53 624.45 377.00 623.80 C378.47 623.15 379.87 625.62 381.40 628.70 C382.93 631.78 384.58 637.58 386.20 642.30 C387.82 647.02 389.30 652.93 391.10 657.00 C392.90 661.07 395.05 664.52 397.00 666.70 C398.95 668.88 400.53 669.37 402.80 670.10 C405.07 670.83 407.32 669.98 410.60 671.10 C413.88 672.22 419.05 674.98 422.50 676.80 C425.95 678.62 428.97 680.10 431.30 682.00 C433.63 683.90 434.60 687.25 436.50 688.20 C438.40 689.15 440.65 687.48 442.70 687.70 C444.75 687.92 446.47 688.47 448.80 689.50 C451.13 690.53 455.38 693.17 456.70 693.90" fill="none" stroke="#e0342a" stroke-width="1.3" stroke-linecap="butt"/><rect x="359.3" y="619.3" width="102.39999999999998" height="104.0" fill="none" stroke="#3a3a3a" stroke-width="0.9"/><text x="410.5" y="615.6" font-size="10.3" text-anchor="middle" font-weight="normal" fill="#231f20" >RIPK1</text><path d="M476.10 654.60 C477.77 654.78 482.30 655.58 486.10 655.70 C489.90 655.82 494.90 654.83 498.90 655.30 C502.90 655.77 506.35 657.43 510.10 658.50 C513.85 659.57 516.85 661.22 521.40 661.70 C525.95 662.18 533.65 661.18 537.40 661.40 C541.15 661.62 542.02 662.20 543.90 663.00 C545.78 663.80 547.10 666.20 548.70 666.20 C550.30 666.20 551.63 664.13 553.50 663.00 C555.37 661.87 557.43 659.20 559.90 659.40 C562.37 659.60 566.90 663.40 568.30 664.20" fill="none" stroke="#a0d888" stroke-width="1.15" stroke-dasharray="4.2 2.6" stroke-linecap="butt"/><path d="M476.10 676.60 C477.77 676.07 482.83 674.20 486.10 673.40 C489.37 672.60 492.77 671.40 495.70 671.80 C498.63 672.20 501.02 673.52 503.70 675.80 C506.38 678.08 509.38 682.82 511.80 685.50 C514.22 688.18 515.80 689.90 518.20 691.90 C520.60 693.90 523.00 696.83 526.20 697.50 C529.40 698.17 533.92 695.77 537.40 695.90 C540.88 696.03 544.15 698.03 547.10 698.30 C550.05 698.57 551.57 697.72 555.10 697.50 C558.63 697.28 566.10 697.08 568.30 697.00" fill="none" stroke="#a8d4e8" stroke-width="1.15" stroke-dasharray="4.2 2.6" stroke-linecap="butt"/><path d="M476.10 672.60 C477.50 671.67 481.50 668.87 484.50 667.00 C487.50 665.13 491.17 661.93 494.10 661.40 C497.03 660.87 499.70 661.93 502.10 663.80 C504.50 665.67 506.08 668.18 508.50 672.60 C510.92 677.02 514.18 685.48 516.60 690.30 C519.02 695.12 520.60 699.10 523.00 701.50 C525.40 703.90 528.05 704.43 531.00 704.70 C533.95 704.97 537.75 703.77 540.70 703.10 C543.65 702.43 546.30 700.43 548.70 700.70 C551.10 700.97 552.97 703.77 555.10 704.70 C557.23 705.63 559.30 706.83 561.50 706.30 C563.70 705.77 567.17 702.30 568.30 701.50" fill="none" stroke="#cc7fdc" stroke-width="1.15" stroke-dasharray="4.2 2.6" stroke-linecap="butt"/><path d="M476.10 683.00 C477.22 681.53 480.60 677.00 482.80 674.20 C485.00 671.40 487.15 668.20 489.30 666.20 C491.45 664.20 493.57 662.33 495.70 662.20 C497.83 662.07 499.97 663.13 502.10 665.40 C504.23 667.67 506.35 671.38 508.50 675.80 C510.65 680.22 512.85 686.55 515.00 691.90 C517.15 697.25 519.40 703.88 521.40 707.90 C523.40 711.92 525.13 714.92 527.00 716.00 C528.87 717.08 530.60 715.13 532.60 714.40 C534.60 713.67 536.58 711.82 539.00 711.60 C541.42 711.38 544.15 713.05 547.10 713.10 C550.05 713.15 553.17 711.68 556.70 711.90 C560.23 712.12 566.37 713.98 568.30 714.40" fill="none" stroke="#f7a035" stroke-width="1.3" stroke-linecap="butt"/><path d="M476.10 624.40 C477.77 626.28 482.83 631.55 486.10 635.70 C489.37 639.85 492.50 644.48 495.70 649.30 C498.90 654.12 502.08 659.12 505.30 664.60 C508.52 670.08 511.78 677.12 515.00 682.20 C518.22 687.28 521.93 692.50 524.60 695.10 C527.27 697.70 528.05 697.27 531.00 697.80 C533.95 698.33 538.55 697.95 542.30 698.30 C546.05 698.65 549.17 699.10 553.50 699.90 C557.83 700.70 565.83 702.57 568.30 703.10" fill="none" stroke="#e0342a" stroke-width="1.3" stroke-linecap="butt"/><rect x="471.3" y="619.3" width="102.30000000000001" height="104.0" fill="none" stroke="#3a3a3a" stroke-width="0.9"/><text x="522.45" y="615.6" font-size="10.3" text-anchor="middle" font-weight="normal" fill="#231f20" >JAG1</text><path d="M586.90 669.30 C588.30 669.68 591.85 671.77 595.30 671.60 C598.75 671.43 604.27 668.30 607.60 668.30 C610.93 668.30 612.75 669.25 615.30 671.60 C617.85 673.95 620.60 679.07 622.90 682.40 C625.20 685.73 626.80 688.92 629.10 691.60 C631.40 694.28 633.38 697.35 636.70 698.50 C640.02 699.65 645.17 698.17 649.00 698.50 C652.83 698.83 655.87 699.73 659.70 700.50 C663.53 701.27 668.68 703.43 672.00 703.10 C675.32 702.77 678.33 699.27 679.60 698.50" fill="none" stroke="#a0d888" stroke-width="1.15" stroke-dasharray="4.2 2.6" stroke-linecap="butt"/><path d="M586.90 651.70 C588.30 652.47 592.62 656.55 595.30 656.30 C597.98 656.05 600.43 651.47 603.00 650.20 C605.57 648.93 608.15 647.68 610.70 648.70 C613.25 649.72 616.00 651.72 618.30 656.30 C620.60 660.88 622.45 669.82 624.50 676.20 C626.55 682.58 628.57 689.48 630.60 694.60 C632.63 699.72 634.40 705.75 636.70 706.90 C639.00 708.05 641.58 702.65 644.40 701.50 C647.22 700.35 650.53 699.73 653.60 700.00 C656.67 700.27 659.73 702.47 662.80 703.10 C665.87 703.73 669.20 703.30 672.00 703.80 C674.80 704.30 678.33 705.72 679.60 706.10" fill="none" stroke="#a8d4e8" stroke-width="1.15" stroke-dasharray="4.2 2.6" stroke-linecap="butt"/><path d="M586.90 656.30 C588.30 655.92 592.37 655.48 595.30 654.00 C598.23 652.52 601.93 648.28 604.50 647.40 C607.07 646.52 608.65 646.95 610.70 648.70 C612.75 650.45 614.77 653.82 616.80 657.90 C618.83 661.98 620.85 668.10 622.90 673.20 C624.95 678.30 627.05 684.42 629.10 688.50 C631.15 692.58 633.17 695.92 635.20 697.70 C637.23 699.48 639.00 699.50 641.30 699.20 C643.60 698.90 646.18 696.20 649.00 695.90 C651.82 695.60 655.13 696.97 658.20 697.40 C661.27 697.83 663.83 698.20 667.40 698.50 C670.97 698.80 677.57 699.08 679.60 699.20" fill="none" stroke="#cc7fdc" stroke-width="1.15" stroke-dasharray="4.2 2.6" stroke-linecap="butt"/><path d="M586.90 711.50 C587.80 708.18 590.38 696.97 592.30 691.60 C594.22 686.23 596.10 681.87 598.40 679.30 C600.70 676.73 603.55 675.68 606.10 676.20 C608.65 676.72 610.90 679.33 613.70 682.40 C616.50 685.47 620.08 690.77 622.90 694.60 C625.72 698.43 628.30 702.83 630.60 705.40 C632.90 707.97 634.40 709.75 636.70 710.00 C639.00 710.25 641.85 707.55 644.40 706.90 C646.95 706.25 649.97 706.62 652.00 706.10 C654.03 705.58 655.07 705.20 656.60 703.80 C658.13 702.40 659.67 697.43 661.20 697.70 C662.73 697.97 664.00 703.35 665.80 705.40 C667.60 707.45 669.70 710.27 672.00 710.00 C674.30 709.73 678.33 704.83 679.60 703.80" fill="none" stroke="#f7a035" stroke-width="1.3" stroke-linecap="butt"/><path d="M586.90 627.20 C587.53 629.50 589.30 637.30 590.70 641.00 C592.10 644.70 593.50 649.40 595.30 649.40 C597.10 649.40 599.45 644.70 601.50 641.00 C603.55 637.30 605.95 630.07 607.60 627.20 C609.25 624.33 610.00 623.55 611.40 623.80 C612.80 624.05 614.33 624.55 616.00 628.70 C617.67 632.85 619.48 640.78 621.40 648.70 C623.32 656.62 625.58 667.52 627.50 676.20 C629.42 684.88 631.37 695.22 632.90 700.80 C634.43 706.38 635.30 708.82 636.70 709.70 C638.10 710.58 639.38 708.10 641.30 706.10 C643.22 704.10 645.90 698.20 648.20 697.70 C650.50 697.20 652.42 700.55 655.10 703.10 C657.78 705.65 661.48 712.12 664.30 713.00 C667.12 713.88 669.45 711.33 672.00 708.40 C674.55 705.47 678.33 697.57 679.60 695.40" fill="none" stroke="#e0342a" stroke-width="1.3" stroke-linecap="butt"/><rect x="582.6" y="619.3" width="101.89999999999998" height="104.0" fill="none" stroke="#3a3a3a" stroke-width="0.9"/><text x="633.55" y="615.6" font-size="10.3" text-anchor="middle" font-weight="normal" fill="#231f20" >CCL20</text><path d="M363.20 783.40 C365.22 783.18 371.68 782.50 375.30 782.10 C378.92 781.70 380.88 780.92 384.90 781.00 C388.92 781.08 395.38 782.07 399.40 782.60 C403.42 783.13 405.53 784.47 409.00 784.20 C412.47 783.93 416.45 781.73 420.20 781.00 C423.95 780.27 428.28 780.88 431.50 779.80 C434.72 778.72 437.10 773.77 439.50 774.50 C441.90 775.23 443.75 782.85 445.90 784.20 C448.05 785.55 450.78 783.13 452.40 782.60 C454.02 782.07 455.07 781.27 455.60 781.00" fill="none" stroke="#a0d888" stroke-width="1.15" stroke-dasharray="4.2 2.6" stroke-linecap="butt"/><path d="M363.20 767.30 C364.68 766.10 369.02 761.83 372.10 760.10 C375.18 758.37 378.50 756.90 381.70 756.90 C384.90 756.90 387.82 758.10 391.30 760.10 C394.78 762.10 399.38 766.37 402.60 768.90 C405.82 771.43 407.67 774.02 410.60 775.30 C413.53 776.58 416.72 776.47 420.20 776.60 C423.68 776.73 428.02 776.18 431.50 776.10 C434.98 776.02 438.17 775.75 441.10 776.10 C444.03 776.45 446.68 778.20 449.10 778.20 C451.52 778.20 454.52 776.45 455.60 776.10" fill="none" stroke="#a8d4e8" stroke-width="1.15" stroke-dasharray="4.2 2.6" stroke-linecap="butt"/><path d="M363.20 805.00 C364.95 805.35 370.08 806.55 373.70 807.10 C377.32 807.65 381.43 808.92 384.90 808.30 C388.37 807.68 391.28 805.68 394.50 803.40 C397.72 801.12 401.25 797.00 404.20 794.60 C407.15 792.20 409.00 790.07 412.20 789.00 C415.40 787.93 419.38 788.38 423.40 788.20 C427.42 788.02 432.55 787.58 436.30 787.90 C440.05 788.22 442.68 790.10 445.90 790.10 C449.12 790.10 453.98 788.27 455.60 787.90" fill="none" stroke="#cc7fdc" stroke-width="1.15" stroke-dasharray="4.2 2.6" stroke-linecap="butt"/><path d="M363.20 781.00 C363.87 783.00 365.45 789.27 367.20 793.00 C368.95 796.73 371.55 801.20 373.70 803.40 C375.85 805.60 377.70 805.67 380.10 806.20 C382.50 806.73 385.43 805.58 388.10 806.60 C390.77 807.62 393.42 810.47 396.10 812.30 C398.78 814.13 402.05 816.93 404.20 817.60 C406.35 818.27 407.13 818.53 409.00 816.30 C410.87 814.07 413.53 808.35 415.40 804.20 C417.27 800.05 418.58 794.73 420.20 791.40 C421.82 788.07 423.22 785.40 425.10 784.20 C426.98 783.00 429.50 784.88 431.50 784.20 C433.50 783.52 435.63 780.10 437.10 780.10 C438.57 780.10 439.10 780.72 440.30 784.20 C441.50 787.68 442.83 796.58 444.30 801.00 C445.77 805.42 447.22 809.35 449.10 810.70 C450.98 812.05 454.52 809.37 455.60 809.10" fill="none" stroke="#f7a035" stroke-width="1.3" stroke-linecap="butt"/><path d="M363.20 760.10 C364.68 761.70 369.02 765.95 372.10 769.70 C375.18 773.45 378.50 777.92 381.70 782.60 C384.90 787.28 388.08 792.58 391.30 797.80 C394.52 803.02 398.05 809.35 401.00 813.90 C403.95 818.45 406.33 822.03 409.00 825.10 C411.67 828.17 414.05 830.62 417.00 832.30 C419.95 833.98 423.48 834.80 426.70 835.20 C429.92 835.60 433.08 835.10 436.30 834.70 C439.52 834.30 442.78 833.60 446.00 832.80 C449.22 832.00 454.00 830.38 455.60 829.90" fill="none" stroke="#e0342a" stroke-width="1.3" stroke-linecap="butt"/><rect x="358.5" y="742.9" width="102.10000000000002" height="103.70000000000005" fill="none" stroke="#3a3a3a" stroke-width="0.9"/><text x="409.55" y="739.4" font-size="10.3" text-anchor="middle" font-weight="normal" fill="#231f20" >CXCL1</text><path d="M475.20 774.50 C476.68 773.70 481.28 771.22 484.10 769.70 C486.92 768.18 489.43 765.80 492.10 765.40 C494.77 765.00 497.43 765.25 500.10 767.30 C502.77 769.35 505.42 773.42 508.10 777.70 C510.78 781.98 513.52 788.45 516.20 793.00 C518.88 797.55 521.00 803.27 524.20 805.00 C527.40 806.73 531.38 803.93 535.40 803.40 C539.42 802.87 544.53 801.40 548.30 801.80 C552.07 802.20 554.78 805.27 558.00 805.80 C561.22 806.33 566.00 805.13 567.60 805.00" fill="none" stroke="#a8d4e8" stroke-width="1.15" stroke-dasharray="4.2 2.6" stroke-linecap="butt"/><path d="M475.20 771.30 C476.13 772.50 478.25 777.03 480.80 778.50 C483.35 779.97 487.28 779.83 490.50 780.10 C493.72 780.37 496.88 779.02 500.10 780.10 C503.32 781.18 506.58 783.92 509.80 786.60 C513.02 789.28 516.20 794.47 519.40 796.20 C522.60 797.93 526.07 797.48 529.00 797.00 C531.93 796.52 533.78 793.57 537.00 793.30 C540.22 793.03 544.80 794.52 548.30 795.40 C551.80 796.28 555.32 797.72 558.00 798.60 C560.68 799.48 563.33 800.35 564.40 800.70" fill="none" stroke="#cc7fdc" stroke-width="1.15" stroke-dasharray="4.2 2.6" stroke-linecap="butt"/><path d="M475.20 792.20 C476.68 789.92 481.02 782.78 484.10 778.50 C487.18 774.22 491.03 767.97 493.70 766.50 C496.37 765.03 497.97 767.15 500.10 769.70 C502.23 772.25 504.08 775.52 506.50 781.80 C508.92 788.08 512.18 799.65 514.60 807.40 C517.02 815.15 519.27 824.28 521.00 828.30 C522.73 832.32 523.40 832.30 525.00 831.50 C526.60 830.70 528.32 826.83 530.60 823.50 C532.88 820.17 536.02 813.10 538.70 811.50 C541.38 809.90 544.70 813.50 546.70 813.90 C548.70 814.30 549.10 812.03 550.70 813.90 C552.30 815.77 554.30 822.22 556.30 825.10 C558.30 827.98 560.82 830.13 562.70 831.20 C564.58 832.27 566.78 831.45 567.60 831.50" fill="none" stroke="#f7a035" stroke-width="1.3" stroke-linecap="butt"/><path d="M475.20 755.30 C476.42 757.03 479.95 765.83 482.50 765.70 C485.05 765.57 487.97 757.58 490.50 754.50 C493.03 751.42 495.57 747.75 497.70 747.20 C499.83 746.65 501.57 747.58 503.30 751.20 C505.03 754.82 506.22 760.60 508.10 768.90 C509.98 777.20 512.45 790.83 514.60 801.00 C516.75 811.17 518.87 823.07 521.00 829.90 C523.13 836.73 525.00 840.92 527.40 842.00 C529.80 843.08 532.98 838.35 535.40 836.40 C537.82 834.45 539.22 830.98 541.90 830.30 C544.58 829.62 547.22 830.53 551.50 832.30 C555.78 834.07 564.92 839.47 567.60 840.90" fill="none" stroke="#e0342a" stroke-width="1.3" stroke-linecap="butt"/><rect x="470.5" y="742.9" width="102.29999999999995" height="103.70000000000005" fill="none" stroke="#3a3a3a" stroke-width="0.9"/><text x="521.65" y="739.4" font-size="10.3" text-anchor="middle" font-weight="normal" fill="#231f20" >CXCL2</text><path d="M586.90 780.20 C588.30 781.42 592.37 786.15 595.30 787.50 C598.23 788.85 601.17 788.05 604.50 788.30 C607.83 788.55 611.97 787.60 615.30 789.00 C618.63 790.40 621.45 794.13 624.50 796.70 C627.55 799.27 630.80 803.38 633.60 804.40 C636.40 805.42 638.73 803.57 641.30 802.80 C643.87 802.03 646.18 800.05 649.00 799.80 C651.82 799.55 655.13 800.53 658.20 801.30 C661.27 802.07 663.83 803.50 667.40 804.40 C670.97 805.30 677.57 806.32 679.60 806.70" fill="none" stroke="#a8d4e8" stroke-width="1.15" stroke-dasharray="4.2 2.6" stroke-linecap="butt"/><path d="M586.90 789.80 C588.57 789.73 593.45 789.58 596.90 789.40 C600.35 789.22 603.77 788.77 607.60 788.70 C611.43 788.63 616.07 788.68 619.90 789.00 C623.73 789.32 627.03 790.72 630.60 790.60 C634.17 790.48 637.98 788.95 641.30 788.30 C644.62 787.65 647.95 787.33 650.50 786.70 C653.05 786.07 655.07 785.25 656.60 784.50 C658.13 783.75 658.42 782.08 659.70 782.20 C660.98 782.32 662.52 783.55 664.30 785.20 C666.08 786.85 668.62 791.08 670.40 792.10 C672.18 793.12 673.47 792.20 675.00 791.30 C676.53 790.40 678.83 787.47 679.60 786.70" fill="none" stroke="#cc7fdc" stroke-width="1.15" stroke-dasharray="4.2 2.6" stroke-linecap="butt"/><path d="M586.90 809.00 C588.05 806.70 591.63 799.03 593.80 795.20 C595.97 791.37 597.98 787.97 599.90 786.00 C601.82 784.03 603.50 783.40 605.30 783.40 C607.10 783.40 608.53 783.27 610.70 786.00 C612.87 788.73 615.75 794.43 618.30 799.80 C620.85 805.17 623.70 813.10 626.00 818.20 C628.30 823.30 630.57 827.90 632.10 830.40 C633.63 832.90 633.67 833.97 635.20 833.20 C636.73 832.43 639.27 828.82 641.30 825.80 C643.33 822.78 645.35 817.45 647.40 815.10 C649.45 812.75 651.30 812.17 653.60 811.70 C655.90 811.23 658.65 810.45 661.20 812.30 C663.75 814.15 665.83 819.52 668.90 822.80 C671.97 826.08 677.82 830.47 679.60 832.00" fill="none" stroke="#f7a035" stroke-width="1.3" stroke-linecap="butt"/><path d="M586.90 747.70 C587.53 750.25 589.03 759.05 590.70 763.00 C592.37 766.95 594.85 770.50 596.90 771.40 C598.95 772.30 600.97 769.33 603.00 768.40 C605.03 767.47 607.05 765.17 609.10 765.80 C611.15 766.43 613.25 767.57 615.30 772.20 C617.35 776.83 619.37 785.43 621.40 793.60 C623.43 801.77 625.58 814.03 627.50 821.20 C629.42 828.37 631.12 833.15 632.90 836.60 C634.68 840.05 636.28 842.03 638.20 841.90 C640.12 841.77 642.35 837.97 644.40 835.80 C646.45 833.63 648.20 829.92 650.50 828.90 C652.80 827.88 655.65 828.55 658.20 829.70 C660.75 830.85 663.50 834.45 665.80 835.80 C668.10 837.15 669.70 837.47 672.00 837.80 C674.30 838.13 678.33 837.80 679.60 837.80" fill="none" stroke="#e0342a" stroke-width="1.3" stroke-linecap="butt"/><rect x="582.6" y="742.9" width="101.89999999999998" height="103.70000000000005" fill="none" stroke="#3a3a3a" stroke-width="0.9"/><text x="633.55" y="739.4" font-size="10.3" text-anchor="middle" font-weight="normal" fill="#231f20" >CXCL3</text><line x1="351.5" y1="619.5" x2="351.5" y2="748" stroke="#333" stroke-width="0.9"/><text x="354.8" y="798.5" font-size="10.6" text-anchor="middle" font-weight="normal" fill="#231f20" transform="rotate(-90 354.8 798.5)">Multimodal profile</text><text x="364.2" y="860" font-size="10.6" text-anchor="start" font-weight="normal" fill="#231f20" >Pseudotime</text><line x1="422.8" y1="856.5" x2="685" y2="856.5" stroke="#333" stroke-width="0.9"/><rect x="392.3" y="871.6" width="8.2" height="8.3" fill="#e97078"/><text x="403.6" y="878.2" font-size="7.6" text-anchor="start" font-weight="normal" fill="#231f20" >Gene expression</text><rect x="392.3" y="885.4" width="8.2" height="8.3" fill="#f39312"/><text x="403.6" y="892.0" font-size="7.6" text-anchor="start" font-weight="normal" fill="#231f20" >Promoter accessibility</text><rect x="493.9" y="871.4" width="8.2" height="8.3" fill="#c983cc"/><text x="505.2" y="878.0" font-size="7.6" text-anchor="start" font-weight="normal" fill="#231f20" >RE1 accessibility</text><rect x="493.9" y="885.4" width="8.2" height="8.3" fill="#abcfdc"/><text x="505.2" y="892.0" font-size="7.6" text-anchor="start" font-weight="normal" fill="#231f20" >RE2 accessibility</text><rect x="582.6" y="871.4" width="8.2" height="8.3" fill="#9fd48e"/><text x="593.9" y="878.0" font-size="7.6" text-anchor="start" font-weight="normal" fill="#231f20" >RE3 accessibility</text><text x="0" y="0" font-size="16.8" font-weight="bold" fill="#111" transform="translate(1.6 12.9) scale(0.84 1)">a</text><text x="0" y="0" font-size="14.6" font-weight="bold" fill="#111" transform="translate(356.6 12.6) scale(0.95 1)">b</text><text x="0" y="0" font-size="16.8" font-weight="bold" fill="#111" transform="translate(2.4 289.8) scale(0.84 1)">c</text><text x="0" y="0" font-size="15.0" font-weight="bold" fill="#111" transform="translate(1.4 611.9) scale(0.95 1)">d</text><text x="0" y="0" font-size="16.8" font-weight="bold" fill="#111" transform="translate(344.6 612.1) scale(0.93 1)">e</text><rect x="121.3" y="9.2" width="56.8" height="5.8" fill="url(#cba)" stroke="#555" stroke-width="0.7"/><text x="149.5" y="5.4" font-size="7.2" text-anchor="middle" font-weight="normal" fill="#231f20" >Expression</text><text x="121.5" y="22.6" font-size="7.2" text-anchor="middle" font-weight="normal" fill="#231f20" >Min</text><text x="175.5" y="22.6" font-size="7.2" text-anchor="middle" font-weight="normal" fill="#231f20" >Max</text><rect x="473.6" y="9.2" width="56.8" height="5.8" fill="url(#cbb)" stroke="#555" stroke-width="0.7"/><text x="501.8" y="5.4" font-size="7.2" text-anchor="middle" font-weight="normal" fill="#231f20" >Expression</text><text x="473.8" y="22.6" font-size="7.2" text-anchor="middle" font-weight="normal" fill="#231f20" >Min</text><text x="527.8" y="22.6" font-size="7.2" text-anchor="middle" font-weight="normal" fill="#231f20" >Max</text><line x1="296.2" y1="33.5" x2="301.7" y2="33.5" stroke="#2a2a2a" stroke-width="0.8"/><text x="303.5" y="35.5" font-size="6.1" text-anchor="start" font-weight="normal" fill="#231f20" >TNIP1</text><path d="M296.2 44 L297.8 44 L300.09999999999997 41 L301.7 41" fill="none" stroke="#2a2a2a" stroke-width="0.65"/><text x="303.5" y="43.1" font-size="6.1" text-anchor="start" font-weight="normal" fill="#231f20" >CXCL1</text><path d="M296.2 44 L297.8 44 L300.09999999999997 46.3 L301.7 46.3" fill="none" stroke="#2a2a2a" stroke-width="0.65"/><text x="303.5" y="48.4" font-size="6.1" text-anchor="start" font-weight="normal" fill="#231f20" >CXCL3</text><path d="M296.2 49 L297.8 49 L300.09999999999997 51.5 L301.7 51.5" fill="none" stroke="#2a2a2a" stroke-width="0.65"/><text x="303.5" y="53.6" font-size="6.1" text-anchor="start" font-weight="normal" fill="#231f20" >CCL20</text><line x1="296.2" y1="103.5" x2="301.7" y2="103.5" stroke="#2a2a2a" stroke-width="0.8"/><text x="303.5" y="105.89999999999999" font-size="6.1" text-anchor="start" font-weight="normal" fill="#231f20" >NFKBIA</text><path d="M296.2 170 L297.8 170 L300.09999999999997 168.6 L301.7 168.6" fill="none" stroke="#2a2a2a" stroke-width="0.65"/><text x="303.5" y="170.7" font-size="6.1" text-anchor="start" font-weight="normal" fill="#231f20" >TNFAIP3</text><path d="M296.2 172 L297.8 172 L300.09999999999997 174 L301.7 174" fill="none" stroke="#2a2a2a" stroke-width="0.65"/><text x="303.5" y="176.1" font-size="6.1" text-anchor="start" font-weight="normal" fill="#231f20" >JAG1</text><line x1="296.2" y1="213.5" x2="301.7" y2="213.5" stroke="#2a2a2a" stroke-width="0.8"/><text x="303.5" y="215.2" font-size="6.1" text-anchor="start" font-weight="normal" fill="#231f20" >TNF</text><line x1="647.0" y1="38.5" x2="652.5" y2="38.5" stroke="#2a2a2a" stroke-width="0.8"/><text x="654.3" y="40.1" font-size="6.1" text-anchor="start" font-weight="normal" fill="#231f20" >ANXA5</text><path d="M647.0 46 L648.6 46 L650.9 43.6 L652.5 43.6" fill="none" stroke="#2a2a2a" stroke-width="0.65"/><text x="654.3" y="45.7" font-size="6.1" text-anchor="start" font-weight="normal" fill="#231f20" >S100A16</text><path d="M647.0 48 L648.6 48 L650.9 49.4 L652.5 49.4" fill="none" stroke="#2a2a2a" stroke-width="0.65"/><text x="654.3" y="51.5" font-size="6.1" text-anchor="start" font-weight="normal" fill="#231f20" >S100A6</text><path d="M647.0 48 L648.6 48 L650.9 54.8 L652.5 54.8" fill="none" stroke="#2a2a2a" stroke-width="0.65"/><text x="654.3" y="56.9" font-size="6.1" text-anchor="start" font-weight="normal" fill="#231f20" >S100A11</text><path d="M647.0 62.5 L648.6 62.5 L650.9 61.5 L652.5 61.5" fill="none" stroke="#2a2a2a" stroke-width="0.65"/><text x="654.3" y="63.6" font-size="6.1" text-anchor="start" font-weight="normal" fill="#231f20" >S100A10</text><path d="M647.0 65.5 L648.6 65.5 L650.9 66.7 L652.5 66.7" fill="none" stroke="#2a2a2a" stroke-width="0.65"/><text x="654.3" y="68.8" font-size="6.1" text-anchor="start" font-weight="normal" fill="#231f20" >S100A14</text><line x1="647.0" y1="78.5" x2="652.5" y2="78.5" stroke="#2a2a2a" stroke-width="0.8"/><text x="654.3" y="80.1" font-size="6.1" text-anchor="start" font-weight="normal" fill="#231f20" >KRT18</text><path d="M647.0 87 L648.6 87 L650.9 85.8 L652.5 85.8" fill="none" stroke="#2a2a2a" stroke-width="0.65"/><text x="654.3" y="87.89999999999999" font-size="6.1" text-anchor="start" font-weight="normal" fill="#231f20" >S100A4</text><path d="M647.0 94 L648.6 94 L650.9 91 L652.5 91" fill="none" stroke="#2a2a2a" stroke-width="0.65"/><text x="654.3" y="93.1" font-size="6.1" text-anchor="start" font-weight="normal" fill="#231f20" >KRT8</text><path d="M647.0 99.5 L648.6 99.5 L650.9 96.7 L652.5 96.7" fill="none" stroke="#2a2a2a" stroke-width="0.65"/><text x="654.3" y="98.8" font-size="6.1" text-anchor="start" font-weight="normal" fill="#231f20" >CEACAM6</text><path d="M647.0 99.5 L648.6 99.5 L650.9 102.4 L652.5 102.4" fill="none" stroke="#2a2a2a" stroke-width="0.65"/><text x="654.3" y="104.5" font-size="6.1" text-anchor="start" font-weight="normal" fill="#231f20" >KLK7</text><line x1="647.0" y1="115.5" x2="652.5" y2="115.5" stroke="#2a2a2a" stroke-width="0.8"/><text x="654.3" y="117.5" font-size="6.1" text-anchor="start" font-weight="normal" fill="#231f20" >KLK6</text><path d="M647.0 134.3 L648.6 134.3 L650.9 131.7 L652.5 131.7" fill="none" stroke="#2a2a2a" stroke-width="0.65"/><text x="654.3" y="133.79999999999998" font-size="6.1" text-anchor="start" font-weight="normal" fill="#231f20" >MMP7</text><path d="M647.0 134.3 L648.6 134.3 L650.9 136.9 L652.5 136.9" fill="none" stroke="#2a2a2a" stroke-width="0.65"/><text x="654.3" y="139.0" font-size="6.1" text-anchor="start" font-weight="normal" fill="#231f20" >ANXA1</text><line x1="647.0" y1="163.5" x2="652.5" y2="163.5" stroke="#2a2a2a" stroke-width="0.8"/><text x="654.3" y="165.6" font-size="6.1" text-anchor="start" font-weight="normal" fill="#231f20" >S100A13</text><line x1="647.0" y1="169.5" x2="652.5" y2="169.5" stroke="#2a2a2a" stroke-width="0.8"/><text x="654.3" y="171.4" font-size="6.1" text-anchor="start" font-weight="normal" fill="#231f20" >ANXA2</text><path d="M647.0 195.3 L648.6 195.3 L650.9 193.7 L652.5 193.7" fill="none" stroke="#2a2a2a" stroke-width="0.65"/><text x="654.3" y="195.79999999999998" font-size="6.1" text-anchor="start" font-weight="normal" fill="#231f20" >KLK10</text><path d="M647.0 195.3 L648.6 195.3 L650.9 198.7 L652.5 198.7" fill="none" stroke="#2a2a2a" stroke-width="0.65"/><text x="654.3" y="200.79999999999998" font-size="6.1" text-anchor="start" font-weight="normal" fill="#231f20" >KRT19</text><rect x="45.3" y="249.9" width="8.4" height="8.8" fill="#ffffff" stroke="#333" stroke-width="0.7"/><text x="56.099999999999994" y="256.9" font-size="7.4" text-anchor="start" font-weight="normal" fill="#231f20" >Early BME</text><rect x="120.6" y="249.9" width="8.4" height="8.8" fill="#bdbdbd" stroke="#333" stroke-width="0.7"/><text x="131.4" y="256.9" font-size="7.4" text-anchor="start" font-weight="normal" fill="#231f20" >Early pdECM</text><rect x="204.5" y="249.9" width="8.4" height="8.8" fill="#111111" stroke="#333" stroke-width="0.7"/><text x="215.3" y="256.9" font-size="7.4" text-anchor="start" font-weight="normal" fill="#231f20" >Late pdECM</text><rect x="395.3" y="249.9" width="8.4" height="8.8" fill="#ffffff" stroke="#333" stroke-width="0.7"/><text x="406.1" y="256.9" font-size="7.4" text-anchor="start" font-weight="normal" fill="#231f20" >Early BME</text><rect x="470.6" y="249.9" width="8.4" height="8.8" fill="#bdbdbd" stroke="#333" stroke-width="0.7"/><text x="481.40000000000003" y="256.9" font-size="7.4" text-anchor="start" font-weight="normal" fill="#231f20" >Early pdECM</text><rect x="554.5" y="249.9" width="8.4" height="8.8" fill="#111111" stroke="#333" stroke-width="0.7"/><text x="565.3" y="256.9" font-size="7.4" text-anchor="start" font-weight="normal" fill="#231f20" >Late pdECM</text><rect x="128.4" y="275.0" width="8.4" height="8.2" fill="#1f3050"/><text x="139.6" y="281.9" font-size="7.6" text-anchor="start" font-weight="normal" fill="#231f20" >RE of downregulated TNF-α signaling gene</text><rect x="128.4" y="285.8" width="8.4" height="8.2" fill="#f2ebe1"/><text x="139.6" y="292.7" font-size="7.6" text-anchor="start" font-weight="normal" fill="#231f20" >RE of non−DE TNF-α signaling gene</text><rect x="128.4" y="297.6" width="8.4" height="8.2" fill="#f27650"/><text x="139.6" y="304.5" font-size="7.6" text-anchor="start" font-weight="normal" fill="#231f20" >RE of upregulated TNF-α signaling gene</text><rect x="334.2" y="287.9" width="57.3" height="5.8" fill="url(#cbc)" stroke="#555" stroke-width="0.7"/><text x="362.4" y="284.3" font-size="7.5" text-anchor="middle" font-weight="normal" fill="#231f20" >Accessibility</text><text x="335.0" y="300.8" font-size="7.3" text-anchor="middle" font-weight="normal" fill="#231f20" >Min</text><text x="388.5" y="300.8" font-size="7.3" text-anchor="middle" font-weight="normal" fill="#231f20" >Max</text><rect x="520.3" y="279.6" width="8.6" height="8.6" fill="#e9747a"/><text x="530.5999999999999" y="286.5" font-size="7.4" text-anchor="start" font-weight="normal" fill="#231f20" >Cluster 1</text><rect x="571.6" y="279.6" width="8.6" height="8.6" fill="#f0aa84"/><text x="581.9" y="286.5" font-size="7.4" text-anchor="start" font-weight="normal" fill="#231f20" >Cluster 2</text><rect x="520.3" y="293.1" width="8.6" height="8.6" fill="#f6e8ab"/><text x="530.5999999999999" y="300.0" font-size="7.4" text-anchor="start" font-weight="normal" fill="#231f20" >Cluster 3</text><rect x="571.6" y="293.1" width="8.6" height="8.6" fill="#d2e6b8"/><text x="581.9" y="300.0" font-size="7.4" text-anchor="start" font-weight="normal" fill="#231f20" >Cluster 4</text><line x1="518.3" y1="313.5" x2="518.3" y2="362.6" stroke="#777" stroke-width="0.6"/><line x1="518.3" y1="362.6" x2="630.8" y2="362.6" stroke="#777" stroke-width="0.6"/><rect x="523.2" y="313.9" width="102.5" height="8.7" fill="#e97274"/><line x1="516.9" y1="318.2" x2="518.3" y2="318.2" stroke="#777" stroke-width="0.5"/><text x="523.6" y="320.70000000000005" font-size="6.3" text-anchor="start" font-weight="bold" fill="#2a2020" >CTCF</text><rect x="523.2" y="324" width="55.8" height="8.4" fill="#e97274"/><line x1="516.9" y1="328.2" x2="518.3" y2="328.2" stroke="#777" stroke-width="0.5"/><text x="523.6" y="330.5" font-size="6.3" text-anchor="start" font-weight="bold" fill="#2a2020" >BORIS</text><rect x="523.2" y="333.7" width="46.6" height="8.3" fill="#e97274"/><line x1="516.9" y1="337.9" x2="518.3" y2="337.9" stroke="#777" stroke-width="0.5"/><text x="523.6" y="340.1" font-size="6.3" text-anchor="start" font-weight="bold" fill="#2a2020" >Fosl2</text><rect x="523.2" y="343" width="43.7" height="8.7" fill="#e97274"/><line x1="516.9" y1="347.4" x2="518.3" y2="347.4" stroke="#777" stroke-width="0.5"/><text x="523.6" y="349.8" font-size="6.3" text-anchor="start" font-weight="bold" fill="#2a2020" >NFkB−p65−Rel</text><rect x="523.2" y="353" width="43.7" height="8.3" fill="#e97274"/><line x1="516.9" y1="357.1" x2="518.3" y2="357.1" stroke="#777" stroke-width="0.5"/><text x="523.6" y="359.40000000000003" font-size="6.3" text-anchor="start" font-weight="bold" fill="#2a2020" >Fra1</text><line x1="526.0" y1="362.6" x2="526.0" y2="364.0" stroke="#777" stroke-width="0.5"/><text x="526.0" y="371.40000000000003" font-size="6.6" text-anchor="middle" font-weight="normal" fill="#333" >0</text><line x1="556.1" y1="362.6" x2="556.1" y2="364.0" stroke="#777" stroke-width="0.5"/><text x="556.13" y="371.40000000000003" font-size="6.6" text-anchor="middle" font-weight="normal" fill="#333" >10</text><line x1="586.3" y1="362.6" x2="586.3" y2="364.0" stroke="#777" stroke-width="0.5"/><text x="586.26" y="371.40000000000003" font-size="6.6" text-anchor="middle" font-weight="normal" fill="#333" >20</text><line x1="616.4" y1="362.6" x2="616.4" y2="364.0" stroke="#777" stroke-width="0.5"/><text x="616.39" y="371.40000000000003" font-size="6.6" text-anchor="middle" font-weight="normal" fill="#333" >30</text><line x1="518.3" y1="382.7" x2="518.3" y2="428.6" stroke="#777" stroke-width="0.6"/><line x1="518.3" y1="428.6" x2="630.8" y2="428.6" stroke="#777" stroke-width="0.6"/><rect x="523.2" y="384" width="102.6" height="7.6" fill="#f0ab85"/><line x1="516.9" y1="387.8" x2="518.3" y2="387.8" stroke="#777" stroke-width="0.5"/><text x="523.6" y="389.70000000000005" font-size="6.3" text-anchor="start" font-weight="bold" fill="#2a2020" >Fos</text><rect x="523.2" y="393" width="100.8" height="7.5" fill="#f0ab85"/><line x1="516.9" y1="396.8" x2="518.3" y2="396.8" stroke="#777" stroke-width="0.5"/><text x="523.6" y="398.6" font-size="6.3" text-anchor="start" font-weight="bold" fill="#2a2020" >Fra2</text><rect x="523.2" y="401.6" width="99.7" height="7.6" fill="#f0ab85"/><line x1="516.9" y1="405.4" x2="518.3" y2="405.4" stroke="#777" stroke-width="0.5"/><text x="523.6" y="407.3" font-size="6.3" text-anchor="start" font-weight="bold" fill="#2a2020" >Fra1</text><rect x="523.2" y="410.5" width="94.8" height="7.5" fill="#f0ab85"/><line x1="516.9" y1="414.2" x2="518.3" y2="414.2" stroke="#777" stroke-width="0.5"/><text x="523.6" y="416.1" font-size="6.3" text-anchor="start" font-weight="bold" fill="#2a2020" >Fosl2</text><rect x="523.2" y="419" width="94.0" height="7.7" fill="#f0ab85"/><line x1="516.9" y1="422.9" x2="518.3" y2="422.9" stroke="#777" stroke-width="0.5"/><text x="523.6" y="424.8" font-size="6.3" text-anchor="start" font-weight="bold" fill="#2a2020" >Jun−AP1</text><line x1="526.0" y1="428.6" x2="526.0" y2="430.0" stroke="#777" stroke-width="0.5"/><text x="526.0" y="437.40000000000003" font-size="6.6" text-anchor="middle" font-weight="normal" fill="#333" >0</text><line x1="552.8" y1="428.6" x2="552.8" y2="430.0" stroke="#777" stroke-width="0.5"/><text x="552.841" y="437.40000000000003" font-size="6.6" text-anchor="middle" font-weight="normal" fill="#333" >30</text><line x1="579.7" y1="428.6" x2="579.7" y2="430.0" stroke="#777" stroke-width="0.5"/><text x="579.682" y="437.40000000000003" font-size="6.6" text-anchor="middle" font-weight="normal" fill="#333" >60</text><line x1="606.5" y1="428.6" x2="606.5" y2="430.0" stroke="#777" stroke-width="0.5"/><text x="606.523" y="437.40000000000003" font-size="6.6" text-anchor="middle" font-weight="normal" fill="#333" >90</text><line x1="518.3" y1="446.8" x2="518.3" y2="495.9" stroke="#777" stroke-width="0.6"/><line x1="518.3" y1="495.9" x2="630.8" y2="495.9" stroke="#777" stroke-width="0.6"/><rect x="523.2" y="449" width="102.6" height="8.0" fill="#f7e8aa"/><line x1="516.9" y1="453.0" x2="518.3" y2="453.0" stroke="#777" stroke-width="0.5"/><text x="523.6" y="455.1" font-size="6.3" text-anchor="start" font-weight="bold" fill="#2a2020" >Fosl2</text><rect x="523.2" y="458" width="102.6" height="8.2" fill="#f7e8aa"/><line x1="516.9" y1="462.1" x2="518.3" y2="462.1" stroke="#777" stroke-width="0.5"/><text x="523.6" y="464.3" font-size="6.3" text-anchor="start" font-weight="bold" fill="#2a2020" >Jun−AP1</text><rect x="523.2" y="467.8" width="85.4" height="8.2" fill="#f7e8aa"/><line x1="516.9" y1="471.9" x2="518.3" y2="471.9" stroke="#777" stroke-width="0.5"/><text x="523.6" y="474.1" font-size="6.3" text-anchor="start" font-weight="bold" fill="#2a2020" >HNF1b</text><rect x="523.2" y="477" width="85.4" height="8.1" fill="#f7e8aa"/><line x1="516.9" y1="481.1" x2="518.3" y2="481.1" stroke="#777" stroke-width="0.5"/><text x="523.6" y="483.20000000000005" font-size="6.3" text-anchor="start" font-weight="bold" fill="#2a2020" >AP−1</text><rect x="523.2" y="486.4" width="85.4" height="8.1" fill="#f7e8aa"/><line x1="516.9" y1="490.4" x2="518.3" y2="490.4" stroke="#777" stroke-width="0.5"/><text x="523.6" y="492.6" font-size="6.3" text-anchor="start" font-weight="bold" fill="#2a2020" >Fra2</text><line x1="526.0" y1="495.9" x2="526.0" y2="497.29999999999995" stroke="#777" stroke-width="0.5"/><text x="526.0" y="504.7" font-size="6.6" text-anchor="middle" font-weight="normal" fill="#333" >0</text><line x1="559.1" y1="495.9" x2="559.1" y2="497.29999999999995" stroke="#777" stroke-width="0.5"/><text x="559.1" y="504.7" font-size="6.6" text-anchor="middle" font-weight="normal" fill="#333" >2</text><line x1="592.2" y1="495.9" x2="592.2" y2="497.29999999999995" stroke="#777" stroke-width="0.5"/><text x="592.2" y="504.7" font-size="6.6" text-anchor="middle" font-weight="normal" fill="#333" >4</text><line x1="625.3" y1="495.9" x2="625.3" y2="497.29999999999995" stroke="#777" stroke-width="0.5"/><text x="625.3" y="504.7" font-size="6.6" text-anchor="middle" font-weight="normal" fill="#333" >6</text><line x1="518.3" y1="518.3" x2="518.3" y2="563.4" stroke="#777" stroke-width="0.6"/><line x1="518.3" y1="563.4" x2="630.8" y2="563.4" stroke="#777" stroke-width="0.6"/><rect x="523.2" y="519" width="102.6" height="8.2" fill="#d3e7b8"/><line x1="516.9" y1="523.1" x2="518.3" y2="523.1" stroke="#777" stroke-width="0.5"/><text x="523.6" y="525.3000000000001" font-size="6.3" text-anchor="start" font-weight="bold" fill="#2a2020" >CTCF</text><rect x="523.2" y="528.6" width="102.6" height="7.3" fill="#d3e7b8"/><line x1="516.9" y1="532.2" x2="518.3" y2="532.2" stroke="#777" stroke-width="0.5"/><text x="523.6" y="534.0" font-size="6.3" text-anchor="start" font-weight="bold" fill="#2a2020" >Jun−AP1</text><rect x="523.2" y="537.8" width="94.8" height="8.1" fill="#d3e7b8"/><line x1="516.9" y1="541.8" x2="518.3" y2="541.8" stroke="#777" stroke-width="0.5"/><text x="523.6" y="544.0" font-size="6.3" text-anchor="start" font-weight="bold" fill="#2a2020" >Fosl2</text><rect x="523.2" y="546.7" width="94.8" height="7.3" fill="#d3e7b8"/><line x1="516.9" y1="550.4" x2="518.3" y2="550.4" stroke="#777" stroke-width="0.5"/><text x="523.6" y="552.1" font-size="6.3" text-anchor="start" font-weight="bold" fill="#2a2020" >Fra1</text><rect x="523.2" y="555.3" width="87.5" height="7.6" fill="#d3e7b8"/><line x1="516.9" y1="559.1" x2="518.3" y2="559.1" stroke="#777" stroke-width="0.5"/><text x="523.6" y="561.0" font-size="6.3" text-anchor="start" font-weight="bold" fill="#2a2020" >JunB</text><line x1="526.0" y1="563.4" x2="526.0" y2="564.8" stroke="#777" stroke-width="0.5"/><text x="526.0" y="572.1999999999999" font-size="6.6" text-anchor="middle" font-weight="normal" fill="#333" >0</text><line x1="561.2" y1="563.4" x2="561.2" y2="564.8" stroke="#777" stroke-width="0.5"/><text x="561.25" y="572.1999999999999" font-size="6.6" text-anchor="middle" font-weight="normal" fill="#333" >5</text><line x1="596.5" y1="563.4" x2="596.5" y2="564.8" stroke="#777" stroke-width="0.5"/><text x="596.5" y="572.1999999999999" font-size="6.6" text-anchor="middle" font-weight="normal" fill="#333" >10</text><text x="575.3" y="581.6" font-size="7.4" text-anchor="middle" fill="#231f20">−log<tspan font-size="4.6" dy="1.6">10</tspan><tspan dy="-1.6">(</tspan><tspan font-style="italic">p</tspan>−value)</text><line x1="501.6" y1="339.7" x2="501.6" y2="367.7" stroke="#231f20" stroke-width="0.7"/><line x1="499.3" y1="353.3" x2="501.6" y2="353.3" stroke="#231f20" stroke-width="0.7"/><text x="504.3" y="353.2" font-size="6.3" text-anchor="middle" font-weight="normal" fill="#231f20" transform="rotate(90 504.3 353.2)">RE cluster 1</text><line x1="501.6" y1="424.7" x2="501.6" y2="454.1" stroke="#231f20" stroke-width="0.7"/><line x1="499.3" y1="439.8" x2="501.6" y2="439.8" stroke="#231f20" stroke-width="0.7"/><text x="504.3" y="439.6" font-size="6.3" text-anchor="middle" font-weight="normal" fill="#231f20" transform="rotate(90 504.3 439.6)">RE cluster 2</text><line x1="501.6" y1="496" x2="501.6" y2="518.5" stroke="#231f20" stroke-width="0.7"/><line x1="499.3" y1="510.7" x2="501.6" y2="510.7" stroke="#231f20" stroke-width="0.7"/><text x="504.3" y="501.0" font-size="6.3" text-anchor="middle" font-weight="normal" fill="#231f20" transform="rotate(90 504.3 501.0)">RE cluster 3</text><line x1="501.6" y1="524.9" x2="501.6" y2="559.8" stroke="#231f20" stroke-width="0.7"/><line x1="499.3" y1="546" x2="501.6" y2="546" stroke="#231f20" stroke-width="0.7"/><text x="504.3" y="544.6" font-size="6.3" text-anchor="middle" font-weight="normal" fill="#231f20" transform="rotate(90 504.3 544.6)">RE cluster 4</text><line x1="74" y1="573.5" x2="240.7" y2="573.5" stroke="#231f20" stroke-width="0.8"/><text x="293.8" y="575.8" font-size="7.9" text-anchor="middle" font-weight="normal" fill="#231f20" >Pseudo-ordered cells</text><line x1="346" y1="573.5" x2="494" y2="573.5" stroke="#231f20" stroke-width="0.8"/><path d="M497.8 573.5 L491.5 571 L492.8 573.5 L491.5 576 Z" fill="#231f20"/><path d="M32 332.2V482.7M32 332.2H56.4M56.4 316.3V348.2M56.4 316.3H61M56.4 348.2H57.8M57.8 336V361.5M57.8 336H61.5M57.8 361.5H60.5M60.5 350V376M60.5 350H62.5M60.5 376H62M61 312V322M61.5 328V344M62 366V390M32 482.7H50.4M50.4 443.7V521.8M50.4 443.7H56.6M56.6 422V464M56.6 422H61M56.6 464H59M61 404V440M61 404H62.5M61 440H62.5M59 452V486M59 452H62M59 486H61M61 476V498M50.4 521.8H51.8M51.8 509.4V538M51.8 509.4H60M60 504V516M51.8 538H59M59 524V554M59 524H62M59 554H61M61 545V561" fill="none" stroke="#555" stroke-width="0.7"/><path d="M63.7 311.5H65.6M63.6 312.3H65.6M64.0 313.1H65.6M64.3 313.9H65.6M61.9 314.7H65.6M64.3 315.5H65.6M63.6 316.3H65.6M63.7 317.1H65.6M63.8 317.9H65.6M64.1 318.7H65.6M63.7 319.5H65.6M63.7 320.3H65.6M63.2 321.1H65.6M61.8 321.9H65.6M63.6 322.7H65.6M62.7 323.5H65.6M63.4 324.3H65.6M64.2 325.1H65.6M63.7 325.9H65.6M64.4 326.7H65.6M63.4 327.5H65.6M64.6 328.3H65.6M64.4 329.1H65.6M64.3 329.9H65.6M62.0 330.7H65.6M63.7 331.5H65.6M64.2 332.3H65.6M64.1 333.1H65.6M64.4 333.9H65.6M64.5 334.7H65.6M63.5 335.5H65.6M63.4 336.3H65.6M62.1 337.1H65.6M63.8 337.9H65.6M64.4 338.7H65.6M64.2 339.5H65.6M64.1 340.3H65.6M63.1 341.1H65.6M62.4 341.9H65.6M64.0 342.7H65.6M63.1 343.5H65.6M63.5 344.3H65.6M64.4 345.1H65.6M63.9 345.9H65.6M63.4 346.7H65.6M63.9 347.5H65.6M62.1 348.3H65.6M63.9 349.1H65.6M63.8 349.9H65.6M64.5 350.7H65.6M63.9 351.5H65.6M62.6 352.3H65.6M64.2 353.1H65.6M64.6 353.9H65.6M64.3 354.7H65.6M64.2 355.5H65.6M64.6 356.3H65.6M63.5 357.1H65.6M63.7 357.9H65.6M62.5 358.7H65.6M64.4 359.5H65.6M63.5 360.3H65.6M63.5 361.1H65.6M63.0 361.9H65.6M64.4 362.7H65.6M63.2 363.5H65.6M64.1 364.3H65.6M64.4 365.1H65.6M62.7 365.9H65.6M64.0 366.7H65.6M62.6 367.5H65.6M63.8 368.3H65.6M64.0 369.1H65.6M64.2 369.9H65.6M64.6 370.7H65.6M64.0 371.5H65.6M64.1 372.3H65.6M64.3 373.1H65.6M63.7 373.9H65.6M63.9 374.7H65.6M63.8 375.5H65.6M64.1 376.3H65.6M63.6 377.1H65.6M63.6 377.9H65.6M64.2 378.7H65.6M64.6 379.5H65.6M64.1 380.3H65.6M64.3 381.1H65.6M64.1 381.9H65.6M63.8 382.7H65.6M64.1 383.5H65.6M62.3 384.3H65.6M61.9 385.1H65.6M63.7 385.9H65.6M64.1 386.7H65.6M63.1 387.5H65.6M64.3 388.3H65.6M64.2 389.1H65.6M63.6 389.9H65.6M64.6 390.7H65.6M63.2 391.5H65.6M64.5 392.3H65.6M63.0 393.1H65.6M62.4 393.9H65.6M63.4 394.7H65.6M63.6 395.5H65.6M64.1 396.3H65.6M64.1 397.9H65.6M63.9 398.7H65.6M63.8 399.5H65.6M63.8 400.3H65.6M63.5 401.1H65.6M62.1 401.9H65.6M64.4 402.7H65.6M63.7 403.5H65.6M64.1 404.3H65.6M64.5 405.1H65.6M62.6 405.9H65.6M64.2 406.7H65.6M63.6 407.5H65.6M64.5 408.3H65.6M63.8 409.1H65.6M64.1 409.9H65.6M64.1 410.7H65.6M64.2 411.5H65.6M63.8 412.3H65.6M62.0 413.1H65.6M63.7 413.9H65.6M63.8 414.7H65.6M62.5 415.5H65.6M64.4 416.3H65.6M62.2 417.1H65.6M63.1 417.9H65.6M64.3 418.7H65.6M63.6 419.5H65.6M64.5 420.3H65.6M64.5 421.1H65.6M63.4 421.9H65.6M64.1 422.7H65.6M63.9 423.5H65.6M62.9 424.3H65.6M63.1 425.1H65.6M61.9 425.9H65.6M62.2 426.7H65.6M63.7 427.5H65.6M64.0 428.3H65.6M64.5 429.1H65.6M63.1 429.9H65.6M63.9 430.7H65.6M64.3 431.5H65.6M64.3 432.3H65.6M64.0 433.1H65.6M63.5 433.9H65.6M64.5 434.7H65.6M64.3 435.5H65.6M63.6 436.3H65.6M64.2 437.1H65.6M63.9 437.9H65.6M64.4 438.7H65.6M63.7 439.5H65.6M64.2 440.3H65.6M64.4 441.1H65.6M64.3 441.9H65.6M64.0 442.7H65.6M64.0 443.5H65.6M63.8 444.3H65.6M63.5 445.1H65.6M63.9 445.9H65.6M63.6 446.7H65.6M63.8 447.5H65.6M64.4 448.3H65.6M64.5 449.1H65.6M64.5 449.9H65.6M62.9 450.7H65.6M64.1 451.5H65.6M64.3 452.3H65.6M64.4 453.1H65.6M63.9 453.9H65.6M63.5 454.7H65.6M64.1 455.5H65.6M64.2 456.3H65.6M64.4 457.1H65.6M63.6 457.9H65.6M63.9 458.7H65.6M64.0 459.5H65.6M62.2 460.3H65.6M62.3 461.1H65.6M64.5 461.9H65.6M63.5 462.7H65.6M64.0 463.5H65.6M64.2 464.3H65.6M63.7 465.1H65.6M63.9 465.9H65.6M62.8 466.7H65.6M63.9 467.5H65.6M63.8 468.3H65.6M63.4 469.1H65.6M63.6 469.9H65.6M63.7 470.7H65.6M63.5 471.5H65.6M62.7 472.3H65.6M62.7 473.1H65.6M63.8 473.9H65.6M64.6 474.7H65.6M63.9 475.5H65.6M63.4 476.3H65.6M63.7 477.1H65.6M64.2 477.9H65.6M63.0 478.7H65.6M63.5 479.5H65.6M63.4 480.3H65.6M63.6 481.1H65.6M64.3 481.9H65.6M64.1 482.7H65.6M63.5 483.5H65.6M62.2 484.3H65.6M63.0 485.1H65.6M63.9 485.9H65.6M64.0 486.7H65.6M64.2 487.5H65.6M63.5 488.3H65.6M63.0 489.1H65.6M64.0 489.9H65.6M64.3 490.7H65.6M64.3 491.5H65.6M64.5 492.3H65.6M64.5 493.1H65.6M63.7 493.9H65.6M64.1 494.7H65.6M64.5 495.5H65.6M64.4 496.3H65.6M63.5 497.1H65.6M64.2 497.9H65.6M62.8 498.7H65.6M64.6 499.5H65.6M62.9 500.3H65.6M64.5 501.1H65.6M64.4 503.5H65.6M62.9 504.3H65.6M63.7 505.1H65.6M63.6 505.9H65.6M63.6 506.7H65.6M63.8 507.5H65.6M63.7 508.3H65.6M64.1 509.1H65.6M63.6 509.9H65.6M62.4 510.7H65.6M64.1 511.5H65.6M62.4 512.3H65.6M64.3 513.1H65.6M64.5 513.9H65.6M64.5 514.7H65.6M64.1 515.5H65.6M62.3 516.3H65.6M62.6 517.1H65.6M64.2 517.9H65.6M64.2 520.3H65.6M62.1 521.1H65.6M64.0 521.9H65.6M64.0 522.7H65.6M64.5 523.5H65.6M62.8 524.3H65.6M63.4 525.1H65.6M63.2 525.9H65.6M63.6 526.7H65.6M64.3 527.5H65.6M64.2 528.3H65.6M64.2 529.1H65.6M64.3 529.9H65.6M62.4 530.7H65.6M63.4 531.5H65.6M61.9 532.3H65.6M64.2 533.1H65.6M64.2 533.9H65.6M64.5 534.7H65.6M64.0 535.5H65.6M64.5 536.3H65.6M64.2 537.1H65.6M64.2 537.9H65.6M64.3 538.7H65.6M63.9 539.5H65.6M62.0 540.3H65.6M64.5 541.1H65.6M64.5 541.9H65.6M62.6 542.7H65.6M64.6 543.5H65.6M63.5 544.3H65.6M63.6 545.1H65.6M64.2 545.9H65.6M64.0 546.7H65.6M63.9 547.5H65.6M63.3 548.3H65.6M63.2 549.1H65.6M62.2 549.9H65.6M64.4 550.7H65.6M64.2 551.5H65.6M64.0 552.3H65.6M63.7 553.1H65.6M64.4 553.9H65.6M63.7 554.7H65.6M64.4 555.5H65.6M63.8 556.3H65.6M63.6 557.1H65.6M63.8 557.9H65.6M63.8 558.7H65.6M63.6 559.5H65.6M62.0 560.3H65.6M63.7 561.1H65.6M64.5 561.9H65.6M63.7 562.7H65.6M63.5 322.1V326.0M61.4 472.1V475.3M63.2 442.5V445.7M62.0 535.9V538.0M63.9 421.0V424.3M62.4 497.3V500.2M62.6 498.1V500.4M61.9 316.1V318.9M61.3 553.1V554.3M62.1 440.8V445.5M61.2 344.8V345.9M63.8 465.4V467.6M61.4 366.9V369.9M63.1 392.2V396.7M62.3 427.4V432.0M63.1 329.6V332.2M62.9 511.4V513.6M62.1 533.6V537.0M63.9 544.4V547.5M62.2 513.1V516.6M63.3 474.8V476.0M62.6 442.8V444.9M62.6 382.8V385.4M61.5 434.5V435.5M62.2 525.0V526.5M62.5 485.4V487.7M63.0 321.0V323.5M61.8 421.9V424.2M62.1 408.3V409.3M61.4 313.6V315.0M61.9 543.6V546.5M63.3 465.4V467.2M64.1 440.2V442.6M62.1 482.8V487.3M63.2 407.5V410.9M63.9 379.5V380.6M63.4 396.3V397.1M61.6 394.2V397.9M63.2 375.8V380.3M63.4 412.9V417.1M64.0 356.3V358.2M62.9 545.7V549.3M64.2 539.2V542.6M64.0 487.8V489.5M61.9 445.3V447.4M61.3 379.3V382.2M61.5 402.6V404.4M64.0 437.2V439.4M61.4 443.2V444.6M62.5 453.7V457.6M63.3 445.2V449.2M61.7 463.3V467.7M63.8 354.7V359.3M62.6 555.7V558.6M62.5 549.9V553.2M61.4 420.1V422.8M63.4 350.7V354.0M61.7 532.5V535.6M62.9 483.6V485.1M64.0 361.9V363.8M61.7 450.1V453.9M64.3 423.0V425.3M63.4 496.8V500.9M63.5 328.3V332.2M62.1 486.2V488.7M61.5 435.1V437.5M61.7 504.6V508.1M62.9 464.8V469.4M63.3 322.7V327.4M62.6 431.6V436.2M63.7 365.0V365.8M61.5 348.6V352.6M63.5 469.8V470.7M63.1 315.0V319.4M63.1 509.7V514.2M63.4 449.2V453.7M64.4 509.6V512.4M61.3 452.1V453.5M63.1 521.9V523.1M62.4 436.3V440.3M61.6 352.9V354.4M62.5 441.3V442.4M63.5 369.2V370.5M62.5 511.1V514.9M63.3 430.0V433.6M62.0 445.1V446.8M62.4 449.1V453.0M62.3 452.2V457.0M62.4 509.9V513.0M63.1 439.0V440.1M63.3 519.6V520.7M63.2 324.2V325.5M62.3 445.2V446.7M63.4 339.9V343.5M64.1 552.0V555.6M62.9 512.2V515.3M63.1 336.2V337.7M63.8 406.3V407.6M61.5 404.3V405.4M63.0 326.3V327.9M61.6 437.3V438.9M62.8 429.8V433.1M63.9 438.5V443.0M63.0 498.4V500.8M61.4 493.2V495.7M62.2 477.9V482.2M63.3 509.1V512.8M62.8 319.6V320.5M64.3 445.1V446.4M62.5 370.9V374.7M64.3 424.4V428.5M63.3 322.1V325.8M62.8 446.1V448.4M61.6 379.6V384.1M62.7 349.7V353.4M63.5 470.2V473.5M62.3 347.1V350.8M63.8 484.5V486.7M62.1 523.1V526.4M61.8 413.5V415.7M62.6 328.1V331.4M63.1 328.3V331.6M62.7 442.5V443.8M62.0 437.9V439.1M64.1 560.8V565.5M61.5 434.1V437.8M62.2 418.2V421.8M62.1 522.2V526.2M61.9 322.5V325.8M64.0 499.0V502.1M63.9 330.2V332.8M61.4 517.2V521.4M62.9 431.2V434.4M63.6 314.4V318.2M61.7 435.0V436.4M63.4 314.0V317.0M62.5 479.3V482.2M63.1 487.6V490.6M61.3 335.2V339.9M62.5 476.2V479.9M63.6 489.3V493.9M63.1 510.2V511.9M63.9 365.6V369.0M64.1 407.8V409.5M64.4 378.6V380.6M61.6 548.2V552.4M62.6 507.3V509.8M61.8 381.8V383.7M62.5 393.5V394.6M61.8 438.5V443.3M62.2 484.6V486.4M63.9 544.6V547.6M63.9 553.0V556.0M61.6 543.1V545.6M64.0 432.0V434.0M62.7 548.0V549.0M61.5 365.3V368.0M62.5 392.5V393.8M64.1 325.2V328.7M61.5 532.8V535.6" fill="none" stroke="#111" stroke-width="0.6"/></svg></body></html>
